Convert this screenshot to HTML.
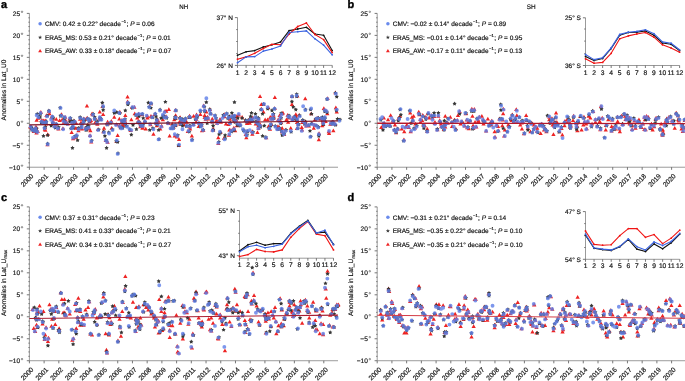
<!DOCTYPE html><html><head><meta charset="utf-8"><style>html,body{margin:0;padding:0;background:#fff;}svg{display:block;will-change:transform;}text{font-family:"Liberation Sans", sans-serif;text-rendering:geometricPrecision;stroke:#111;stroke-width:0.18px;}</style></head><body>
<svg width="685" height="381" viewBox="0 0 685 381">
<rect width="685" height="381" fill="#fff"/>
<text x="0.9" y="7.6" font-size="11" font-weight="bold" fill="#000" style="stroke:#000;stroke-width:0.35px">a</text>
<text x="179.3" y="9.0" font-size="6.6" fill="#111" textLength="8.9" lengthAdjust="spacingAndGlyphs">NH</text>
<text transform="translate(5.6,90.1) rotate(-90)" text-anchor="middle" font-size="6.6" fill="#1a1a1a">Anomalies in Lat_U0</text>
<path d="M29.4,13.4 V167.22 H338.0" fill="none" stroke="#8f8f8f" stroke-width="0.9"/>
<path d="M26.80,167.22H29.4 M28.40,162.83H29.599999999999998 M28.40,158.44H29.599999999999998 M28.40,154.04H29.599999999999998 M28.40,149.64H29.599999999999998 M26.80,145.25H29.4 M28.40,140.85H29.599999999999998 M28.40,136.46H29.599999999999998 M28.40,132.06H29.599999999999998 M28.40,127.67H29.599999999999998 M26.80,123.27H29.4 M28.40,118.88H29.599999999999998 M28.40,114.48H29.599999999999998 M28.40,110.09H29.599999999999998 M28.40,105.69H29.599999999999998 M26.80,101.30H29.4 M28.40,96.91H29.599999999999998 M28.40,92.51H29.599999999999998 M28.40,88.11H29.599999999999998 M28.40,83.72H29.599999999999998 M26.80,79.32H29.4 M28.40,74.93H29.599999999999998 M28.40,70.53H29.599999999999998 M28.40,66.14H29.599999999999998 M28.40,61.74H29.599999999999998 M26.80,57.35H29.4 M28.40,52.95H29.599999999999998 M28.40,48.56H29.599999999999998 M28.40,44.17H29.599999999999998 M28.40,39.77H29.599999999999998 M26.80,35.38H29.4 M28.40,30.98H29.599999999999998 M28.40,26.58H29.599999999999998 M28.40,22.19H29.599999999999998 M28.40,17.80H29.599999999999998 M26.80,13.40H29.4 M29.40,167.22V169.82 M44.12,167.22V169.82 M58.84,167.22V169.82 M73.56,167.22V169.82 M88.28,167.22V169.82 M103.00,167.22V169.82 M117.72,167.22V169.82 M132.44,167.22V169.82 M147.16,167.22V169.82 M161.88,167.22V169.82 M176.60,167.22V169.82 M191.32,167.22V169.82 M206.04,167.22V169.82 M220.76,167.22V169.82 M235.48,167.22V169.82 M250.20,167.22V169.82 M264.92,167.22V169.82 M279.64,167.22V169.82 M294.36,167.22V169.82 M309.08,167.22V169.82 M323.80,167.22V169.82" fill="none" stroke="#555" stroke-width="0.8"/>
<text x="20.10" y="169.53" text-anchor="end" font-size="6.6" fill="#1a1a1a">−10</text>
<circle cx="22.00" cy="165.62" r="0.75" fill="none" stroke="#444" stroke-width="0.6"/>
<text x="20.10" y="147.55" text-anchor="end" font-size="6.6" fill="#1a1a1a">−5</text>
<circle cx="22.00" cy="143.65" r="0.75" fill="none" stroke="#444" stroke-width="0.6"/>
<text x="20.10" y="125.57" text-anchor="end" font-size="6.6" fill="#1a1a1a">0</text>
<circle cx="22.00" cy="121.67" r="0.75" fill="none" stroke="#444" stroke-width="0.6"/>
<text x="20.10" y="103.60" text-anchor="end" font-size="6.6" fill="#1a1a1a">5</text>
<circle cx="22.00" cy="99.70" r="0.75" fill="none" stroke="#444" stroke-width="0.6"/>
<text x="20.10" y="81.62" text-anchor="end" font-size="6.6" fill="#1a1a1a">10</text>
<circle cx="22.00" cy="77.72" r="0.75" fill="none" stroke="#444" stroke-width="0.6"/>
<text x="20.10" y="59.65" text-anchor="end" font-size="6.6" fill="#1a1a1a">15</text>
<circle cx="22.00" cy="55.75" r="0.75" fill="none" stroke="#444" stroke-width="0.6"/>
<text x="20.10" y="37.67" text-anchor="end" font-size="6.6" fill="#1a1a1a">20</text>
<circle cx="22.00" cy="33.77" r="0.75" fill="none" stroke="#444" stroke-width="0.6"/>
<text x="20.10" y="15.70" text-anchor="end" font-size="6.6" fill="#1a1a1a">25</text>
<circle cx="22.00" cy="11.80" r="0.75" fill="none" stroke="#444" stroke-width="0.6"/>
<text transform="translate(34.00,176.62) rotate(-45)" text-anchor="end" font-size="6.7" fill="#1a1a1a">2000</text>
<text transform="translate(48.72,176.62) rotate(-45)" text-anchor="end" font-size="6.7" fill="#1a1a1a">2001</text>
<text transform="translate(63.44,176.62) rotate(-45)" text-anchor="end" font-size="6.7" fill="#1a1a1a">2002</text>
<text transform="translate(78.16,176.62) rotate(-45)" text-anchor="end" font-size="6.7" fill="#1a1a1a">2003</text>
<text transform="translate(92.88,176.62) rotate(-45)" text-anchor="end" font-size="6.7" fill="#1a1a1a">2004</text>
<text transform="translate(107.60,176.62) rotate(-45)" text-anchor="end" font-size="6.7" fill="#1a1a1a">2005</text>
<text transform="translate(122.32,176.62) rotate(-45)" text-anchor="end" font-size="6.7" fill="#1a1a1a">2006</text>
<text transform="translate(137.04,176.62) rotate(-45)" text-anchor="end" font-size="6.7" fill="#1a1a1a">2007</text>
<text transform="translate(151.76,176.62) rotate(-45)" text-anchor="end" font-size="6.7" fill="#1a1a1a">2008</text>
<text transform="translate(166.48,176.62) rotate(-45)" text-anchor="end" font-size="6.7" fill="#1a1a1a">2009</text>
<text transform="translate(181.20,176.62) rotate(-45)" text-anchor="end" font-size="6.7" fill="#1a1a1a">2010</text>
<text transform="translate(195.92,176.62) rotate(-45)" text-anchor="end" font-size="6.7" fill="#1a1a1a">2011</text>
<text transform="translate(210.64,176.62) rotate(-45)" text-anchor="end" font-size="6.7" fill="#1a1a1a">2012</text>
<text transform="translate(225.36,176.62) rotate(-45)" text-anchor="end" font-size="6.7" fill="#1a1a1a">2013</text>
<text transform="translate(240.08,176.62) rotate(-45)" text-anchor="end" font-size="6.7" fill="#1a1a1a">2014</text>
<text transform="translate(254.80,176.62) rotate(-45)" text-anchor="end" font-size="6.7" fill="#1a1a1a">2015</text>
<text transform="translate(269.52,176.62) rotate(-45)" text-anchor="end" font-size="6.7" fill="#1a1a1a">2016</text>
<text transform="translate(284.24,176.62) rotate(-45)" text-anchor="end" font-size="6.7" fill="#1a1a1a">2017</text>
<text transform="translate(298.96,176.62) rotate(-45)" text-anchor="end" font-size="6.7" fill="#1a1a1a">2018</text>
<text transform="translate(313.68,176.62) rotate(-45)" text-anchor="end" font-size="6.7" fill="#1a1a1a">2019</text>
<text transform="translate(328.40,176.62) rotate(-45)" text-anchor="end" font-size="6.7" fill="#1a1a1a">2020</text>
<circle cx="40.10" cy="23.80" r="1.75" fill="rgb(105,138,236)"/>
<text x="44.90" y="26.00" font-size="6.5" fill="#111">CMV: 0.42 ± 0.22° decade<tspan font-size="4.2" dx="0.5" dy="-3.0">−1</tspan><tspan dx="0.3" dy="3.0">; </tspan><tspan font-style="italic">P</tspan> = 0.06</text>
<polygon points="40.1,35.3 40.6,36.7 42.1,36.8 41.0,37.7 41.3,39.1 40.1,38.3 38.9,39.1 39.2,37.7 38.1,36.8 39.6,36.7" fill="rgb(55,55,55)"/>
<text x="44.90" y="39.60" font-size="6.5" fill="#111">ERA5_MS: 0.53 ± 0.21° decade<tspan font-size="4.2" dx="0.5" dy="-3.0">−1</tspan><tspan dx="0.3" dy="3.0">; </tspan><tspan font-style="italic">P</tspan> = 0.01</text>
<polygon points="40.10,48.91 38.15,52.28 42.05,52.28" fill="rgb(238,36,36)"/>
<text x="44.90" y="53.20" font-size="6.5" fill="#111">ERA5_AW: 0.33 ± 0.18° decade<tspan font-size="4.2" dx="0.5" dy="-3.0">−1</tspan><tspan dx="0.3" dy="3.0">; </tspan><tspan font-style="italic">P</tspan> = 0.07</text>
<path d="M34.5,121.8l2.15,-3.74l2.15,3.74zM39.6,122.1l2.15,-3.74l2.15,3.74zM43.0,129.3l2.15,-3.74l2.15,3.74zM45.6,136.1l2.15,-3.74l2.15,3.74zM47.3,115.3l2.15,-3.74l2.15,3.74zM50.7,119.6l2.15,-3.74l2.15,3.74zM54.1,120.7l2.15,-3.74l2.15,3.74zM57.5,122.1l2.15,-3.74l2.15,3.74zM60.1,121.3l2.15,-3.74l2.15,3.74zM61.8,123.8l2.15,-3.74l2.15,3.74zM64.0,123.0l2.15,-3.74l2.15,3.74zM69.5,134.0l2.15,-3.74l2.15,3.74zM73.7,129.8l2.15,-3.74l2.15,3.74zM76.3,132.3l2.15,-3.74l2.15,3.74zM79.7,130.6l2.15,-3.74l2.15,3.74zM84.8,107.6l2.15,-3.74l2.15,3.74zM88.2,132.3l2.15,-3.74l2.15,3.74zM89.9,115.3l2.15,-3.74l2.15,3.74zM93.3,123.8l2.15,-3.74l2.15,3.74zM97.6,113.6l2.15,-3.74l2.15,3.74zM101.0,116.1l2.15,-3.74l2.15,3.74zM101.9,129.8l2.15,-3.74l2.15,3.74zM105.3,123.8l2.15,-3.74l2.15,3.74zM109.5,129.8l2.15,-3.74l2.15,3.74zM112.1,118.7l2.15,-3.74l2.15,3.74zM115.5,137.1l2.15,-3.74l2.15,3.74zM117.2,120.4l2.15,-3.74l2.15,3.74zM119.8,127.2l2.15,-3.74l2.15,3.74zM123.2,117.0l2.15,-3.74l2.15,3.74zM125.4,98.6l2.15,-3.74l2.15,3.74zM129.2,121.3l2.15,-3.74l2.15,3.74zM132.6,115.3l2.15,-3.74l2.15,3.74zM135.1,119.6l2.15,-3.74l2.15,3.74zM140.2,127.2l2.15,-3.74l2.15,3.74zM143.6,130.6l2.15,-3.74l2.15,3.74zM145.3,119.6l2.15,-3.74l2.15,3.74zM148.8,117.8l2.15,-3.74l2.15,3.74zM151.3,135.7l2.15,-3.74l2.15,3.74zM154.7,127.2l2.15,-3.74l2.15,3.74zM158.1,130.6l2.15,-3.74l2.15,3.74zM160.7,121.3l2.15,-3.74l2.15,3.74zM164.1,112.7l2.15,-3.74l2.15,3.74zM166.7,111.0l2.15,-3.74l2.15,3.74zM167.5,137.5l2.15,-3.74l2.15,3.74zM170.1,125.5l2.15,-3.74l2.15,3.74zM172.6,137.5l2.15,-3.74l2.15,3.74zM173.5,117.0l2.15,-3.74l2.15,3.74zM176.9,140.9l2.15,-3.74l2.15,3.74zM179.4,123.8l2.15,-3.74l2.15,3.74zM182.0,126.4l2.15,-3.74l2.15,3.74zM184.6,123.8l2.15,-3.74l2.15,3.74zM188.0,130.6l2.15,-3.74l2.15,3.74zM189.7,137.5l2.15,-3.74l2.15,3.74zM191.4,117.8l2.15,-3.74l2.15,3.74zM193.9,123.8l2.15,-3.74l2.15,3.74zM196.5,128.1l2.15,-3.74l2.15,3.74zM198.2,116.1l2.15,-3.74l2.15,3.74zM199.9,132.3l2.15,-3.74l2.15,3.74zM202.5,117.0l2.15,-3.74l2.15,3.74zM204.2,113.6l2.15,-3.74l2.15,3.74zM205.9,120.4l2.15,-3.74l2.15,3.74zM210.1,120.4l2.15,-3.74l2.15,3.74zM211.0,131.5l2.15,-3.74l2.15,3.74zM214.4,122.1l2.15,-3.74l2.15,3.74zM216.1,139.2l2.15,-3.74l2.15,3.74zM218.7,123.8l2.15,-3.74l2.15,3.74zM223.8,125.5l2.15,-3.74l2.15,3.74zM227.2,131.5l2.15,-3.74l2.15,3.74zM233.2,123.0l2.15,-3.74l2.15,3.74zM234.8,117.8l2.15,-3.74l2.15,3.74zM240.0,118.7l2.15,-3.74l2.15,3.74zM244.2,139.2l2.15,-3.74l2.15,3.74zM247.6,124.7l2.15,-3.74l2.15,3.74zM250.2,135.7l2.15,-3.74l2.15,3.74zM253.6,125.5l2.15,-3.74l2.15,3.74zM255.3,134.0l2.15,-3.74l2.15,3.74zM257.9,97.9l2.15,-3.74l2.15,3.74zM259.2,105.9l2.15,-3.74l2.15,3.74zM261.3,113.6l2.15,-3.74l2.15,3.74zM263.0,121.3l2.15,-3.74l2.15,3.74zM265.5,121.3l2.15,-3.74l2.15,3.74zM266.4,128.1l2.15,-3.74l2.15,3.74zM268.1,118.7l2.15,-3.74l2.15,3.74zM271.5,118.7l2.15,-3.74l2.15,3.74zM272.7,99.1l2.15,-3.74l2.15,3.74zM275.8,128.1l2.15,-3.74l2.15,3.74zM277.5,117.0l2.15,-3.74l2.15,3.74zM280.0,129.8l2.15,-3.74l2.15,3.74zM284.3,121.3l2.15,-3.74l2.15,3.74zM286.0,123.8l2.15,-3.74l2.15,3.74zM288.6,129.8l2.15,-3.74l2.15,3.74zM289.8,105.9l2.15,-3.74l2.15,3.74zM293.7,116.1l2.15,-3.74l2.15,3.74zM296.2,125.5l2.15,-3.74l2.15,3.74zM299.6,128.9l2.15,-3.74l2.15,3.74zM303.1,100.3l2.15,-3.74l2.15,3.74zM303.9,125.5l2.15,-3.74l2.15,3.74zM309.0,115.3l2.15,-3.74l2.15,3.74zM311.6,129.8l2.15,-3.74l2.15,3.74zM316.7,141.2l2.15,-3.74l2.15,3.74zM320.1,127.2l2.15,-3.74l2.15,3.74zM323.5,123.0l2.15,-3.74l2.15,3.74zM325.2,115.3l2.15,-3.74l2.15,3.74zM326.9,134.9l2.15,-3.74l2.15,3.74zM331.2,132.3l2.15,-3.74l2.15,3.74zM333.7,109.3l2.15,-3.74l2.15,3.74zM334.6,113.6l2.15,-3.74l2.15,3.74zM33.6,128.8l2.15,-3.74l2.15,3.74zM28.2,128.4l2.15,-3.74l2.15,3.74zM29.3,128.9l2.15,-3.74l2.15,3.74zM34.3,134.6l2.15,-3.74l2.15,3.74zM34.3,129.1l2.15,-3.74l2.15,3.74zM41.5,122.2l2.15,-3.74l2.15,3.74zM43.2,131.7l2.15,-3.74l2.15,3.74zM49.4,118.7l2.15,-3.74l2.15,3.74zM44.2,125.5l2.15,-3.74l2.15,3.74zM70.9,128.8l2.15,-3.74l2.15,3.74zM62.6,122.1l2.15,-3.74l2.15,3.74zM68.7,122.4l2.15,-3.74l2.15,3.74zM74.0,124.8l2.15,-3.74l2.15,3.74zM78.8,124.2l2.15,-3.74l2.15,3.74zM82.9,121.0l2.15,-3.74l2.15,3.74zM84.9,130.4l2.15,-3.74l2.15,3.74zM85.8,129.1l2.15,-3.74l2.15,3.74zM98.0,120.9l2.15,-3.74l2.15,3.74zM88.8,121.9l2.15,-3.74l2.15,3.74zM105.5,123.6l2.15,-3.74l2.15,3.74zM121.1,127.3l2.15,-3.74l2.15,3.74zM120.9,122.7l2.15,-3.74l2.15,3.74zM123.2,123.5l2.15,-3.74l2.15,3.74zM118.8,129.0l2.15,-3.74l2.15,3.74zM138.4,128.3l2.15,-3.74l2.15,3.74zM136.1,123.0l2.15,-3.74l2.15,3.74zM140.3,129.7l2.15,-3.74l2.15,3.74zM138.0,124.6l2.15,-3.74l2.15,3.74zM156.0,122.4l2.15,-3.74l2.15,3.74zM154.7,124.7l2.15,-3.74l2.15,3.74zM173.7,126.4l2.15,-3.74l2.15,3.74zM162.1,118.2l2.15,-3.74l2.15,3.74zM172.1,121.3l2.15,-3.74l2.15,3.74zM171.5,128.7l2.15,-3.74l2.15,3.74zM187.4,117.5l2.15,-3.74l2.15,3.74zM179.0,123.3l2.15,-3.74l2.15,3.74zM177.3,123.6l2.15,-3.74l2.15,3.74zM202.5,118.9l2.15,-3.74l2.15,3.74zM199.3,126.7l2.15,-3.74l2.15,3.74zM217.8,121.0l2.15,-3.74l2.15,3.74zM211.0,130.2l2.15,-3.74l2.15,3.74zM222.2,118.3l2.15,-3.74l2.15,3.74zM233.0,132.2l2.15,-3.74l2.15,3.74zM227.7,120.7l2.15,-3.74l2.15,3.74zM232.1,121.6l2.15,-3.74l2.15,3.74zM226.4,126.1l2.15,-3.74l2.15,3.74zM232.8,123.3l2.15,-3.74l2.15,3.74zM247.8,122.9l2.15,-3.74l2.15,3.74zM234.8,127.2l2.15,-3.74l2.15,3.74zM244.9,125.1l2.15,-3.74l2.15,3.74zM243.3,121.9l2.15,-3.74l2.15,3.74zM250.6,119.3l2.15,-3.74l2.15,3.74zM248.9,121.7l2.15,-3.74l2.15,3.74zM256.2,127.5l2.15,-3.74l2.15,3.74zM255.5,121.8l2.15,-3.74l2.15,3.74zM277.1,128.9l2.15,-3.74l2.15,3.74zM269.6,120.6l2.15,-3.74l2.15,3.74zM269.2,125.9l2.15,-3.74l2.15,3.74zM291.1,119.1l2.15,-3.74l2.15,3.74zM280.8,114.6l2.15,-3.74l2.15,3.74zM278.2,122.2l2.15,-3.74l2.15,3.74zM303.3,125.6l2.15,-3.74l2.15,3.74zM300.2,124.1l2.15,-3.74l2.15,3.74zM293.9,118.4l2.15,-3.74l2.15,3.74zM294.8,124.0l2.15,-3.74l2.15,3.74zM316.2,119.7l2.15,-3.74l2.15,3.74zM321.1,126.1l2.15,-3.74l2.15,3.74zM312.8,121.3l2.15,-3.74l2.15,3.74zM329.3,124.1l2.15,-3.74l2.15,3.74zM323.1,122.5l2.15,-3.74l2.15,3.74zM321.7,110.1l2.15,-3.74l2.15,3.74zM29.6,130.2l2.15,-3.74l2.15,3.74zM35.6,133.0l2.15,-3.74l2.15,3.74zM33.5,130.2l2.15,-3.74l2.15,3.74zM40.1,123.4l2.15,-3.74l2.15,3.74zM42.7,130.7l2.15,-3.74l2.15,3.74zM43.7,122.3l2.15,-3.74l2.15,3.74zM72.1,122.6l2.15,-3.74l2.15,3.74zM79.7,125.2l2.15,-3.74l2.15,3.74zM81.7,120.2l2.15,-3.74l2.15,3.74zM83.7,129.8l2.15,-3.74l2.15,3.74zM87.1,130.1l2.15,-3.74l2.15,3.74zM97.7,120.9l2.15,-3.74l2.15,3.74zM88.3,122.2l2.15,-3.74l2.15,3.74zM105.4,125.7l2.15,-3.74l2.15,3.74zM119.8,121.7l2.15,-3.74l2.15,3.74zM122.6,124.6l2.15,-3.74l2.15,3.74zM117.2,127.3l2.15,-3.74l2.15,3.74zM138.3,127.6l2.15,-3.74l2.15,3.74zM136.6,123.9l2.15,-3.74l2.15,3.74zM140.5,128.3l2.15,-3.74l2.15,3.74zM138.4,125.5l2.15,-3.74l2.15,3.74zM155.3,120.9l2.15,-3.74l2.15,3.74zM154.0,124.4l2.15,-3.74l2.15,3.74zM172.6,126.9l2.15,-3.74l2.15,3.74zM161.8,118.3l2.15,-3.74l2.15,3.74zM173.6,119.7l2.15,-3.74l2.15,3.74zM187.2,119.1l2.15,-3.74l2.15,3.74zM179.1,122.5l2.15,-3.74l2.15,3.74zM177.9,125.6l2.15,-3.74l2.15,3.74zM203.5,120.7l2.15,-3.74l2.15,3.74zM218.3,121.6l2.15,-3.74l2.15,3.74zM210.4,131.4l2.15,-3.74l2.15,3.74zM222.1,116.1l2.15,-3.74l2.15,3.74zM231.7,129.6l2.15,-3.74l2.15,3.74zM227.0,118.4l2.15,-3.74l2.15,3.74zM231.7,121.2l2.15,-3.74l2.15,3.74zM234.1,121.5l2.15,-3.74l2.15,3.74zM247.9,122.2l2.15,-3.74l2.15,3.74zM244.7,123.3l2.15,-3.74l2.15,3.74zM249.7,122.0l2.15,-3.74l2.15,3.74zM247.8,120.1l2.15,-3.74l2.15,3.74zM255.5,124.7l2.15,-3.74l2.15,3.74zM256.6,120.4l2.15,-3.74l2.15,3.74zM276.8,130.6l2.15,-3.74l2.15,3.74zM271.4,120.1l2.15,-3.74l2.15,3.74zM290.7,120.4l2.15,-3.74l2.15,3.74zM280.0,115.3l2.15,-3.74l2.15,3.74zM279.0,124.3l2.15,-3.74l2.15,3.74zM303.4,123.3l2.15,-3.74l2.15,3.74zM294.9,121.5l2.15,-3.74l2.15,3.74zM315.3,119.9l2.15,-3.74l2.15,3.74zM320.7,123.5l2.15,-3.74l2.15,3.74zM314.6,120.0l2.15,-3.74l2.15,3.74zM331.2,123.6l2.15,-3.74l2.15,3.74zM321.8,120.5l2.15,-3.74l2.15,3.74zM45.3,146.3l2.15,-3.74l2.15,3.74zM31.6,133.1l2.15,-3.74l2.15,3.74zM36.3,119.7l2.15,-3.74l2.15,3.74zM38.7,113.8l2.15,-3.74l2.15,3.74zM40.0,122.2l2.15,-3.74l2.15,3.74zM41.6,124.1l2.15,-3.74l2.15,3.74zM42.8,122.8l2.15,-3.74l2.15,3.74zM44.3,117.0l2.15,-3.74l2.15,3.74zM46.9,112.7l2.15,-3.74l2.15,3.74zM50.9,123.0l2.15,-3.74l2.15,3.74zM52.6,127.2l2.15,-3.74l2.15,3.74zM53.6,125.9l2.15,-3.74l2.15,3.74zM56.3,130.4l2.15,-3.74l2.15,3.74zM59.4,115.9l2.15,-3.74l2.15,3.74zM60.8,129.9l2.15,-3.74l2.15,3.74zM63.1,118.7l2.15,-3.74l2.15,3.74zM63.1,123.7l2.15,-3.74l2.15,3.74zM65.6,125.6l2.15,-3.74l2.15,3.74zM67.4,120.5l2.15,-3.74l2.15,3.74zM70.2,128.7l2.15,-3.74l2.15,3.74zM71.0,140.3l2.15,-3.74l2.15,3.74zM73.2,139.0l2.15,-3.74l2.15,3.74zM74.1,137.1l2.15,-3.74l2.15,3.74zM76.2,130.1l2.15,-3.74l2.15,3.74zM78.0,120.7l2.15,-3.74l2.15,3.74zM83.3,129.5l2.15,-3.74l2.15,3.74zM85.0,119.5l2.15,-3.74l2.15,3.74zM87.6,122.9l2.15,-3.74l2.15,3.74zM87.9,137.1l2.15,-3.74l2.15,3.74zM89.1,143.5l2.15,-3.74l2.15,3.74zM90.5,116.3l2.15,-3.74l2.15,3.74zM93.0,119.8l2.15,-3.74l2.15,3.74zM95.2,125.7l2.15,-3.74l2.15,3.74zM95.9,131.1l2.15,-3.74l2.15,3.74zM97.4,119.4l2.15,-3.74l2.15,3.74zM100.4,108.1l2.15,-3.74l2.15,3.74zM101.2,133.2l2.15,-3.74l2.15,3.74zM103.6,142.0l2.15,-3.74l2.15,3.74zM105.5,143.8l2.15,-3.74l2.15,3.74zM109.2,122.8l2.15,-3.74l2.15,3.74zM114.5,126.0l2.15,-3.74l2.15,3.74zM114.3,142.8l2.15,-3.74l2.15,3.74zM117.7,113.4l2.15,-3.74l2.15,3.74zM118.6,129.3l2.15,-3.74l2.15,3.74zM120.0,123.1l2.15,-3.74l2.15,3.74zM122.5,121.3l2.15,-3.74l2.15,3.74zM125.4,103.3l2.15,-3.74l2.15,3.74zM128.5,132.1l2.15,-3.74l2.15,3.74zM129.9,109.1l2.15,-3.74l2.15,3.74zM132.2,108.7l2.15,-3.74l2.15,3.74zM136.3,115.5l2.15,-3.74l2.15,3.74zM137.4,123.5l2.15,-3.74l2.15,3.74zM139.9,116.3l2.15,-3.74l2.15,3.74zM142.5,122.7l2.15,-3.74l2.15,3.74zM145.1,117.6l2.15,-3.74l2.15,3.74zM148.7,105.2l2.15,-3.74l2.15,3.74zM148.3,126.2l2.15,-3.74l2.15,3.74zM149.5,118.4l2.15,-3.74l2.15,3.74zM152.6,116.1l2.15,-3.74l2.15,3.74zM155.2,125.4l2.15,-3.74l2.15,3.74zM159.5,127.6l2.15,-3.74l2.15,3.74zM162.9,112.8l2.15,-3.74l2.15,3.74zM163.9,117.9l2.15,-3.74l2.15,3.74zM166.4,124.9l2.15,-3.74l2.15,3.74zM170.3,129.5l2.15,-3.74l2.15,3.74zM173.3,111.8l2.15,-3.74l2.15,3.74zM174.8,138.4l2.15,-3.74l2.15,3.74zM176.7,147.1l2.15,-3.74l2.15,3.74zM178.0,118.9l2.15,-3.74l2.15,3.74zM183.1,121.4l2.15,-3.74l2.15,3.74zM185.7,133.1l2.15,-3.74l2.15,3.74zM187.6,128.4l2.15,-3.74l2.15,3.74zM191.3,126.1l2.15,-3.74l2.15,3.74zM194.3,120.7l2.15,-3.74l2.15,3.74zM194.4,116.2l2.15,-3.74l2.15,3.74zM199.1,126.1l2.15,-3.74l2.15,3.74zM201.2,131.8l2.15,-3.74l2.15,3.74zM201.5,107.2l2.15,-3.74l2.15,3.74zM202.8,112.0l2.15,-3.74l2.15,3.74zM205.5,118.5l2.15,-3.74l2.15,3.74zM207.8,110.9l2.15,-3.74l2.15,3.74zM208.5,114.9l2.15,-3.74l2.15,3.74zM210.4,123.4l2.15,-3.74l2.15,3.74zM214.9,124.8l2.15,-3.74l2.15,3.74zM216.2,145.0l2.15,-3.74l2.15,3.74zM218.4,133.8l2.15,-3.74l2.15,3.74zM221.8,139.8l2.15,-3.74l2.15,3.74zM226.8,136.7l2.15,-3.74l2.15,3.74zM228.8,131.8l2.15,-3.74l2.15,3.74zM230.2,117.4l2.15,-3.74l2.15,3.74zM232.9,117.9l2.15,-3.74l2.15,3.74zM236.7,116.5l2.15,-3.74l2.15,3.74zM237.7,125.6l2.15,-3.74l2.15,3.74zM243.6,136.1l2.15,-3.74l2.15,3.74zM245.1,132.7l2.15,-3.74l2.15,3.74zM250.1,133.1l2.15,-3.74l2.15,3.74zM254.2,123.0l2.15,-3.74l2.15,3.74zM256.4,130.0l2.15,-3.74l2.15,3.74zM258.0,126.1l2.15,-3.74l2.15,3.74zM259.2,110.4l2.15,-3.74l2.15,3.74zM261.5,105.7l2.15,-3.74l2.15,3.74zM264.1,139.2l2.15,-3.74l2.15,3.74zM266.2,109.2l2.15,-3.74l2.15,3.74zM267.9,130.8l2.15,-3.74l2.15,3.74zM268.9,119.6l2.15,-3.74l2.15,3.74zM271.3,116.5l2.15,-3.74l2.15,3.74zM272.6,110.0l2.15,-3.74l2.15,3.74zM275.6,129.9l2.15,-3.74l2.15,3.74zM276.0,121.2l2.15,-3.74l2.15,3.74zM280.0,133.5l2.15,-3.74l2.15,3.74zM282.0,135.9l2.15,-3.74l2.15,3.74zM283.2,131.6l2.15,-3.74l2.15,3.74zM285.5,116.7l2.15,-3.74l2.15,3.74zM287.0,119.4l2.15,-3.74l2.15,3.74zM289.8,97.9l2.15,-3.74l2.15,3.74zM295.2,97.5l2.15,-3.74l2.15,3.74zM294.8,130.1l2.15,-3.74l2.15,3.74zM297.0,116.8l2.15,-3.74l2.15,3.74zM299.9,131.6l2.15,-3.74l2.15,3.74zM304.1,127.5l2.15,-3.74l2.15,3.74zM306.8,127.4l2.15,-3.74l2.15,3.74zM309.8,124.7l2.15,-3.74l2.15,3.74zM312.6,126.7l2.15,-3.74l2.15,3.74zM316.9,135.1l2.15,-3.74l2.15,3.74zM318.7,120.5l2.15,-3.74l2.15,3.74zM320.5,122.1l2.15,-3.74l2.15,3.74zM324.0,112.6l2.15,-3.74l2.15,3.74zM325.5,99.9l2.15,-3.74l2.15,3.74zM326.6,133.3l2.15,-3.74l2.15,3.74zM328.2,125.7l2.15,-3.74l2.15,3.74zM333.2,126.1l2.15,-3.74l2.15,3.74zM333.2,94.3l2.15,-3.74l2.15,3.74z" fill="rgb(238,36,36)"/>
<path d="M33.3,127.9L34.0,129.1L35.4,129.4L34.4,130.4L34.6,131.8L33.3,131.3L32.0,131.8L32.1,130.4L31.2,129.4L32.6,129.1zM37.2,111.7L37.9,112.9L39.3,113.2L38.3,114.2L38.5,115.7L37.2,115.1L35.9,115.7L36.0,114.2L35.1,113.2L36.5,112.9zM40.1,115.1L40.8,116.3L42.2,116.6L41.2,117.7L41.4,119.1L40.1,118.5L38.8,119.1L38.9,117.7L38.0,116.6L39.4,116.3zM43.5,133.8L44.2,135.1L45.6,135.4L44.6,136.4L44.8,137.8L43.5,137.2L42.2,137.8L42.3,136.4L41.4,135.4L42.8,135.1zM47.8,133.0L48.5,134.2L49.8,134.5L48.9,135.6L49.0,137.0L47.8,136.4L46.5,137.0L46.6,135.6L45.7,134.5L47.0,134.2zM51.2,123.6L51.9,124.8L53.3,125.1L52.3,126.2L52.5,127.6L51.2,127.0L49.9,127.6L50.0,126.2L49.1,125.1L50.5,124.8zM60.5,113.4L61.3,114.6L62.6,114.9L61.7,115.9L61.8,117.4L60.5,116.8L59.2,117.4L59.4,115.9L58.5,114.9L59.8,114.6zM69.9,119.3L70.6,120.6L72.0,120.9L71.1,121.9L71.2,123.3L69.9,122.8L68.6,123.3L68.8,121.9L67.8,120.9L69.2,120.6zM72.5,145.8L73.2,147.0L74.6,147.3L73.6,148.3L73.8,149.8L72.5,149.2L71.2,149.8L71.3,148.3L70.4,147.3L71.8,147.0zM77.6,138.1L78.3,139.3L79.7,139.6L78.7,140.7L78.9,142.1L77.6,141.5L76.3,142.1L76.4,140.7L75.5,139.6L76.9,139.3zM80.2,115.1L80.9,116.3L82.2,116.6L81.3,117.7L81.4,119.1L80.2,118.5L78.9,119.1L79.0,117.7L78.1,116.6L79.4,116.3zM87.8,122.8L88.5,124.0L89.9,124.3L89.0,125.3L89.1,126.7L87.8,126.2L86.5,126.7L86.7,125.3L85.7,124.3L87.1,124.0zM94.6,115.1L95.4,116.3L96.7,116.6L95.8,117.7L95.9,119.1L94.6,118.5L93.4,119.1L93.5,117.7L92.6,116.6L93.9,116.3zM97.2,119.3L97.9,120.6L99.3,120.9L98.4,121.9L98.5,123.3L97.2,122.8L95.9,123.3L96.1,121.9L95.1,120.9L96.5,120.6zM102.3,100.6L103.0,101.8L104.4,102.1L103.5,103.2L103.6,104.6L102.3,104.0L101.0,104.6L101.2,103.2L100.2,102.1L101.6,101.8zM103.2,107.9L103.9,109.1L105.3,109.4L104.3,110.5L104.5,111.9L103.2,111.3L101.9,111.9L102.0,110.5L101.1,109.4L102.5,109.1zM104.9,133.8L105.6,135.1L107.0,135.4L106.0,136.4L106.2,137.8L104.9,137.2L103.6,137.8L103.7,136.4L102.8,135.4L104.2,135.1zM106.6,145.8L107.3,147.0L108.7,147.3L107.7,148.3L107.9,149.8L106.6,149.2L105.3,149.8L105.4,148.3L104.5,147.3L105.9,147.0zM114.3,110.8L115.0,112.0L116.3,112.3L115.4,113.4L115.5,114.8L114.3,114.2L113.0,114.8L113.1,113.4L112.2,112.3L113.5,112.0zM116.8,110.0L117.5,111.2L118.9,111.5L118.0,112.5L118.1,113.9L116.8,113.4L115.5,113.9L115.7,112.5L114.7,111.5L116.1,111.2zM117.7,139.8L118.4,141.0L119.8,141.3L118.8,142.4L119.0,143.8L117.7,143.2L116.4,143.8L116.5,142.4L115.6,141.3L117.0,141.0zM125.3,108.3L126.0,109.5L127.4,109.8L126.5,110.8L126.6,112.2L125.3,111.7L124.0,112.2L124.2,110.8L123.2,109.8L124.6,109.5zM127.9,102.3L128.6,103.5L130.0,103.8L129.0,104.9L129.2,106.3L127.9,105.7L126.6,106.3L126.7,104.9L125.8,103.8L127.2,103.5zM131.3,132.5L132.0,133.7L133.4,134.0L132.5,135.0L132.6,136.5L131.3,135.9L130.0,136.5L130.2,135.0L129.2,134.0L130.6,133.7zM133.0,122.8L133.7,124.0L135.1,124.3L134.2,125.3L134.3,126.7L133.0,126.2L131.7,126.7L131.8,125.3L130.9,124.3L132.3,124.0zM136.4,127.0L137.1,128.2L138.5,128.5L137.6,129.6L137.7,131.0L136.4,130.4L135.1,131.0L135.3,129.6L134.3,128.5L135.7,128.2zM139.0,114.2L139.7,115.4L141.1,115.7L140.1,116.8L140.3,118.2L139.0,117.6L137.7,118.2L137.8,116.8L136.9,115.7L138.3,115.4zM143.2,115.9L143.9,117.2L145.3,117.5L144.4,118.5L144.5,119.9L143.2,119.3L141.9,119.9L142.1,118.5L141.1,117.5L142.5,117.2zM148.3,100.6L149.1,101.8L150.4,102.1L149.5,103.2L149.6,104.6L148.3,104.0L147.1,104.6L147.2,103.2L146.3,102.1L147.6,101.8zM150.9,105.7L151.6,106.9L153.0,107.2L152.1,108.3L152.2,109.7L150.9,109.1L149.6,109.7L149.8,108.3L148.8,107.2L150.2,106.9zM149.7,127.9L150.4,129.1L151.8,129.4L150.9,130.4L151.0,131.8L149.7,131.3L148.4,131.8L148.6,130.4L147.6,129.4L149.0,129.1zM156.0,114.2L156.7,115.4L158.1,115.7L157.2,116.8L157.3,118.2L156.0,117.6L154.7,118.2L154.9,116.8L153.9,115.7L155.3,115.4zM158.6,127.9L159.3,129.1L160.7,129.4L159.7,130.4L159.9,131.8L158.6,131.3L157.3,131.8L157.4,130.4L156.5,129.4L157.9,129.1zM161.1,115.9L161.8,117.2L163.2,117.5L162.3,118.5L162.4,119.9L161.1,119.3L159.8,119.9L160.0,118.5L159.0,117.5L160.4,117.2zM165.4,99.7L166.1,101.0L167.5,101.3L166.5,102.3L166.7,103.7L165.4,103.1L164.1,103.7L164.2,102.3L163.3,101.3L164.7,101.0zM175.6,115.9L176.3,117.2L177.7,117.5L176.8,118.5L176.9,119.9L175.6,119.3L174.3,119.9L174.5,118.5L173.5,117.5L174.9,117.2zM182.4,123.6L183.2,124.8L184.5,125.1L183.6,126.2L183.7,127.6L182.4,127.0L181.2,127.6L181.3,126.2L180.4,125.1L181.7,124.8zM189.3,129.6L190.0,130.8L191.4,131.1L190.4,132.1L190.6,133.6L189.3,133.0L188.0,133.6L188.1,132.1L187.2,131.1L188.6,130.8zM196.9,115.1L197.6,116.3L199.0,116.6L198.1,117.7L198.2,119.1L196.9,118.5L195.6,119.1L195.8,117.7L194.8,116.6L196.2,116.3zM204.6,109.1L205.3,110.3L206.7,110.6L205.8,111.7L205.9,113.1L204.6,112.5L203.3,113.1L203.5,111.7L202.5,110.6L203.9,110.3zM206.3,100.1L207.0,101.3L208.4,101.6L207.5,102.7L207.6,104.1L206.3,103.5L205.0,104.1L205.2,102.7L204.2,101.6L205.6,101.3zM207.2,121.0L207.9,122.3L209.3,122.6L208.3,123.6L208.5,125.0L207.2,124.5L205.9,125.0L206.0,123.6L205.1,122.6L206.5,122.3zM213.1,123.6L213.8,124.8L215.2,125.1L214.3,126.2L214.4,127.6L213.1,127.0L211.8,127.6L212.0,126.2L211.0,125.1L212.4,124.8zM219.1,132.1L219.8,133.4L221.2,133.7L220.3,134.7L220.4,136.1L219.1,135.5L217.8,136.1L218.0,134.7L217.0,133.7L218.4,133.4zM225.1,133.0L225.8,134.2L227.2,134.5L226.2,135.6L226.4,137.0L225.1,136.4L223.8,137.0L223.9,135.6L223.0,134.5L224.4,134.2zM231.9,110.8L232.6,112.0L234.0,112.3L233.0,113.4L233.2,114.8L231.9,114.2L230.6,114.8L230.7,113.4L229.8,112.3L231.2,112.0zM234.4,100.1L235.2,101.3L236.5,101.6L235.6,102.7L235.7,104.1L234.4,103.5L233.2,104.1L233.3,102.7L232.4,101.6L233.7,101.3zM237.9,115.9L238.6,117.2L239.9,117.5L239.0,118.5L239.1,119.9L237.9,119.3L236.6,119.9L236.7,118.5L235.8,117.5L237.1,117.2zM242.1,115.9L242.8,117.2L244.2,117.5L243.3,118.5L243.4,119.9L242.1,119.3L240.8,119.9L241.0,118.5L240.0,117.5L241.4,117.2zM247.2,118.5L247.9,119.7L249.3,120.0L248.4,121.1L248.5,122.5L247.2,121.9L245.9,122.5L246.1,121.1L245.1,120.0L246.5,119.7zM250.6,114.2L251.4,115.4L252.7,115.7L251.8,116.8L251.9,118.2L250.6,117.6L249.3,118.2L249.5,116.8L248.5,115.7L249.9,115.4zM251.5,110.8L252.2,112.0L253.6,112.3L252.6,113.4L252.8,114.8L251.5,114.2L250.2,114.8L250.3,113.4L249.4,112.3L250.8,112.0zM255.4,111.7L256.1,112.9L257.5,113.2L256.6,114.2L256.7,115.7L255.4,115.1L254.1,115.7L254.3,114.2L253.3,113.2L254.7,112.9zM259.2,122.8L259.9,124.0L261.3,124.3L260.3,125.3L260.5,126.7L259.2,126.2L257.9,126.7L258.0,125.3L257.1,124.3L258.5,124.0zM262.6,111.7L263.3,112.9L264.7,113.2L263.7,114.2L263.9,115.7L262.6,115.1L261.3,115.7L261.4,114.2L260.5,113.2L261.9,112.9zM262.6,133.8L263.3,135.1L264.7,135.4L263.7,136.4L263.9,137.8L262.6,137.2L261.3,137.8L261.4,136.4L260.5,135.4L261.9,135.1zM264.3,123.6L265.0,124.8L266.4,125.1L265.4,126.2L265.6,127.6L264.3,127.0L263.0,127.6L263.1,126.2L262.2,125.1L263.6,124.8zM267.7,106.6L268.4,107.8L269.8,108.1L268.8,109.1L269.0,110.5L267.7,110.0L266.4,110.5L266.5,109.1L265.6,108.1L267.0,107.8zM272.0,108.3L272.7,109.5L274.0,109.8L273.1,110.8L273.2,112.2L272.0,111.7L270.7,112.2L270.8,110.8L269.9,109.8L271.2,109.5zM277.9,127.0L278.6,128.2L280.0,128.5L279.1,129.6L279.2,131.0L277.9,130.4L276.6,131.0L276.8,129.6L275.8,128.5L277.2,128.2zM282.2,133.0L282.9,134.2L284.3,134.5L283.3,135.6L283.5,137.0L282.2,136.4L280.9,137.0L281.0,135.6L280.1,134.5L281.5,134.2zM289.0,113.4L289.7,114.6L291.1,114.9L290.2,115.9L290.3,117.4L289.0,116.8L287.7,117.4L287.9,115.9L286.9,114.9L288.3,114.6zM291.9,99.4L292.6,100.6L294.0,100.9L293.1,102.0L293.2,103.4L291.9,102.8L290.6,103.4L290.8,102.0L289.8,100.9L291.2,100.6zM293.3,104.9L294.0,106.1L295.4,106.4L294.4,107.4L294.6,108.8L293.3,108.3L292.0,108.8L292.1,107.4L291.2,106.4L292.6,106.1zM295.8,107.4L296.5,108.6L297.9,108.9L297.0,110.0L297.1,111.4L295.8,110.8L294.5,111.4L294.7,110.0L293.7,108.9L295.1,108.6zM296.7,92.1L297.4,93.3L298.8,93.6L297.8,94.6L298.0,96.0L296.7,95.5L295.4,96.0L295.5,94.6L294.6,93.6L296.0,93.3zM298.4,121.9L299.1,123.1L300.5,123.4L299.5,124.5L299.7,125.9L298.4,125.3L297.1,125.9L297.2,124.5L296.3,123.4L297.7,123.1zM310.0,128.7L310.7,129.9L312.1,130.2L311.1,131.3L311.3,132.7L310.0,132.1L308.7,132.7L308.8,131.3L307.9,130.2L309.3,129.9zM311.5,111.7L312.2,112.9L313.6,113.2L312.7,114.2L312.8,115.7L311.5,115.1L310.2,115.7L310.4,114.2L309.4,113.2L310.8,112.9zM318.8,133.8L319.6,135.1L320.9,135.4L320.0,136.4L320.1,137.8L318.8,137.2L317.5,137.8L317.7,136.4L316.7,135.4L318.1,135.1zM322.3,115.1L323.0,116.3L324.3,116.6L323.4,117.7L323.5,119.1L322.3,118.5L321.0,119.1L321.1,117.7L320.2,116.6L321.5,116.3zM336.7,94.6L337.5,95.8L338.8,96.1L337.9,97.2L338.0,98.6L336.7,98.0L335.5,98.6L335.6,97.2L334.7,96.1L336.0,95.8zM337.6,116.8L338.3,118.0L339.7,118.3L338.7,119.4L338.9,120.8L337.6,120.2L336.3,120.8L336.4,119.4L335.5,118.3L336.9,118.0zM36.4,126.3L37.1,127.5L38.5,127.8L37.6,128.9L37.7,130.3L36.4,129.7L35.1,130.3L35.3,128.9L34.3,127.8L35.7,127.5zM31.2,125.0L31.9,126.2L33.3,126.5L32.4,127.6L32.5,129.0L31.2,128.4L29.9,129.0L30.1,127.6L29.1,126.5L30.5,126.2zM31.9,127.8L32.6,129.0L34.0,129.3L33.1,130.3L33.2,131.8L31.9,131.2L30.6,131.8L30.8,130.3L29.8,129.3L31.2,129.0zM36.6,129.1L37.3,130.3L38.6,130.6L37.7,131.6L37.8,133.1L36.6,132.5L35.3,133.1L35.4,131.6L34.5,130.6L35.8,130.3zM35.8,127.1L36.5,128.3L37.9,128.6L37.0,129.6L37.1,131.0L35.8,130.5L34.5,131.0L34.7,129.6L33.7,128.6L35.1,128.3zM41.5,120.4L42.3,121.6L43.6,121.9L42.7,123.0L42.8,124.4L41.5,123.8L40.3,124.4L40.4,123.0L39.5,121.9L40.8,121.6zM45.3,124.7L46.0,125.9L47.4,126.2L46.5,127.2L46.6,128.6L45.3,128.1L44.0,128.6L44.1,127.2L43.2,126.2L44.6,125.9zM53.2,115.9L53.9,117.1L55.2,117.4L54.3,118.5L54.4,119.9L53.2,119.3L51.9,119.9L52.0,118.5L51.1,117.4L52.4,117.1zM46.4,119.5L47.2,120.7L48.5,121.0L47.6,122.1L47.7,123.5L46.4,122.9L45.1,123.5L45.3,122.1L44.3,121.0L45.7,120.7zM73.2,125.9L73.9,127.1L75.3,127.4L74.3,128.5L74.5,129.9L73.2,129.3L71.9,129.9L72.0,128.5L71.1,127.4L72.5,127.1zM64.3,118.0L65.0,119.2L66.4,119.5L65.4,120.5L65.6,121.9L64.3,121.4L63.0,121.9L63.1,120.5L62.2,119.5L63.6,119.2zM72.0,119.1L72.7,120.3L74.1,120.6L73.2,121.7L73.3,123.1L72.0,122.5L70.7,123.1L70.9,121.7L69.9,120.6L71.3,120.3zM73.9,118.6L74.7,119.9L76.0,120.2L75.1,121.2L75.2,122.6L73.9,122.1L72.6,122.6L72.8,121.2L71.8,120.2L73.2,119.9zM82.0,121.9L82.7,123.1L84.1,123.4L83.1,124.5L83.3,125.9L82.0,125.3L80.7,125.9L80.8,124.5L79.9,123.4L81.3,123.1zM84.4,118.0L85.1,119.2L86.5,119.5L85.6,120.6L85.7,122.0L84.4,121.4L83.1,122.0L83.3,120.6L82.3,119.5L83.7,119.2zM85.9,127.8L86.6,129.0L88.0,129.3L87.1,130.4L87.2,131.8L85.9,131.2L84.6,131.8L84.8,130.4L83.8,129.3L85.2,129.0zM88.7,124.1L89.4,125.3L90.8,125.6L89.9,126.6L90.0,128.0L88.7,127.5L87.4,128.0L87.6,126.6L86.6,125.6L88.0,125.3zM100.5,117.0L101.2,118.2L102.5,118.5L101.6,119.6L101.7,121.0L100.5,120.4L99.2,121.0L99.3,119.6L98.4,118.5L99.7,118.2zM89.2,118.8L89.9,120.0L91.3,120.3L90.4,121.4L90.5,122.8L89.2,122.2L87.9,122.8L88.1,121.4L87.1,120.3L88.5,120.0zM107.2,122.6L107.9,123.8L109.3,124.1L108.3,125.2L108.5,126.6L107.2,126.0L105.9,126.6L106.0,125.2L105.1,124.1L106.5,123.8zM122.8,125.7L123.5,126.9L124.9,127.2L124.0,128.3L124.1,129.7L122.8,129.1L121.5,129.7L121.7,128.3L120.7,127.2L122.1,126.9zM122.2,118.8L122.9,120.0L124.3,120.3L123.4,121.3L123.5,122.7L122.2,122.2L120.9,122.7L121.1,121.3L120.1,120.3L121.5,120.0zM125.1,121.7L125.8,122.9L127.2,123.2L126.3,124.3L126.4,125.7L125.1,125.1L123.8,125.7L124.0,124.3L123.0,123.2L124.4,122.9zM120.2,125.2L120.9,126.5L122.3,126.8L121.4,127.8L121.5,129.2L120.2,128.6L118.9,129.2L119.1,127.8L118.1,126.8L119.5,126.5zM141.0,123.6L141.7,124.8L143.1,125.1L142.2,126.1L142.3,127.5L141.0,127.0L139.7,127.5L139.9,126.1L138.9,125.1L140.3,124.8zM138.2,120.2L138.9,121.5L140.3,121.8L139.4,122.8L139.5,124.2L138.2,123.7L136.9,124.2L137.1,122.8L136.1,121.8L137.5,121.5zM143.0,122.9L143.7,124.1L145.1,124.4L144.1,125.5L144.3,126.9L143.0,126.3L141.7,126.9L141.8,125.5L140.9,124.4L142.3,124.1zM140.9,122.9L141.6,124.1L143.0,124.4L142.0,125.4L142.2,126.8L140.9,126.3L139.6,126.8L139.7,125.4L138.8,124.4L140.2,124.1zM156.5,117.3L157.2,118.5L158.6,118.8L157.7,119.9L157.8,121.3L156.5,120.7L155.2,121.3L155.4,119.9L154.4,118.8L155.8,118.5zM156.3,121.2L157.0,122.4L158.4,122.7L157.5,123.7L157.6,125.1L156.3,124.6L155.0,125.1L155.2,123.7L154.2,122.7L155.6,122.4zM175.7,122.9L176.4,124.1L177.8,124.4L176.8,125.5L177.0,126.9L175.7,126.3L174.4,126.9L174.5,125.5L173.6,124.4L175.0,124.1zM163.5,115.0L164.2,116.2L165.6,116.5L164.7,117.6L164.8,119.0L163.5,118.4L162.2,119.0L162.4,117.6L161.4,116.5L162.8,116.2zM175.0,116.3L175.7,117.5L177.1,117.8L176.1,118.9L176.3,120.3L175.0,119.7L173.7,120.3L173.8,118.9L172.9,117.8L174.2,117.5zM172.7,123.2L173.4,124.4L174.8,124.7L173.8,125.7L174.0,127.2L172.7,126.6L171.4,127.2L171.5,125.7L170.6,124.7L172.0,124.4zM189.1,114.9L189.8,116.2L191.2,116.5L190.3,117.5L190.4,118.9L189.1,118.4L187.8,118.9L188.0,117.5L187.0,116.5L188.4,116.2zM182.5,117.0L183.2,118.2L184.6,118.5L183.6,119.6L183.8,121.0L182.5,120.4L181.2,121.0L181.3,119.6L180.4,118.5L181.8,118.2zM180.6,122.1L181.3,123.3L182.7,123.6L181.7,124.7L181.9,126.1L180.6,125.5L179.3,126.1L179.4,124.7L178.5,123.6L179.9,123.3zM206.2,116.2L206.9,117.4L208.2,117.7L207.3,118.8L207.4,120.2L206.2,119.6L204.9,120.2L205.0,118.8L204.1,117.7L205.4,117.4zM200.4,124.4L201.1,125.6L202.5,125.9L201.5,127.0L201.7,128.4L200.4,127.8L199.1,128.4L199.2,127.0L198.3,125.9L199.7,125.6zM220.2,119.2L220.9,120.4L222.3,120.7L221.4,121.8L221.5,123.2L220.2,122.6L218.9,123.2L219.1,121.8L218.1,120.7L219.5,120.4zM213.1,127.4L213.8,128.7L215.2,129.0L214.3,130.0L214.4,131.4L213.1,130.9L211.8,131.4L212.0,130.0L211.0,129.0L212.4,128.7zM223.4,112.8L224.1,114.0L225.5,114.3L224.5,115.4L224.7,116.8L223.4,116.2L222.1,116.8L222.2,115.4L221.3,114.3L222.7,114.0zM234.1,128.0L234.8,129.2L236.2,129.5L235.3,130.6L235.4,132.0L234.1,131.4L232.8,132.0L233.0,130.6L232.0,129.5L233.4,129.2zM229.2,114.3L229.9,115.5L231.2,115.8L230.3,116.9L230.4,118.3L229.2,117.7L227.9,118.3L228.0,116.9L227.1,115.8L228.4,115.5zM234.0,117.9L234.7,119.1L236.1,119.4L235.2,120.4L235.3,121.8L234.0,121.3L232.7,121.8L232.8,120.4L231.9,119.4L233.3,119.1zM230.4,120.5L231.1,121.7L232.4,122.0L231.5,123.1L231.6,124.5L230.4,123.9L229.1,124.5L229.2,123.1L228.3,122.0L229.6,121.7zM235.4,119.9L236.1,121.2L237.5,121.5L236.6,122.5L236.7,123.9L235.4,123.3L234.1,123.9L234.3,122.5L233.3,121.5L234.7,121.2zM251.0,117.3L251.8,118.6L253.1,118.9L252.2,119.9L252.3,121.3L251.0,120.7L249.8,121.3L249.9,119.9L249.0,118.9L250.3,118.6zM238.1,123.1L238.8,124.3L240.2,124.6L239.2,125.7L239.4,127.1L238.1,126.5L236.8,127.1L236.9,125.7L236.0,124.6L237.4,124.3zM246.7,119.2L247.4,120.4L248.8,120.7L247.8,121.8L248.0,123.2L246.7,122.6L245.4,123.2L245.5,121.8L244.6,120.7L246.0,120.4zM245.7,118.0L246.4,119.2L247.8,119.5L246.9,120.6L247.0,122.0L245.7,121.4L244.4,122.0L244.6,120.6L243.6,119.5L245.0,119.2zM251.8,119.0L252.5,120.2L253.9,120.5L252.9,121.6L253.1,123.0L251.8,122.4L250.5,123.0L250.6,121.6L249.7,120.5L251.1,120.2zM249.9,117.0L250.6,118.2L252.0,118.5L251.1,119.6L251.2,121.0L249.9,120.4L248.6,121.0L248.8,119.6L247.8,118.5L249.2,118.2zM257.6,120.8L258.3,122.0L259.7,122.3L258.7,123.4L258.9,124.8L257.6,124.2L256.3,124.8L256.4,123.4L255.5,122.3L256.9,122.0zM258.3,115.7L259.0,116.9L260.4,117.2L259.4,118.2L259.6,119.7L258.3,119.1L257.0,119.7L257.1,118.2L256.2,117.2L257.5,116.9zM279.7,126.0L280.4,127.3L281.8,127.6L280.9,128.6L281.0,130.0L279.7,129.5L278.4,130.0L278.6,128.6L277.6,127.6L279.0,127.3zM273.8,116.2L274.5,117.4L275.9,117.7L274.9,118.8L275.1,120.2L273.8,119.6L272.5,120.2L272.6,118.8L271.7,117.7L273.1,117.4zM270.7,123.6L271.4,124.8L272.8,125.1L271.9,126.1L272.0,127.5L270.7,127.0L269.4,127.5L269.6,126.1L268.6,125.1L270.0,124.8zM292.7,117.7L293.4,118.9L294.8,119.2L293.9,120.2L294.0,121.6L292.7,121.1L291.4,121.6L291.6,120.2L290.6,119.2L292.0,118.9zM281.2,111.1L281.9,112.3L283.3,112.6L282.4,113.6L282.5,115.0L281.2,114.5L279.9,115.0L280.1,113.6L279.1,112.6L280.5,112.3zM280.8,121.3L281.5,122.6L282.9,122.9L281.9,123.9L282.1,125.3L280.8,124.7L279.5,125.3L279.6,123.9L278.7,122.9L280.1,122.6zM304.6,121.7L305.3,123.0L306.7,123.3L305.7,124.3L305.9,125.7L304.6,125.1L303.3,125.7L303.4,124.3L302.5,123.3L303.9,123.0zM302.8,117.8L303.5,119.0L304.9,119.3L304.0,120.4L304.1,121.8L302.8,121.2L301.5,121.8L301.7,120.4L300.7,119.3L302.1,119.0zM296.6,117.0L297.3,118.2L298.7,118.5L297.7,119.6L297.9,121.0L296.6,120.4L295.3,121.0L295.4,119.6L294.5,118.5L295.9,118.2zM298.5,122.3L299.2,123.5L300.6,123.8L299.7,124.9L299.8,126.3L298.5,125.7L297.2,126.3L297.4,124.9L296.4,123.8L297.8,123.5zM317.5,116.2L318.3,117.4L319.6,117.7L318.7,118.8L318.8,120.2L317.5,119.6L316.3,120.2L316.4,118.8L315.5,117.7L316.8,117.4zM323.2,122.2L323.9,123.4L325.3,123.7L324.3,124.8L324.5,126.2L323.2,125.6L321.9,126.2L322.0,124.8L321.1,123.7L322.5,123.4zM315.7,116.7L316.4,117.9L317.8,118.2L316.8,119.3L317.0,120.7L315.7,120.1L314.4,120.7L314.5,119.3L313.6,118.2L315.0,117.9zM332.0,121.6L332.7,122.8L334.1,123.1L333.2,124.2L333.3,125.6L332.0,125.0L330.7,125.6L330.9,124.2L329.9,123.1L331.3,122.8zM324.8,116.4L325.5,117.6L326.9,117.9L326.0,119.0L326.1,120.4L324.8,119.8L323.5,120.4L323.7,119.0L322.7,117.9L324.1,117.6zM325.1,109.2L325.8,110.4L327.1,110.7L326.2,111.8L326.3,113.2L325.1,112.6L323.8,113.2L323.9,111.8L323.0,110.7L324.3,110.4zM32.6,126.5L33.3,127.8L34.7,128.1L33.7,129.1L33.9,130.5L32.6,129.9L31.3,130.5L31.4,129.1L30.5,128.1L31.9,127.8zM44.6,125.7L45.3,126.9L46.6,127.2L45.7,128.3L45.8,129.7L44.6,129.1L43.3,129.7L43.4,128.3L42.5,127.2L43.8,126.9zM52.6,114.4L53.3,115.7L54.7,116.0L53.8,117.0L53.9,118.4L52.6,117.8L51.3,118.4L51.5,117.0L50.5,116.0L51.9,115.7zM45.9,119.9L46.6,121.1L48.0,121.4L47.1,122.5L47.2,123.9L45.9,123.3L44.6,123.9L44.8,122.5L43.8,121.4L45.2,121.1zM72.7,124.3L73.5,125.6L74.8,125.9L73.9,126.9L74.0,128.3L72.7,127.7L71.4,128.3L71.6,126.9L70.6,125.9L72.0,125.6zM74.4,119.9L75.1,121.1L76.4,121.4L75.5,122.5L75.6,123.9L74.4,123.3L73.1,123.9L73.2,122.5L72.3,121.4L73.6,121.1zM83.4,117.3L84.1,118.6L85.5,118.9L84.5,119.9L84.7,121.3L83.4,120.8L82.1,121.3L82.2,119.9L81.3,118.9L82.7,118.6zM86.5,127.7L87.3,128.9L88.6,129.2L87.7,130.3L87.8,131.7L86.5,131.1L85.2,131.7L85.4,130.3L84.4,129.2L85.8,128.9zM87.9,124.5L88.6,125.8L90.0,126.1L89.0,127.1L89.2,128.5L87.9,128.0L86.6,128.5L86.7,127.1L85.8,126.1L87.2,125.8zM107.1,122.1L107.8,123.3L109.2,123.6L108.3,124.6L108.4,126.0L107.1,125.5L105.8,126.0L106.0,124.6L105.0,123.6L106.4,123.3zM121.9,125.2L122.6,126.4L124.0,126.7L123.0,127.8L123.2,129.2L121.9,128.6L120.6,129.2L120.7,127.8L119.8,126.7L121.2,126.4zM120.1,124.8L120.8,126.0L122.2,126.3L121.3,127.4L121.4,128.8L120.1,128.2L118.8,128.8L119.0,127.4L118.0,126.3L119.4,126.0zM139.1,120.2L139.8,121.4L141.2,121.7L140.3,122.8L140.4,124.2L139.1,123.6L137.8,124.2L138.0,122.8L137.0,121.7L138.4,121.4zM140.4,122.1L141.1,123.3L142.5,123.6L141.6,124.7L141.7,126.1L140.4,125.5L139.1,126.1L139.3,124.7L138.3,123.6L139.7,123.3zM175.5,123.3L176.2,124.5L177.6,124.8L176.7,125.8L176.8,127.3L175.5,126.7L174.2,127.3L174.4,125.8L173.4,124.8L174.8,124.5zM164.1,114.2L164.9,115.5L166.2,115.7L165.3,116.8L165.4,118.2L164.1,117.6L162.8,118.2L163.0,116.8L162.0,115.7L163.4,115.5zM175.2,114.7L175.9,115.9L177.2,116.2L176.3,117.2L176.5,118.7L175.2,118.1L173.9,118.7L174.0,117.2L173.1,116.2L174.4,115.9zM190.2,115.2L190.9,116.4L192.3,116.7L191.3,117.7L191.5,119.1L190.2,118.6L188.9,119.1L189.0,117.7L188.1,116.7L189.5,116.4zM181.3,117.5L182.0,118.8L183.4,119.1L182.5,120.1L182.6,121.5L181.3,121.0L180.0,121.5L180.2,120.1L179.2,119.1L180.6,118.8zM180.8,122.0L181.5,123.2L182.9,123.5L181.9,124.6L182.1,126.0L180.8,125.4L179.5,126.0L179.6,124.6L178.7,123.5L180.1,123.2zM205.7,116.0L206.4,117.2L207.8,117.5L206.8,118.5L207.0,119.9L205.7,119.4L204.4,119.9L204.5,118.5L203.6,117.5L204.9,117.2zM213.2,128.0L213.9,129.2L215.3,129.5L214.4,130.5L214.5,131.9L213.2,131.4L211.9,131.9L212.1,130.5L211.1,129.5L212.5,129.2zM223.7,113.3L224.4,114.6L225.7,114.9L224.8,115.9L224.9,117.3L223.7,116.7L222.4,117.3L222.5,115.9L221.6,114.9L222.9,114.6zM227.9,116.2L228.6,117.4L230.0,117.7L229.0,118.8L229.2,120.2L227.9,119.6L226.6,120.2L226.7,118.8L225.8,117.7L227.2,117.4zM233.9,116.3L234.6,117.5L236.0,117.8L235.0,118.9L235.2,120.3L233.9,119.7L232.6,120.3L232.7,118.9L231.8,117.8L233.2,117.5zM237.3,122.7L238.0,124.0L239.4,124.3L238.5,125.3L238.6,126.7L237.3,126.1L236.0,126.7L236.2,125.3L235.2,124.3L236.6,124.0zM247.0,119.6L247.7,120.8L249.0,121.1L248.1,122.2L248.2,123.6L247.0,123.0L245.7,123.6L245.8,122.2L244.9,121.1L246.2,120.8zM252.4,118.8L253.1,120.1L254.5,120.4L253.6,121.4L253.7,122.8L252.4,122.3L251.1,122.8L251.3,121.4L250.3,120.4L251.7,120.1zM251.0,117.3L251.7,118.5L253.1,118.8L252.2,119.9L252.3,121.3L251.0,120.7L249.7,121.3L249.9,119.9L248.9,118.8L250.3,118.5zM257.9,121.5L258.6,122.7L260.0,123.0L259.0,124.0L259.2,125.4L257.9,124.9L256.6,125.4L256.7,124.0L255.8,123.0L257.2,122.7zM258.6,116.3L259.3,117.6L260.7,117.9L259.7,118.9L259.9,120.3L258.6,119.7L257.3,120.3L257.4,118.9L256.5,117.9L257.9,117.6zM272.7,116.4L273.4,117.6L274.8,117.9L273.8,119.0L274.0,120.4L272.7,119.8L271.4,120.4L271.5,119.0L270.6,117.9L272.0,117.6zM271.0,122.2L271.7,123.4L273.1,123.7L272.2,124.8L272.3,126.2L271.0,125.6L269.7,126.2L269.9,124.8L268.9,123.7L270.3,123.4zM293.0,117.8L293.7,119.0L295.1,119.3L294.1,120.4L294.3,121.8L293.0,121.2L291.7,121.8L291.8,120.4L290.9,119.3L292.3,119.0zM305.5,119.5L306.2,120.7L307.6,121.0L306.6,122.1L306.8,123.5L305.5,122.9L304.2,123.5L304.3,122.1L303.4,121.0L304.8,120.7zM296.8,118.1L297.6,119.4L298.9,119.7L298.0,120.7L298.1,122.1L296.8,121.6L295.5,122.1L295.7,120.7L294.7,119.7L296.1,119.4zM298.6,122.4L299.3,123.6L300.7,123.9L299.7,125.0L299.9,126.4L298.6,125.8L297.3,126.4L297.4,125.0L296.5,123.9L297.9,123.6zM318.3,115.8L319.0,117.0L320.4,117.3L319.4,118.4L319.6,119.8L318.3,119.2L317.0,119.8L317.1,118.4L316.2,117.3L317.6,117.0zM332.5,119.8L333.2,121.0L334.6,121.3L333.6,122.4L333.8,123.8L332.5,123.2L331.2,123.8L331.3,122.4L330.4,121.3L331.8,121.0zM324.7,117.0L325.4,118.3L326.8,118.6L325.9,119.6L326.0,121.0L324.7,120.4L323.4,121.0L323.6,119.6L322.6,118.6L324.0,118.3zM324.7,108.9L325.4,110.1L326.7,110.4L325.8,111.4L325.9,112.8L324.7,112.3L323.4,112.8L323.5,111.4L322.6,110.4L323.9,110.1zM47.6,141.6L48.3,142.8L49.6,143.1L48.7,144.2L48.8,145.6L47.6,145.0L46.3,145.6L46.4,144.2L45.5,143.1L46.8,142.8zM34.2,128.7L34.9,129.9L36.3,130.2L35.3,131.3L35.5,132.7L34.2,132.1L32.9,132.7L33.0,131.3L32.1,130.2L33.5,129.9zM39.0,114.6L39.7,115.8L41.1,116.1L40.1,117.1L40.3,118.5L39.0,118.0L37.7,118.5L37.8,117.1L36.9,116.1L38.3,115.8zM40.5,111.9L41.2,113.1L42.6,113.4L41.6,114.4L41.8,115.9L40.5,115.3L39.2,115.9L39.3,114.4L38.4,113.4L39.8,113.1zM41.3,119.9L42.0,121.1L43.4,121.4L42.4,122.4L42.6,123.8L41.3,123.3L40.0,123.8L40.1,122.4L39.2,121.4L40.6,121.1zM43.1,120.9L43.8,122.1L45.2,122.4L44.3,123.4L44.4,124.8L43.1,124.3L41.8,124.8L42.0,123.4L41.0,122.4L42.4,122.1zM45.5,120.5L46.2,121.7L47.6,122.0L46.6,123.0L46.8,124.4L45.5,123.9L44.2,124.4L44.3,123.0L43.4,122.0L44.8,121.7zM47.4,113.5L48.1,114.7L49.5,115.0L48.6,116.0L48.7,117.4L47.4,116.9L46.1,117.4L46.3,116.0L45.3,115.0L46.7,114.7zM48.9,108.5L49.6,109.8L51.0,110.1L50.0,111.1L50.2,112.5L48.9,112.0L47.6,112.5L47.7,111.1L46.8,110.1L48.2,109.8zM52.6,121.1L53.3,122.3L54.7,122.6L53.7,123.6L53.9,125.0L52.6,124.5L51.3,125.0L51.4,123.6L50.5,122.6L51.9,122.3zM55.3,125.5L56.0,126.8L57.3,127.1L56.4,128.1L56.5,129.5L55.3,128.9L54.0,129.5L54.1,128.1L53.2,127.1L54.5,126.8zM56.2,121.7L56.9,122.9L58.3,123.2L57.4,124.3L57.5,125.7L56.2,125.1L54.9,125.7L55.1,124.3L54.1,123.2L55.5,122.9zM58.6,125.1L59.3,126.3L60.7,126.6L59.7,127.7L59.9,129.1L58.6,128.5L57.3,129.1L57.4,127.7L56.5,126.6L57.9,126.3zM60.1,105.5L60.8,106.7L62.2,107.0L61.3,108.1L61.4,109.5L60.1,108.9L58.8,109.5L59.0,108.1L58.0,107.0L59.4,106.7zM60.8,113.9L61.5,115.1L62.9,115.4L61.9,116.4L62.1,117.8L60.8,117.3L59.5,117.8L59.6,116.4L58.7,115.4L60.1,115.1zM64.1,115.4L64.9,116.6L66.2,116.9L65.3,118.0L65.4,119.4L64.1,118.8L62.9,119.4L63.0,118.0L62.1,116.9L63.4,116.6zM65.6,121.3L66.3,122.6L67.7,122.9L66.8,123.9L66.9,125.3L65.6,124.8L64.3,125.3L64.5,123.9L63.5,122.9L64.9,122.6zM70.6,116.1L71.3,117.3L72.6,117.6L71.7,118.6L71.8,120.0L70.6,119.5L69.3,120.0L69.4,118.6L68.5,117.6L69.8,117.3zM71.0,126.3L71.7,127.6L73.1,127.9L72.1,128.9L72.3,130.3L71.0,129.7L69.7,130.3L69.8,128.9L68.9,127.9L70.3,127.6zM75.1,133.9L75.8,135.1L77.2,135.4L76.2,136.4L76.4,137.8L75.1,137.3L73.8,137.8L73.9,136.4L73.0,135.4L74.4,135.1zM76.7,133.9L77.4,135.1L78.8,135.4L77.8,136.5L78.0,137.9L76.7,137.3L75.4,137.9L75.5,136.5L74.6,135.4L76.0,135.1zM78.3,125.9L79.0,127.1L80.4,127.4L79.5,128.5L79.6,129.9L78.3,129.3L77.0,129.9L77.2,128.5L76.2,127.4L77.6,127.1zM80.4,115.9L81.1,117.2L82.5,117.5L81.5,118.5L81.7,119.9L80.4,119.3L79.1,119.9L79.2,118.5L78.3,117.5L79.7,117.2zM81.3,125.1L82.0,126.3L83.4,126.6L82.4,127.6L82.6,129.0L81.3,128.5L80.0,129.0L80.1,127.6L79.2,126.6L80.6,126.3zM83.9,119.7L84.6,120.9L86.0,121.2L85.1,122.3L85.2,123.7L83.9,123.1L82.6,123.7L82.8,122.3L81.8,121.2L83.2,120.9zM86.3,125.1L87.1,126.4L88.4,126.7L87.5,127.7L87.6,129.1L86.3,128.5L85.0,129.1L85.2,127.7L84.2,126.7L85.6,126.4zM87.7,116.4L88.4,117.6L89.8,117.9L88.8,118.9L89.0,120.3L87.7,119.8L86.4,120.3L86.5,118.9L85.6,117.9L87.0,117.6zM89.6,117.4L90.3,118.6L91.7,118.9L90.8,120.0L90.9,121.4L89.6,120.8L88.3,121.4L88.5,120.0L87.5,118.9L88.9,118.6zM91.8,138.4L92.5,139.6L93.9,139.9L92.9,140.9L93.1,142.3L91.8,141.8L90.5,142.3L90.6,140.9L89.7,139.9L91.1,139.6zM93.2,111.7L93.9,112.9L95.3,113.2L94.3,114.2L94.5,115.6L93.2,115.1L91.9,115.6L92.0,114.2L91.1,113.2L92.5,112.9zM94.7,116.8L95.5,118.1L96.8,118.4L95.9,119.4L96.0,120.8L94.7,120.3L93.5,120.8L93.6,119.4L92.7,118.4L94.0,118.1zM98.7,127.4L99.4,128.6L100.8,128.9L99.9,130.0L100.0,131.4L98.7,130.8L97.4,131.4L97.6,130.0L96.6,128.9L98.0,128.6zM100.3,115.7L101.0,116.9L102.4,117.2L101.5,118.3L101.6,119.7L100.3,119.1L99.0,119.7L99.2,118.3L98.2,117.2L99.6,116.9zM101.1,116.5L101.8,117.8L103.2,118.1L102.2,119.1L102.4,120.5L101.1,119.9L99.8,120.5L99.9,119.1L99.0,118.1L100.3,117.8zM103.1,104.6L103.8,105.9L105.2,106.2L104.2,107.2L104.4,108.6L103.1,108.1L101.8,108.6L101.9,107.2L101.0,106.2L102.4,105.9zM103.8,129.4L104.5,130.6L105.9,130.9L104.9,131.9L105.1,133.3L103.8,132.8L102.5,133.3L102.6,131.9L101.7,130.9L103.1,130.6zM106.2,138.0L106.9,139.2L108.3,139.5L107.4,140.6L107.5,142.0L106.2,141.4L104.9,142.0L105.1,140.6L104.1,139.5L105.5,139.2zM108.8,130.2L109.5,131.5L110.9,131.8L109.9,132.8L110.1,134.2L108.8,133.6L107.5,134.2L107.6,132.8L106.7,131.8L108.1,131.5zM110.3,120.9L111.0,122.1L112.4,122.4L111.5,123.4L111.6,124.8L110.3,124.3L109.0,124.8L109.2,123.4L108.2,122.4L109.6,122.1zM112.5,127.2L113.2,128.5L114.6,128.8L113.7,129.8L113.8,131.2L112.5,130.7L111.2,131.2L111.4,129.8L110.4,128.8L111.8,128.5zM116.2,139.0L116.9,140.2L118.3,140.5L117.4,141.6L117.5,143.0L116.2,142.4L114.9,143.0L115.0,141.6L114.1,140.5L115.5,140.2zM118.0,151.1L118.7,152.4L120.1,152.7L119.1,153.7L119.3,155.1L118.0,154.6L116.7,155.1L116.8,153.7L115.9,152.7L117.3,152.4zM119.8,111.1L120.6,112.3L121.9,112.6L121.0,113.7L121.1,115.1L119.8,114.5L118.6,115.1L118.7,113.7L117.8,112.6L119.1,112.3zM123.2,119.4L123.9,120.6L125.3,120.9L124.4,122.0L124.5,123.4L123.2,122.8L121.9,123.4L122.1,122.0L121.1,120.9L122.5,120.6zM125.0,117.1L125.7,118.3L127.1,118.6L126.1,119.7L126.3,121.1L125.0,120.5L123.7,121.1L123.8,119.7L122.9,118.6L124.3,118.3zM126.5,123.8L127.2,125.0L128.6,125.3L127.7,126.4L127.8,127.8L126.5,127.2L125.2,127.8L125.3,126.4L124.4,125.3L125.8,125.0zM128.4,100.8L129.1,102.1L130.5,102.4L129.5,103.4L129.7,104.8L128.4,104.2L127.1,104.8L127.2,103.4L126.3,102.4L127.7,102.1zM129.7,127.3L130.4,128.5L131.8,128.8L130.9,129.8L131.0,131.2L129.7,130.7L128.4,131.2L128.6,129.8L127.6,128.8L129.0,128.5zM132.3,105.9L133.0,107.1L134.3,107.4L133.4,108.4L133.5,109.8L132.3,109.3L131.0,109.8L131.1,108.4L130.2,107.4L131.5,107.1zM135.9,113.1L136.6,114.3L138.0,114.6L137.0,115.6L137.2,117.0L135.9,116.5L134.6,117.0L134.7,115.6L133.8,114.6L135.2,114.3zM138.5,112.4L139.3,113.6L140.6,113.9L139.7,114.9L139.8,116.3L138.5,115.8L137.3,116.3L137.4,114.9L136.5,113.9L137.8,113.6zM142.3,111.9L143.0,113.1L144.4,113.4L143.5,114.5L143.6,115.9L142.3,115.3L141.0,115.9L141.2,114.5L140.2,113.4L141.6,113.1zM145.1,119.8L145.8,121.0L147.1,121.3L146.2,122.4L146.3,123.8L145.1,123.2L143.8,123.8L143.9,122.4L143.0,121.3L144.3,121.0zM149.2,104.7L149.9,105.9L151.3,106.2L150.3,107.3L150.5,108.7L149.2,108.1L147.9,108.7L148.0,107.3L147.1,106.2L148.5,105.9zM151.2,101.4L151.9,102.6L153.3,102.9L152.3,104.0L152.5,105.4L151.2,104.8L149.9,105.4L150.0,104.0L149.1,102.9L150.5,102.6zM152.5,115.4L153.2,116.6L154.6,116.9L153.7,117.9L153.8,119.3L152.5,118.8L151.2,119.3L151.4,117.9L150.4,116.9L151.8,116.6zM152.9,126.1L153.6,127.3L155.0,127.6L154.1,128.7L154.2,130.1L152.9,129.5L151.6,130.1L151.7,128.7L150.8,127.6L152.2,127.3zM155.4,111.6L156.1,112.9L157.5,113.2L156.6,114.2L156.7,115.6L155.4,115.1L154.1,115.6L154.3,114.2L153.3,113.2L154.7,112.9zM157.1,122.5L157.8,123.7L159.2,124.0L158.2,125.0L158.4,126.4L157.1,125.9L155.8,126.4L155.9,125.0L155.0,124.0L156.3,123.7zM159.1,137.1L159.8,138.3L161.1,138.6L160.2,139.6L160.3,141.1L159.1,140.5L157.8,141.1L157.9,139.6L157.0,138.6L158.3,138.3zM160.1,107.5L160.8,108.8L162.1,109.1L161.2,110.1L161.3,111.5L160.1,111.0L158.8,111.5L158.9,110.1L158.0,109.1L159.3,108.8zM163.1,113.5L163.8,114.7L165.2,115.0L164.2,116.1L164.4,117.5L163.1,116.9L161.8,117.5L161.9,116.1L161.0,115.0L162.4,114.7zM166.7,115.9L167.4,117.1L168.8,117.4L167.9,118.4L168.0,119.8L166.7,119.3L165.4,119.8L165.6,118.4L164.6,117.4L166.0,117.1zM167.9,120.7L168.6,121.9L169.9,122.2L169.0,123.2L169.1,124.6L167.9,124.1L166.6,124.6L166.7,123.2L165.8,122.2L167.1,121.9zM171.2,126.2L171.9,127.4L173.3,127.7L172.4,128.8L172.5,130.2L171.2,129.6L169.9,130.2L170.0,128.8L169.1,127.7L170.5,127.4zM173.3,126.0L174.0,127.2L175.3,127.5L174.4,128.5L174.5,129.9L173.3,129.4L172.0,129.9L172.1,128.5L171.2,127.5L172.5,127.2zM176.0,108.2L176.7,109.5L178.1,109.7L177.2,110.8L177.3,112.2L176.0,111.6L174.7,112.2L174.9,110.8L173.9,109.7L175.3,109.5zM177.8,133.1L178.5,134.3L179.9,134.6L178.9,135.7L179.1,137.1L177.8,136.5L176.5,137.1L176.6,135.7L175.7,134.6L177.1,134.3zM178.6,143.3L179.3,144.5L180.7,144.8L179.7,145.9L179.9,147.3L178.6,146.7L177.3,147.3L177.4,145.9L176.5,144.8L177.9,144.5zM179.9,115.7L180.6,117.0L182.0,117.3L181.1,118.3L181.2,119.7L179.9,119.1L178.6,119.7L178.8,118.3L177.8,117.3L179.2,117.0zM184.6,119.3L185.3,120.6L186.7,120.9L185.8,121.9L185.9,123.3L184.6,122.7L183.3,123.3L183.5,121.9L182.5,120.9L183.9,120.6zM185.5,116.2L186.2,117.4L187.6,117.7L186.7,118.8L186.8,120.2L185.5,119.6L184.2,120.2L184.4,118.8L183.4,117.7L184.8,117.4zM186.4,124.1L187.1,125.3L188.5,125.6L187.6,126.7L187.7,128.1L186.4,127.5L185.1,128.1L185.3,126.7L184.3,125.6L185.7,125.3zM189.9,123.4L190.6,124.6L192.0,124.9L191.0,126.0L191.2,127.4L189.9,126.8L188.6,127.4L188.7,126.0L187.8,124.9L189.2,124.6zM192.2,137.5L192.9,138.7L194.3,139.0L193.3,140.1L193.5,141.5L192.2,140.9L190.9,141.5L191.0,140.1L190.1,139.0L191.5,138.7zM193.2,121.7L193.9,123.0L195.3,123.3L194.3,124.3L194.5,125.7L193.2,125.2L191.9,125.7L192.0,124.3L191.1,123.3L192.5,123.0zM195.4,117.2L196.1,118.4L197.5,118.7L196.5,119.8L196.7,121.2L195.4,120.6L194.1,121.2L194.2,119.8L193.3,118.7L194.7,118.4zM197.4,114.5L198.1,115.8L199.5,116.1L198.6,117.1L198.7,118.5L197.4,117.9L196.1,118.5L196.3,117.1L195.3,116.1L196.7,115.8zM199.0,121.2L199.7,122.4L201.1,122.7L200.2,123.7L200.3,125.1L199.0,124.6L197.7,125.1L197.9,123.7L196.9,122.7L198.3,122.4zM200.5,108.9L201.2,110.2L202.6,110.5L201.6,111.5L201.8,112.9L200.5,112.4L199.2,112.9L199.3,111.5L198.4,110.5L199.8,110.2zM201.8,122.5L202.6,123.7L203.9,124.0L203.0,125.1L203.1,126.5L201.8,125.9L200.6,126.5L200.7,125.1L199.8,124.0L201.1,123.7zM203.2,127.6L203.9,128.9L205.3,129.2L204.3,130.2L204.5,131.6L203.2,131.0L201.9,131.6L202.0,130.2L201.1,129.2L202.5,128.9zM204.4,104.5L205.1,105.7L206.4,106.0L205.5,107.0L205.6,108.4L204.4,107.9L203.1,108.4L203.2,107.0L202.3,106.0L203.6,105.7zM209.7,107.3L210.4,108.5L211.8,108.8L210.9,109.9L211.0,111.3L209.7,110.7L208.4,111.3L208.6,109.9L207.6,108.8L209.0,108.5zM210.6,111.4L211.3,112.6L212.7,112.9L211.8,114.0L211.9,115.4L210.6,114.8L209.3,115.4L209.5,114.0L208.5,112.9L209.9,112.6zM212.1,119.6L212.8,120.8L214.2,121.1L213.2,122.2L213.4,123.6L212.1,123.0L210.8,123.6L210.9,122.2L210.0,121.1L211.4,120.8zM215.2,113.2L215.9,114.5L217.3,114.8L216.3,115.8L216.5,117.2L215.2,116.6L213.9,117.2L214.0,115.8L213.1,114.8L214.5,114.5zM216.1,116.0L216.8,117.2L218.2,117.5L217.2,118.6L217.4,120.0L216.1,119.4L214.8,120.0L214.9,118.6L214.0,117.5L215.4,117.2zM218.9,139.6L219.6,140.9L220.9,141.2L220.0,142.2L220.1,143.6L218.9,143.0L217.6,143.6L217.7,142.2L216.8,141.2L218.1,140.9zM220.4,130.5L221.1,131.7L222.5,132.0L221.6,133.1L221.7,134.5L220.4,133.9L219.1,134.5L219.3,133.1L218.3,132.0L219.7,131.7zM225.2,136.3L225.9,137.5L227.3,137.8L226.4,138.8L226.5,140.3L225.2,139.7L223.9,140.3L224.1,138.8L223.1,137.8L224.5,137.5zM226.8,111.3L227.5,112.5L228.9,112.8L227.9,113.9L228.1,115.3L226.8,114.7L225.5,115.3L225.6,113.9L224.7,112.8L226.0,112.5zM231.6,129.4L232.3,130.6L233.7,130.9L232.7,131.9L232.9,133.4L231.6,132.8L230.3,133.4L230.4,131.9L229.5,130.9L230.9,130.6zM232.5,115.4L233.2,116.6L234.6,116.9L233.6,117.9L233.8,119.4L232.5,118.8L231.2,119.4L231.3,117.9L230.4,116.9L231.8,116.6zM234.3,113.9L235.0,115.1L236.4,115.4L235.4,116.5L235.6,117.9L234.3,117.3L233.0,117.9L233.1,116.5L232.2,115.4L233.6,115.1zM240.3,123.5L241.0,124.7L242.4,125.0L241.4,126.0L241.6,127.5L240.3,126.9L239.0,127.5L239.1,126.0L238.2,125.0L239.6,124.7zM243.5,128.1L244.2,129.3L245.6,129.6L244.6,130.7L244.8,132.1L243.5,131.5L242.2,132.1L242.3,130.7L241.4,129.6L242.8,129.3zM244.1,128.4L244.8,129.6L246.1,129.9L245.2,131.0L245.3,132.4L244.1,131.8L242.8,132.4L242.9,131.0L242.0,129.9L243.3,129.6zM247.0,132.9L247.7,134.1L249.1,134.4L248.2,135.5L248.3,136.9L247.0,136.3L245.7,136.9L245.9,135.5L244.9,134.4L246.3,134.1zM247.6,129.6L248.3,130.8L249.7,131.1L248.7,132.1L248.9,133.5L247.6,133.0L246.3,133.5L246.4,132.1L245.5,131.1L246.9,130.8zM253.0,129.9L253.7,131.1L255.1,131.4L254.2,132.5L254.3,133.9L253.0,133.3L251.7,133.9L251.9,132.5L250.9,131.4L252.3,131.1zM256.3,115.4L257.0,116.6L258.4,116.9L257.4,118.0L257.6,119.4L256.3,118.8L255.0,119.4L255.1,118.0L254.2,116.9L255.6,116.6zM256.0,119.4L256.7,120.6L258.1,120.9L257.2,122.0L257.3,123.4L256.0,122.8L254.7,123.4L254.9,122.0L253.9,120.9L255.3,120.6zM260.5,124.8L261.2,126.0L262.6,126.3L261.7,127.3L261.8,128.7L260.5,128.2L259.2,128.7L259.4,127.3L258.4,126.3L259.8,126.0zM261.0,107.4L261.7,108.6L263.1,108.9L262.2,110.0L262.3,111.4L261.0,110.8L259.7,111.4L259.9,110.0L258.9,108.9L260.3,108.6zM263.6,102.0L264.3,103.2L265.7,103.5L264.8,104.6L264.9,106.0L263.6,105.4L262.3,106.0L262.5,104.6L261.5,103.5L262.9,103.2zM265.8,135.0L266.5,136.3L267.9,136.5L266.9,137.6L267.1,139.0L265.8,138.4L264.5,139.0L264.6,137.6L263.7,136.5L265.1,136.3zM269.1,126.3L269.8,127.5L271.2,127.8L270.2,128.9L270.4,130.3L269.1,129.7L267.8,130.3L267.9,128.9L267.0,127.8L268.4,127.5zM273.5,111.7L274.2,112.9L275.6,113.2L274.6,114.2L274.8,115.6L273.5,115.1L272.2,115.6L272.3,114.2L271.4,113.2L272.7,112.9zM274.5,106.5L275.2,107.7L276.6,108.0L275.7,109.0L275.8,110.5L274.5,109.9L273.2,110.5L273.3,109.0L272.4,108.0L273.8,107.7zM275.2,123.8L275.9,125.1L277.3,125.4L276.4,126.4L276.5,127.8L275.2,127.2L273.9,127.8L274.1,126.4L273.1,125.4L274.5,125.1zM281.1,115.9L281.8,117.1L283.2,117.4L282.3,118.5L282.4,119.9L281.1,119.3L279.8,119.9L280.0,118.5L279.0,117.4L280.4,117.1zM281.5,129.0L282.2,130.2L283.6,130.5L282.7,131.6L282.8,133.0L281.5,132.4L280.2,133.0L280.4,131.6L279.4,130.5L280.8,130.2zM284.3,131.3L285.0,132.5L286.4,132.8L285.4,133.9L285.6,135.3L284.3,134.7L283.0,135.3L283.1,133.9L282.2,132.8L283.6,132.5zM286.1,127.7L286.8,129.0L288.2,129.3L287.3,130.3L287.4,131.7L286.1,131.1L284.8,131.7L285.0,130.3L284.0,129.3L285.4,129.0zM288.7,115.1L289.4,116.3L290.8,116.6L289.9,117.7L290.0,119.1L288.7,118.5L287.4,119.1L287.6,117.7L286.6,116.6L288.0,116.3zM291.1,129.7L291.9,130.9L293.2,131.2L292.3,132.2L292.4,133.7L291.1,133.1L289.8,133.7L290.0,132.2L289.0,131.2L290.4,130.9zM292.2,94.3L292.9,95.5L294.3,95.8L293.3,96.9L293.5,98.3L292.2,97.7L290.9,98.3L291.0,96.9L290.1,95.8L291.4,95.5zM294.6,114.6L295.3,115.8L296.7,116.1L295.7,117.1L295.9,118.5L294.6,118.0L293.3,118.5L293.4,117.1L292.5,116.1L293.9,115.8zM296.8,94.3L297.5,95.6L298.9,95.9L297.9,96.9L298.1,98.3L296.8,97.8L295.5,98.3L295.6,96.9L294.7,95.9L296.1,95.6zM297.9,126.3L298.6,127.5L300.0,127.8L299.1,128.9L299.2,130.3L297.9,129.7L296.6,130.3L296.7,128.9L295.8,127.8L297.2,127.5zM299.6,113.2L300.3,114.5L301.7,114.8L300.8,115.8L300.9,117.2L299.6,116.6L298.3,117.2L298.5,115.8L297.5,114.8L298.9,114.5zM305.5,107.4L306.3,108.6L307.6,108.9L306.7,110.0L306.8,111.4L305.5,110.8L304.2,111.4L304.4,110.0L303.5,108.9L304.8,108.6zM308.6,123.1L309.3,124.4L310.7,124.7L309.7,125.7L309.9,127.1L308.6,126.5L307.3,127.1L307.4,125.7L306.5,124.7L307.9,124.4zM310.8,134.4L311.5,135.6L312.9,135.9L312.0,136.9L312.1,138.3L310.8,137.8L309.5,138.3L309.7,136.9L308.7,135.9L310.1,135.6zM310.6,107.4L311.3,108.6L312.7,108.9L311.7,109.9L311.9,111.3L310.6,110.8L309.3,111.3L309.4,109.9L308.5,108.9L309.9,108.6zM311.4,121.4L312.1,122.7L313.5,123.0L312.5,124.0L312.7,125.4L311.4,124.9L310.1,125.4L310.2,124.0L309.3,123.0L310.7,122.7zM316.4,123.4L317.1,124.6L318.5,124.9L317.5,125.9L317.7,127.3L316.4,126.8L315.1,127.3L315.2,125.9L314.3,124.9L315.7,124.6zM318.5,124.9L319.3,126.1L320.6,126.4L319.7,127.4L319.8,128.8L318.5,128.3L317.2,128.8L317.4,127.4L316.4,126.4L317.8,126.1zM318.9,132.8L319.6,134.1L320.9,134.4L320.0,135.4L320.1,136.8L318.9,136.2L317.6,136.8L317.7,135.4L316.8,134.4L318.1,134.1zM322.0,116.1L322.7,117.3L324.1,117.6L323.2,118.6L323.3,120.0L322.0,119.5L320.7,120.0L320.9,118.6L319.9,117.6L321.3,117.3zM324.8,115.4L325.6,116.7L326.9,117.0L326.0,118.0L326.1,119.4L324.8,118.9L323.6,119.4L323.7,118.0L322.8,117.0L324.1,116.7zM327.0,110.3L327.7,111.5L329.1,111.8L328.1,112.9L328.3,114.3L327.0,113.7L325.7,114.3L325.8,112.9L324.9,111.8L326.3,111.5zM327.0,97.0L327.7,98.2L329.1,98.5L328.2,99.6L328.3,101.0L327.0,100.4L325.7,101.0L325.9,99.6L324.9,98.5L326.3,98.2zM332.9,121.3L333.7,122.5L335.0,122.8L334.1,123.9L334.2,125.3L332.9,124.7L331.7,125.3L331.8,123.9L330.9,122.8L332.2,122.5zM335.4,122.9L336.1,124.1L337.5,124.4L336.6,125.4L336.7,126.8L335.4,126.3L334.1,126.8L334.3,125.4L333.3,124.4L334.7,124.1zM335.4,90.7L336.1,91.9L337.5,92.2L336.6,93.2L336.7,94.6L335.4,94.1L334.1,94.6L334.3,93.2L333.3,92.2L334.7,91.9zM336.4,108.3L337.1,109.5L338.5,109.8L337.5,110.9L337.7,112.3L336.4,111.7L335.1,112.3L335.2,110.9L334.3,109.8L335.7,109.5zM340.0,117.4L340.7,118.6L342.1,118.9L341.1,120.0L341.3,121.4L340.0,120.8L338.7,121.4L338.8,120.0L337.9,118.9L339.3,118.6z" fill="rgb(55,55,55)"/>
<path d="M33.6,128.2a1.95,1.95 0 1,0 3.90,0a1.95,1.95 0 1,0 -3.90,0zM28.8,126.7a1.95,1.95 0 1,0 3.90,0a1.95,1.95 0 1,0 -3.90,0zM30.2,129.6a1.95,1.95 0 1,0 3.90,0a1.95,1.95 0 1,0 -3.90,0zM35.4,132.0a1.95,1.95 0 1,0 3.90,0a1.95,1.95 0 1,0 -3.90,0zM33.6,129.2a1.95,1.95 0 1,0 3.90,0a1.95,1.95 0 1,0 -3.90,0zM40.4,121.9a1.95,1.95 0 1,0 3.90,0a1.95,1.95 0 1,0 -3.90,0zM42.6,128.3a1.95,1.95 0 1,0 3.90,0a1.95,1.95 0 1,0 -3.90,0zM50.4,116.7a1.95,1.95 0 1,0 3.90,0a1.95,1.95 0 1,0 -3.90,0zM44.2,122.1a1.95,1.95 0 1,0 3.90,0a1.95,1.95 0 1,0 -3.90,0zM71.1,126.8a1.95,1.95 0 1,0 3.90,0a1.95,1.95 0 1,0 -3.90,0zM61.5,121.1a1.95,1.95 0 1,0 3.90,0a1.95,1.95 0 1,0 -3.90,0zM70.1,122.7a1.95,1.95 0 1,0 3.90,0a1.95,1.95 0 1,0 -3.90,0zM72.9,121.8a1.95,1.95 0 1,0 3.90,0a1.95,1.95 0 1,0 -3.90,0zM79.5,124.6a1.95,1.95 0 1,0 3.90,0a1.95,1.95 0 1,0 -3.90,0zM81.8,119.1a1.95,1.95 0 1,0 3.90,0a1.95,1.95 0 1,0 -3.90,0zM83.9,129.1a1.95,1.95 0 1,0 3.90,0a1.95,1.95 0 1,0 -3.90,0zM86.6,127.7a1.95,1.95 0 1,0 3.90,0a1.95,1.95 0 1,0 -3.90,0zM97.9,119.8a1.95,1.95 0 1,0 3.90,0a1.95,1.95 0 1,0 -3.90,0zM87.8,120.1a1.95,1.95 0 1,0 3.90,0a1.95,1.95 0 1,0 -3.90,0zM105.4,124.3a1.95,1.95 0 1,0 3.90,0a1.95,1.95 0 1,0 -3.90,0zM120.0,128.3a1.95,1.95 0 1,0 3.90,0a1.95,1.95 0 1,0 -3.90,0zM119.7,120.7a1.95,1.95 0 1,0 3.90,0a1.95,1.95 0 1,0 -3.90,0zM123.0,123.2a1.95,1.95 0 1,0 3.90,0a1.95,1.95 0 1,0 -3.90,0zM117.9,126.3a1.95,1.95 0 1,0 3.90,0a1.95,1.95 0 1,0 -3.90,0zM139.2,126.1a1.95,1.95 0 1,0 3.90,0a1.95,1.95 0 1,0 -3.90,0zM136.6,122.1a1.95,1.95 0 1,0 3.90,0a1.95,1.95 0 1,0 -3.90,0zM140.7,126.0a1.95,1.95 0 1,0 3.90,0a1.95,1.95 0 1,0 -3.90,0zM138.4,123.9a1.95,1.95 0 1,0 3.90,0a1.95,1.95 0 1,0 -3.90,0zM155.0,120.2a1.95,1.95 0 1,0 3.90,0a1.95,1.95 0 1,0 -3.90,0zM153.8,123.1a1.95,1.95 0 1,0 3.90,0a1.95,1.95 0 1,0 -3.90,0zM173.2,124.9a1.95,1.95 0 1,0 3.90,0a1.95,1.95 0 1,0 -3.90,0zM162.4,117.6a1.95,1.95 0 1,0 3.90,0a1.95,1.95 0 1,0 -3.90,0zM173.6,117.6a1.95,1.95 0 1,0 3.90,0a1.95,1.95 0 1,0 -3.90,0zM170.6,126.4a1.95,1.95 0 1,0 3.90,0a1.95,1.95 0 1,0 -3.90,0zM187.7,116.9a1.95,1.95 0 1,0 3.90,0a1.95,1.95 0 1,0 -3.90,0zM179.8,119.9a1.95,1.95 0 1,0 3.90,0a1.95,1.95 0 1,0 -3.90,0zM178.6,123.6a1.95,1.95 0 1,0 3.90,0a1.95,1.95 0 1,0 -3.90,0zM203.6,118.7a1.95,1.95 0 1,0 3.90,0a1.95,1.95 0 1,0 -3.90,0zM199.1,126.6a1.95,1.95 0 1,0 3.90,0a1.95,1.95 0 1,0 -3.90,0zM218.1,121.3a1.95,1.95 0 1,0 3.90,0a1.95,1.95 0 1,0 -3.90,0zM210.7,130.5a1.95,1.95 0 1,0 3.90,0a1.95,1.95 0 1,0 -3.90,0zM222.3,115.5a1.95,1.95 0 1,0 3.90,0a1.95,1.95 0 1,0 -3.90,0zM232.1,129.1a1.95,1.95 0 1,0 3.90,0a1.95,1.95 0 1,0 -3.90,0zM226.6,117.7a1.95,1.95 0 1,0 3.90,0a1.95,1.95 0 1,0 -3.90,0zM231.9,119.2a1.95,1.95 0 1,0 3.90,0a1.95,1.95 0 1,0 -3.90,0zM228.0,123.4a1.95,1.95 0 1,0 3.90,0a1.95,1.95 0 1,0 -3.90,0zM233.8,121.2a1.95,1.95 0 1,0 3.90,0a1.95,1.95 0 1,0 -3.90,0zM248.2,120.1a1.95,1.95 0 1,0 3.90,0a1.95,1.95 0 1,0 -3.90,0zM236.1,123.9a1.95,1.95 0 1,0 3.90,0a1.95,1.95 0 1,0 -3.90,0zM244.7,121.3a1.95,1.95 0 1,0 3.90,0a1.95,1.95 0 1,0 -3.90,0zM244.6,121.2a1.95,1.95 0 1,0 3.90,0a1.95,1.95 0 1,0 -3.90,0zM250.1,120.1a1.95,1.95 0 1,0 3.90,0a1.95,1.95 0 1,0 -3.90,0zM248.5,119.4a1.95,1.95 0 1,0 3.90,0a1.95,1.95 0 1,0 -3.90,0zM256.2,123.8a1.95,1.95 0 1,0 3.90,0a1.95,1.95 0 1,0 -3.90,0zM256.4,119.2a1.95,1.95 0 1,0 3.90,0a1.95,1.95 0 1,0 -3.90,0zM277.2,128.8a1.95,1.95 0 1,0 3.90,0a1.95,1.95 0 1,0 -3.90,0zM271.2,118.8a1.95,1.95 0 1,0 3.90,0a1.95,1.95 0 1,0 -3.90,0zM268.7,124.4a1.95,1.95 0 1,0 3.90,0a1.95,1.95 0 1,0 -3.90,0zM290.4,120.0a1.95,1.95 0 1,0 3.90,0a1.95,1.95 0 1,0 -3.90,0zM279.7,114.5a1.95,1.95 0 1,0 3.90,0a1.95,1.95 0 1,0 -3.90,0zM278.6,122.6a1.95,1.95 0 1,0 3.90,0a1.95,1.95 0 1,0 -3.90,0zM302.9,122.9a1.95,1.95 0 1,0 3.90,0a1.95,1.95 0 1,0 -3.90,0zM300.6,121.1a1.95,1.95 0 1,0 3.90,0a1.95,1.95 0 1,0 -3.90,0zM295.4,119.3a1.95,1.95 0 1,0 3.90,0a1.95,1.95 0 1,0 -3.90,0zM296.1,124.8a1.95,1.95 0 1,0 3.90,0a1.95,1.95 0 1,0 -3.90,0zM315.7,118.5a1.95,1.95 0 1,0 3.90,0a1.95,1.95 0 1,0 -3.90,0zM321.4,123.2a1.95,1.95 0 1,0 3.90,0a1.95,1.95 0 1,0 -3.90,0zM314.4,118.6a1.95,1.95 0 1,0 3.90,0a1.95,1.95 0 1,0 -3.90,0zM331.0,122.5a1.95,1.95 0 1,0 3.90,0a1.95,1.95 0 1,0 -3.90,0zM322.1,119.7a1.95,1.95 0 1,0 3.90,0a1.95,1.95 0 1,0 -3.90,0zM322.9,110.2a1.95,1.95 0 1,0 3.90,0a1.95,1.95 0 1,0 -3.90,0zM45.8,144.2a1.95,1.95 0 1,0 3.90,0a1.95,1.95 0 1,0 -3.90,0zM32.2,130.9a1.95,1.95 0 1,0 3.90,0a1.95,1.95 0 1,0 -3.90,0zM34.7,115.2a1.95,1.95 0 1,0 3.90,0a1.95,1.95 0 1,0 -3.90,0zM36.4,117.3a1.95,1.95 0 1,0 3.90,0a1.95,1.95 0 1,0 -3.90,0zM38.6,113.0a1.95,1.95 0 1,0 3.90,0a1.95,1.95 0 1,0 -3.90,0zM39.8,121.5a1.95,1.95 0 1,0 3.90,0a1.95,1.95 0 1,0 -3.90,0zM41.5,123.2a1.95,1.95 0 1,0 3.90,0a1.95,1.95 0 1,0 -3.90,0zM43.2,122.4a1.95,1.95 0 1,0 3.90,0a1.95,1.95 0 1,0 -3.90,0zM45.0,116.4a1.95,1.95 0 1,0 3.90,0a1.95,1.95 0 1,0 -3.90,0zM47.2,111.3a1.95,1.95 0 1,0 3.90,0a1.95,1.95 0 1,0 -3.90,0zM49.2,119.8a1.95,1.95 0 1,0 3.90,0a1.95,1.95 0 1,0 -3.90,0zM50.9,122.4a1.95,1.95 0 1,0 3.90,0a1.95,1.95 0 1,0 -3.90,0zM52.6,126.7a1.95,1.95 0 1,0 3.90,0a1.95,1.95 0 1,0 -3.90,0zM54.3,124.1a1.95,1.95 0 1,0 3.90,0a1.95,1.95 0 1,0 -3.90,0zM56.0,128.4a1.95,1.95 0 1,0 3.90,0a1.95,1.95 0 1,0 -3.90,0zM58.6,107.9a1.95,1.95 0 1,0 3.90,0a1.95,1.95 0 1,0 -3.90,0zM59.4,115.6a1.95,1.95 0 1,0 3.90,0a1.95,1.95 0 1,0 -3.90,0zM61.2,129.2a1.95,1.95 0 1,0 3.90,0a1.95,1.95 0 1,0 -3.90,0zM62.9,117.3a1.95,1.95 0 1,0 3.90,0a1.95,1.95 0 1,0 -3.90,0zM63.7,122.4a1.95,1.95 0 1,0 3.90,0a1.95,1.95 0 1,0 -3.90,0zM65.4,124.1a1.95,1.95 0 1,0 3.90,0a1.95,1.95 0 1,0 -3.90,0zM68.0,118.1a1.95,1.95 0 1,0 3.90,0a1.95,1.95 0 1,0 -3.90,0zM69.7,128.4a1.95,1.95 0 1,0 3.90,0a1.95,1.95 0 1,0 -3.90,0zM71.0,137.7a1.95,1.95 0 1,0 3.90,0a1.95,1.95 0 1,0 -3.90,0zM73.1,136.9a1.95,1.95 0 1,0 3.90,0a1.95,1.95 0 1,0 -3.90,0zM74.8,135.2a1.95,1.95 0 1,0 3.90,0a1.95,1.95 0 1,0 -3.90,0zM76.5,129.2a1.95,1.95 0 1,0 3.90,0a1.95,1.95 0 1,0 -3.90,0zM78.2,118.1a1.95,1.95 0 1,0 3.90,0a1.95,1.95 0 1,0 -3.90,0zM79.9,127.5a1.95,1.95 0 1,0 3.90,0a1.95,1.95 0 1,0 -3.90,0zM81.6,122.4a1.95,1.95 0 1,0 3.90,0a1.95,1.95 0 1,0 -3.90,0zM84.2,128.4a1.95,1.95 0 1,0 3.90,0a1.95,1.95 0 1,0 -3.90,0zM85.9,119.0a1.95,1.95 0 1,0 3.90,0a1.95,1.95 0 1,0 -3.90,0zM87.1,120.7a1.95,1.95 0 1,0 3.90,0a1.95,1.95 0 1,0 -3.90,0zM88.1,136.0a1.95,1.95 0 1,0 3.90,0a1.95,1.95 0 1,0 -3.90,0zM89.3,141.2a1.95,1.95 0 1,0 3.90,0a1.95,1.95 0 1,0 -3.90,0zM91.0,114.7a1.95,1.95 0 1,0 3.90,0a1.95,1.95 0 1,0 -3.90,0zM92.7,119.0a1.95,1.95 0 1,0 3.90,0a1.95,1.95 0 1,0 -3.90,0zM94.9,123.2a1.95,1.95 0 1,0 3.90,0a1.95,1.95 0 1,0 -3.90,0zM96.1,130.1a1.95,1.95 0 1,0 3.90,0a1.95,1.95 0 1,0 -3.90,0zM97.8,117.3a1.95,1.95 0 1,0 3.90,0a1.95,1.95 0 1,0 -3.90,0zM99.5,119.8a1.95,1.95 0 1,0 3.90,0a1.95,1.95 0 1,0 -3.90,0zM101.2,106.2a1.95,1.95 0 1,0 3.90,0a1.95,1.95 0 1,0 -3.90,0zM102.1,132.6a1.95,1.95 0 1,0 3.90,0a1.95,1.95 0 1,0 -3.90,0zM103.8,140.3a1.95,1.95 0 1,0 3.90,0a1.95,1.95 0 1,0 -3.90,0zM105.1,142.0a1.95,1.95 0 1,0 3.90,0a1.95,1.95 0 1,0 -3.90,0zM107.2,133.5a1.95,1.95 0 1,0 3.90,0a1.95,1.95 0 1,0 -3.90,0zM108.9,122.4a1.95,1.95 0 1,0 3.90,0a1.95,1.95 0 1,0 -3.90,0zM110.6,130.1a1.95,1.95 0 1,0 3.90,0a1.95,1.95 0 1,0 -3.90,0zM112.3,110.5a1.95,1.95 0 1,0 3.90,0a1.95,1.95 0 1,0 -3.90,0zM114.0,125.0a1.95,1.95 0 1,0 3.90,0a1.95,1.95 0 1,0 -3.90,0zM114.9,140.3a1.95,1.95 0 1,0 3.90,0a1.95,1.95 0 1,0 -3.90,0zM115.7,153.9a1.95,1.95 0 1,0 3.90,0a1.95,1.95 0 1,0 -3.90,0zM117.4,113.0a1.95,1.95 0 1,0 3.90,0a1.95,1.95 0 1,0 -3.90,0zM119.1,128.4a1.95,1.95 0 1,0 3.90,0a1.95,1.95 0 1,0 -3.90,0zM120.8,120.7a1.95,1.95 0 1,0 3.90,0a1.95,1.95 0 1,0 -3.90,0zM122.5,119.8a1.95,1.95 0 1,0 3.90,0a1.95,1.95 0 1,0 -3.90,0zM125.1,126.7a1.95,1.95 0 1,0 3.90,0a1.95,1.95 0 1,0 -3.90,0zM125.9,102.8a1.95,1.95 0 1,0 3.90,0a1.95,1.95 0 1,0 -3.90,0zM127.6,129.2a1.95,1.95 0 1,0 3.90,0a1.95,1.95 0 1,0 -3.90,0zM129.4,130.1a1.95,1.95 0 1,0 3.90,0a1.95,1.95 0 1,0 -3.90,0zM130.5,107.1a1.95,1.95 0 1,0 3.90,0a1.95,1.95 0 1,0 -3.90,0zM131.9,107.1a1.95,1.95 0 1,0 3.90,0a1.95,1.95 0 1,0 -3.90,0zM134.5,114.7a1.95,1.95 0 1,0 3.90,0a1.95,1.95 0 1,0 -3.90,0zM137.0,113.9a1.95,1.95 0 1,0 3.90,0a1.95,1.95 0 1,0 -3.90,0zM137.9,123.2a1.95,1.95 0 1,0 3.90,0a1.95,1.95 0 1,0 -3.90,0zM140.4,113.9a1.95,1.95 0 1,0 3.90,0a1.95,1.95 0 1,0 -3.90,0zM143.0,121.5a1.95,1.95 0 1,0 3.90,0a1.95,1.95 0 1,0 -3.90,0zM144.7,115.6a1.95,1.95 0 1,0 3.90,0a1.95,1.95 0 1,0 -3.90,0zM147.2,107.1a1.95,1.95 0 1,0 3.90,0a1.95,1.95 0 1,0 -3.90,0zM149.0,103.3a1.95,1.95 0 1,0 3.90,0a1.95,1.95 0 1,0 -3.90,0zM148.1,124.1a1.95,1.95 0 1,0 3.90,0a1.95,1.95 0 1,0 -3.90,0zM150.1,117.3a1.95,1.95 0 1,0 3.90,0a1.95,1.95 0 1,0 -3.90,0zM151.5,129.2a1.95,1.95 0 1,0 3.90,0a1.95,1.95 0 1,0 -3.90,0zM153.2,113.9a1.95,1.95 0 1,0 3.90,0a1.95,1.95 0 1,0 -3.90,0zM155.8,124.1a1.95,1.95 0 1,0 3.90,0a1.95,1.95 0 1,0 -3.90,0zM156.6,139.4a1.95,1.95 0 1,0 3.90,0a1.95,1.95 0 1,0 -3.90,0zM158.0,110.5a1.95,1.95 0 1,0 3.90,0a1.95,1.95 0 1,0 -3.90,0zM159.2,126.7a1.95,1.95 0 1,0 3.90,0a1.95,1.95 0 1,0 -3.90,0zM160.9,114.7a1.95,1.95 0 1,0 3.90,0a1.95,1.95 0 1,0 -3.90,0zM162.6,112.2a1.95,1.95 0 1,0 3.90,0a1.95,1.95 0 1,0 -3.90,0zM164.3,117.3a1.95,1.95 0 1,0 3.90,0a1.95,1.95 0 1,0 -3.90,0zM166.0,123.2a1.95,1.95 0 1,0 3.90,0a1.95,1.95 0 1,0 -3.90,0zM168.6,128.4a1.95,1.95 0 1,0 3.90,0a1.95,1.95 0 1,0 -3.90,0zM171.1,128.4a1.95,1.95 0 1,0 3.90,0a1.95,1.95 0 1,0 -3.90,0zM172.8,134.3a1.95,1.95 0 1,0 3.90,0a1.95,1.95 0 1,0 -3.90,0zM173.7,110.5a1.95,1.95 0 1,0 3.90,0a1.95,1.95 0 1,0 -3.90,0zM175.4,136.0a1.95,1.95 0 1,0 3.90,0a1.95,1.95 0 1,0 -3.90,0zM177.1,144.6a1.95,1.95 0 1,0 3.90,0a1.95,1.95 0 1,0 -3.90,0zM178.4,118.6a1.95,1.95 0 1,0 3.90,0a1.95,1.95 0 1,0 -3.90,0zM180.5,129.2a1.95,1.95 0 1,0 3.90,0a1.95,1.95 0 1,0 -3.90,0zM182.2,121.5a1.95,1.95 0 1,0 3.90,0a1.95,1.95 0 1,0 -3.90,0zM183.6,119.0a1.95,1.95 0 1,0 3.90,0a1.95,1.95 0 1,0 -3.90,0zM184.8,125.8a1.95,1.95 0 1,0 3.90,0a1.95,1.95 0 1,0 -3.90,0zM186.5,130.9a1.95,1.95 0 1,0 3.90,0a1.95,1.95 0 1,0 -3.90,0zM188.2,126.7a1.95,1.95 0 1,0 3.90,0a1.95,1.95 0 1,0 -3.90,0zM189.9,140.3a1.95,1.95 0 1,0 3.90,0a1.95,1.95 0 1,0 -3.90,0zM191.6,125.0a1.95,1.95 0 1,0 3.90,0a1.95,1.95 0 1,0 -3.90,0zM194.1,119.0a1.95,1.95 0 1,0 3.90,0a1.95,1.95 0 1,0 -3.90,0zM195.0,115.6a1.95,1.95 0 1,0 3.90,0a1.95,1.95 0 1,0 -3.90,0zM196.7,123.2a1.95,1.95 0 1,0 3.90,0a1.95,1.95 0 1,0 -3.90,0zM198.4,110.5a1.95,1.95 0 1,0 3.90,0a1.95,1.95 0 1,0 -3.90,0zM199.3,125.0a1.95,1.95 0 1,0 3.90,0a1.95,1.95 0 1,0 -3.90,0zM201.0,130.1a1.95,1.95 0 1,0 3.90,0a1.95,1.95 0 1,0 -3.90,0zM201.8,106.2a1.95,1.95 0 1,0 3.90,0a1.95,1.95 0 1,0 -3.90,0zM202.7,110.5a1.95,1.95 0 1,0 3.90,0a1.95,1.95 0 1,0 -3.90,0zM204.4,98.2a1.95,1.95 0 1,0 3.90,0a1.95,1.95 0 1,0 -3.90,0zM206.1,118.1a1.95,1.95 0 1,0 3.90,0a1.95,1.95 0 1,0 -3.90,0zM207.8,110.5a1.95,1.95 0 1,0 3.90,0a1.95,1.95 0 1,0 -3.90,0zM208.6,113.9a1.95,1.95 0 1,0 3.90,0a1.95,1.95 0 1,0 -3.90,0zM210.3,121.5a1.95,1.95 0 1,0 3.90,0a1.95,1.95 0 1,0 -3.90,0zM212.6,115.6a1.95,1.95 0 1,0 3.90,0a1.95,1.95 0 1,0 -3.90,0zM213.7,118.1a1.95,1.95 0 1,0 3.90,0a1.95,1.95 0 1,0 -3.90,0zM215.4,123.2a1.95,1.95 0 1,0 3.90,0a1.95,1.95 0 1,0 -3.90,0zM216.3,142.9a1.95,1.95 0 1,0 3.90,0a1.95,1.95 0 1,0 -3.90,0zM218.0,131.8a1.95,1.95 0 1,0 3.90,0a1.95,1.95 0 1,0 -3.90,0zM220.6,118.1a1.95,1.95 0 1,0 3.90,0a1.95,1.95 0 1,0 -3.90,0zM222.6,139.4a1.95,1.95 0 1,0 3.90,0a1.95,1.95 0 1,0 -3.90,0zM224.8,113.9a1.95,1.95 0 1,0 3.90,0a1.95,1.95 0 1,0 -3.90,0zM227.4,134.3a1.95,1.95 0 1,0 3.90,0a1.95,1.95 0 1,0 -3.90,0zM229.1,130.9a1.95,1.95 0 1,0 3.90,0a1.95,1.95 0 1,0 -3.90,0zM229.9,116.4a1.95,1.95 0 1,0 3.90,0a1.95,1.95 0 1,0 -3.90,0zM232.5,115.6a1.95,1.95 0 1,0 3.90,0a1.95,1.95 0 1,0 -3.90,0zM236.8,113.9a1.95,1.95 0 1,0 3.90,0a1.95,1.95 0 1,0 -3.90,0zM238.5,125.0a1.95,1.95 0 1,0 3.90,0a1.95,1.95 0 1,0 -3.90,0zM241.0,129.2a1.95,1.95 0 1,0 3.90,0a1.95,1.95 0 1,0 -3.90,0zM242.7,131.8a1.95,1.95 0 1,0 3.90,0a1.95,1.95 0 1,0 -3.90,0zM244.4,135.2a1.95,1.95 0 1,0 3.90,0a1.95,1.95 0 1,0 -3.90,0zM245.3,130.9a1.95,1.95 0 1,0 3.90,0a1.95,1.95 0 1,0 -3.90,0zM247.8,130.1a1.95,1.95 0 1,0 3.90,0a1.95,1.95 0 1,0 -3.90,0zM250.4,132.6a1.95,1.95 0 1,0 3.90,0a1.95,1.95 0 1,0 -3.90,0zM252.1,118.1a1.95,1.95 0 1,0 3.90,0a1.95,1.95 0 1,0 -3.90,0zM253.8,117.3a1.95,1.95 0 1,0 3.90,0a1.95,1.95 0 1,0 -3.90,0zM254.7,122.4a1.95,1.95 0 1,0 3.90,0a1.95,1.95 0 1,0 -3.90,0zM256.4,128.4a1.95,1.95 0 1,0 3.90,0a1.95,1.95 0 1,0 -3.90,0zM258.1,125.8a1.95,1.95 0 1,0 3.90,0a1.95,1.95 0 1,0 -3.90,0zM259.8,109.6a1.95,1.95 0 1,0 3.90,0a1.95,1.95 0 1,0 -3.90,0zM262.0,104.0a1.95,1.95 0 1,0 3.90,0a1.95,1.95 0 1,0 -3.90,0zM264.0,137.7a1.95,1.95 0 1,0 3.90,0a1.95,1.95 0 1,0 -3.90,0zM265.7,107.1a1.95,1.95 0 1,0 3.90,0a1.95,1.95 0 1,0 -3.90,0zM267.4,128.4a1.95,1.95 0 1,0 3.90,0a1.95,1.95 0 1,0 -3.90,0zM269.2,119.0a1.95,1.95 0 1,0 3.90,0a1.95,1.95 0 1,0 -3.90,0zM270.9,114.7a1.95,1.95 0 1,0 3.90,0a1.95,1.95 0 1,0 -3.90,0zM272.6,108.8a1.95,1.95 0 1,0 3.90,0a1.95,1.95 0 1,0 -3.90,0zM273.4,126.7a1.95,1.95 0 1,0 3.90,0a1.95,1.95 0 1,0 -3.90,0zM275.1,129.2a1.95,1.95 0 1,0 3.90,0a1.95,1.95 0 1,0 -3.90,0zM276.8,120.7a1.95,1.95 0 1,0 3.90,0a1.95,1.95 0 1,0 -3.90,0zM278.5,117.3a1.95,1.95 0 1,0 3.90,0a1.95,1.95 0 1,0 -3.90,0zM280.2,131.8a1.95,1.95 0 1,0 3.90,0a1.95,1.95 0 1,0 -3.90,0zM281.9,134.3a1.95,1.95 0 1,0 3.90,0a1.95,1.95 0 1,0 -3.90,0zM283.6,130.9a1.95,1.95 0 1,0 3.90,0a1.95,1.95 0 1,0 -3.90,0zM286.2,116.4a1.95,1.95 0 1,0 3.90,0a1.95,1.95 0 1,0 -3.90,0zM287.9,117.3a1.95,1.95 0 1,0 3.90,0a1.95,1.95 0 1,0 -3.90,0zM288.8,130.9a1.95,1.95 0 1,0 3.90,0a1.95,1.95 0 1,0 -3.90,0zM290.0,96.5a1.95,1.95 0 1,0 3.90,0a1.95,1.95 0 1,0 -3.90,0zM292.2,117.3a1.95,1.95 0 1,0 3.90,0a1.95,1.95 0 1,0 -3.90,0zM294.7,95.5a1.95,1.95 0 1,0 3.90,0a1.95,1.95 0 1,0 -3.90,0zM295.6,128.4a1.95,1.95 0 1,0 3.90,0a1.95,1.95 0 1,0 -3.90,0zM297.8,116.4a1.95,1.95 0 1,0 3.90,0a1.95,1.95 0 1,0 -3.90,0zM299.8,130.9a1.95,1.95 0 1,0 3.90,0a1.95,1.95 0 1,0 -3.90,0zM301.2,106.2a1.95,1.95 0 1,0 3.90,0a1.95,1.95 0 1,0 -3.90,0zM303.3,110.1a1.95,1.95 0 1,0 3.90,0a1.95,1.95 0 1,0 -3.90,0zM304.1,125.8a1.95,1.95 0 1,0 3.90,0a1.95,1.95 0 1,0 -3.90,0zM306.7,125.0a1.95,1.95 0 1,0 3.90,0a1.95,1.95 0 1,0 -3.90,0zM308.4,136.9a1.95,1.95 0 1,0 3.90,0a1.95,1.95 0 1,0 -3.90,0zM309.2,108.4a1.95,1.95 0 1,0 3.90,0a1.95,1.95 0 1,0 -3.90,0zM310.1,124.1a1.95,1.95 0 1,0 3.90,0a1.95,1.95 0 1,0 -3.90,0zM312.6,125.0a1.95,1.95 0 1,0 3.90,0a1.95,1.95 0 1,0 -3.90,0zM314.3,125.8a1.95,1.95 0 1,0 3.90,0a1.95,1.95 0 1,0 -3.90,0zM316.0,127.5a1.95,1.95 0 1,0 3.90,0a1.95,1.95 0 1,0 -3.90,0zM316.9,134.3a1.95,1.95 0 1,0 3.90,0a1.95,1.95 0 1,0 -3.90,0zM319.4,118.1a1.95,1.95 0 1,0 3.90,0a1.95,1.95 0 1,0 -3.90,0zM321.2,119.8a1.95,1.95 0 1,0 3.90,0a1.95,1.95 0 1,0 -3.90,0zM322.9,117.3a1.95,1.95 0 1,0 3.90,0a1.95,1.95 0 1,0 -3.90,0zM324.6,111.3a1.95,1.95 0 1,0 3.90,0a1.95,1.95 0 1,0 -3.90,0zM325.4,98.9a1.95,1.95 0 1,0 3.90,0a1.95,1.95 0 1,0 -3.90,0zM327.1,130.9a1.95,1.95 0 1,0 3.90,0a1.95,1.95 0 1,0 -3.90,0zM328.8,123.2a1.95,1.95 0 1,0 3.90,0a1.95,1.95 0 1,0 -3.90,0zM330.5,124.1a1.95,1.95 0 1,0 3.90,0a1.95,1.95 0 1,0 -3.90,0zM333.1,124.1a1.95,1.95 0 1,0 3.90,0a1.95,1.95 0 1,0 -3.90,0zM333.9,93.8a1.95,1.95 0 1,0 3.90,0a1.95,1.95 0 1,0 -3.90,0zM334.8,109.6a1.95,1.95 0 1,0 3.90,0a1.95,1.95 0 1,0 -3.90,0zM337.4,120.7a1.95,1.95 0 1,0 3.90,0a1.95,1.95 0 1,0 -3.90,0z" fill="rgb(96,128,232)" fill-opacity="0.82"/>
<path d="M29.4,124.81L338.0,120.94" stroke="rgb(125,20,40)" stroke-width="1.2"/>
<text x="347.4" y="7.6" font-size="11" font-weight="bold" fill="#000" style="stroke:#000;stroke-width:0.35px">b</text>
<text x="526.8" y="9.0" font-size="6.6" fill="#111" textLength="8.9" lengthAdjust="spacingAndGlyphs">SH</text>
<text transform="translate(353.4,90.1) rotate(-90)" text-anchor="middle" font-size="6.6" fill="#1a1a1a">Anomalies in Lat_U0</text>
<path d="M377.2,13.4 V167.22 H685.5" fill="none" stroke="#8f8f8f" stroke-width="0.9"/>
<path d="M374.60,167.22H377.2 M376.20,162.83H377.4 M376.20,158.44H377.4 M376.20,154.04H377.4 M376.20,149.64H377.4 M374.60,145.25H377.2 M376.20,140.85H377.4 M376.20,136.46H377.4 M376.20,132.06H377.4 M376.20,127.67H377.4 M374.60,123.27H377.2 M376.20,118.88H377.4 M376.20,114.48H377.4 M376.20,110.09H377.4 M376.20,105.69H377.4 M374.60,101.30H377.2 M376.20,96.91H377.4 M376.20,92.51H377.4 M376.20,88.11H377.4 M376.20,83.72H377.4 M374.60,79.32H377.2 M376.20,74.93H377.4 M376.20,70.53H377.4 M376.20,66.14H377.4 M376.20,61.74H377.4 M374.60,57.35H377.2 M376.20,52.95H377.4 M376.20,48.56H377.4 M376.20,44.17H377.4 M376.20,39.77H377.4 M374.60,35.38H377.2 M376.20,30.98H377.4 M376.20,26.58H377.4 M376.20,22.19H377.4 M376.20,17.80H377.4 M374.60,13.40H377.2 M377.20,167.22V169.82 M391.92,167.22V169.82 M406.64,167.22V169.82 M421.36,167.22V169.82 M436.08,167.22V169.82 M450.80,167.22V169.82 M465.52,167.22V169.82 M480.24,167.22V169.82 M494.96,167.22V169.82 M509.68,167.22V169.82 M524.40,167.22V169.82 M539.12,167.22V169.82 M553.84,167.22V169.82 M568.56,167.22V169.82 M583.28,167.22V169.82 M598.00,167.22V169.82 M612.72,167.22V169.82 M627.44,167.22V169.82 M642.16,167.22V169.82 M656.88,167.22V169.82 M671.60,167.22V169.82" fill="none" stroke="#555" stroke-width="0.8"/>
<text x="367.90" y="169.53" text-anchor="end" font-size="6.6" fill="#1a1a1a">−10</text>
<circle cx="369.80" cy="165.62" r="0.75" fill="none" stroke="#444" stroke-width="0.6"/>
<text x="367.90" y="147.55" text-anchor="end" font-size="6.6" fill="#1a1a1a">−5</text>
<circle cx="369.80" cy="143.65" r="0.75" fill="none" stroke="#444" stroke-width="0.6"/>
<text x="367.90" y="125.57" text-anchor="end" font-size="6.6" fill="#1a1a1a">0</text>
<circle cx="369.80" cy="121.67" r="0.75" fill="none" stroke="#444" stroke-width="0.6"/>
<text x="367.90" y="103.60" text-anchor="end" font-size="6.6" fill="#1a1a1a">5</text>
<circle cx="369.80" cy="99.70" r="0.75" fill="none" stroke="#444" stroke-width="0.6"/>
<text x="367.90" y="81.62" text-anchor="end" font-size="6.6" fill="#1a1a1a">10</text>
<circle cx="369.80" cy="77.72" r="0.75" fill="none" stroke="#444" stroke-width="0.6"/>
<text x="367.90" y="59.65" text-anchor="end" font-size="6.6" fill="#1a1a1a">15</text>
<circle cx="369.80" cy="55.75" r="0.75" fill="none" stroke="#444" stroke-width="0.6"/>
<text x="367.90" y="37.67" text-anchor="end" font-size="6.6" fill="#1a1a1a">20</text>
<circle cx="369.80" cy="33.77" r="0.75" fill="none" stroke="#444" stroke-width="0.6"/>
<text x="367.90" y="15.70" text-anchor="end" font-size="6.6" fill="#1a1a1a">25</text>
<circle cx="369.80" cy="11.80" r="0.75" fill="none" stroke="#444" stroke-width="0.6"/>
<text transform="translate(381.80,176.62) rotate(-45)" text-anchor="end" font-size="6.7" fill="#1a1a1a">2000</text>
<text transform="translate(396.52,176.62) rotate(-45)" text-anchor="end" font-size="6.7" fill="#1a1a1a">2001</text>
<text transform="translate(411.24,176.62) rotate(-45)" text-anchor="end" font-size="6.7" fill="#1a1a1a">2002</text>
<text transform="translate(425.96,176.62) rotate(-45)" text-anchor="end" font-size="6.7" fill="#1a1a1a">2003</text>
<text transform="translate(440.68,176.62) rotate(-45)" text-anchor="end" font-size="6.7" fill="#1a1a1a">2004</text>
<text transform="translate(455.40,176.62) rotate(-45)" text-anchor="end" font-size="6.7" fill="#1a1a1a">2005</text>
<text transform="translate(470.12,176.62) rotate(-45)" text-anchor="end" font-size="6.7" fill="#1a1a1a">2006</text>
<text transform="translate(484.84,176.62) rotate(-45)" text-anchor="end" font-size="6.7" fill="#1a1a1a">2007</text>
<text transform="translate(499.56,176.62) rotate(-45)" text-anchor="end" font-size="6.7" fill="#1a1a1a">2008</text>
<text transform="translate(514.28,176.62) rotate(-45)" text-anchor="end" font-size="6.7" fill="#1a1a1a">2009</text>
<text transform="translate(529.00,176.62) rotate(-45)" text-anchor="end" font-size="6.7" fill="#1a1a1a">2010</text>
<text transform="translate(543.72,176.62) rotate(-45)" text-anchor="end" font-size="6.7" fill="#1a1a1a">2011</text>
<text transform="translate(558.44,176.62) rotate(-45)" text-anchor="end" font-size="6.7" fill="#1a1a1a">2012</text>
<text transform="translate(573.16,176.62) rotate(-45)" text-anchor="end" font-size="6.7" fill="#1a1a1a">2013</text>
<text transform="translate(587.88,176.62) rotate(-45)" text-anchor="end" font-size="6.7" fill="#1a1a1a">2014</text>
<text transform="translate(602.60,176.62) rotate(-45)" text-anchor="end" font-size="6.7" fill="#1a1a1a">2015</text>
<text transform="translate(617.32,176.62) rotate(-45)" text-anchor="end" font-size="6.7" fill="#1a1a1a">2016</text>
<text transform="translate(632.04,176.62) rotate(-45)" text-anchor="end" font-size="6.7" fill="#1a1a1a">2017</text>
<text transform="translate(646.76,176.62) rotate(-45)" text-anchor="end" font-size="6.7" fill="#1a1a1a">2018</text>
<text transform="translate(661.48,176.62) rotate(-45)" text-anchor="end" font-size="6.7" fill="#1a1a1a">2019</text>
<text transform="translate(676.20,176.62) rotate(-45)" text-anchor="end" font-size="6.7" fill="#1a1a1a">2020</text>
<circle cx="387.90" cy="23.80" r="1.75" fill="rgb(105,138,236)"/>
<text x="392.70" y="26.00" font-size="6.5" fill="#111">CMV: −0.02 ± 0.14° decade<tspan font-size="4.2" dx="0.5" dy="-3.0">−1</tspan><tspan dx="0.3" dy="3.0">; </tspan><tspan font-style="italic">P</tspan> = 0.89</text>
<polygon points="387.9,35.3 388.4,36.7 389.9,36.8 388.8,37.7 389.1,39.1 387.9,38.3 386.7,39.1 387.0,37.7 385.9,36.8 387.4,36.7" fill="rgb(55,55,55)"/>
<text x="392.70" y="39.60" font-size="6.5" fill="#111">ERA5_MS: −0.01 ± 0.14° decade<tspan font-size="4.2" dx="0.5" dy="-3.0">−1</tspan><tspan dx="0.3" dy="3.0">; </tspan><tspan font-style="italic">P</tspan> = 0.95</text>
<polygon points="387.90,48.91 385.95,52.28 389.85,52.28" fill="rgb(238,36,36)"/>
<text x="392.70" y="53.20" font-size="6.5" fill="#111">ERA5_AW: −0.17 ± 0.11° decade<tspan font-size="4.2" dx="0.5" dy="-3.0">−1</tspan><tspan dx="0.3" dy="3.0">; </tspan><tspan font-style="italic">P</tspan> = 0.13</text>
<path d="M379.1,128.9l2.15,-3.74l2.15,3.74zM381.7,119.6l2.15,-3.74l2.15,3.74zM385.9,121.3l2.15,-3.74l2.15,3.74zM388.5,117.0l2.15,-3.74l2.15,3.74zM391.0,122.1l2.15,-3.74l2.15,3.74zM392.8,126.4l2.15,-3.74l2.15,3.74zM397.9,117.8l2.15,-3.74l2.15,3.74zM399.6,130.6l2.15,-3.74l2.15,3.74zM402.1,133.2l2.15,-3.74l2.15,3.74zM404.7,126.4l2.15,-3.74l2.15,3.74zM408.1,114.4l2.15,-3.74l2.15,3.74zM409.8,118.7l2.15,-3.74l2.15,3.74zM411.5,117.8l2.15,-3.74l2.15,3.74zM413.2,125.5l2.15,-3.74l2.15,3.74zM416.6,113.6l2.15,-3.74l2.15,3.74zM418.3,123.8l2.15,-3.74l2.15,3.74zM420.0,122.1l2.15,-3.74l2.15,3.74zM422.6,127.2l2.15,-3.74l2.15,3.74zM425.1,130.6l2.15,-3.74l2.15,3.74zM426.9,119.6l2.15,-3.74l2.15,3.74zM430.3,119.6l2.15,-3.74l2.15,3.74zM432.8,123.8l2.15,-3.74l2.15,3.74zM436.2,117.8l2.15,-3.74l2.15,3.74zM438.8,125.5l2.15,-3.74l2.15,3.74zM443.1,117.8l2.15,-3.74l2.15,3.74zM445.6,124.7l2.15,-3.74l2.15,3.74zM448.2,118.7l2.15,-3.74l2.15,3.74zM449.9,128.1l2.15,-3.74l2.15,3.74zM455.8,117.0l2.15,-3.74l2.15,3.74zM458.4,125.5l2.15,-3.74l2.15,3.74zM463.5,115.3l2.15,-3.74l2.15,3.74zM466.1,123.8l2.15,-3.74l2.15,3.74zM470.3,117.8l2.15,-3.74l2.15,3.74zM472.9,123.8l2.15,-3.74l2.15,3.74zM476.3,123.0l2.15,-3.74l2.15,3.74zM479.7,117.8l2.15,-3.74l2.15,3.74zM481.4,125.5l2.15,-3.74l2.15,3.74zM485.7,120.4l2.15,-3.74l2.15,3.74zM489.1,126.4l2.15,-3.74l2.15,3.74zM492.5,133.2l2.15,-3.74l2.15,3.74zM495.9,128.1l2.15,-3.74l2.15,3.74zM500.2,127.2l2.15,-3.74l2.15,3.74zM501.0,115.3l2.15,-3.74l2.15,3.74zM502.7,131.5l2.15,-3.74l2.15,3.74zM506.1,126.4l2.15,-3.74l2.15,3.74zM509.5,122.1l2.15,-3.74l2.15,3.74zM514.7,117.0l2.15,-3.74l2.15,3.74zM518.1,126.4l2.15,-3.74l2.15,3.74zM519.8,130.6l2.15,-3.74l2.15,3.74zM524.0,117.0l2.15,-3.74l2.15,3.74zM525.7,129.8l2.15,-3.74l2.15,3.74zM528.3,133.2l2.15,-3.74l2.15,3.74zM531.7,126.4l2.15,-3.74l2.15,3.74zM535.1,129.8l2.15,-3.74l2.15,3.74zM538.5,134.9l2.15,-3.74l2.15,3.74zM541.9,131.5l2.15,-3.74l2.15,3.74zM547.1,121.3l2.15,-3.74l2.15,3.74zM550.5,126.4l2.15,-3.74l2.15,3.74zM551.3,136.1l2.15,-3.74l2.15,3.74zM553.9,114.4l2.15,-3.74l2.15,3.74zM554.7,123.8l2.15,-3.74l2.15,3.74zM559.0,129.8l2.15,-3.74l2.15,3.74zM560.2,136.6l2.15,-3.74l2.15,3.74zM562.4,127.2l2.15,-3.74l2.15,3.74zM565.0,121.3l2.15,-3.74l2.15,3.74zM570.9,122.1l2.15,-3.74l2.15,3.74zM575.2,132.3l2.15,-3.74l2.15,3.74zM579.4,131.5l2.15,-3.74l2.15,3.74zM581.2,126.4l2.15,-3.74l2.15,3.74zM584.0,125.5l2.15,-3.74l2.15,3.74zM586.5,117.8l2.15,-3.74l2.15,3.74zM588.2,119.6l2.15,-3.74l2.15,3.74zM589.9,125.5l2.15,-3.74l2.15,3.74zM593.3,123.8l2.15,-3.74l2.15,3.74zM597.6,123.0l2.15,-3.74l2.15,3.74zM603.6,131.5l2.15,-3.74l2.15,3.74zM606.1,121.3l2.15,-3.74l2.15,3.74zM609.5,128.1l2.15,-3.74l2.15,3.74zM613.0,130.6l2.15,-3.74l2.15,3.74zM615.5,123.0l2.15,-3.74l2.15,3.74zM617.7,133.2l2.15,-3.74l2.15,3.74zM620.6,125.5l2.15,-3.74l2.15,3.74zM623.2,117.8l2.15,-3.74l2.15,3.74zM626.6,123.8l2.15,-3.74l2.15,3.74zM630.0,127.2l2.15,-3.74l2.15,3.74zM633.4,129.8l2.15,-3.74l2.15,3.74zM636.8,121.3l2.15,-3.74l2.15,3.74zM639.4,128.9l2.15,-3.74l2.15,3.74zM642.8,121.3l2.15,-3.74l2.15,3.74zM646.2,118.7l2.15,-3.74l2.15,3.74zM650.5,131.5l2.15,-3.74l2.15,3.74zM653.9,119.6l2.15,-3.74l2.15,3.74zM659.0,125.5l2.15,-3.74l2.15,3.74zM660.7,131.5l2.15,-3.74l2.15,3.74zM664.1,122.1l2.15,-3.74l2.15,3.74zM672.6,129.8l2.15,-3.74l2.15,3.74zM676.0,121.3l2.15,-3.74l2.15,3.74zM679.4,130.6l2.15,-3.74l2.15,3.74zM382.0,126.5l2.15,-3.74l2.15,3.74zM382.5,125.4l2.15,-3.74l2.15,3.74zM439.9,127.8l2.15,-3.74l2.15,3.74zM443.1,128.5l2.15,-3.74l2.15,3.74zM452.0,121.9l2.15,-3.74l2.15,3.74zM470.9,127.2l2.15,-3.74l2.15,3.74zM466.6,130.2l2.15,-3.74l2.15,3.74zM490.3,123.2l2.15,-3.74l2.15,3.74zM548.4,123.1l2.15,-3.74l2.15,3.74zM552.9,124.2l2.15,-3.74l2.15,3.74zM574.5,124.7l2.15,-3.74l2.15,3.74zM568.0,125.1l2.15,-3.74l2.15,3.74zM568.0,129.1l2.15,-3.74l2.15,3.74zM582.3,123.6l2.15,-3.74l2.15,3.74zM627.5,125.5l2.15,-3.74l2.15,3.74zM642.2,131.1l2.15,-3.74l2.15,3.74zM664.6,120.3l2.15,-3.74l2.15,3.74zM661.1,134.2l2.15,-3.74l2.15,3.74zM681.8,129.8l2.15,-3.74l2.15,3.74zM382.1,124.8l2.15,-3.74l2.15,3.74zM381.5,126.3l2.15,-3.74l2.15,3.74zM439.7,128.3l2.15,-3.74l2.15,3.74zM442.6,125.7l2.15,-3.74l2.15,3.74zM452.6,121.5l2.15,-3.74l2.15,3.74zM471.2,130.0l2.15,-3.74l2.15,3.74zM465.0,129.3l2.15,-3.74l2.15,3.74zM549.8,120.1l2.15,-3.74l2.15,3.74zM552.3,123.8l2.15,-3.74l2.15,3.74zM568.5,126.9l2.15,-3.74l2.15,3.74zM568.3,128.0l2.15,-3.74l2.15,3.74zM629.2,125.9l2.15,-3.74l2.15,3.74zM643.5,131.3l2.15,-3.74l2.15,3.74zM663.5,122.7l2.15,-3.74l2.15,3.74zM660.3,136.7l2.15,-3.74l2.15,3.74zM681.1,127.9l2.15,-3.74l2.15,3.74zM381.5,127.4l2.15,-3.74l2.15,3.74zM387.1,127.1l2.15,-3.74l2.15,3.74zM390.7,122.4l2.15,-3.74l2.15,3.74zM392.4,131.2l2.15,-3.74l2.15,3.74zM393.9,134.3l2.15,-3.74l2.15,3.74zM395.8,130.5l2.15,-3.74l2.15,3.74zM396.4,119.7l2.15,-3.74l2.15,3.74zM401.8,141.2l2.15,-3.74l2.15,3.74zM403.4,128.5l2.15,-3.74l2.15,3.74zM406.7,129.0l2.15,-3.74l2.15,3.74zM408.5,133.3l2.15,-3.74l2.15,3.74zM410.6,122.1l2.15,-3.74l2.15,3.74zM412.9,129.5l2.15,-3.74l2.15,3.74zM417.2,116.3l2.15,-3.74l2.15,3.74zM418.2,120.9l2.15,-3.74l2.15,3.74zM420.6,116.8l2.15,-3.74l2.15,3.74zM421.1,126.6l2.15,-3.74l2.15,3.74zM423.7,118.6l2.15,-3.74l2.15,3.74zM425.1,133.0l2.15,-3.74l2.15,3.74zM425.8,114.9l2.15,-3.74l2.15,3.74zM429.2,117.1l2.15,-3.74l2.15,3.74zM432.0,118.0l2.15,-3.74l2.15,3.74zM432.6,125.1l2.15,-3.74l2.15,3.74zM435.3,131.3l2.15,-3.74l2.15,3.74zM437.5,121.9l2.15,-3.74l2.15,3.74zM439.2,127.7l2.15,-3.74l2.15,3.74zM441.7,131.1l2.15,-3.74l2.15,3.74zM444.9,124.8l2.15,-3.74l2.15,3.74zM450.0,123.9l2.15,-3.74l2.15,3.74zM453.7,130.4l2.15,-3.74l2.15,3.74zM455.1,121.8l2.15,-3.74l2.15,3.74zM457.5,113.0l2.15,-3.74l2.15,3.74zM459.9,123.1l2.15,-3.74l2.15,3.74zM462.5,127.4l2.15,-3.74l2.15,3.74zM463.8,114.8l2.15,-3.74l2.15,3.74zM464.6,121.4l2.15,-3.74l2.15,3.74zM468.0,122.3l2.15,-3.74l2.15,3.74zM469.7,110.5l2.15,-3.74l2.15,3.74zM472.2,110.7l2.15,-3.74l2.15,3.74zM474.2,128.4l2.15,-3.74l2.15,3.74zM476.0,121.5l2.15,-3.74l2.15,3.74zM477.2,118.5l2.15,-3.74l2.15,3.74zM481.2,121.4l2.15,-3.74l2.15,3.74zM482.6,123.3l2.15,-3.74l2.15,3.74zM484.0,132.6l2.15,-3.74l2.15,3.74zM488.1,124.4l2.15,-3.74l2.15,3.74zM489.5,122.5l2.15,-3.74l2.15,3.74zM492.9,138.4l2.15,-3.74l2.15,3.74zM494.7,126.5l2.15,-3.74l2.15,3.74zM496.4,132.2l2.15,-3.74l2.15,3.74zM497.2,120.6l2.15,-3.74l2.15,3.74zM500.7,121.4l2.15,-3.74l2.15,3.74zM501.1,110.4l2.15,-3.74l2.15,3.74zM502.0,137.4l2.15,-3.74l2.15,3.74zM506.9,128.0l2.15,-3.74l2.15,3.74zM508.9,120.6l2.15,-3.74l2.15,3.74zM510.1,116.2l2.15,-3.74l2.15,3.74zM511.8,122.8l2.15,-3.74l2.15,3.74zM514.1,111.0l2.15,-3.74l2.15,3.74zM515.1,124.1l2.15,-3.74l2.15,3.74zM519.6,124.6l2.15,-3.74l2.15,3.74zM520.7,123.4l2.15,-3.74l2.15,3.74zM521.8,135.2l2.15,-3.74l2.15,3.74zM524.6,121.8l2.15,-3.74l2.15,3.74zM529.6,124.4l2.15,-3.74l2.15,3.74zM533.6,128.2l2.15,-3.74l2.15,3.74zM534.8,132.8l2.15,-3.74l2.15,3.74zM537.6,126.3l2.15,-3.74l2.15,3.74zM539.6,125.4l2.15,-3.74l2.15,3.74zM541.0,127.6l2.15,-3.74l2.15,3.74zM542.9,130.1l2.15,-3.74l2.15,3.74zM544.2,133.3l2.15,-3.74l2.15,3.74zM547.0,118.6l2.15,-3.74l2.15,3.74zM552.0,127.6l2.15,-3.74l2.15,3.74zM553.4,119.2l2.15,-3.74l2.15,3.74zM555.0,126.1l2.15,-3.74l2.15,3.74zM557.3,133.3l2.15,-3.74l2.15,3.74zM559.4,129.9l2.15,-3.74l2.15,3.74zM562.8,122.7l2.15,-3.74l2.15,3.74zM566.1,123.1l2.15,-3.74l2.15,3.74zM571.4,117.4l2.15,-3.74l2.15,3.74zM575.0,127.5l2.15,-3.74l2.15,3.74zM576.0,123.2l2.15,-3.74l2.15,3.74zM578.1,118.1l2.15,-3.74l2.15,3.74zM581.8,118.6l2.15,-3.74l2.15,3.74zM584.6,130.2l2.15,-3.74l2.15,3.74zM585.5,123.1l2.15,-3.74l2.15,3.74zM591.0,113.0l2.15,-3.74l2.15,3.74zM593.3,120.9l2.15,-3.74l2.15,3.74zM595.1,127.6l2.15,-3.74l2.15,3.74zM596.9,120.0l2.15,-3.74l2.15,3.74zM598.1,131.3l2.15,-3.74l2.15,3.74zM598.8,108.1l2.15,-3.74l2.15,3.74zM600.1,119.6l2.15,-3.74l2.15,3.74zM603.8,126.9l2.15,-3.74l2.15,3.74zM609.5,132.5l2.15,-3.74l2.15,3.74zM610.0,121.4l2.15,-3.74l2.15,3.74zM611.5,129.3l2.15,-3.74l2.15,3.74zM615.3,118.4l2.15,-3.74l2.15,3.74zM617.0,130.6l2.15,-3.74l2.15,3.74zM619.5,117.5l2.15,-3.74l2.15,3.74zM620.3,126.1l2.15,-3.74l2.15,3.74zM622.5,115.7l2.15,-3.74l2.15,3.74zM623.4,121.1l2.15,-3.74l2.15,3.74zM624.6,117.4l2.15,-3.74l2.15,3.74zM627.2,119.6l2.15,-3.74l2.15,3.74zM627.9,120.7l2.15,-3.74l2.15,3.74zM630.0,131.0l2.15,-3.74l2.15,3.74zM632.2,122.4l2.15,-3.74l2.15,3.74zM635.7,123.5l2.15,-3.74l2.15,3.74zM636.8,123.6l2.15,-3.74l2.15,3.74zM638.9,128.2l2.15,-3.74l2.15,3.74zM640.8,125.5l2.15,-3.74l2.15,3.74zM642.2,118.8l2.15,-3.74l2.15,3.74zM644.4,117.7l2.15,-3.74l2.15,3.74zM648.4,130.1l2.15,-3.74l2.15,3.74zM649.3,125.5l2.15,-3.74l2.15,3.74zM652.0,128.3l2.15,-3.74l2.15,3.74zM653.5,120.9l2.15,-3.74l2.15,3.74zM658.2,129.9l2.15,-3.74l2.15,3.74zM659.9,135.4l2.15,-3.74l2.15,3.74zM663.0,126.6l2.15,-3.74l2.15,3.74zM665.1,122.6l2.15,-3.74l2.15,3.74zM666.8,118.7l2.15,-3.74l2.15,3.74zM669.9,122.2l2.15,-3.74l2.15,3.74zM674.0,114.5l2.15,-3.74l2.15,3.74zM675.7,117.3l2.15,-3.74l2.15,3.74zM676.7,122.4l2.15,-3.74l2.15,3.74zM680.1,128.1l2.15,-3.74l2.15,3.74zM680.7,133.0l2.15,-3.74l2.15,3.74zM682.6,121.9l2.15,-3.74l2.15,3.74z" fill="rgb(238,36,36)"/>
<path d="M383.0,127.9L383.7,129.1L385.1,129.4L384.1,130.4L384.3,131.8L383.0,131.3L381.7,131.8L381.8,130.4L380.9,129.4L382.3,129.1zM398.3,118.5L399.0,119.7L400.4,120.0L399.5,121.1L399.6,122.5L398.3,121.9L397.0,122.5L397.2,121.1L396.2,120.0L397.6,119.7zM400.9,112.5L401.6,113.7L403.0,114.0L402.0,115.1L402.2,116.5L400.9,115.9L399.6,116.5L399.7,115.1L398.8,114.0L400.2,113.7zM411.1,121.0L411.8,122.3L413.2,122.6L412.3,123.6L412.4,125.0L411.1,124.5L409.8,125.0L409.9,123.6L409.0,122.6L410.4,122.3zM423.9,126.2L424.6,127.4L426.0,127.7L425.0,128.7L425.2,130.1L423.9,129.6L422.6,130.1L422.7,128.7L421.8,127.7L423.2,127.4zM434.1,110.8L434.8,112.0L436.2,112.3L435.3,113.4L435.4,114.8L434.1,114.2L432.8,114.8L433.0,113.4L432.0,112.3L433.4,112.0zM438.4,110.8L439.1,112.0L440.5,112.3L439.5,113.4L439.7,114.8L438.4,114.2L437.1,114.8L437.2,113.4L436.3,112.3L437.7,112.0zM444.3,118.5L445.1,119.7L446.4,120.0L445.5,121.1L445.6,122.5L444.3,121.9L443.1,122.5L443.2,121.1L442.3,120.0L443.6,119.7zM454.6,101.4L455.3,102.7L456.7,103.0L455.7,104.0L455.9,105.4L454.6,104.9L453.3,105.4L453.4,104.0L452.5,103.0L453.9,102.7zM459.7,111.7L460.4,112.9L461.8,113.2L460.8,114.2L461.0,115.7L459.7,115.1L458.4,115.7L458.5,114.2L457.6,113.2L459.0,112.9zM500.9,107.9L501.7,109.1L503.0,109.4L502.1,110.5L502.2,111.9L500.9,111.3L499.7,111.9L499.8,110.5L498.9,109.4L500.2,109.1zM503.2,126.2L503.9,127.4L505.3,127.7L504.3,128.7L504.5,130.1L503.2,129.6L501.9,130.1L502.0,128.7L501.1,127.7L502.5,127.4zM515.1,117.6L515.8,118.9L517.2,119.2L516.3,120.2L516.4,121.6L515.1,121.0L513.8,121.6L513.9,120.2L513.0,119.2L514.4,118.9zM521.9,118.5L522.6,119.7L524.0,120.0L523.1,121.1L523.2,122.5L521.9,121.9L520.6,122.5L520.8,121.1L519.8,120.0L521.2,119.7zM527.9,127.9L528.6,129.1L530.0,129.4L529.0,130.4L529.2,131.8L527.9,131.3L526.6,131.8L526.7,130.4L525.8,129.4L527.2,129.1zM547.5,113.4L548.2,114.6L549.6,114.9L548.6,115.9L548.8,117.4L547.5,116.8L546.2,117.4L546.3,115.9L545.4,114.9L546.8,114.6zM550.1,121.0L550.8,122.3L552.1,122.6L551.2,123.6L551.3,125.0L550.1,124.5L548.8,125.0L548.9,123.6L548.0,122.6L549.3,122.3zM568.0,115.1L568.7,116.3L570.0,116.6L569.1,117.7L569.2,119.1L568.0,118.5L566.7,119.1L566.8,117.7L565.9,116.6L567.2,116.3zM576.5,127.0L577.2,128.2L578.6,128.5L577.6,129.6L577.8,131.0L576.5,130.4L575.2,131.0L575.3,129.6L574.4,128.5L575.8,128.2zM601.5,106.9L602.2,108.1L603.6,108.4L602.6,109.5L602.8,110.9L601.5,110.3L600.2,110.9L600.3,109.5L599.4,108.4L600.7,108.1zM609.1,115.9L609.8,117.2L611.2,117.5L610.3,118.5L610.4,119.9L609.1,119.3L607.8,119.9L608.0,118.5L607.0,117.5L608.4,117.2zM629.6,119.3L630.3,120.6L631.7,120.9L630.7,121.9L630.9,123.3L629.6,122.8L628.3,123.3L628.4,121.9L627.5,120.9L628.9,120.6zM633.9,115.9L634.6,117.2L635.9,117.5L635.0,118.5L635.1,119.9L633.9,119.3L632.6,119.9L632.7,118.5L631.8,117.5L633.1,117.2zM645.8,117.6L646.5,118.9L647.9,119.2L646.9,120.2L647.1,121.6L645.8,121.0L644.5,121.6L644.6,120.2L643.7,119.2L645.1,118.9zM655.2,121.0L655.9,122.3L657.3,122.6L656.3,123.6L656.5,125.0L655.2,124.5L653.9,125.0L654.0,123.6L653.1,122.6L654.5,122.3zM660.3,127.9L661.0,129.1L662.4,129.4L661.4,130.4L661.6,131.8L660.3,131.3L659.0,131.8L659.1,130.4L658.2,129.4L659.6,129.1zM666.3,123.6L667.0,124.8L668.3,125.1L667.4,126.2L667.5,127.6L666.3,127.0L665.0,127.6L665.1,126.2L664.2,125.1L665.5,124.8zM673.9,118.5L674.6,119.7L676.0,120.0L675.1,121.1L675.2,122.5L673.9,121.9L672.6,122.5L672.8,121.1L671.8,120.0L673.2,119.7zM472.6,126.8L473.3,128.0L474.7,128.3L473.8,129.4L473.9,130.8L472.6,130.2L471.3,130.8L471.5,129.4L470.5,128.3L471.9,128.0zM491.8,120.6L492.5,121.8L493.9,122.1L493.0,123.2L493.1,124.6L491.8,124.0L490.5,124.6L490.7,123.2L489.7,122.1L491.1,121.8zM554.8,122.2L555.5,123.4L556.9,123.7L556.0,124.7L556.1,126.1L554.8,125.6L553.5,126.1L553.7,124.7L552.7,123.7L554.1,123.4zM576.5,121.0L577.2,122.2L578.6,122.5L577.6,123.6L577.8,125.0L576.5,124.4L575.2,125.0L575.3,123.6L574.4,122.5L575.7,122.2zM631.1,123.1L631.8,124.3L633.1,124.6L632.2,125.7L632.3,127.1L631.1,126.5L629.8,127.1L629.9,125.7L629.0,124.6L630.3,124.3zM383.3,121.9L384.0,123.2L385.4,123.5L384.4,124.5L384.6,125.9L383.3,125.3L382.0,125.9L382.1,124.5L381.2,123.5L382.6,123.2zM442.3,124.9L443.0,126.1L444.4,126.4L443.5,127.5L443.6,128.9L442.3,128.3L441.0,128.9L441.2,127.5L440.2,126.4L441.6,126.1zM444.5,123.3L445.2,124.6L446.6,124.9L445.7,125.9L445.8,127.3L444.5,126.8L443.2,127.3L443.4,125.9L442.4,124.9L443.8,124.6zM454.8,118.4L455.5,119.6L456.9,119.9L456.0,120.9L456.1,122.3L454.8,121.8L453.5,122.3L453.7,120.9L452.7,119.9L454.1,119.6zM468.0,124.6L468.7,125.9L470.1,126.2L469.2,127.2L469.3,128.6L468.0,128.1L466.7,128.6L466.9,127.2L465.9,126.2L467.3,125.9zM492.2,119.9L492.9,121.1L494.3,121.4L493.4,122.4L493.5,123.8L492.2,123.3L490.9,123.8L491.1,122.4L490.1,121.4L491.5,121.1zM551.5,117.7L552.2,118.9L553.6,119.2L552.6,120.3L552.8,121.7L551.5,121.1L550.2,121.7L550.3,120.3L549.4,119.2L550.8,118.9zM555.2,120.6L556.0,121.8L557.3,122.1L556.4,123.2L556.5,124.6L555.2,124.0L554.0,124.6L554.1,123.2L553.2,122.1L554.5,121.8zM576.2,121.1L576.9,122.3L578.3,122.6L577.3,123.7L577.5,125.1L576.2,124.5L574.9,125.1L575.0,123.7L574.1,122.6L575.5,122.3zM569.9,123.3L570.6,124.5L572.0,124.8L571.0,125.9L571.2,127.3L569.9,126.7L568.6,127.3L568.7,125.9L567.8,124.8L569.2,124.5zM570.4,126.0L571.1,127.2L572.5,127.5L571.5,128.6L571.7,130.0L570.4,129.4L569.1,130.0L569.2,128.6L568.3,127.5L569.7,127.2zM631.0,123.6L631.7,124.8L633.1,125.1L632.2,126.1L632.3,127.5L631.0,127.0L629.7,127.5L629.9,126.1L628.9,125.1L630.3,124.8zM666.5,117.5L667.2,118.7L668.6,119.0L667.7,120.1L667.8,121.5L666.5,120.9L665.2,121.5L665.4,120.1L664.4,119.0L665.8,118.7zM663.2,132.6L663.9,133.8L665.3,134.1L664.3,135.1L664.5,136.5L663.2,136.0L661.9,136.5L662.0,135.1L661.1,134.1L662.4,133.8zM683.2,125.1L683.9,126.3L685.3,126.6L684.3,127.7L684.5,129.1L683.2,128.5L681.9,129.1L682.0,127.7L681.1,126.6L682.5,126.3zM380.9,117.8L381.6,119.0L383.0,119.3L382.0,120.4L382.2,121.8L380.9,121.2L379.6,121.8L379.7,120.4L378.8,119.3L380.2,119.0zM385.6,124.3L386.3,125.6L387.7,125.9L386.8,126.9L386.9,128.3L385.6,127.7L384.3,128.3L384.5,126.9L383.5,125.9L384.9,125.6zM387.6,123.5L388.3,124.7L389.6,125.0L388.7,126.1L388.8,127.5L387.6,126.9L386.3,127.5L386.4,126.1L385.5,125.0L386.8,124.7zM390.3,124.1L391.0,125.4L392.4,125.7L391.5,126.7L391.6,128.1L390.3,127.5L389.0,128.1L389.2,126.7L388.2,125.7L389.6,125.4zM393.8,118.8L394.5,120.1L395.9,120.4L395.0,121.4L395.1,122.8L393.8,122.2L392.5,122.8L392.7,121.4L391.7,120.4L393.1,120.1zM394.4,127.8L395.2,129.0L396.5,129.3L395.6,130.4L395.7,131.8L394.4,131.2L393.2,131.8L393.3,130.4L392.4,129.3L393.7,129.0zM396.2,130.2L396.9,131.4L398.3,131.7L397.3,132.8L397.5,134.2L396.2,133.6L394.9,134.2L395.0,132.8L394.1,131.7L395.5,131.4zM397.5,126.5L398.2,127.7L399.6,128.0L398.7,129.1L398.8,130.5L397.5,129.9L396.2,130.5L396.4,129.1L395.4,128.0L396.8,127.7zM399.4,115.8L400.1,117.0L401.5,117.3L400.5,118.4L400.7,119.8L399.4,119.2L398.1,119.8L398.2,118.4L397.3,117.3L398.7,117.0zM400.1,107.4L400.8,108.6L402.2,108.9L401.2,110.0L401.4,111.4L400.1,110.8L398.8,111.4L398.9,110.0L398.0,108.9L399.4,108.6zM403.5,138.6L404.2,139.9L405.6,140.2L404.6,141.2L404.8,142.6L403.5,142.1L402.2,142.6L402.3,141.2L401.4,140.2L402.8,139.9zM409.7,108.6L410.4,109.8L411.7,110.1L410.8,111.1L410.9,112.5L409.7,112.0L408.4,112.5L408.5,111.1L407.6,110.1L408.9,109.8zM412.7,118.3L413.4,119.6L414.8,119.9L413.8,120.9L414.0,122.3L412.7,121.7L411.4,122.3L411.5,120.9L410.6,119.9L412.0,119.6zM413.9,126.3L414.7,127.5L416.0,127.8L415.1,128.9L415.2,130.3L413.9,129.7L412.7,130.3L412.8,128.9L411.9,127.8L413.2,127.5zM416.9,123.6L417.6,124.8L419.0,125.1L418.0,126.1L418.2,127.5L416.9,127.0L415.6,127.5L415.7,126.1L414.8,125.1L416.2,124.8zM419.4,112.1L420.1,113.3L421.5,113.6L420.6,114.6L420.7,116.1L419.4,115.5L418.1,116.1L418.3,114.6L417.3,113.6L418.7,113.3zM423.3,114.4L424.0,115.6L425.4,115.9L424.5,116.9L424.6,118.3L423.3,117.8L422.0,118.3L422.2,116.9L421.2,115.9L422.6,115.6zM423.4,123.2L424.1,124.5L425.5,124.8L424.6,125.8L424.7,127.2L423.4,126.6L422.1,127.2L422.3,125.8L421.3,124.8L422.7,124.5zM425.8,117.0L426.6,118.2L427.9,118.5L427.0,119.6L427.1,121.0L425.8,120.4L424.6,121.0L424.7,119.6L423.8,118.5L425.1,118.2zM427.1,128.9L427.8,130.1L429.1,130.4L428.2,131.5L428.3,132.9L427.1,132.3L425.8,132.9L425.9,131.5L425.0,130.4L426.3,130.1zM428.2,111.7L428.9,113.0L430.3,113.3L429.4,114.3L429.5,115.7L428.2,115.1L426.9,115.7L427.1,114.3L426.1,113.3L427.5,113.0zM431.8,114.2L432.5,115.4L433.9,115.7L433.0,116.8L433.1,118.2L431.8,117.6L430.5,118.2L430.7,116.8L429.7,115.7L431.1,115.4zM433.8,113.4L434.5,114.6L435.9,114.9L434.9,116.0L435.1,117.4L433.8,116.8L432.5,117.4L432.6,116.0L431.7,114.9L433.1,114.6zM437.3,126.9L438.0,128.1L439.4,128.4L438.5,129.5L438.6,130.9L437.3,130.3L436.0,130.9L436.2,129.5L435.2,128.4L436.6,128.1zM440.4,120.1L441.1,121.3L442.5,121.6L441.5,122.7L441.7,124.1L440.4,123.5L439.1,124.1L439.2,122.7L438.3,121.6L439.7,121.3zM444.0,127.7L444.7,129.0L446.1,129.3L445.2,130.3L445.3,131.7L444.0,131.2L442.7,131.7L442.9,130.3L441.9,129.3L443.3,129.0zM446.6,120.5L447.3,121.8L448.6,122.1L447.7,123.1L447.8,124.5L446.6,124.0L445.3,124.5L445.4,123.1L444.5,122.1L445.8,121.8zM448.0,116.4L448.8,117.6L450.1,117.9L449.2,119.0L449.3,120.4L448.0,119.8L446.7,120.4L446.9,119.0L445.9,117.9L447.3,117.6zM451.7,120.2L452.5,121.4L453.8,121.7L452.9,122.8L453.0,124.2L451.7,123.6L450.4,124.2L450.6,122.8L449.7,121.7L451.0,121.4zM455.8,127.6L456.5,128.8L457.9,129.1L456.9,130.2L457.1,131.6L455.8,131.0L454.5,131.6L454.6,130.2L453.7,129.1L455.1,128.8zM461.7,120.2L462.4,121.4L463.8,121.7L462.9,122.8L463.0,124.2L461.7,123.6L460.4,124.2L460.6,122.8L459.6,121.7L461.0,121.4zM466.0,111.0L466.7,112.2L468.1,112.5L467.1,113.5L467.3,114.9L466.0,114.4L464.7,114.9L464.8,113.5L463.9,112.5L465.3,112.2zM470.0,118.4L470.7,119.7L472.1,120.0L471.1,121.0L471.3,122.4L470.0,121.8L468.7,122.4L468.8,121.0L467.9,120.0L469.3,119.7zM471.5,109.1L472.2,110.3L473.6,110.6L472.7,111.6L472.8,113.0L471.5,112.5L470.2,113.0L470.4,111.6L469.4,110.6L470.8,110.3zM474.0,109.0L474.7,110.2L476.1,110.5L475.2,111.6L475.3,113.0L474.0,112.4L472.7,113.0L472.9,111.6L471.9,110.5L473.3,110.2zM477.0,116.3L477.7,117.6L479.1,117.9L478.1,118.9L478.3,120.3L477.0,119.8L475.7,120.3L475.8,118.9L474.9,117.9L476.3,117.6zM483.4,118.8L484.1,120.1L485.5,120.4L484.5,121.4L484.7,122.8L483.4,122.2L482.1,122.8L482.2,121.4L481.3,120.4L482.7,120.1zM484.5,119.7L485.2,120.9L486.6,121.2L485.7,122.3L485.8,123.7L484.5,123.1L483.2,123.7L483.4,122.3L482.4,121.2L483.8,120.9zM489.3,123.5L490.0,124.7L491.3,125.0L490.4,126.1L490.5,127.5L489.3,126.9L488.0,127.5L488.1,126.1L487.2,125.0L488.5,124.7zM490.2,122.0L490.9,123.2L492.3,123.5L491.3,124.6L491.5,126.0L490.2,125.4L488.9,126.0L489.0,124.6L488.1,123.5L489.5,123.2zM497.8,129.2L498.5,130.4L499.9,130.7L498.9,131.8L499.1,133.2L497.8,132.6L496.5,133.2L496.6,131.8L495.7,130.7L497.1,130.4zM500.0,116.6L500.7,117.8L502.1,118.1L501.1,119.2L501.3,120.6L500.0,120.0L498.7,120.6L498.8,119.2L497.9,118.1L499.3,117.8zM500.8,102.3L501.5,103.5L502.8,103.8L501.9,104.9L502.0,106.3L500.8,105.7L499.5,106.3L499.6,104.9L498.7,103.8L500.0,103.5zM501.8,116.7L502.5,117.9L503.8,118.2L502.9,119.3L503.0,120.7L501.8,120.1L500.5,120.7L500.6,119.3L499.7,118.2L501.0,117.9zM507.2,129.5L507.9,130.7L509.3,131.0L508.4,132.0L508.5,133.5L507.2,132.9L505.9,133.5L506.1,132.0L505.1,131.0L506.5,130.7zM509.6,124.5L510.3,125.7L511.7,126.0L510.8,127.1L510.9,128.5L509.6,127.9L508.3,128.5L508.5,127.1L507.5,126.0L508.9,125.7zM510.4,116.8L511.1,118.1L512.5,118.4L511.5,119.4L511.7,120.8L510.4,120.2L509.1,120.8L509.2,119.4L508.3,118.4L509.7,118.1zM512.2,113.0L512.9,114.3L514.3,114.6L513.3,115.6L513.5,117.0L512.2,116.4L510.9,117.0L511.0,115.6L510.1,114.6L511.5,114.3zM513.5,118.9L514.2,120.1L515.6,120.4L514.6,121.5L514.8,122.9L513.5,122.3L512.2,122.9L512.3,121.5L511.4,120.4L512.7,120.1zM515.5,116.4L516.2,117.6L517.6,117.9L516.6,119.0L516.8,120.4L515.5,119.8L514.2,120.4L514.3,119.0L513.4,117.9L514.8,117.6zM519.3,115.0L520.0,116.2L521.4,116.5L520.5,117.6L520.6,119.0L519.3,118.4L518.0,119.0L518.2,117.6L517.2,116.5L518.6,116.2zM522.9,118.6L523.6,119.8L525.0,120.1L524.0,121.2L524.2,122.6L522.9,122.0L521.6,122.6L521.7,121.2L520.8,120.1L522.2,119.8zM524.4,131.0L525.1,132.2L526.5,132.5L525.5,133.6L525.7,135.0L524.4,134.4L523.1,135.0L523.2,133.6L522.3,132.5L523.7,132.2zM526.7,118.1L527.5,119.3L528.8,119.6L527.9,120.6L528.0,122.0L526.7,121.5L525.4,122.0L525.6,120.6L524.6,119.6L526.0,119.3zM527.3,123.5L528.1,124.8L529.4,125.1L528.5,126.1L528.6,127.5L527.3,127.0L526.0,127.5L526.2,126.1L525.2,125.1L526.6,124.8zM529.2,119.5L529.9,120.7L531.3,121.0L530.3,122.0L530.5,123.4L529.2,122.9L527.9,123.4L528.0,122.0L527.1,121.0L528.5,120.7zM531.2,121.0L531.9,122.3L533.3,122.6L532.4,123.6L532.5,125.0L531.2,124.4L529.9,125.0L530.1,123.6L529.1,122.6L530.5,122.3zM532.3,130.3L533.0,131.5L534.4,131.8L533.5,132.9L533.6,134.3L532.3,133.7L531.0,134.3L531.2,132.9L530.2,131.8L531.6,131.5zM533.6,126.9L534.3,128.2L535.7,128.5L534.8,129.5L534.9,130.9L533.6,130.4L532.3,130.9L532.5,129.5L531.5,128.5L532.9,128.2zM537.9,130.3L538.6,131.5L540.0,131.8L539.0,132.9L539.2,134.3L537.9,133.7L536.6,134.3L536.7,132.9L535.8,131.8L537.2,131.5zM540.1,123.0L540.9,124.2L542.2,124.5L541.3,125.5L541.4,126.9L540.1,126.4L538.9,126.9L539.0,125.5L538.1,124.5L539.4,124.2zM541.1,122.6L541.8,123.8L543.2,124.1L542.3,125.2L542.4,126.6L541.1,126.0L539.8,126.6L540.0,125.2L539.0,124.1L540.4,123.8zM543.7,123.7L544.4,125.0L545.8,125.3L544.9,126.3L545.0,127.7L543.7,127.1L542.4,127.7L542.6,126.3L541.6,125.3L543.0,125.0zM545.0,126.9L545.7,128.1L547.1,128.4L546.1,129.5L546.3,130.9L545.0,130.3L543.7,130.9L543.8,129.5L542.9,128.4L544.3,128.1zM546.9,128.8L547.6,130.0L549.0,130.3L548.1,131.4L548.2,132.8L546.9,132.2L545.6,132.8L545.8,131.4L544.8,130.3L546.2,130.0zM550.7,119.3L551.4,120.5L552.8,120.8L551.8,121.9L552.0,123.3L550.7,122.7L549.4,123.3L549.5,121.9L548.6,120.8L550.0,120.5zM552.9,117.5L553.6,118.7L555.0,119.0L554.0,120.0L554.2,121.5L552.9,120.9L551.6,121.5L551.7,120.0L550.8,119.0L552.2,118.7zM554.8,125.3L555.5,126.5L556.9,126.8L555.9,127.8L556.1,129.2L554.8,128.7L553.5,129.2L553.6,127.8L552.7,126.8L554.0,126.5zM555.6,115.3L556.3,116.6L557.7,116.9L556.7,117.9L556.9,119.3L555.6,118.7L554.3,119.3L554.4,117.9L553.5,116.9L554.9,116.6zM557.7,122.8L558.4,124.0L559.8,124.3L558.8,125.4L559.0,126.8L557.7,126.2L556.4,126.8L556.5,125.4L555.6,124.3L557.0,124.0zM559.1,129.7L559.8,130.9L561.1,131.2L560.2,132.3L560.3,133.7L559.1,133.1L557.8,133.7L557.9,132.3L557.0,131.2L558.3,130.9zM561.5,124.7L562.2,126.0L563.6,126.3L562.6,127.3L562.8,128.7L561.5,128.1L560.2,128.7L560.3,127.3L559.4,126.3L560.8,126.0zM564.5,120.4L565.2,121.7L566.6,122.0L565.7,123.0L565.8,124.4L564.5,123.8L563.2,124.4L563.4,123.0L562.4,122.0L563.8,121.7zM569.2,117.6L569.9,118.8L571.3,119.1L570.4,120.2L570.5,121.6L569.2,121.0L567.9,121.6L568.1,120.2L567.1,119.1L568.5,118.8zM570.2,123.6L571.0,124.9L572.3,125.1L571.4,126.2L571.5,127.6L570.2,127.0L569.0,127.6L569.1,126.2L568.2,125.1L569.5,124.9zM573.5,115.2L574.2,116.5L575.6,116.8L574.7,117.8L574.8,119.2L573.5,118.6L572.2,119.2L572.4,117.8L571.4,116.8L572.8,116.5zM576.9,125.6L577.6,126.9L579.0,127.2L578.1,128.2L578.2,129.6L576.9,129.0L575.6,129.6L575.8,128.2L574.8,127.2L576.2,126.9zM578.1,119.6L578.8,120.8L580.2,121.1L579.3,122.2L579.4,123.6L578.1,123.0L576.8,123.6L577.0,122.2L576.0,121.1L577.4,120.8zM580.5,114.3L581.3,115.6L582.6,115.9L581.7,116.9L581.8,118.3L580.5,117.7L579.3,118.3L579.4,116.9L578.5,115.9L579.8,115.6zM583.9,115.9L584.6,117.1L586.0,117.4L585.1,118.5L585.2,119.9L583.9,119.3L582.6,119.9L582.8,118.5L581.8,117.4L583.2,117.1zM589.0,112.5L589.7,113.8L591.1,114.1L590.2,115.1L590.3,116.5L589.0,116.0L587.7,116.5L587.8,115.1L586.9,114.1L588.3,113.8zM591.5,124.5L592.2,125.7L593.6,126.0L592.7,127.1L592.8,128.5L591.5,127.9L590.2,128.5L590.4,127.1L589.4,126.0L590.8,125.7zM592.6,108.7L593.3,109.9L594.7,110.2L593.7,111.3L593.9,112.7L592.6,112.1L591.3,112.7L591.4,111.3L590.5,110.2L591.9,109.9zM597.5,123.8L598.2,125.0L599.6,125.3L598.7,126.4L598.8,127.8L597.5,127.2L596.2,127.8L596.4,126.4L595.4,125.3L596.8,125.0zM598.6,116.9L599.3,118.1L600.7,118.4L599.7,119.4L599.9,120.9L598.6,120.3L597.3,120.9L597.4,119.4L596.5,118.4L597.9,118.1zM600.5,126.0L601.2,127.3L602.6,127.6L601.6,128.6L601.8,130.0L600.5,129.5L599.2,130.0L599.3,128.6L598.4,127.6L599.8,127.3zM604.4,135.4L605.1,136.6L606.5,136.9L605.5,138.0L605.7,139.4L604.4,138.8L603.1,139.4L603.2,138.0L602.3,136.9L603.7,136.6zM606.7,123.5L607.4,124.7L608.8,125.0L607.8,126.1L608.0,127.5L606.7,126.9L605.4,127.5L605.5,126.1L604.6,125.0L606.0,124.7zM607.7,113.9L608.4,115.1L609.8,115.4L608.8,116.5L609.0,117.9L607.7,117.3L606.4,117.9L606.5,116.5L605.6,115.4L607.0,115.1zM611.7,128.2L612.4,129.4L613.8,129.7L612.8,130.8L613.0,132.2L611.7,131.6L610.4,132.2L610.5,130.8L609.6,129.7L610.9,129.4zM612.7,116.5L613.4,117.7L614.8,118.0L613.9,119.0L614.0,120.4L612.7,119.9L611.4,120.4L611.6,119.0L610.6,118.0L612.0,117.7zM614.3,127.2L615.0,128.4L616.4,128.7L615.5,129.7L615.6,131.2L614.3,130.6L613.0,131.2L613.2,129.7L612.2,128.7L613.6,128.4zM615.7,123.3L616.4,124.5L617.8,124.8L616.9,125.8L617.0,127.2L615.7,126.7L614.4,127.2L614.6,125.8L613.6,124.8L615.0,124.5zM617.2,115.2L617.9,116.4L619.3,116.7L618.4,117.8L618.5,119.2L617.2,118.6L615.9,119.2L616.1,117.8L615.1,116.7L616.5,116.4zM620.6,114.7L621.3,115.9L622.7,116.2L621.7,117.3L621.9,118.7L620.6,118.1L619.3,118.7L619.4,117.3L618.5,116.2L619.8,115.9zM622.5,121.7L623.2,122.9L624.5,123.2L623.6,124.3L623.7,125.7L622.5,125.1L621.2,125.7L621.3,124.3L620.4,123.2L621.7,122.9zM623.9,112.1L624.6,113.3L626.0,113.6L625.1,114.6L625.2,116.1L623.9,115.5L622.6,116.1L622.8,114.6L621.8,113.6L623.2,113.3zM626.4,116.5L627.1,117.8L628.5,118.1L627.6,119.1L627.7,120.5L626.4,119.9L625.1,120.5L625.3,119.1L624.3,118.1L625.7,117.8zM627.1,113.1L627.8,114.3L629.2,114.6L628.3,115.6L628.4,117.0L627.1,116.5L625.8,117.0L626.0,115.6L625.0,114.6L626.4,114.3zM628.7,117.8L629.4,119.0L630.8,119.3L629.8,120.4L630.0,121.8L628.7,121.2L627.4,121.8L627.5,120.4L626.6,119.3L628.0,119.0zM635.3,123.4L636.0,124.7L637.4,125.0L636.4,126.0L636.6,127.4L635.3,126.8L634.0,127.4L634.1,126.0L633.2,125.0L634.6,124.7zM637.9,119.4L638.6,120.6L640.0,120.9L639.1,121.9L639.2,123.3L637.9,122.8L636.6,123.3L636.8,121.9L635.8,120.9L637.2,120.6zM639.2,120.3L639.9,121.5L641.2,121.8L640.3,122.8L640.5,124.2L639.2,123.7L637.9,124.2L638.0,122.8L637.1,121.8L638.4,121.5zM640.2,124.5L640.9,125.7L642.3,126.0L641.3,127.0L641.5,128.4L640.2,127.9L638.9,128.4L639.0,127.0L638.1,126.0L639.5,125.7zM648.6,116.9L649.3,118.1L650.7,118.4L649.7,119.5L649.9,120.9L648.6,120.3L647.3,120.9L647.4,119.5L646.5,118.4L647.9,118.1zM650.1,126.3L650.9,127.5L652.2,127.8L651.3,128.9L651.4,130.3L650.1,129.7L648.9,130.3L649.0,128.9L648.1,127.8L649.4,127.5zM651.4,122.5L652.1,123.7L653.4,124.0L652.5,125.0L652.6,126.4L651.4,125.9L650.1,126.4L650.2,125.0L649.3,124.0L650.6,123.7zM655.7,117.9L656.4,119.1L657.8,119.4L656.9,120.4L657.0,121.8L655.7,121.3L654.4,121.8L654.6,120.4L653.6,119.4L655.0,119.1zM658.6,115.0L659.3,116.2L660.7,116.5L659.7,117.5L659.9,118.9L658.6,118.4L657.3,118.9L657.4,117.5L656.5,116.5L657.9,116.2zM659.8,127.0L660.5,128.2L661.9,128.5L661.0,129.6L661.1,131.0L659.8,130.4L658.5,131.0L658.7,129.6L657.7,128.5L659.1,128.2zM662.6,132.2L663.3,133.4L664.6,133.7L663.7,134.7L663.8,136.1L662.6,135.6L661.3,136.1L661.4,134.7L660.5,133.7L661.8,133.4zM667.6,120.0L668.3,121.3L669.7,121.6L668.7,122.6L668.9,124.0L667.6,123.5L666.3,124.0L666.4,122.6L665.5,121.6L666.9,121.3zM670.6,114.2L671.3,115.5L672.7,115.8L671.8,116.8L671.9,118.2L670.6,117.6L669.3,118.2L669.5,116.8L668.5,115.8L669.9,115.5zM673.4,121.6L674.1,122.9L675.5,123.2L674.6,124.2L674.7,125.6L673.4,125.1L672.1,125.6L672.3,124.2L671.3,123.2L672.7,122.9zM676.3,111.4L677.0,112.6L678.4,112.9L677.5,114.0L677.6,115.4L676.3,114.8L675.0,115.4L675.1,114.0L674.2,112.9L675.6,112.6zM678.0,113.4L678.7,114.6L680.1,114.9L679.1,115.9L679.3,117.3L678.0,116.8L676.7,117.3L676.8,115.9L675.9,114.9L677.2,114.6zM679.0,117.1L679.7,118.4L681.1,118.7L680.1,119.7L680.3,121.1L679.0,120.6L677.7,121.1L677.8,119.7L676.9,118.7L678.2,118.4zM682.1,122.5L682.8,123.8L684.2,124.1L683.2,125.1L683.4,126.5L682.1,125.9L680.8,126.5L680.9,125.1L680.0,124.1L681.4,123.8zM684.7,117.4L685.4,118.6L686.8,118.9L685.9,120.0L686.0,121.4L684.7,120.8L683.4,121.4L683.6,120.0L682.6,118.9L684.0,118.6z" fill="rgb(55,55,55)"/>
<path d="M381.7,123.1a1.95,1.95 0 1,0 3.90,0a1.95,1.95 0 1,0 -3.90,0zM381.7,124.6a1.95,1.95 0 1,0 3.90,0a1.95,1.95 0 1,0 -3.90,0zM440.3,126.6a1.95,1.95 0 1,0 3.90,0a1.95,1.95 0 1,0 -3.90,0zM443.2,125.2a1.95,1.95 0 1,0 3.90,0a1.95,1.95 0 1,0 -3.90,0zM453.3,121.1a1.95,1.95 0 1,0 3.90,0a1.95,1.95 0 1,0 -3.90,0zM471.4,127.7a1.95,1.95 0 1,0 3.90,0a1.95,1.95 0 1,0 -3.90,0zM465.6,127.5a1.95,1.95 0 1,0 3.90,0a1.95,1.95 0 1,0 -3.90,0zM489.9,123.2a1.95,1.95 0 1,0 3.90,0a1.95,1.95 0 1,0 -3.90,0zM549.7,119.7a1.95,1.95 0 1,0 3.90,0a1.95,1.95 0 1,0 -3.90,0zM553.1,123.5a1.95,1.95 0 1,0 3.90,0a1.95,1.95 0 1,0 -3.90,0zM574.0,123.8a1.95,1.95 0 1,0 3.90,0a1.95,1.95 0 1,0 -3.90,0zM568.0,125.6a1.95,1.95 0 1,0 3.90,0a1.95,1.95 0 1,0 -3.90,0zM568.5,127.7a1.95,1.95 0 1,0 3.90,0a1.95,1.95 0 1,0 -3.90,0zM582.9,122.0a1.95,1.95 0 1,0 3.90,0a1.95,1.95 0 1,0 -3.90,0zM628.7,124.9a1.95,1.95 0 1,0 3.90,0a1.95,1.95 0 1,0 -3.90,0zM643.2,130.1a1.95,1.95 0 1,0 3.90,0a1.95,1.95 0 1,0 -3.90,0zM664.4,120.2a1.95,1.95 0 1,0 3.90,0a1.95,1.95 0 1,0 -3.90,0zM660.6,134.3a1.95,1.95 0 1,0 3.90,0a1.95,1.95 0 1,0 -3.90,0zM681.3,127.2a1.95,1.95 0 1,0 3.90,0a1.95,1.95 0 1,0 -3.90,0zM378.5,119.0a1.95,1.95 0 1,0 3.90,0a1.95,1.95 0 1,0 -3.90,0zM380.2,117.3a1.95,1.95 0 1,0 3.90,0a1.95,1.95 0 1,0 -3.90,0zM381.9,126.7a1.95,1.95 0 1,0 3.90,0a1.95,1.95 0 1,0 -3.90,0zM383.6,125.8a1.95,1.95 0 1,0 3.90,0a1.95,1.95 0 1,0 -3.90,0zM385.3,125.0a1.95,1.95 0 1,0 3.90,0a1.95,1.95 0 1,0 -3.90,0zM387.8,125.8a1.95,1.95 0 1,0 3.90,0a1.95,1.95 0 1,0 -3.90,0zM389.5,118.1a1.95,1.95 0 1,0 3.90,0a1.95,1.95 0 1,0 -3.90,0zM391.2,120.7a1.95,1.95 0 1,0 3.90,0a1.95,1.95 0 1,0 -3.90,0zM392.1,130.1a1.95,1.95 0 1,0 3.90,0a1.95,1.95 0 1,0 -3.90,0zM393.8,131.8a1.95,1.95 0 1,0 3.90,0a1.95,1.95 0 1,0 -3.90,0zM395.5,129.2a1.95,1.95 0 1,0 3.90,0a1.95,1.95 0 1,0 -3.90,0zM397.2,119.0a1.95,1.95 0 1,0 3.90,0a1.95,1.95 0 1,0 -3.90,0zM398.6,109.1a1.95,1.95 0 1,0 3.90,0a1.95,1.95 0 1,0 -3.90,0zM400.6,126.7a1.95,1.95 0 1,0 3.90,0a1.95,1.95 0 1,0 -3.90,0zM402.0,140.8a1.95,1.95 0 1,0 3.90,0a1.95,1.95 0 1,0 -3.90,0zM403.2,127.5a1.95,1.95 0 1,0 3.90,0a1.95,1.95 0 1,0 -3.90,0zM405.7,119.0a1.95,1.95 0 1,0 3.90,0a1.95,1.95 0 1,0 -3.90,0zM406.6,126.7a1.95,1.95 0 1,0 3.90,0a1.95,1.95 0 1,0 -3.90,0zM408.3,110.5a1.95,1.95 0 1,0 3.90,0a1.95,1.95 0 1,0 -3.90,0zM409.2,130.9a1.95,1.95 0 1,0 3.90,0a1.95,1.95 0 1,0 -3.90,0zM410.9,120.7a1.95,1.95 0 1,0 3.90,0a1.95,1.95 0 1,0 -3.90,0zM412.6,129.2a1.95,1.95 0 1,0 3.90,0a1.95,1.95 0 1,0 -3.90,0zM414.6,126.7a1.95,1.95 0 1,0 3.90,0a1.95,1.95 0 1,0 -3.90,0zM416.8,113.9a1.95,1.95 0 1,0 3.90,0a1.95,1.95 0 1,0 -3.90,0zM418.5,119.8a1.95,1.95 0 1,0 3.90,0a1.95,1.95 0 1,0 -3.90,0zM420.7,116.4a1.95,1.95 0 1,0 3.90,0a1.95,1.95 0 1,0 -3.90,0zM421.9,125.8a1.95,1.95 0 1,0 3.90,0a1.95,1.95 0 1,0 -3.90,0zM424.5,118.1a1.95,1.95 0 1,0 3.90,0a1.95,1.95 0 1,0 -3.90,0zM425.3,131.8a1.95,1.95 0 1,0 3.90,0a1.95,1.95 0 1,0 -3.90,0zM426.5,113.0a1.95,1.95 0 1,0 3.90,0a1.95,1.95 0 1,0 -3.90,0zM429.3,115.6a1.95,1.95 0 1,0 3.90,0a1.95,1.95 0 1,0 -3.90,0zM430.5,119.8a1.95,1.95 0 1,0 3.90,0a1.95,1.95 0 1,0 -3.90,0zM432.2,115.6a1.95,1.95 0 1,0 3.90,0a1.95,1.95 0 1,0 -3.90,0zM433.0,124.1a1.95,1.95 0 1,0 3.90,0a1.95,1.95 0 1,0 -3.90,0zM435.1,130.1a1.95,1.95 0 1,0 3.90,0a1.95,1.95 0 1,0 -3.90,0zM436.4,115.6a1.95,1.95 0 1,0 3.90,0a1.95,1.95 0 1,0 -3.90,0zM438.1,121.5a1.95,1.95 0 1,0 3.90,0a1.95,1.95 0 1,0 -3.90,0zM439.8,126.7a1.95,1.95 0 1,0 3.90,0a1.95,1.95 0 1,0 -3.90,0zM442.4,129.2a1.95,1.95 0 1,0 3.90,0a1.95,1.95 0 1,0 -3.90,0zM445.0,123.2a1.95,1.95 0 1,0 3.90,0a1.95,1.95 0 1,0 -3.90,0zM446.7,119.0a1.95,1.95 0 1,0 3.90,0a1.95,1.95 0 1,0 -3.90,0zM450.1,122.4a1.95,1.95 0 1,0 3.90,0a1.95,1.95 0 1,0 -3.90,0zM451.8,126.7a1.95,1.95 0 1,0 3.90,0a1.95,1.95 0 1,0 -3.90,0zM453.5,130.1a1.95,1.95 0 1,0 3.90,0a1.95,1.95 0 1,0 -3.90,0zM455.2,120.7a1.95,1.95 0 1,0 3.90,0a1.95,1.95 0 1,0 -3.90,0zM457.2,111.3a1.95,1.95 0 1,0 3.90,0a1.95,1.95 0 1,0 -3.90,0zM459.4,121.5a1.95,1.95 0 1,0 3.90,0a1.95,1.95 0 1,0 -3.90,0zM462.0,125.8a1.95,1.95 0 1,0 3.90,0a1.95,1.95 0 1,0 -3.90,0zM463.4,113.0a1.95,1.95 0 1,0 3.90,0a1.95,1.95 0 1,0 -3.90,0zM465.4,119.8a1.95,1.95 0 1,0 3.90,0a1.95,1.95 0 1,0 -3.90,0zM468.0,120.7a1.95,1.95 0 1,0 3.90,0a1.95,1.95 0 1,0 -3.90,0zM469.7,110.1a1.95,1.95 0 1,0 3.90,0a1.95,1.95 0 1,0 -3.90,0zM472.2,110.1a1.95,1.95 0 1,0 3.90,0a1.95,1.95 0 1,0 -3.90,0zM473.9,126.7a1.95,1.95 0 1,0 3.90,0a1.95,1.95 0 1,0 -3.90,0zM475.6,119.0a1.95,1.95 0 1,0 3.90,0a1.95,1.95 0 1,0 -3.90,0zM477.4,117.3a1.95,1.95 0 1,0 3.90,0a1.95,1.95 0 1,0 -3.90,0zM480.8,119.8a1.95,1.95 0 1,0 3.90,0a1.95,1.95 0 1,0 -3.90,0zM482.5,121.5a1.95,1.95 0 1,0 3.90,0a1.95,1.95 0 1,0 -3.90,0zM484.2,130.9a1.95,1.95 0 1,0 3.90,0a1.95,1.95 0 1,0 -3.90,0zM486.7,125.8a1.95,1.95 0 1,0 3.90,0a1.95,1.95 0 1,0 -3.90,0zM488.4,124.1a1.95,1.95 0 1,0 3.90,0a1.95,1.95 0 1,0 -3.90,0zM490.1,121.5a1.95,1.95 0 1,0 3.90,0a1.95,1.95 0 1,0 -3.90,0zM491.3,127.5a1.95,1.95 0 1,0 3.90,0a1.95,1.95 0 1,0 -3.90,0zM492.7,137.7a1.95,1.95 0 1,0 3.90,0a1.95,1.95 0 1,0 -3.90,0zM494.4,125.8a1.95,1.95 0 1,0 3.90,0a1.95,1.95 0 1,0 -3.90,0zM496.1,130.9a1.95,1.95 0 1,0 3.90,0a1.95,1.95 0 1,0 -3.90,0zM497.8,119.8a1.95,1.95 0 1,0 3.90,0a1.95,1.95 0 1,0 -3.90,0zM499.2,105.7a1.95,1.95 0 1,0 3.90,0a1.95,1.95 0 1,0 -3.90,0zM500.4,119.0a1.95,1.95 0 1,0 3.90,0a1.95,1.95 0 1,0 -3.90,0zM501.6,109.6a1.95,1.95 0 1,0 3.90,0a1.95,1.95 0 1,0 -3.90,0zM502.9,136.0a1.95,1.95 0 1,0 3.90,0a1.95,1.95 0 1,0 -3.90,0zM504.3,121.5a1.95,1.95 0 1,0 3.90,0a1.95,1.95 0 1,0 -3.90,0zM505.5,131.8a1.95,1.95 0 1,0 3.90,0a1.95,1.95 0 1,0 -3.90,0zM507.2,127.5a1.95,1.95 0 1,0 3.90,0a1.95,1.95 0 1,0 -3.90,0zM508.9,118.1a1.95,1.95 0 1,0 3.90,0a1.95,1.95 0 1,0 -3.90,0zM510.6,115.6a1.95,1.95 0 1,0 3.90,0a1.95,1.95 0 1,0 -3.90,0zM511.8,121.5a1.95,1.95 0 1,0 3.90,0a1.95,1.95 0 1,0 -3.90,0zM513.2,118.1a1.95,1.95 0 1,0 3.90,0a1.95,1.95 0 1,0 -3.90,0zM514.9,110.8a1.95,1.95 0 1,0 3.90,0a1.95,1.95 0 1,0 -3.90,0zM515.7,121.5a1.95,1.95 0 1,0 3.90,0a1.95,1.95 0 1,0 -3.90,0zM517.4,117.3a1.95,1.95 0 1,0 3.90,0a1.95,1.95 0 1,0 -3.90,0zM519.1,122.4a1.95,1.95 0 1,0 3.90,0a1.95,1.95 0 1,0 -3.90,0zM520.8,121.5a1.95,1.95 0 1,0 3.90,0a1.95,1.95 0 1,0 -3.90,0zM522.5,133.5a1.95,1.95 0 1,0 3.90,0a1.95,1.95 0 1,0 -3.90,0zM524.2,119.8a1.95,1.95 0 1,0 3.90,0a1.95,1.95 0 1,0 -3.90,0zM525.9,126.7a1.95,1.95 0 1,0 3.90,0a1.95,1.95 0 1,0 -3.90,0zM527.6,121.5a1.95,1.95 0 1,0 3.90,0a1.95,1.95 0 1,0 -3.90,0zM529.3,124.1a1.95,1.95 0 1,0 3.90,0a1.95,1.95 0 1,0 -3.90,0zM530.2,132.6a1.95,1.95 0 1,0 3.90,0a1.95,1.95 0 1,0 -3.90,0zM531.9,129.2a1.95,1.95 0 1,0 3.90,0a1.95,1.95 0 1,0 -3.90,0zM533.6,126.7a1.95,1.95 0 1,0 3.90,0a1.95,1.95 0 1,0 -3.90,0zM535.3,131.8a1.95,1.95 0 1,0 3.90,0a1.95,1.95 0 1,0 -3.90,0zM537.9,125.8a1.95,1.95 0 1,0 3.90,0a1.95,1.95 0 1,0 -3.90,0zM539.6,124.1a1.95,1.95 0 1,0 3.90,0a1.95,1.95 0 1,0 -3.90,0zM541.3,126.7a1.95,1.95 0 1,0 3.90,0a1.95,1.95 0 1,0 -3.90,0zM543.0,129.2a1.95,1.95 0 1,0 3.90,0a1.95,1.95 0 1,0 -3.90,0zM544.7,130.9a1.95,1.95 0 1,0 3.90,0a1.95,1.95 0 1,0 -3.90,0zM547.3,116.4a1.95,1.95 0 1,0 3.90,0a1.95,1.95 0 1,0 -3.90,0zM549.0,122.4a1.95,1.95 0 1,0 3.90,0a1.95,1.95 0 1,0 -3.90,0zM550.7,119.8a1.95,1.95 0 1,0 3.90,0a1.95,1.95 0 1,0 -3.90,0zM552.4,126.7a1.95,1.95 0 1,0 3.90,0a1.95,1.95 0 1,0 -3.90,0zM554.1,117.3a1.95,1.95 0 1,0 3.90,0a1.95,1.95 0 1,0 -3.90,0zM555.8,125.8a1.95,1.95 0 1,0 3.90,0a1.95,1.95 0 1,0 -3.90,0zM557.5,130.9a1.95,1.95 0 1,0 3.90,0a1.95,1.95 0 1,0 -3.90,0zM559.2,127.5a1.95,1.95 0 1,0 3.90,0a1.95,1.95 0 1,0 -3.90,0zM560.6,138.1a1.95,1.95 0 1,0 3.90,0a1.95,1.95 0 1,0 -3.90,0zM562.6,122.4a1.95,1.95 0 1,0 3.90,0a1.95,1.95 0 1,0 -3.90,0zM565.2,116.4a1.95,1.95 0 1,0 3.90,0a1.95,1.95 0 1,0 -3.90,0zM566.9,120.7a1.95,1.95 0 1,0 3.90,0a1.95,1.95 0 1,0 -3.90,0zM568.6,125.0a1.95,1.95 0 1,0 3.90,0a1.95,1.95 0 1,0 -3.90,0zM572.0,116.4a1.95,1.95 0 1,0 3.90,0a1.95,1.95 0 1,0 -3.90,0zM574.5,126.7a1.95,1.95 0 1,0 3.90,0a1.95,1.95 0 1,0 -3.90,0zM576.2,120.7a1.95,1.95 0 1,0 3.90,0a1.95,1.95 0 1,0 -3.90,0zM578.8,115.6a1.95,1.95 0 1,0 3.90,0a1.95,1.95 0 1,0 -3.90,0zM581.4,118.1a1.95,1.95 0 1,0 3.90,0a1.95,1.95 0 1,0 -3.90,0zM584.2,129.2a1.95,1.95 0 1,0 3.90,0a1.95,1.95 0 1,0 -3.90,0zM585.9,121.5a1.95,1.95 0 1,0 3.90,0a1.95,1.95 0 1,0 -3.90,0zM587.2,113.9a1.95,1.95 0 1,0 3.90,0a1.95,1.95 0 1,0 -3.90,0zM589.3,125.8a1.95,1.95 0 1,0 3.90,0a1.95,1.95 0 1,0 -3.90,0zM591.0,111.8a1.95,1.95 0 1,0 3.90,0a1.95,1.95 0 1,0 -3.90,0zM593.5,119.8a1.95,1.95 0 1,0 3.90,0a1.95,1.95 0 1,0 -3.90,0zM595.2,126.7a1.95,1.95 0 1,0 3.90,0a1.95,1.95 0 1,0 -3.90,0zM597.0,118.1a1.95,1.95 0 1,0 3.90,0a1.95,1.95 0 1,0 -3.90,0zM598.7,129.2a1.95,1.95 0 1,0 3.90,0a1.95,1.95 0 1,0 -3.90,0zM599.5,106.2a1.95,1.95 0 1,0 3.90,0a1.95,1.95 0 1,0 -3.90,0zM600.9,119.0a1.95,1.95 0 1,0 3.90,0a1.95,1.95 0 1,0 -3.90,0zM602.9,137.7a1.95,1.95 0 1,0 3.90,0a1.95,1.95 0 1,0 -3.90,0zM604.6,125.0a1.95,1.95 0 1,0 3.90,0a1.95,1.95 0 1,0 -3.90,0zM606.3,116.4a1.95,1.95 0 1,0 3.90,0a1.95,1.95 0 1,0 -3.90,0zM608.0,118.1a1.95,1.95 0 1,0 3.90,0a1.95,1.95 0 1,0 -3.90,0zM609.4,130.9a1.95,1.95 0 1,0 3.90,0a1.95,1.95 0 1,0 -3.90,0zM610.6,119.8a1.95,1.95 0 1,0 3.90,0a1.95,1.95 0 1,0 -3.90,0zM612.3,128.4a1.95,1.95 0 1,0 3.90,0a1.95,1.95 0 1,0 -3.90,0zM614.0,126.7a1.95,1.95 0 1,0 3.90,0a1.95,1.95 0 1,0 -3.90,0zM615.7,117.3a1.95,1.95 0 1,0 3.90,0a1.95,1.95 0 1,0 -3.90,0zM617.4,128.4a1.95,1.95 0 1,0 3.90,0a1.95,1.95 0 1,0 -3.90,0zM619.1,117.3a1.95,1.95 0 1,0 3.90,0a1.95,1.95 0 1,0 -3.90,0zM620.8,125.0a1.95,1.95 0 1,0 3.90,0a1.95,1.95 0 1,0 -3.90,0zM622.5,113.9a1.95,1.95 0 1,0 3.90,0a1.95,1.95 0 1,0 -3.90,0zM624.2,119.8a1.95,1.95 0 1,0 3.90,0a1.95,1.95 0 1,0 -3.90,0zM625.1,116.4a1.95,1.95 0 1,0 3.90,0a1.95,1.95 0 1,0 -3.90,0zM626.8,119.0a1.95,1.95 0 1,0 3.90,0a1.95,1.95 0 1,0 -3.90,0zM628.5,118.1a1.95,1.95 0 1,0 3.90,0a1.95,1.95 0 1,0 -3.90,0zM630.2,130.1a1.95,1.95 0 1,0 3.90,0a1.95,1.95 0 1,0 -3.90,0zM632.2,119.8a1.95,1.95 0 1,0 3.90,0a1.95,1.95 0 1,0 -3.90,0zM633.6,126.7a1.95,1.95 0 1,0 3.90,0a1.95,1.95 0 1,0 -3.90,0zM635.3,121.5a1.95,1.95 0 1,0 3.90,0a1.95,1.95 0 1,0 -3.90,0zM637.0,122.4a1.95,1.95 0 1,0 3.90,0a1.95,1.95 0 1,0 -3.90,0zM638.7,126.7a1.95,1.95 0 1,0 3.90,0a1.95,1.95 0 1,0 -3.90,0zM640.4,124.1a1.95,1.95 0 1,0 3.90,0a1.95,1.95 0 1,0 -3.90,0zM642.5,117.3a1.95,1.95 0 1,0 3.90,0a1.95,1.95 0 1,0 -3.90,0zM644.7,117.3a1.95,1.95 0 1,0 3.90,0a1.95,1.95 0 1,0 -3.90,0zM646.4,119.0a1.95,1.95 0 1,0 3.90,0a1.95,1.95 0 1,0 -3.90,0zM648.1,127.5a1.95,1.95 0 1,0 3.90,0a1.95,1.95 0 1,0 -3.90,0zM649.8,125.0a1.95,1.95 0 1,0 3.90,0a1.95,1.95 0 1,0 -3.90,0zM652.0,125.8a1.95,1.95 0 1,0 3.90,0a1.95,1.95 0 1,0 -3.90,0zM654.1,119.0a1.95,1.95 0 1,0 3.90,0a1.95,1.95 0 1,0 -3.90,0zM656.6,118.1a1.95,1.95 0 1,0 3.90,0a1.95,1.95 0 1,0 -3.90,0zM658.3,129.2a1.95,1.95 0 1,0 3.90,0a1.95,1.95 0 1,0 -3.90,0zM660.6,134.7a1.95,1.95 0 1,0 3.90,0a1.95,1.95 0 1,0 -3.90,0zM662.6,125.8a1.95,1.95 0 1,0 3.90,0a1.95,1.95 0 1,0 -3.90,0zM665.2,121.5a1.95,1.95 0 1,0 3.90,0a1.95,1.95 0 1,0 -3.90,0zM666.9,118.1a1.95,1.95 0 1,0 3.90,0a1.95,1.95 0 1,0 -3.90,0zM668.6,117.3a1.95,1.95 0 1,0 3.90,0a1.95,1.95 0 1,0 -3.90,0zM670.3,121.5a1.95,1.95 0 1,0 3.90,0a1.95,1.95 0 1,0 -3.90,0zM672.0,124.1a1.95,1.95 0 1,0 3.90,0a1.95,1.95 0 1,0 -3.90,0zM674.2,113.9a1.95,1.95 0 1,0 3.90,0a1.95,1.95 0 1,0 -3.90,0zM675.9,115.6a1.95,1.95 0 1,0 3.90,0a1.95,1.95 0 1,0 -3.90,0zM677.6,119.8a1.95,1.95 0 1,0 3.90,0a1.95,1.95 0 1,0 -3.90,0zM679.6,125.8a1.95,1.95 0 1,0 3.90,0a1.95,1.95 0 1,0 -3.90,0zM681.4,130.9a1.95,1.95 0 1,0 3.90,0a1.95,1.95 0 1,0 -3.90,0zM682.5,119.8a1.95,1.95 0 1,0 3.90,0a1.95,1.95 0 1,0 -3.90,0z" fill="rgb(96,128,232)" fill-opacity="0.82"/>
<path d="M377.2,123.27L685.5,123.55" stroke="rgb(180,25,45)" stroke-width="1.3"/>
<text x="0.9" y="201.1" font-size="11" font-weight="bold" fill="#000" style="stroke:#000;stroke-width:0.35px">c</text>
<text transform="translate(5.6,282.9) rotate(-90)" text-anchor="middle" font-size="6.6" fill="#1a1a1a">Anomalies in Lat_U<tspan font-size="4.6" dy="1.6" dx="0.3">max</tspan></text>
<path d="M29.4,206.9 V360.73 H338.0" fill="none" stroke="#8f8f8f" stroke-width="0.9"/>
<path d="M26.80,360.72H29.4 M28.40,356.33H29.599999999999998 M28.40,351.93H29.599999999999998 M28.40,347.54H29.599999999999998 M28.40,343.14H29.599999999999998 M26.80,338.75H29.4 M28.40,334.35H29.599999999999998 M28.40,329.96H29.599999999999998 M28.40,325.56H29.599999999999998 M28.40,321.17H29.599999999999998 M26.80,316.77H29.4 M28.40,312.38H29.599999999999998 M28.40,307.98H29.599999999999998 M28.40,303.59H29.599999999999998 M28.40,299.19H29.599999999999998 M26.80,294.80H29.4 M28.40,290.40H29.599999999999998 M28.40,286.01H29.599999999999998 M28.40,281.62H29.599999999999998 M28.40,277.22H29.599999999999998 M26.80,272.82H29.4 M28.40,268.43H29.599999999999998 M28.40,264.03H29.599999999999998 M28.40,259.64H29.599999999999998 M28.40,255.24H29.599999999999998 M26.80,250.85H29.4 M28.40,246.45H29.599999999999998 M28.40,242.06H29.599999999999998 M28.40,237.66H29.599999999999998 M28.40,233.27H29.599999999999998 M26.80,228.88H29.4 M28.40,224.48H29.599999999999998 M28.40,220.08H29.599999999999998 M28.40,215.69H29.599999999999998 M28.40,211.29H29.599999999999998 M26.80,206.90H29.4 M29.40,360.73V363.33 M44.12,360.73V363.33 M58.84,360.73V363.33 M73.56,360.73V363.33 M88.28,360.73V363.33 M103.00,360.73V363.33 M117.72,360.73V363.33 M132.44,360.73V363.33 M147.16,360.73V363.33 M161.88,360.73V363.33 M176.60,360.73V363.33 M191.32,360.73V363.33 M206.04,360.73V363.33 M220.76,360.73V363.33 M235.48,360.73V363.33 M250.20,360.73V363.33 M264.92,360.73V363.33 M279.64,360.73V363.33 M294.36,360.73V363.33 M309.08,360.73V363.33 M323.80,360.73V363.33" fill="none" stroke="#555" stroke-width="0.8"/>
<text x="20.10" y="363.02" text-anchor="end" font-size="6.6" fill="#1a1a1a">−10</text>
<circle cx="22.00" cy="359.12" r="0.75" fill="none" stroke="#444" stroke-width="0.6"/>
<text x="20.10" y="341.05" text-anchor="end" font-size="6.6" fill="#1a1a1a">−5</text>
<circle cx="22.00" cy="337.15" r="0.75" fill="none" stroke="#444" stroke-width="0.6"/>
<text x="20.10" y="319.07" text-anchor="end" font-size="6.6" fill="#1a1a1a">0</text>
<circle cx="22.00" cy="315.17" r="0.75" fill="none" stroke="#444" stroke-width="0.6"/>
<text x="20.10" y="297.10" text-anchor="end" font-size="6.6" fill="#1a1a1a">5</text>
<circle cx="22.00" cy="293.20" r="0.75" fill="none" stroke="#444" stroke-width="0.6"/>
<text x="20.10" y="275.12" text-anchor="end" font-size="6.6" fill="#1a1a1a">10</text>
<circle cx="22.00" cy="271.22" r="0.75" fill="none" stroke="#444" stroke-width="0.6"/>
<text x="20.10" y="253.15" text-anchor="end" font-size="6.6" fill="#1a1a1a">15</text>
<circle cx="22.00" cy="249.25" r="0.75" fill="none" stroke="#444" stroke-width="0.6"/>
<text x="20.10" y="231.18" text-anchor="end" font-size="6.6" fill="#1a1a1a">20</text>
<circle cx="22.00" cy="227.28" r="0.75" fill="none" stroke="#444" stroke-width="0.6"/>
<text x="20.10" y="209.20" text-anchor="end" font-size="6.6" fill="#1a1a1a">25</text>
<circle cx="22.00" cy="205.30" r="0.75" fill="none" stroke="#444" stroke-width="0.6"/>
<text transform="translate(34.00,370.12) rotate(-45)" text-anchor="end" font-size="6.7" fill="#1a1a1a">2000</text>
<text transform="translate(48.72,370.12) rotate(-45)" text-anchor="end" font-size="6.7" fill="#1a1a1a">2001</text>
<text transform="translate(63.44,370.12) rotate(-45)" text-anchor="end" font-size="6.7" fill="#1a1a1a">2002</text>
<text transform="translate(78.16,370.12) rotate(-45)" text-anchor="end" font-size="6.7" fill="#1a1a1a">2003</text>
<text transform="translate(92.88,370.12) rotate(-45)" text-anchor="end" font-size="6.7" fill="#1a1a1a">2004</text>
<text transform="translate(107.60,370.12) rotate(-45)" text-anchor="end" font-size="6.7" fill="#1a1a1a">2005</text>
<text transform="translate(122.32,370.12) rotate(-45)" text-anchor="end" font-size="6.7" fill="#1a1a1a">2006</text>
<text transform="translate(137.04,370.12) rotate(-45)" text-anchor="end" font-size="6.7" fill="#1a1a1a">2007</text>
<text transform="translate(151.76,370.12) rotate(-45)" text-anchor="end" font-size="6.7" fill="#1a1a1a">2008</text>
<text transform="translate(166.48,370.12) rotate(-45)" text-anchor="end" font-size="6.7" fill="#1a1a1a">2009</text>
<text transform="translate(181.20,370.12) rotate(-45)" text-anchor="end" font-size="6.7" fill="#1a1a1a">2010</text>
<text transform="translate(195.92,370.12) rotate(-45)" text-anchor="end" font-size="6.7" fill="#1a1a1a">2011</text>
<text transform="translate(210.64,370.12) rotate(-45)" text-anchor="end" font-size="6.7" fill="#1a1a1a">2012</text>
<text transform="translate(225.36,370.12) rotate(-45)" text-anchor="end" font-size="6.7" fill="#1a1a1a">2013</text>
<text transform="translate(240.08,370.12) rotate(-45)" text-anchor="end" font-size="6.7" fill="#1a1a1a">2014</text>
<text transform="translate(254.80,370.12) rotate(-45)" text-anchor="end" font-size="6.7" fill="#1a1a1a">2015</text>
<text transform="translate(269.52,370.12) rotate(-45)" text-anchor="end" font-size="6.7" fill="#1a1a1a">2016</text>
<text transform="translate(284.24,370.12) rotate(-45)" text-anchor="end" font-size="6.7" fill="#1a1a1a">2017</text>
<text transform="translate(298.96,370.12) rotate(-45)" text-anchor="end" font-size="6.7" fill="#1a1a1a">2018</text>
<text transform="translate(313.68,370.12) rotate(-45)" text-anchor="end" font-size="6.7" fill="#1a1a1a">2019</text>
<text transform="translate(328.40,370.12) rotate(-45)" text-anchor="end" font-size="6.7" fill="#1a1a1a">2020</text>
<circle cx="40.10" cy="217.30" r="1.75" fill="rgb(105,138,236)"/>
<text x="44.90" y="219.50" font-size="6.5" fill="#111">CMV: 0.37 ± 0.31° decade<tspan font-size="4.2" dx="0.5" dy="-3.0">−1</tspan><tspan dx="0.3" dy="3.0">; </tspan><tspan font-style="italic">P</tspan> = 0.23</text>
<polygon points="40.1,228.8 40.6,230.2 42.1,230.3 41.0,231.2 41.3,232.6 40.1,231.8 38.9,232.6 39.2,231.2 38.1,230.3 39.6,230.2" fill="rgb(55,55,55)"/>
<text x="44.90" y="233.10" font-size="6.5" fill="#111">ERA5_MS: 0.41 ± 0.33° decade<tspan font-size="4.2" dx="0.5" dy="-3.0">−1</tspan><tspan dx="0.3" dy="3.0">; </tspan><tspan font-style="italic">P</tspan> = 0.21</text>
<polygon points="40.10,242.41 38.15,245.78 42.05,245.78" fill="rgb(238,36,36)"/>
<text x="44.90" y="246.70" font-size="6.5" fill="#111">ERA5_AW: 0.34 ± 0.31° decade<tspan font-size="4.2" dx="0.5" dy="-3.0">−1</tspan><tspan dx="0.3" dy="3.0">; </tspan><tspan font-style="italic">P</tspan> = 0.27</text>
<path d="M31.6,329.9l2.15,-3.74l2.15,3.74zM34.7,314.2l2.15,-3.74l2.15,3.74zM37.4,307.6l2.15,-3.74l2.15,3.74zM41.3,312.9l2.15,-3.74l2.15,3.74zM43.1,336.5l2.15,-3.74l2.15,3.74zM45.8,343.1l2.15,-3.74l2.15,3.74zM47.3,306.3l2.15,-3.74l2.15,3.74zM50.0,320.8l2.15,-3.74l2.15,3.74zM53.1,326.0l2.15,-3.74l2.15,3.74zM57.0,329.9l2.15,-3.74l2.15,3.74zM59.7,301.1l2.15,-3.74l2.15,3.74zM61.0,314.2l2.15,-3.74l2.15,3.74zM62.3,301.1l2.15,-3.74l2.15,3.74zM67.6,315.5l2.15,-3.74l2.15,3.74zM70.2,341.8l2.15,-3.74l2.15,3.74zM74.1,329.9l2.15,-3.74l2.15,3.74zM76.2,299.7l2.15,-3.74l2.15,3.74zM78.1,312.9l2.15,-3.74l2.15,3.74zM81.5,320.8l2.15,-3.74l2.15,3.74zM83.3,311.6l2.15,-3.74l2.15,3.74zM85.9,308.9l2.15,-3.74l2.15,3.74zM89.9,336.5l2.15,-3.74l2.15,3.74zM91.2,314.2l2.15,-3.74l2.15,3.74zM94.6,319.4l2.15,-3.74l2.15,3.74zM97.8,316.8l2.15,-3.74l2.15,3.74zM101.2,298.4l2.15,-3.74l2.15,3.74zM103.5,335.2l2.15,-3.74l2.15,3.74zM106.9,336.5l2.15,-3.74l2.15,3.74zM109.6,314.2l2.15,-3.74l2.15,3.74zM112.2,307.6l2.15,-3.74l2.15,3.74zM117.4,320.8l2.15,-3.74l2.15,3.74zM118.8,337.8l2.15,-3.74l2.15,3.74zM120.1,312.9l2.15,-3.74l2.15,3.74zM123.2,278.0l2.15,-3.74l2.15,3.74zM125.3,318.1l2.15,-3.74l2.15,3.74zM128.7,319.4l2.15,-3.74l2.15,3.74zM104.3,351.5l2.15,-3.74l2.15,3.74zM130.8,303.7l2.15,-3.74l2.15,3.74zM134.0,308.9l2.15,-3.74l2.15,3.74zM136.1,328.6l2.15,-3.74l2.15,3.74zM138.2,319.4l2.15,-3.74l2.15,3.74zM141.4,306.3l2.15,-3.74l2.15,3.74zM144.0,308.9l2.15,-3.74l2.15,3.74zM146.1,311.6l2.15,-3.74l2.15,3.74zM149.2,315.5l2.15,-3.74l2.15,3.74zM151.9,319.4l2.15,-3.74l2.15,3.74zM155.0,323.4l2.15,-3.74l2.15,3.74zM157.1,301.1l2.15,-3.74l2.15,3.74zM159.2,312.9l2.15,-3.74l2.15,3.74zM162.4,314.2l2.15,-3.74l2.15,3.74zM166.3,298.4l2.15,-3.74l2.15,3.74zM167.6,339.1l2.15,-3.74l2.15,3.74zM170.2,327.3l2.15,-3.74l2.15,3.74zM172.9,335.2l2.15,-3.74l2.15,3.74zM174.2,316.8l2.15,-3.74l2.15,3.74zM175.5,353.6l2.15,-3.74l2.15,3.74zM178.1,324.7l2.15,-3.74l2.15,3.74zM180.7,340.5l2.15,-3.74l2.15,3.74zM182.8,312.9l2.15,-3.74l2.15,3.74zM184.7,314.2l2.15,-3.74l2.15,3.74zM187.3,320.8l2.15,-3.74l2.15,3.74zM190.7,335.2l2.15,-3.74l2.15,3.74zM191.8,299.7l2.15,-3.74l2.15,3.74zM193.9,293.2l2.15,-3.74l2.15,3.74zM196.5,319.4l2.15,-3.74l2.15,3.74zM199.7,328.6l2.15,-3.74l2.15,3.74zM201.8,311.6l2.15,-3.74l2.15,3.74zM204.4,293.2l2.15,-3.74l2.15,3.74zM206.5,320.8l2.15,-3.74l2.15,3.74zM209.1,319.4l2.15,-3.74l2.15,3.74zM210.9,324.7l2.15,-3.74l2.15,3.74zM214.4,315.5l2.15,-3.74l2.15,3.74zM216.2,340.5l2.15,-3.74l2.15,3.74zM218.0,319.4l2.15,-3.74l2.15,3.74zM220.1,326.0l2.15,-3.74l2.15,3.74zM222.8,352.3l2.15,-3.74l2.15,3.74zM224.9,306.3l2.15,-3.74l2.15,3.74zM227.5,323.4l2.15,-3.74l2.15,3.74zM228.5,311.6l2.15,-3.74l2.15,3.74zM232.7,290.6l2.15,-3.74l2.15,3.74zM234.8,306.3l2.15,-3.74l2.15,3.74zM238.0,312.9l2.15,-3.74l2.15,3.74zM242.7,322.1l2.15,-3.74l2.15,3.74zM245.9,312.9l2.15,-3.74l2.15,3.74zM249.3,302.4l2.15,-3.74l2.15,3.74zM251.9,297.1l2.15,-3.74l2.15,3.74zM254.5,307.6l2.15,-3.74l2.15,3.74zM256.4,323.4l2.15,-3.74l2.15,3.74zM259.8,311.6l2.15,-3.74l2.15,3.74zM263.2,315.5l2.15,-3.74l2.15,3.74zM265.8,314.2l2.15,-3.74l2.15,3.74zM269.0,312.9l2.15,-3.74l2.15,3.74zM271.6,319.4l2.15,-3.74l2.15,3.74zM272.9,308.9l2.15,-3.74l2.15,3.74zM274.2,335.2l2.15,-3.74l2.15,3.74zM276.3,327.3l2.15,-3.74l2.15,3.74zM279.5,311.6l2.15,-3.74l2.15,3.74zM281.6,327.3l2.15,-3.74l2.15,3.74zM284.2,314.2l2.15,-3.74l2.15,3.74zM287.4,307.6l2.15,-3.74l2.15,3.74zM290.0,312.9l2.15,-3.74l2.15,3.74zM292.1,306.3l2.15,-3.74l2.15,3.74zM296.6,311.6l2.15,-3.74l2.15,3.74zM298.4,302.4l2.15,-3.74l2.15,3.74zM300.0,324.7l2.15,-3.74l2.15,3.74zM302.6,302.4l2.15,-3.74l2.15,3.74zM305.2,307.6l2.15,-3.74l2.15,3.74zM307.1,319.4l2.15,-3.74l2.15,3.74zM311.0,303.7l2.15,-3.74l2.15,3.74zM313.1,322.1l2.15,-3.74l2.15,3.74zM314.9,331.3l2.15,-3.74l2.15,3.74zM317.6,335.2l2.15,-3.74l2.15,3.74zM319.4,308.9l2.15,-3.74l2.15,3.74zM321.0,326.0l2.15,-3.74l2.15,3.74zM324.1,299.7l2.15,-3.74l2.15,3.74zM323.6,290.6l2.15,-3.74l2.15,3.74zM325.4,272.7l2.15,-3.74l2.15,3.74zM328.1,316.8l2.15,-3.74l2.15,3.74zM330.7,328.6l2.15,-3.74l2.15,3.74zM334.6,306.3l2.15,-3.74l2.15,3.74zM34.4,326.5l2.15,-3.74l2.15,3.74zM36.2,313.4l2.15,-3.74l2.15,3.74zM40.4,325.6l2.15,-3.74l2.15,3.74zM33.8,319.0l2.15,-3.74l2.15,3.74zM52.7,313.0l2.15,-3.74l2.15,3.74zM49.3,327.7l2.15,-3.74l2.15,3.74zM57.0,331.3l2.15,-3.74l2.15,3.74zM62.6,314.3l2.15,-3.74l2.15,3.74zM77.0,324.0l2.15,-3.74l2.15,3.74zM73.0,305.9l2.15,-3.74l2.15,3.74zM78.1,326.7l2.15,-3.74l2.15,3.74zM73.7,312.3l2.15,-3.74l2.15,3.74zM91.4,315.0l2.15,-3.74l2.15,3.74zM98.3,318.8l2.15,-3.74l2.15,3.74zM107.3,319.3l2.15,-3.74l2.15,3.74zM108.3,326.1l2.15,-3.74l2.15,3.74zM135.6,321.5l2.15,-3.74l2.15,3.74zM136.0,328.4l2.15,-3.74l2.15,3.74zM133.7,320.6l2.15,-3.74l2.15,3.74zM156.5,334.5l2.15,-3.74l2.15,3.74zM152.8,328.6l2.15,-3.74l2.15,3.74zM167.8,327.0l2.15,-3.74l2.15,3.74zM161.4,319.0l2.15,-3.74l2.15,3.74zM160.0,332.0l2.15,-3.74l2.15,3.74zM180.3,307.1l2.15,-3.74l2.15,3.74zM200.0,323.3l2.15,-3.74l2.15,3.74zM198.1,324.4l2.15,-3.74l2.15,3.74zM214.0,306.8l2.15,-3.74l2.15,3.74zM207.9,331.2l2.15,-3.74l2.15,3.74zM224.3,310.5l2.15,-3.74l2.15,3.74zM232.8,311.5l2.15,-3.74l2.15,3.74zM243.8,326.3l2.15,-3.74l2.15,3.74zM242.6,297.9l2.15,-3.74l2.15,3.74zM247.9,321.1l2.15,-3.74l2.15,3.74zM263.6,322.8l2.15,-3.74l2.15,3.74zM264.8,320.6l2.15,-3.74l2.15,3.74zM279.1,325.3l2.15,-3.74l2.15,3.74zM290.2,314.3l2.15,-3.74l2.15,3.74zM287.5,303.8l2.15,-3.74l2.15,3.74zM297.2,312.5l2.15,-3.74l2.15,3.74zM307.0,313.8l2.15,-3.74l2.15,3.74zM313.9,312.2l2.15,-3.74l2.15,3.74zM320.4,312.5l2.15,-3.74l2.15,3.74zM336.3,306.2l2.15,-3.74l2.15,3.74zM330.7,311.3l2.15,-3.74l2.15,3.74zM35.1,329.0l2.15,-3.74l2.15,3.74zM35.4,312.6l2.15,-3.74l2.15,3.74zM34.1,320.3l2.15,-3.74l2.15,3.74zM51.7,312.5l2.15,-3.74l2.15,3.74zM56.9,331.5l2.15,-3.74l2.15,3.74zM62.8,316.6l2.15,-3.74l2.15,3.74zM76.1,323.6l2.15,-3.74l2.15,3.74zM73.9,304.4l2.15,-3.74l2.15,3.74zM74.4,311.9l2.15,-3.74l2.15,3.74zM98.0,317.1l2.15,-3.74l2.15,3.74zM105.8,316.1l2.15,-3.74l2.15,3.74zM109.0,323.4l2.15,-3.74l2.15,3.74zM135.2,323.5l2.15,-3.74l2.15,3.74zM137.0,329.5l2.15,-3.74l2.15,3.74zM134.4,322.1l2.15,-3.74l2.15,3.74zM157.2,333.9l2.15,-3.74l2.15,3.74zM154.3,326.2l2.15,-3.74l2.15,3.74zM167.0,326.6l2.15,-3.74l2.15,3.74zM162.5,318.0l2.15,-3.74l2.15,3.74zM161.4,330.3l2.15,-3.74l2.15,3.74zM181.9,308.4l2.15,-3.74l2.15,3.74zM199.9,325.7l2.15,-3.74l2.15,3.74zM198.8,325.4l2.15,-3.74l2.15,3.74zM213.1,306.8l2.15,-3.74l2.15,3.74zM209.2,332.6l2.15,-3.74l2.15,3.74zM234.1,312.8l2.15,-3.74l2.15,3.74zM243.3,298.9l2.15,-3.74l2.15,3.74zM264.2,320.7l2.15,-3.74l2.15,3.74zM263.8,321.1l2.15,-3.74l2.15,3.74zM279.3,328.3l2.15,-3.74l2.15,3.74zM291.1,316.1l2.15,-3.74l2.15,3.74zM287.3,302.3l2.15,-3.74l2.15,3.74zM295.9,313.7l2.15,-3.74l2.15,3.74zM305.5,312.2l2.15,-3.74l2.15,3.74zM319.4,310.8l2.15,-3.74l2.15,3.74zM335.7,307.0l2.15,-3.74l2.15,3.74zM330.4,311.1l2.15,-3.74l2.15,3.74zM104.9,354.6l2.15,-3.74l2.15,3.74zM30.3,311.1l2.15,-3.74l2.15,3.74zM33.0,333.0l2.15,-3.74l2.15,3.74zM34.8,314.4l2.15,-3.74l2.15,3.74zM36.5,320.5l2.15,-3.74l2.15,3.74zM42.5,341.0l2.15,-3.74l2.15,3.74zM43.9,329.1l2.15,-3.74l2.15,3.74zM46.4,339.6l2.15,-3.74l2.15,3.74zM48.8,310.4l2.15,-3.74l2.15,3.74zM50.4,310.7l2.15,-3.74l2.15,3.74zM51.9,319.9l2.15,-3.74l2.15,3.74zM54.1,308.9l2.15,-3.74l2.15,3.74zM56.5,332.0l2.15,-3.74l2.15,3.74zM58.5,294.3l2.15,-3.74l2.15,3.74zM60.8,305.6l2.15,-3.74l2.15,3.74zM63.8,317.3l2.15,-3.74l2.15,3.74zM65.4,309.7l2.15,-3.74l2.15,3.74zM71.3,339.9l2.15,-3.74l2.15,3.74zM75.5,318.8l2.15,-3.74l2.15,3.74zM80.5,318.3l2.15,-3.74l2.15,3.74zM81.5,326.7l2.15,-3.74l2.15,3.74zM85.0,316.2l2.15,-3.74l2.15,3.74zM87.1,303.2l2.15,-3.74l2.15,3.74zM88.1,335.5l2.15,-3.74l2.15,3.74zM93.1,310.8l2.15,-3.74l2.15,3.74zM94.8,326.0l2.15,-3.74l2.15,3.74zM99.8,304.0l2.15,-3.74l2.15,3.74zM101.4,294.7l2.15,-3.74l2.15,3.74zM105.3,324.2l2.15,-3.74l2.15,3.74zM106.7,334.9l2.15,-3.74l2.15,3.74zM110.2,313.0l2.15,-3.74l2.15,3.74zM111.0,311.7l2.15,-3.74l2.15,3.74zM115.8,342.3l2.15,-3.74l2.15,3.74zM116.9,317.5l2.15,-3.74l2.15,3.74zM117.8,329.3l2.15,-3.74l2.15,3.74zM120.7,303.9l2.15,-3.74l2.15,3.74zM122.6,290.7l2.15,-3.74l2.15,3.74zM125.5,318.4l2.15,-3.74l2.15,3.74zM127.4,317.8l2.15,-3.74l2.15,3.74zM133.5,332.9l2.15,-3.74l2.15,3.74zM136.8,307.9l2.15,-3.74l2.15,3.74zM139.2,326.5l2.15,-3.74l2.15,3.74zM141.1,312.7l2.15,-3.74l2.15,3.74zM145.7,307.4l2.15,-3.74l2.15,3.74zM146.9,308.4l2.15,-3.74l2.15,3.74zM149.9,314.1l2.15,-3.74l2.15,3.74zM151.7,317.6l2.15,-3.74l2.15,3.74zM154.2,320.2l2.15,-3.74l2.15,3.74zM156.4,322.6l2.15,-3.74l2.15,3.74zM159.3,309.8l2.15,-3.74l2.15,3.74zM163.1,302.7l2.15,-3.74l2.15,3.74zM166.4,302.2l2.15,-3.74l2.15,3.74zM167.5,331.7l2.15,-3.74l2.15,3.74zM173.3,335.6l2.15,-3.74l2.15,3.74zM175.1,347.7l2.15,-3.74l2.15,3.74zM176.4,354.4l2.15,-3.74l2.15,3.74zM184.2,313.5l2.15,-3.74l2.15,3.74zM186.2,325.7l2.15,-3.74l2.15,3.74zM189.8,349.5l2.15,-3.74l2.15,3.74zM190.9,336.3l2.15,-3.74l2.15,3.74zM192.3,301.6l2.15,-3.74l2.15,3.74zM194.4,294.8l2.15,-3.74l2.15,3.74zM195.6,312.3l2.15,-3.74l2.15,3.74zM196.8,324.7l2.15,-3.74l2.15,3.74zM199.2,326.3l2.15,-3.74l2.15,3.74zM201.4,310.5l2.15,-3.74l2.15,3.74zM203.5,294.0l2.15,-3.74l2.15,3.74zM206.8,304.5l2.15,-3.74l2.15,3.74zM211.3,313.5l2.15,-3.74l2.15,3.74zM214.5,308.6l2.15,-3.74l2.15,3.74zM215.8,340.1l2.15,-3.74l2.15,3.74zM218.1,316.3l2.15,-3.74l2.15,3.74zM219.9,321.1l2.15,-3.74l2.15,3.74zM223.5,325.4l2.15,-3.74l2.15,3.74zM225.1,299.4l2.15,-3.74l2.15,3.74zM229.2,328.0l2.15,-3.74l2.15,3.74zM230.9,309.3l2.15,-3.74l2.15,3.74zM233.5,293.8l2.15,-3.74l2.15,3.74zM236.6,319.1l2.15,-3.74l2.15,3.74zM238.0,326.3l2.15,-3.74l2.15,3.74zM242.9,334.1l2.15,-3.74l2.15,3.74zM245.5,296.2l2.15,-3.74l2.15,3.74zM246.2,330.9l2.15,-3.74l2.15,3.74zM249.7,305.4l2.15,-3.74l2.15,3.74zM250.9,274.3l2.15,-3.74l2.15,3.74zM251.6,301.7l2.15,-3.74l2.15,3.74zM256.4,311.7l2.15,-3.74l2.15,3.74zM257.5,326.3l2.15,-3.74l2.15,3.74zM258.6,311.9l2.15,-3.74l2.15,3.74zM263.0,316.8l2.15,-3.74l2.15,3.74zM263.7,334.5l2.15,-3.74l2.15,3.74zM266.7,320.5l2.15,-3.74l2.15,3.74zM268.8,328.0l2.15,-3.74l2.15,3.74zM270.8,316.8l2.15,-3.74l2.15,3.74zM273.8,323.1l2.15,-3.74l2.15,3.74zM275.7,332.7l2.15,-3.74l2.15,3.74zM278.0,300.1l2.15,-3.74l2.15,3.74zM279.8,311.2l2.15,-3.74l2.15,3.74zM280.6,327.1l2.15,-3.74l2.15,3.74zM282.0,320.5l2.15,-3.74l2.15,3.74zM284.5,314.9l2.15,-3.74l2.15,3.74zM287.5,310.6l2.15,-3.74l2.15,3.74zM288.5,304.0l2.15,-3.74l2.15,3.74zM290.9,317.9l2.15,-3.74l2.15,3.74zM293.1,310.8l2.15,-3.74l2.15,3.74zM294.9,309.6l2.15,-3.74l2.15,3.74zM297.9,308.8l2.15,-3.74l2.15,3.74zM298.7,306.2l2.15,-3.74l2.15,3.74zM303.3,301.5l2.15,-3.74l2.15,3.74zM305.1,312.1l2.15,-3.74l2.15,3.74zM307.1,324.5l2.15,-3.74l2.15,3.74zM313.5,331.5l2.15,-3.74l2.15,3.74zM314.3,312.5l2.15,-3.74l2.15,3.74zM317.9,317.1l2.15,-3.74l2.15,3.74zM318.9,324.9l2.15,-3.74l2.15,3.74zM321.0,336.3l2.15,-3.74l2.15,3.74zM327.4,326.7l2.15,-3.74l2.15,3.74zM329.9,314.3l2.15,-3.74l2.15,3.74zM331.7,328.4l2.15,-3.74l2.15,3.74zM333.0,311.1l2.15,-3.74l2.15,3.74z" fill="rgb(238,36,36)"/>
<path d="M34.3,305.3L35.0,306.5L36.3,306.8L35.4,307.9L35.5,309.3L34.3,308.7L33.0,309.3L33.1,307.9L32.2,306.8L33.5,306.5zM41.6,311.9L42.3,313.1L43.7,313.4L42.8,314.5L42.9,315.9L41.6,315.3L40.3,315.9L40.5,314.5L39.5,313.4L40.9,313.1zM44.2,335.5L44.9,336.7L46.3,337.0L45.4,338.1L45.5,339.5L44.2,338.9L42.9,339.5L43.1,338.1L42.1,337.0L43.5,336.7zM47.9,343.4L48.6,344.6L50.0,344.9L49.1,346.0L49.2,347.4L47.9,346.8L46.6,347.4L46.8,346.0L45.8,344.9L47.2,344.6zM51.3,311.9L52.0,313.1L53.4,313.4L52.5,314.5L52.6,315.9L51.3,315.3L50.0,315.9L50.2,314.5L49.2,313.4L50.6,313.1zM64.5,301.4L65.2,302.6L66.5,302.9L65.6,304.0L65.7,305.4L64.5,304.8L63.2,305.4L63.3,304.0L62.4,302.9L63.7,302.6zM68.4,298.8L69.1,300.0L70.5,300.3L69.5,301.3L69.7,302.7L68.4,302.2L67.1,302.7L67.2,301.3L66.3,300.3L67.7,300.0zM73.1,342.1L73.8,343.3L75.2,343.6L74.3,344.7L74.4,346.1L73.1,345.5L71.8,346.1L72.0,344.7L71.0,343.6L72.4,343.3zM76.3,331.6L77.0,332.8L78.4,333.1L77.4,334.2L77.6,335.6L76.3,335.0L75.0,335.6L75.1,334.2L74.2,333.1L75.6,332.8zM82.8,314.5L83.5,315.7L84.9,316.0L84.0,317.1L84.1,318.5L82.8,317.9L81.5,318.5L81.7,317.1L80.7,316.0L82.1,315.7zM88.9,298.8L89.6,300.0L91.0,300.3L90.0,301.3L90.2,302.7L88.9,302.2L87.6,302.7L87.7,301.3L86.8,300.3L88.2,300.0zM94.7,319.8L95.4,321.0L96.7,321.3L95.8,322.3L95.9,323.7L94.7,323.2L93.4,323.7L93.5,322.3L92.6,321.3L93.9,321.0zM103.8,290.9L104.6,292.1L105.9,292.4L105.0,293.5L105.1,294.9L103.8,294.3L102.5,294.9L102.7,293.5L101.8,292.4L103.1,292.1zM105.2,311.9L105.9,313.1L107.2,313.4L106.3,314.5L106.4,315.9L105.2,315.3L103.9,315.9L104.0,314.5L103.1,313.4L104.4,313.1zM112.5,304.0L113.2,305.2L114.6,305.5L113.7,306.6L113.8,308.0L112.5,307.4L111.2,308.0L111.4,306.6L110.4,305.5L111.8,305.2zM115.7,313.2L116.4,314.4L117.8,314.7L116.8,315.8L117.0,317.2L115.7,316.6L114.4,317.2L114.5,315.8L113.6,314.7L114.9,314.4zM121.4,330.3L122.1,331.5L123.5,331.8L122.6,332.8L122.7,334.2L121.4,333.7L120.1,334.2L120.3,332.8L119.3,331.8L120.7,331.5zM125.6,283.8L126.3,285.0L127.7,285.3L126.8,286.4L126.9,287.8L125.6,287.2L124.3,287.8L124.5,286.4L123.5,285.3L124.9,285.0zM128.8,310.6L129.5,311.8L130.9,312.1L129.9,313.1L130.1,314.6L128.8,314.0L127.5,314.6L127.6,313.1L126.7,312.1L128.1,311.8zM133.0,292.2L133.7,293.4L135.1,293.7L134.2,294.8L134.3,296.2L133.0,295.6L131.7,296.2L131.8,294.8L130.9,293.7L132.3,293.4zM135.6,293.5L136.3,294.7L137.7,295.0L136.8,296.1L136.9,297.5L135.6,296.9L134.3,297.5L134.5,296.1L133.5,295.0L134.9,294.7zM138.3,305.3L139.0,306.5L140.3,306.8L139.4,307.9L139.5,309.3L138.3,308.7L137.0,309.3L137.1,307.9L136.2,306.8L137.5,306.5zM144.8,300.1L145.5,301.3L146.9,301.6L146.0,302.6L146.1,304.0L144.8,303.5L143.5,304.0L143.7,302.6L142.7,301.6L144.1,301.3zM150.9,309.3L151.6,310.5L152.9,310.8L152.0,311.8L152.2,313.2L150.9,312.7L149.6,313.2L149.7,311.8L148.8,310.8L150.1,310.5zM158.7,279.1L159.4,280.3L160.8,280.6L159.9,281.6L160.0,283.0L158.7,282.5L157.4,283.0L157.6,281.6L156.6,280.6L158.0,280.3zM161.4,294.3L162.1,295.5L163.5,295.8L162.5,296.9L162.7,298.3L161.4,297.7L160.1,298.3L160.2,296.9L159.3,295.8L160.7,295.5zM164.5,306.6L165.2,307.9L166.6,308.2L165.7,309.2L165.8,310.6L164.5,310.0L163.2,310.6L163.4,309.2L162.4,308.2L163.8,307.9zM167.1,298.8L167.8,300.0L169.2,300.3L168.3,301.3L168.4,302.7L167.1,302.2L165.8,302.7L166.0,301.3L165.0,300.3L166.4,300.0zM172.9,298.8L173.6,300.0L175.0,300.3L174.1,301.3L174.2,302.7L172.9,302.2L171.6,302.7L171.8,301.3L170.8,300.3L172.2,300.0zM180.8,317.1L181.5,318.4L182.9,318.7L181.9,319.7L182.1,321.1L180.8,320.5L179.5,321.1L179.6,319.7L178.7,318.7L180.1,318.4zM182.9,334.2L183.6,335.4L185.0,335.7L184.0,336.8L184.2,338.2L182.9,337.6L181.6,338.2L181.7,336.8L180.8,335.7L182.2,335.4zM187.6,315.8L188.3,317.0L189.7,317.3L188.8,318.4L188.9,319.8L187.6,319.2L186.3,319.8L186.5,318.4L185.5,317.3L186.9,317.0zM191.3,339.5L192.0,340.7L193.4,341.0L192.4,342.0L192.6,343.4L191.3,342.9L190.0,343.4L190.1,342.0L189.2,341.0L190.6,340.7zM196.0,290.4L196.7,291.6L198.1,291.9L197.2,292.9L197.3,294.3L196.0,293.8L194.7,294.3L194.9,292.9L193.9,291.9L195.3,291.6zM203.9,305.3L204.6,306.5L206.0,306.8L205.1,307.9L205.2,309.3L203.9,308.7L202.6,309.3L202.8,307.9L201.8,306.8L203.2,306.5zM209.2,300.1L209.9,301.3L211.2,301.6L210.3,302.6L210.4,304.0L209.2,303.5L207.9,304.0L208.0,302.6L207.1,301.6L208.4,301.3zM211.8,307.9L212.5,309.2L213.9,309.5L212.9,310.5L213.1,311.9L211.8,311.4L210.5,311.9L210.6,310.5L209.7,309.5L211.1,309.2zM223.6,327.6L224.3,328.9L225.7,329.2L224.7,330.2L224.9,331.6L223.6,331.1L222.3,331.6L222.4,330.2L221.5,329.2L222.9,328.9zM224.9,315.8L225.6,317.0L227.0,317.3L226.1,318.4L226.2,319.8L224.9,319.2L223.6,319.8L223.8,318.4L222.8,317.3L224.2,317.0zM228.9,300.1L229.6,301.3L230.9,301.6L230.0,302.6L230.1,304.0L228.9,303.5L227.6,304.0L227.7,302.6L226.8,301.6L228.1,301.3zM232.8,310.6L233.5,311.8L234.9,312.1L233.9,313.1L234.1,314.6L232.8,314.0L231.5,314.6L231.6,313.1L230.7,312.1L232.1,311.8zM238.3,310.6L239.0,311.8L240.4,312.1L239.5,313.1L239.6,314.6L238.3,314.0L237.0,314.6L237.2,313.1L236.2,312.1L237.6,311.8zM242.3,310.6L243.0,311.8L244.3,312.1L243.4,313.1L243.5,314.6L242.3,314.0L241.0,314.6L241.1,313.1L240.2,312.1L241.5,311.8zM247.0,290.9L247.7,292.1L249.1,292.4L248.1,293.5L248.3,294.9L247.0,294.3L245.7,294.9L245.8,293.5L244.9,292.4L246.3,292.1zM252.2,265.4L252.9,266.6L254.3,266.9L253.4,268.0L253.5,269.4L252.2,268.8L250.9,269.4L251.1,268.0L250.1,266.9L251.5,266.6zM255.9,301.4L256.6,302.6L258.0,302.9L257.1,304.0L257.2,305.4L255.9,304.8L254.6,305.4L254.8,304.0L253.8,302.9L255.2,302.6zM266.4,330.3L267.1,331.5L268.5,331.8L267.6,332.8L267.7,334.2L266.4,333.7L265.1,334.2L265.3,332.8L264.3,331.8L265.7,331.5zM269.8,329.0L270.5,330.2L271.9,330.5L271.0,331.5L271.1,332.9L269.8,332.4L268.5,332.9L268.7,331.5L267.7,330.5L269.1,330.2zM281.1,301.4L281.8,302.6L283.2,302.9L282.3,304.0L282.4,305.4L281.1,304.8L279.8,305.4L280.0,304.0L279.0,302.9L280.4,302.6zM284.8,317.1L285.5,318.4L286.9,318.7L285.9,319.7L286.1,321.1L284.8,320.5L283.5,321.1L283.6,319.7L282.7,318.7L284.1,318.4zM290.8,307.9L291.5,309.2L292.9,309.5L292.0,310.5L292.1,311.9L290.8,311.4L289.5,311.9L289.7,310.5L288.7,309.5L290.1,309.2zM293.5,298.8L294.2,300.0L295.6,300.3L294.6,301.3L294.8,302.7L293.5,302.2L292.2,302.7L292.3,301.3L291.4,300.3L292.7,300.0zM300.0,315.8L300.7,317.0L302.1,317.3L301.2,318.4L301.3,319.8L300.0,319.2L298.7,319.8L298.9,318.4L297.9,317.3L299.3,317.0zM304.0,298.8L304.7,300.0L306.1,300.3L305.1,301.3L305.3,302.7L304.0,302.2L302.7,302.7L302.8,301.3L301.9,300.3L303.3,300.0zM312.6,325.0L313.3,326.2L314.7,326.5L313.8,327.6L313.9,329.0L312.6,328.4L311.3,329.0L311.5,327.6L310.5,326.5L311.9,326.2zM315.3,323.7L316.0,324.9L317.3,325.2L316.4,326.3L316.5,327.7L315.3,327.1L314.0,327.7L314.1,326.3L313.2,325.2L314.5,324.9zM327.6,271.7L328.3,272.9L329.7,273.2L328.7,274.3L328.9,275.7L327.6,275.1L326.3,275.7L326.4,274.3L325.5,273.2L326.9,272.9zM325.5,281.2L326.2,282.4L327.6,282.7L326.6,283.7L326.8,285.1L325.5,284.6L324.2,285.1L324.3,283.7L323.4,282.7L324.8,282.4zM330.2,330.3L330.9,331.5L332.3,331.8L331.4,332.8L331.5,334.2L330.2,333.7L328.9,334.2L329.1,332.8L328.1,331.8L329.5,331.5zM334.2,311.9L334.9,313.1L336.3,313.4L335.3,314.5L335.5,315.9L334.2,315.3L332.9,315.9L333.0,314.5L332.1,313.4L333.5,313.1zM37.9,325.3L38.6,326.5L40.0,326.8L39.1,327.8L39.2,329.2L37.9,328.7L36.6,329.2L36.8,327.8L35.8,326.8L37.2,326.5zM37.0,306.9L37.7,308.1L39.1,308.4L38.1,309.5L38.3,310.9L37.0,310.3L35.7,310.9L35.8,309.5L34.9,308.4L36.3,308.1zM43.1,319.8L43.8,321.1L45.2,321.4L44.2,322.4L44.4,323.8L43.1,323.3L41.8,323.8L41.9,322.4L41.0,321.4L42.4,321.1zM35.5,315.4L36.3,316.7L37.6,317.0L36.7,318.0L36.8,319.4L35.5,318.8L34.3,319.4L34.4,318.0L33.5,317.0L34.8,316.7zM53.0,308.4L53.7,309.6L55.1,309.9L54.2,311.0L54.3,312.4L53.0,311.8L51.7,312.4L51.9,311.0L50.9,309.9L52.3,309.6zM53.2,325.9L53.9,327.1L55.3,327.4L54.4,328.5L54.5,329.9L53.2,329.3L51.9,329.9L52.1,328.5L51.1,327.4L52.5,327.1zM59.5,330.2L60.2,331.4L61.6,331.7L60.6,332.7L60.8,334.2L59.5,333.6L58.2,334.2L58.3,332.7L57.4,331.7L58.8,331.4zM64.2,311.5L64.9,312.7L66.2,313.0L65.3,314.1L65.4,315.5L64.2,314.9L62.9,315.5L63.0,314.1L62.1,313.0L63.4,312.7zM78.3,319.2L79.1,320.4L80.4,320.7L79.5,321.8L79.6,323.2L78.3,322.6L77.0,323.2L77.2,321.8L76.2,320.7L77.6,320.4zM76.6,300.9L77.3,302.1L78.7,302.4L77.7,303.5L77.9,304.9L76.6,304.3L75.3,304.9L75.4,303.5L74.5,302.4L75.9,302.1zM81.2,322.1L81.9,323.3L83.3,323.6L82.4,324.6L82.5,326.0L81.2,325.5L79.9,326.0L80.1,324.6L79.1,323.6L80.5,323.3zM77.4,308.4L78.2,309.6L79.5,309.9L78.6,311.0L78.7,312.4L77.4,311.8L76.1,312.4L76.3,311.0L75.3,309.9L76.7,309.6zM93.3,309.8L94.1,311.0L95.4,311.3L94.5,312.3L94.6,313.7L93.3,313.2L92.0,313.7L92.2,312.3L91.2,311.3L92.6,311.0zM100.1,314.5L100.8,315.7L102.2,316.0L101.3,317.1L101.4,318.5L100.1,317.9L98.8,318.5L99.0,317.1L98.0,316.0L99.4,315.7zM108.3,312.5L109.0,313.7L110.4,314.0L109.5,315.1L109.6,316.5L108.3,315.9L107.0,316.5L107.2,315.1L106.2,314.0L107.6,313.7zM112.0,321.5L112.8,322.8L114.1,323.1L113.2,324.1L113.3,325.5L112.0,324.9L110.8,325.5L110.9,324.1L110.0,323.1L111.3,322.8zM138.4,320.0L139.1,321.2L140.5,321.5L139.5,322.6L139.7,324.0L138.4,323.4L137.1,324.0L137.2,322.6L136.3,321.5L137.7,321.2zM139.9,327.2L140.7,328.4L142.0,328.7L141.1,329.8L141.2,331.2L139.9,330.6L138.6,331.2L138.8,329.8L137.8,328.7L139.2,328.4zM136.3,318.1L137.0,319.4L138.4,319.7L137.4,320.7L137.6,322.1L136.3,321.6L135.0,322.1L135.1,320.7L134.2,319.7L135.6,319.4zM159.9,330.1L160.6,331.3L162.0,331.6L161.0,332.7L161.2,334.1L159.9,333.5L158.6,334.1L158.7,332.7L157.8,331.6L159.2,331.3zM156.2,322.3L157.0,323.5L158.3,323.8L157.4,324.9L157.5,326.3L156.2,325.7L154.9,326.3L155.1,324.9L154.1,323.8L155.5,323.5zM169.2,321.1L169.9,322.3L171.3,322.6L170.3,323.6L170.5,325.0L169.2,324.5L167.9,325.0L168.0,323.6L167.1,322.6L168.5,322.3zM164.6,314.3L165.3,315.5L166.6,315.8L165.7,316.9L165.8,318.3L164.6,317.7L163.3,318.3L163.4,316.9L162.5,315.8L163.8,315.5zM163.2,327.1L163.9,328.3L165.3,328.6L164.3,329.7L164.5,331.1L163.2,330.5L161.9,331.1L162.0,329.7L161.1,328.6L162.5,328.3zM182.9,304.8L183.6,306.0L185.0,306.3L184.1,307.4L184.2,308.8L182.9,308.2L181.6,308.8L181.8,307.4L180.8,306.3L182.2,306.0zM201.5,321.9L202.3,323.1L203.6,323.4L202.7,324.5L202.8,325.9L201.5,325.3L200.3,325.9L200.4,324.5L199.5,323.4L200.8,323.1zM201.4,322.3L202.1,323.5L203.5,323.8L202.5,324.8L202.7,326.2L201.4,325.7L200.1,326.2L200.2,324.8L199.3,323.8L200.7,323.5zM215.6,303.0L216.4,304.2L217.7,304.5L216.8,305.6L216.9,307.0L215.6,306.4L214.4,307.0L214.5,305.6L213.6,304.5L214.9,304.2zM211.6,327.7L212.3,328.9L213.7,329.2L212.7,330.2L212.9,331.6L211.6,331.1L210.3,331.6L210.4,330.2L209.5,329.2L210.9,328.9zM227.3,306.6L228.0,307.8L229.4,308.1L228.4,309.2L228.6,310.6L227.3,310.0L226.0,310.6L226.1,309.2L225.2,308.1L226.6,307.8zM235.8,308.6L236.5,309.8L237.9,310.1L236.9,311.2L237.1,312.6L235.8,312.0L234.5,312.6L234.6,311.2L233.7,310.1L235.1,309.8zM245.4,321.9L246.1,323.2L247.5,323.5L246.6,324.5L246.7,325.9L245.4,325.4L244.1,325.9L244.3,324.5L243.3,323.5L244.7,323.2zM245.9,294.8L246.6,296.0L248.0,296.3L247.1,297.4L247.2,298.8L245.9,298.2L244.6,298.8L244.8,297.4L243.8,296.3L245.2,296.0zM251.8,318.1L252.5,319.3L253.8,319.6L252.9,320.7L253.0,322.1L251.8,321.5L250.5,322.1L250.6,320.7L249.7,319.6L251.0,319.3zM265.6,316.0L266.3,317.3L267.7,317.6L266.7,318.6L266.9,320.0L265.6,319.4L264.3,320.0L264.4,318.6L263.5,317.6L264.9,317.3zM266.6,315.3L267.3,316.5L268.7,316.8L267.7,317.8L267.9,319.2L266.6,318.7L265.3,319.2L265.4,317.8L264.5,316.8L265.9,316.5zM281.1,324.6L281.8,325.9L283.2,326.2L282.2,327.2L282.4,328.6L281.1,328.1L279.8,328.6L279.9,327.2L279.0,326.2L280.4,325.9zM294.5,313.1L295.2,314.3L296.6,314.6L295.7,315.7L295.8,317.1L294.5,316.5L293.2,317.1L293.4,315.7L292.4,314.6L293.8,314.3zM289.9,299.0L290.6,300.2L292.0,300.5L291.1,301.5L291.2,303.0L289.9,302.4L288.6,303.0L288.8,301.5L287.8,300.5L289.2,300.2zM298.8,309.1L299.5,310.3L300.9,310.6L300.0,311.7L300.1,313.1L298.8,312.5L297.5,313.1L297.7,311.7L296.7,310.6L298.1,310.3zM307.9,309.9L308.6,311.1L310.0,311.4L309.1,312.4L309.2,313.9L307.9,313.3L306.6,313.9L306.8,312.4L305.8,311.4L307.2,311.1zM315.5,307.2L316.2,308.5L317.5,308.8L316.6,309.8L316.7,311.2L315.5,310.7L314.2,311.2L314.3,309.8L313.4,308.8L314.7,308.5zM321.0,306.1L321.7,307.3L323.1,307.6L322.1,308.6L322.3,310.1L321.0,309.5L319.7,310.1L319.8,308.6L318.9,307.6L320.3,307.3zM336.5,304.0L337.2,305.2L338.5,305.5L337.6,306.5L337.7,307.9L336.5,307.4L335.2,307.9L335.3,306.5L334.4,305.5L335.7,305.2zM333.1,306.5L333.8,307.8L335.2,308.0L334.2,309.1L334.4,310.5L333.1,309.9L331.8,310.5L331.9,309.1L331.0,308.0L332.4,307.8zM37.9,325.3L38.6,326.6L40.0,326.9L39.1,327.9L39.2,329.3L37.9,328.8L36.6,329.3L36.8,327.9L35.8,326.9L37.2,326.6zM37.0,307.2L37.7,308.4L39.1,308.7L38.2,309.8L38.3,311.2L37.0,310.6L35.7,311.2L35.9,309.8L34.9,308.7L36.3,308.4zM42.6,319.0L43.3,320.2L44.7,320.5L43.7,321.6L43.9,323.0L42.6,322.4L41.3,323.0L41.4,321.6L40.5,320.5L41.9,320.2zM36.5,317.9L37.2,319.1L38.6,319.4L37.7,320.4L37.8,321.8L36.5,321.3L35.2,321.8L35.4,320.4L34.4,319.4L35.8,319.1zM53.7,308.8L54.4,310.0L55.8,310.3L54.9,311.4L55.0,312.8L53.7,312.2L52.4,312.8L52.6,311.4L51.6,310.3L53.0,310.0zM52.9,325.9L53.6,327.1L55.0,327.4L54.0,328.5L54.2,329.9L52.9,329.3L51.6,329.9L51.7,328.5L50.8,327.4L52.2,327.1zM58.5,328.1L59.2,329.3L60.6,329.6L59.6,330.7L59.8,332.1L58.5,331.5L57.2,332.1L57.3,330.7L56.4,329.6L57.8,329.3zM81.6,322.5L82.3,323.7L83.7,324.0L82.8,325.1L82.9,326.5L81.6,325.9L80.3,326.5L80.5,325.1L79.5,324.0L80.9,323.7zM77.2,307.9L77.9,309.1L79.3,309.4L78.3,310.5L78.5,311.9L77.2,311.3L75.9,311.9L76.0,310.5L75.1,309.4L76.5,309.1zM94.6,309.9L95.3,311.2L96.7,311.5L95.8,312.5L95.9,313.9L94.6,313.4L93.3,313.9L93.5,312.5L92.5,311.5L93.9,311.2zM101.4,314.4L102.1,315.6L103.5,315.9L102.6,317.0L102.7,318.4L101.4,317.8L100.1,318.4L100.3,317.0L99.3,315.9L100.7,315.6zM108.9,313.5L109.6,314.7L111.0,315.0L110.0,316.1L110.2,317.5L108.9,316.9L107.6,317.5L107.7,316.1L106.8,315.0L108.2,314.7zM111.9,321.7L112.6,322.9L114.0,323.2L113.1,324.3L113.2,325.7L111.9,325.1L110.6,325.7L110.8,324.3L109.8,323.2L111.2,322.9zM137.9,318.2L138.6,319.4L140.0,319.7L139.1,320.7L139.2,322.1L137.9,321.6L136.6,322.1L136.8,320.7L135.8,319.7L137.2,319.4zM139.6,325.4L140.3,326.6L141.7,326.9L140.7,327.9L140.9,329.3L139.6,328.8L138.3,329.3L138.4,327.9L137.5,326.9L138.9,326.6zM136.1,318.6L136.8,319.9L138.2,320.2L137.3,321.2L137.4,322.6L136.1,322.1L134.8,322.6L135.0,321.2L134.0,320.2L135.4,319.9zM160.4,328.8L161.1,330.0L162.5,330.3L161.5,331.4L161.7,332.8L160.4,332.2L159.1,332.8L159.2,331.4L158.3,330.3L159.7,330.0zM168.0,322.1L168.7,323.3L170.1,323.6L169.1,324.7L169.3,326.1L168.0,325.5L166.7,326.1L166.8,324.7L165.9,323.6L167.3,323.3zM164.9,314.3L165.6,315.5L167.0,315.8L166.0,316.9L166.2,318.3L164.9,317.7L163.6,318.3L163.7,316.9L162.8,315.8L164.2,315.5zM163.1,327.0L163.8,328.2L165.2,328.5L164.3,329.6L164.4,331.0L163.1,330.4L161.8,331.0L162.0,329.6L161.0,328.5L162.4,328.2zM202.3,321.4L203.1,322.6L204.4,322.9L203.5,324.0L203.6,325.4L202.3,324.8L201.1,325.4L201.2,324.0L200.3,322.9L201.6,322.6zM201.7,323.4L202.4,324.6L203.8,324.9L202.9,325.9L203.0,327.3L201.7,326.8L200.4,327.3L200.6,325.9L199.6,324.9L201.0,324.6zM215.9,301.6L216.6,302.8L218.0,303.1L217.0,304.1L217.2,305.6L215.9,305.0L214.6,305.6L214.7,304.1L213.8,303.1L215.2,302.8zM227.5,308.0L228.2,309.2L229.6,309.5L228.6,310.6L228.8,312.0L227.5,311.4L226.2,312.0L226.3,310.6L225.4,309.5L226.8,309.2zM235.9,308.6L236.6,309.8L238.0,310.1L237.0,311.1L237.2,312.5L235.9,312.0L234.6,312.5L234.7,311.1L233.8,310.1L235.2,309.8zM251.0,319.4L251.7,320.6L253.1,320.9L252.2,322.0L252.3,323.4L251.0,322.8L249.7,323.4L249.9,322.0L248.9,320.9L250.3,320.6zM266.4,316.8L267.2,318.1L268.5,318.4L267.6,319.4L267.7,320.8L266.4,320.2L265.1,320.8L265.3,319.4L264.3,318.4L265.7,318.1zM266.8,317.4L267.5,318.6L268.9,318.9L267.9,319.9L268.1,321.3L266.8,320.8L265.5,321.3L265.6,319.9L264.7,318.9L266.1,318.6zM282.1,323.7L282.8,325.0L284.1,325.3L283.2,326.3L283.3,327.7L282.1,327.1L280.8,327.7L280.9,326.3L280.0,325.3L281.3,325.0zM289.2,299.1L289.9,300.3L291.2,300.6L290.3,301.7L290.4,303.1L289.2,302.5L287.9,303.1L288.0,301.7L287.1,300.6L288.4,300.3zM307.9,310.2L308.6,311.4L310.0,311.7L309.0,312.8L309.2,314.2L307.9,313.6L306.6,314.2L306.7,312.8L305.8,311.7L307.2,311.4zM316.0,308.1L316.8,309.3L318.1,309.6L317.2,310.7L317.3,312.1L316.0,311.5L314.7,312.1L314.9,310.7L313.9,309.6L315.3,309.3zM321.9,305.9L322.7,307.1L324.0,307.4L323.1,308.4L323.2,309.8L321.9,309.3L320.7,309.8L320.8,308.4L319.9,307.4L321.2,307.1zM337.6,304.3L338.3,305.5L339.7,305.8L338.7,306.8L338.9,308.3L337.6,307.7L336.3,308.3L336.4,306.8L335.5,305.8L336.9,305.5zM333.4,307.5L334.1,308.7L335.5,309.0L334.5,310.1L334.7,311.5L333.4,310.9L332.1,311.5L332.2,310.1L331.3,309.0L332.7,308.7zM106.6,349.4L107.3,350.7L108.7,351.0L107.8,352.0L107.9,353.4L106.6,352.9L105.3,353.4L105.5,352.0L104.5,351.0L105.9,350.7zM37.4,311.8L38.1,313.0L39.5,313.3L38.5,314.4L38.7,315.8L37.4,315.2L36.1,315.8L36.2,314.4L35.3,313.3L36.6,313.0zM50.2,308.4L50.9,309.6L52.3,309.9L51.3,311.0L51.5,312.4L50.2,311.8L48.9,312.4L49.0,311.0L48.1,309.9L49.5,309.6zM53.6,316.7L54.3,317.9L55.7,318.2L54.8,319.3L54.9,320.7L53.6,320.1L52.3,320.7L52.5,319.3L51.5,318.2L52.9,317.9zM56.2,304.3L57.0,305.5L58.3,305.8L57.4,306.9L57.5,308.3L56.2,307.7L54.9,308.3L55.1,306.9L54.1,305.8L55.5,305.5zM58.4,310.0L59.1,311.2L60.5,311.5L59.6,312.6L59.7,314.0L58.4,313.4L57.1,314.0L57.3,312.6L56.3,311.5L57.7,311.2zM59.4,328.0L60.1,329.2L61.5,329.5L60.6,330.5L60.7,331.9L59.4,331.4L58.1,331.9L58.3,330.5L57.3,329.5L58.7,329.2zM61.0,290.9L61.7,292.1L63.1,292.4L62.1,293.5L62.3,294.9L61.0,294.3L59.7,294.9L59.8,293.5L58.9,292.4L60.2,292.1zM65.1,312.6L65.8,313.8L67.2,314.1L66.3,315.2L66.4,316.6L65.1,316.0L63.8,316.6L64.0,315.2L63.0,314.1L64.4,313.8zM72.2,327.6L72.9,328.8L74.3,329.1L73.3,330.2L73.5,331.6L72.2,331.0L70.9,331.6L71.0,330.2L70.1,329.1L71.4,328.8zM75.7,329.5L76.4,330.7L77.8,331.0L76.8,332.0L77.0,333.5L75.7,332.9L74.4,333.5L74.5,332.0L73.6,331.0L75.0,330.7zM77.9,315.7L78.6,316.9L79.9,317.2L79.0,318.3L79.1,319.7L77.9,319.1L76.6,319.7L76.7,318.3L75.8,317.2L77.1,316.9zM80.0,307.0L80.7,308.2L82.1,308.5L81.2,309.6L81.3,311.0L80.0,310.4L78.7,311.0L78.9,309.6L77.9,308.5L79.3,308.2zM82.3,314.3L83.0,315.6L84.4,315.8L83.5,316.9L83.6,318.3L82.3,317.7L81.0,318.3L81.2,316.9L80.2,315.8L81.6,315.6zM86.5,312.3L87.2,313.5L88.6,313.8L87.7,314.9L87.8,316.3L86.5,315.7L85.2,316.3L85.4,314.9L84.4,313.8L85.8,313.5zM90.5,331.6L91.2,332.8L92.6,333.1L91.6,334.2L91.8,335.6L90.5,335.0L89.2,335.6L89.3,334.2L88.4,333.1L89.8,332.8zM94.5,309.1L95.2,310.3L96.6,310.6L95.6,311.7L95.8,313.1L94.5,312.5L93.2,313.1L93.3,311.7L92.4,310.6L93.8,310.3zM97.0,323.1L97.7,324.4L99.0,324.6L98.1,325.7L98.2,327.1L97.0,326.5L95.7,327.1L95.8,325.7L94.9,324.6L96.2,324.4zM99.0,332.5L99.7,333.7L101.1,334.0L100.2,335.1L100.3,336.5L99.0,335.9L97.7,336.5L97.9,335.1L96.9,334.0L98.3,333.7zM99.3,315.1L100.0,316.3L101.4,316.6L100.5,317.7L100.6,319.1L99.3,318.5L98.0,319.1L98.2,317.7L97.2,316.6L98.6,316.3zM101.4,301.1L102.1,302.3L103.4,302.6L102.5,303.6L102.6,305.0L101.4,304.5L100.1,305.0L100.2,303.6L99.3,302.6L100.6,302.3zM105.6,298.3L106.3,299.6L107.7,299.9L106.7,300.9L106.9,302.3L105.6,301.8L104.3,302.3L104.4,300.9L103.5,299.9L104.9,299.6zM107.5,320.0L108.2,321.3L109.6,321.6L108.7,322.6L108.8,324.0L107.5,323.4L106.2,324.0L106.4,322.6L105.4,321.6L106.8,321.3zM108.5,332.0L109.2,333.2L110.6,333.5L109.6,334.5L109.8,335.9L108.5,335.4L107.2,335.9L107.3,334.5L106.4,333.5L107.8,333.2zM113.4,308.8L114.1,310.0L115.4,310.3L114.5,311.4L114.6,312.8L113.4,312.2L112.1,312.8L112.2,311.4L111.3,310.3L112.6,310.0zM115.7,307.6L116.4,308.8L117.8,309.1L116.9,310.1L117.0,311.5L115.7,311.0L114.4,311.5L114.6,310.1L113.6,309.1L115.0,308.8zM118.0,339.6L118.7,340.8L120.1,341.1L119.2,342.2L119.3,343.6L118.0,343.0L116.7,343.6L116.9,342.2L115.9,341.1L117.3,340.8zM119.9,324.2L120.6,325.4L122.0,325.7L121.0,326.8L121.2,328.2L119.9,327.6L118.6,328.2L118.7,326.8L117.8,325.7L119.2,325.4zM122.5,299.4L123.2,300.6L124.6,300.9L123.7,301.9L123.8,303.3L122.5,302.8L121.2,303.3L121.4,301.9L120.4,300.9L121.8,300.6zM124.9,289.2L125.6,290.5L127.0,290.8L126.0,291.8L126.2,293.2L124.9,292.7L123.6,293.2L123.7,291.8L122.8,290.8L124.2,290.5zM126.4,306.0L127.1,307.3L128.5,307.6L127.5,308.6L127.7,310.0L126.4,309.4L125.1,310.0L125.2,308.6L124.3,307.6L125.7,307.3zM127.8,314.6L128.5,315.8L129.9,316.1L128.9,317.2L129.1,318.6L127.8,318.0L126.5,318.6L126.6,317.2L125.7,316.1L127.1,315.8zM129.1,324.8L129.8,326.0L131.2,326.3L130.3,327.4L130.4,328.8L129.1,328.2L127.8,328.8L128.0,327.4L127.0,326.3L128.4,326.0zM129.8,313.5L130.5,314.7L131.9,315.0L130.9,316.1L131.1,317.5L129.8,316.9L128.5,317.5L128.6,316.1L127.7,315.0L129.1,314.7zM132.0,293.8L132.7,295.0L134.1,295.3L133.2,296.4L133.3,297.8L132.0,297.2L130.7,297.8L130.9,296.4L129.9,295.3L131.3,295.0zM134.3,292.7L135.0,294.0L136.4,294.3L135.5,295.3L135.6,296.7L134.3,296.2L133.0,296.7L133.2,295.3L132.2,294.3L133.6,294.0zM135.3,328.2L136.0,329.4L137.3,329.7L136.4,330.7L136.5,332.1L135.3,331.6L134.0,332.1L134.1,330.7L133.2,329.7L134.5,329.4zM136.3,321.8L137.0,323.1L138.4,323.4L137.4,324.4L137.6,325.8L136.3,325.3L135.0,325.8L135.1,324.4L134.2,323.4L135.6,323.1zM140.3,322.5L141.0,323.8L142.4,324.1L141.5,325.1L141.6,326.5L140.3,326.0L139.0,326.5L139.2,325.1L138.2,324.1L139.6,323.8zM143.6,309.8L144.3,311.0L145.7,311.3L144.7,312.4L144.9,313.8L143.6,313.2L142.3,313.8L142.4,312.4L141.5,311.3L142.9,311.0zM144.4,302.5L145.1,303.7L146.5,304.0L145.5,305.1L145.7,306.5L144.4,305.9L143.1,306.5L143.2,305.1L142.3,304.0L143.7,303.7zM149.1,305.3L149.8,306.5L151.2,306.8L150.3,307.9L150.4,309.3L149.1,308.7L147.8,309.3L148.0,307.9L147.0,306.8L148.4,306.5zM151.5,310.2L152.2,311.4L153.6,311.7L152.7,312.8L152.8,314.2L151.5,313.6L150.2,314.2L150.4,312.8L149.4,311.7L150.8,311.4zM154.2,313.8L154.9,315.0L156.3,315.3L155.3,316.4L155.5,317.8L154.2,317.2L152.9,317.8L153.0,316.4L152.1,315.3L153.5,315.0zM155.8,317.8L156.5,319.1L157.9,319.4L156.9,320.4L157.1,321.8L155.8,321.3L154.5,321.8L154.6,320.4L153.7,319.4L155.1,319.1zM163.2,319.5L163.9,320.7L165.3,321.0L164.4,322.0L164.5,323.4L163.2,322.9L161.9,323.4L162.1,322.0L161.1,321.0L162.5,320.7zM168.9,298.5L169.6,299.7L171.0,300.0L170.0,301.0L170.2,302.5L168.9,301.9L167.6,302.5L167.7,301.0L166.8,300.0L168.2,299.7zM171.8,319.5L172.5,320.7L173.9,321.0L172.9,322.1L173.1,323.5L171.8,322.9L170.5,323.5L170.6,322.1L169.7,321.0L171.1,320.7zM174.3,298.4L175.0,299.6L176.4,299.9L175.4,300.9L175.6,302.4L174.3,301.8L173.0,302.4L173.1,300.9L172.2,299.9L173.6,299.6zM175.0,331.9L175.7,333.1L177.0,333.4L176.1,334.5L176.2,335.9L175.0,335.3L173.7,335.9L173.8,334.5L172.9,333.4L174.2,333.1zM181.2,318.3L181.9,319.5L183.3,319.8L182.3,320.9L182.5,322.3L181.2,321.7L179.9,322.3L180.0,320.9L179.1,319.8L180.5,319.5zM183.5,332.5L184.2,333.7L185.5,334.0L184.6,335.1L184.7,336.5L183.5,335.9L182.2,336.5L182.3,335.1L181.4,334.0L182.7,333.7zM190.9,306.0L191.6,307.2L193.0,307.5L192.0,308.6L192.2,310.0L190.9,309.4L189.6,310.0L189.7,308.6L188.8,307.5L190.2,307.2zM193.4,333.1L194.1,334.3L195.5,334.6L194.6,335.7L194.7,337.1L193.4,336.5L192.1,337.1L192.3,335.7L191.3,334.6L192.7,334.3zM194.9,298.2L195.7,299.5L197.0,299.8L196.1,300.8L196.2,302.2L194.9,301.7L193.7,302.2L193.8,300.8L192.9,299.8L194.2,299.5zM196.7,308.3L197.4,309.5L198.8,309.8L197.9,310.9L198.0,312.3L196.7,311.7L195.4,312.3L195.6,310.9L194.6,309.8L196.0,309.5zM199.0,320.9L199.7,322.1L201.1,322.4L200.2,323.4L200.3,324.8L199.0,324.3L197.7,324.8L197.9,323.4L196.9,322.4L198.3,322.1zM208.8,302.0L209.5,303.2L210.9,303.5L209.9,304.5L210.1,305.9L208.8,305.4L207.5,305.9L207.6,304.5L206.7,303.5L208.1,303.2zM210.0,308.7L210.7,309.9L212.1,310.2L211.2,311.3L211.3,312.7L210.0,312.1L208.7,312.7L208.9,311.3L207.9,310.2L209.3,309.9zM213.7,311.1L214.4,312.4L215.8,312.7L214.8,313.7L215.0,315.1L213.7,314.5L212.4,315.1L212.5,313.7L211.6,312.7L213.0,312.4zM216.5,304.3L217.2,305.5L218.6,305.8L217.6,306.9L217.8,308.3L216.5,307.7L215.2,308.3L215.3,306.9L214.4,305.8L215.8,305.5zM219.0,335.0L219.7,336.2L221.1,336.5L220.2,337.6L220.3,339.0L219.0,338.4L217.7,339.0L217.9,337.6L216.9,336.5L218.3,336.2zM222.0,319.5L222.7,320.8L224.1,321.1L223.2,322.1L223.3,323.5L222.0,322.9L220.7,323.5L220.9,322.1L219.9,321.1L221.3,320.8zM226.0,321.3L226.8,322.5L228.1,322.8L227.2,323.8L227.3,325.3L226.0,324.7L224.8,325.3L224.9,323.8L224.0,322.8L225.3,322.5zM227.6,296.5L228.3,297.7L229.7,298.0L228.8,299.1L228.9,300.5L227.6,299.9L226.3,300.5L226.5,299.1L225.5,298.0L226.9,297.7zM230.3,307.7L231.0,308.9L232.3,309.2L231.4,310.2L231.5,311.6L230.3,311.1L229.0,311.6L229.1,310.2L228.2,309.2L229.5,308.9zM232.7,306.2L233.4,307.5L234.8,307.8L233.9,308.8L234.0,310.2L232.7,309.6L231.4,310.2L231.6,308.8L230.6,307.8L232.0,307.5zM235.4,289.2L236.1,290.4L237.5,290.7L236.5,291.8L236.7,293.2L235.4,292.6L234.1,293.2L234.2,291.8L233.3,290.7L234.7,290.4zM238.1,316.9L238.8,318.1L240.2,318.4L239.3,319.5L239.4,320.9L238.1,320.3L236.8,320.9L237.0,319.5L236.0,318.4L237.4,318.1zM239.4,322.6L240.1,323.8L241.5,324.1L240.5,325.2L240.7,326.6L239.4,326.0L238.1,326.6L238.2,325.2L237.3,324.1L238.6,323.8zM242.6,313.6L243.3,314.8L244.7,315.1L243.7,316.2L243.9,317.6L242.6,317.0L241.3,317.6L241.4,316.2L240.5,315.1L241.9,314.8zM245.0,329.4L245.7,330.6L247.1,330.9L246.2,332.0L246.3,333.4L245.0,332.8L243.7,333.4L243.9,332.0L242.9,330.9L244.3,330.6zM246.9,292.0L247.6,293.2L249.0,293.5L248.0,294.5L248.2,295.9L246.9,295.4L245.6,295.9L245.7,294.5L244.8,293.5L246.2,293.2zM247.6,326.8L248.3,328.0L249.7,328.3L248.8,329.4L248.9,330.8L247.6,330.2L246.3,330.8L246.5,329.4L245.5,328.3L246.9,328.0zM249.2,332.0L249.9,333.2L251.3,333.5L250.4,334.5L250.5,335.9L249.2,335.4L247.9,335.9L248.1,334.5L247.1,333.5L248.5,333.2zM251.4,301.1L252.1,302.3L253.5,302.6L252.6,303.7L252.7,305.1L251.4,304.5L250.1,305.1L250.3,303.7L249.3,302.6L250.7,302.3zM253.0,272.2L253.7,273.4L255.1,273.7L254.2,274.8L254.3,276.2L253.0,275.6L251.7,276.2L251.9,274.8L250.9,273.7L252.3,273.4zM253.7,299.3L254.4,300.6L255.8,300.9L254.9,301.9L255.0,303.3L253.7,302.7L252.4,303.3L252.6,301.9L251.6,300.9L253.0,300.6zM257.6,307.0L258.4,308.2L259.7,308.5L258.8,309.6L258.9,311.0L257.6,310.4L256.3,311.0L256.5,309.6L255.5,308.5L256.9,308.2zM259.6,323.0L260.3,324.2L261.7,324.5L260.8,325.5L260.9,326.9L259.6,326.4L258.3,326.9L258.5,325.5L257.5,324.5L258.9,324.2zM260.0,308.9L260.7,310.1L262.1,310.4L261.1,311.5L261.3,312.9L260.0,312.3L258.7,312.9L258.8,311.5L257.9,310.4L259.2,310.1zM262.6,307.6L263.3,308.8L264.7,309.1L263.7,310.2L263.9,311.6L262.6,311.0L261.3,311.6L261.4,310.2L260.5,309.1L261.8,308.8zM264.8,312.1L265.5,313.3L266.9,313.6L265.9,314.7L266.1,316.1L264.8,315.5L263.5,316.1L263.6,314.7L262.7,313.6L264.1,313.3zM268.9,315.9L269.6,317.1L271.0,317.4L270.0,318.5L270.2,319.9L268.9,319.3L267.6,319.9L267.7,318.5L266.8,317.4L268.2,317.1zM270.9,324.5L271.6,325.8L273.0,326.1L272.0,327.1L272.2,328.5L270.9,328.0L269.6,328.5L269.7,327.1L268.8,326.1L270.2,325.8zM274.4,309.3L275.1,310.5L276.5,310.8L275.6,311.9L275.7,313.3L274.4,312.7L273.1,313.3L273.3,311.9L272.3,310.8L273.7,310.5zM278.0,329.1L278.7,330.4L280.1,330.7L279.1,331.7L279.3,333.1L278.0,332.6L276.7,333.1L276.8,331.7L275.9,330.7L277.3,330.4zM279.3,297.4L280.0,298.7L281.3,299.0L280.4,300.0L280.5,301.4L279.3,300.8L278.0,301.4L278.1,300.0L277.2,299.0L278.5,298.7zM281.6,307.2L282.3,308.4L283.7,308.7L282.8,309.8L282.9,311.2L281.6,310.6L280.3,311.2L280.5,309.8L279.5,308.7L280.9,308.4zM283.1,322.9L283.8,324.1L285.2,324.4L284.2,325.4L284.4,326.9L283.1,326.3L281.8,326.9L281.9,325.4L281.0,324.4L282.4,324.1zM284.1,316.0L284.9,317.2L286.2,317.5L285.3,318.5L285.4,319.9L284.1,319.4L282.8,319.9L283.0,318.5L282.0,317.5L283.4,317.2zM287.0,311.6L287.7,312.8L289.1,313.1L288.2,314.1L288.3,315.6L287.0,315.0L285.7,315.6L285.9,314.1L284.9,313.1L286.3,312.8zM288.3,307.5L289.0,308.7L290.4,309.0L289.5,310.1L289.6,311.5L288.3,310.9L287.0,311.5L287.2,310.1L286.2,309.0L287.6,308.7zM291.5,301.1L292.2,302.3L293.5,302.6L292.6,303.6L292.7,305.0L291.5,304.5L290.2,305.0L290.3,303.6L289.4,302.6L290.7,302.3zM295.9,307.7L296.6,308.9L298.0,309.2L297.1,310.3L297.2,311.7L295.9,311.1L294.6,311.7L294.8,310.3L293.8,309.2L295.2,308.9zM296.3,305.0L297.0,306.2L298.4,306.5L297.5,307.6L297.6,309.0L296.3,308.4L295.0,309.0L295.2,307.6L294.2,306.5L295.6,306.2zM297.3,326.8L298.0,328.0L299.3,328.3L298.4,329.4L298.5,330.8L297.3,330.2L296.0,330.8L296.1,329.4L295.2,328.3L296.5,328.0zM299.9,304.8L300.6,306.0L302.0,306.3L301.0,307.3L301.2,308.7L299.9,308.2L298.6,308.7L298.7,307.3L297.8,306.3L299.2,306.0zM304.6,301.2L305.3,302.4L306.7,302.7L305.7,303.8L305.9,305.2L304.6,304.6L303.3,305.2L303.4,303.8L302.5,302.7L303.9,302.4zM306.2,299.9L306.9,301.1L308.3,301.4L307.4,302.5L307.5,303.9L306.2,303.3L304.9,303.9L305.1,302.5L304.1,301.4L305.5,301.1zM309.1,320.2L309.8,321.4L311.2,321.7L310.3,322.7L310.4,324.1L309.1,323.6L307.8,324.1L308.0,322.7L307.0,321.7L308.4,321.4zM312.1,303.9L312.8,305.1L314.2,305.4L313.3,306.5L313.4,307.9L312.1,307.3L310.8,307.9L311.0,306.5L310.0,305.4L311.4,305.1zM314.2,322.2L314.9,323.4L316.3,323.7L315.3,324.8L315.5,326.2L314.2,325.6L312.9,326.2L313.0,324.8L312.1,323.7L313.5,323.4zM319.5,313.4L320.2,314.6L321.6,314.9L320.6,315.9L320.8,317.4L319.5,316.8L318.2,317.4L318.3,315.9L317.4,314.9L318.7,314.6zM327.7,302.3L328.5,303.5L329.8,303.8L328.9,304.8L329.0,306.2L327.7,305.7L326.5,306.2L326.6,304.8L325.7,303.8L327.0,303.5zM329.1,323.8L329.8,325.1L331.2,325.4L330.2,326.4L330.4,327.8L329.1,327.2L327.8,327.8L327.9,326.4L327.0,325.4L328.4,325.1zM331.1,312.0L331.8,313.2L333.2,313.5L332.3,314.6L332.4,316.0L331.1,315.4L329.8,316.0L330.0,314.6L329.0,313.5L330.4,313.2zM334.0,325.0L334.8,326.2L336.1,326.5L335.2,327.6L335.3,329.0L334.0,328.4L332.8,329.0L332.9,327.6L332.0,326.5L333.3,326.2zM334.9,306.4L335.6,307.6L337.0,307.9L336.1,309.0L336.2,310.4L334.9,309.8L333.6,310.4L333.8,309.0L332.8,307.9L334.2,307.6zM336.3,314.8L337.0,316.0L338.4,316.3L337.4,317.4L337.6,318.8L336.3,318.2L335.0,318.8L335.1,317.4L334.2,316.3L335.5,316.0z" fill="rgb(55,55,55)"/>
<path d="M35.6,326.6a1.95,1.95 0 1,0 3.90,0a1.95,1.95 0 1,0 -3.90,0zM35.0,310.3a1.95,1.95 0 1,0 3.90,0a1.95,1.95 0 1,0 -3.90,0zM40.6,322.1a1.95,1.95 0 1,0 3.90,0a1.95,1.95 0 1,0 -3.90,0zM34.2,318.9a1.95,1.95 0 1,0 3.90,0a1.95,1.95 0 1,0 -3.90,0zM51.7,310.9a1.95,1.95 0 1,0 3.90,0a1.95,1.95 0 1,0 -3.90,0zM50.9,327.6a1.95,1.95 0 1,0 3.90,0a1.95,1.95 0 1,0 -3.90,0zM57.2,331.0a1.95,1.95 0 1,0 3.90,0a1.95,1.95 0 1,0 -3.90,0zM63.0,315.0a1.95,1.95 0 1,0 3.90,0a1.95,1.95 0 1,0 -3.90,0zM75.8,322.4a1.95,1.95 0 1,0 3.90,0a1.95,1.95 0 1,0 -3.90,0zM73.9,303.6a1.95,1.95 0 1,0 3.90,0a1.95,1.95 0 1,0 -3.90,0zM79.6,323.5a1.95,1.95 0 1,0 3.90,0a1.95,1.95 0 1,0 -3.90,0zM74.9,309.9a1.95,1.95 0 1,0 3.90,0a1.95,1.95 0 1,0 -3.90,0zM92.0,312.5a1.95,1.95 0 1,0 3.90,0a1.95,1.95 0 1,0 -3.90,0zM98.8,315.5a1.95,1.95 0 1,0 3.90,0a1.95,1.95 0 1,0 -3.90,0zM106.6,315.6a1.95,1.95 0 1,0 3.90,0a1.95,1.95 0 1,0 -3.90,0zM109.3,323.1a1.95,1.95 0 1,0 3.90,0a1.95,1.95 0 1,0 -3.90,0zM135.8,321.1a1.95,1.95 0 1,0 3.90,0a1.95,1.95 0 1,0 -3.90,0zM137.4,328.4a1.95,1.95 0 1,0 3.90,0a1.95,1.95 0 1,0 -3.90,0zM134.5,320.2a1.95,1.95 0 1,0 3.90,0a1.95,1.95 0 1,0 -3.90,0zM157.9,331.5a1.95,1.95 0 1,0 3.90,0a1.95,1.95 0 1,0 -3.90,0zM153.8,325.0a1.95,1.95 0 1,0 3.90,0a1.95,1.95 0 1,0 -3.90,0zM166.6,324.6a1.95,1.95 0 1,0 3.90,0a1.95,1.95 0 1,0 -3.90,0zM163.0,316.5a1.95,1.95 0 1,0 3.90,0a1.95,1.95 0 1,0 -3.90,0zM161.2,328.3a1.95,1.95 0 1,0 3.90,0a1.95,1.95 0 1,0 -3.90,0zM181.8,305.8a1.95,1.95 0 1,0 3.90,0a1.95,1.95 0 1,0 -3.90,0zM200.4,324.0a1.95,1.95 0 1,0 3.90,0a1.95,1.95 0 1,0 -3.90,0zM199.5,324.5a1.95,1.95 0 1,0 3.90,0a1.95,1.95 0 1,0 -3.90,0zM213.9,304.8a1.95,1.95 0 1,0 3.90,0a1.95,1.95 0 1,0 -3.90,0zM209.1,330.9a1.95,1.95 0 1,0 3.90,0a1.95,1.95 0 1,0 -3.90,0zM225.4,310.3a1.95,1.95 0 1,0 3.90,0a1.95,1.95 0 1,0 -3.90,0zM234.4,310.3a1.95,1.95 0 1,0 3.90,0a1.95,1.95 0 1,0 -3.90,0zM243.1,324.5a1.95,1.95 0 1,0 3.90,0a1.95,1.95 0 1,0 -3.90,0zM244.2,296.7a1.95,1.95 0 1,0 3.90,0a1.95,1.95 0 1,0 -3.90,0zM249.2,321.0a1.95,1.95 0 1,0 3.90,0a1.95,1.95 0 1,0 -3.90,0zM264.0,319.3a1.95,1.95 0 1,0 3.90,0a1.95,1.95 0 1,0 -3.90,0zM264.4,318.8a1.95,1.95 0 1,0 3.90,0a1.95,1.95 0 1,0 -3.90,0zM279.6,326.2a1.95,1.95 0 1,0 3.90,0a1.95,1.95 0 1,0 -3.90,0zM291.7,313.9a1.95,1.95 0 1,0 3.90,0a1.95,1.95 0 1,0 -3.90,0zM287.7,301.3a1.95,1.95 0 1,0 3.90,0a1.95,1.95 0 1,0 -3.90,0zM296.3,312.7a1.95,1.95 0 1,0 3.90,0a1.95,1.95 0 1,0 -3.90,0zM306.1,311.6a1.95,1.95 0 1,0 3.90,0a1.95,1.95 0 1,0 -3.90,0zM314.2,309.4a1.95,1.95 0 1,0 3.90,0a1.95,1.95 0 1,0 -3.90,0zM319.5,309.0a1.95,1.95 0 1,0 3.90,0a1.95,1.95 0 1,0 -3.90,0zM335.3,305.5a1.95,1.95 0 1,0 3.90,0a1.95,1.95 0 1,0 -3.90,0zM331.2,308.7a1.95,1.95 0 1,0 3.90,0a1.95,1.95 0 1,0 -3.90,0zM105.0,352.7a1.95,1.95 0 1,0 3.90,0a1.95,1.95 0 1,0 -3.90,0zM31.0,310.1a1.95,1.95 0 1,0 3.90,0a1.95,1.95 0 1,0 -3.90,0zM32.8,331.2a1.95,1.95 0 1,0 3.90,0a1.95,1.95 0 1,0 -3.90,0zM34.9,314.1a1.95,1.95 0 1,0 3.90,0a1.95,1.95 0 1,0 -3.90,0zM37.0,319.3a1.95,1.95 0 1,0 3.90,0a1.95,1.95 0 1,0 -3.90,0zM38.9,311.5a1.95,1.95 0 1,0 3.90,0a1.95,1.95 0 1,0 -3.90,0zM41.5,333.8a1.95,1.95 0 1,0 3.90,0a1.95,1.95 0 1,0 -3.90,0zM42.8,339.0a1.95,1.95 0 1,0 3.90,0a1.95,1.95 0 1,0 -3.90,0zM44.1,328.5a1.95,1.95 0 1,0 3.90,0a1.95,1.95 0 1,0 -3.90,0zM46.0,339.0a1.95,1.95 0 1,0 3.90,0a1.95,1.95 0 1,0 -3.90,0zM48.6,310.1a1.95,1.95 0 1,0 3.90,0a1.95,1.95 0 1,0 -3.90,0zM50.7,308.8a1.95,1.95 0 1,0 3.90,0a1.95,1.95 0 1,0 -3.90,0zM52.0,318.0a1.95,1.95 0 1,0 3.90,0a1.95,1.95 0 1,0 -3.90,0zM53.8,307.5a1.95,1.95 0 1,0 3.90,0a1.95,1.95 0 1,0 -3.90,0zM55.9,311.5a1.95,1.95 0 1,0 3.90,0a1.95,1.95 0 1,0 -3.90,0zM57.2,331.2a1.95,1.95 0 1,0 3.90,0a1.95,1.95 0 1,0 -3.90,0zM59.1,293.1a1.95,1.95 0 1,0 3.90,0a1.95,1.95 0 1,0 -3.90,0zM61.2,304.9a1.95,1.95 0 1,0 3.90,0a1.95,1.95 0 1,0 -3.90,0zM63.8,315.4a1.95,1.95 0 1,0 3.90,0a1.95,1.95 0 1,0 -3.90,0zM65.9,308.8a1.95,1.95 0 1,0 3.90,0a1.95,1.95 0 1,0 -3.90,0zM67.8,311.5a1.95,1.95 0 1,0 3.90,0a1.95,1.95 0 1,0 -3.90,0zM69.6,329.8a1.95,1.95 0 1,0 3.90,0a1.95,1.95 0 1,0 -3.90,0zM71.2,339.0a1.95,1.95 0 1,0 3.90,0a1.95,1.95 0 1,0 -3.90,0zM73.8,331.2a1.95,1.95 0 1,0 3.90,0a1.95,1.95 0 1,0 -3.90,0zM75.6,318.0a1.95,1.95 0 1,0 3.90,0a1.95,1.95 0 1,0 -3.90,0zM78.3,310.1a1.95,1.95 0 1,0 3.90,0a1.95,1.95 0 1,0 -3.90,0zM80.9,316.7a1.95,1.95 0 1,0 3.90,0a1.95,1.95 0 1,0 -3.90,0zM82.2,324.6a1.95,1.95 0 1,0 3.90,0a1.95,1.95 0 1,0 -3.90,0zM84.8,315.4a1.95,1.95 0 1,0 3.90,0a1.95,1.95 0 1,0 -3.90,0zM86.9,302.3a1.95,1.95 0 1,0 3.90,0a1.95,1.95 0 1,0 -3.90,0zM88.8,333.8a1.95,1.95 0 1,0 3.90,0a1.95,1.95 0 1,0 -3.90,0zM90.6,315.4a1.95,1.95 0 1,0 3.90,0a1.95,1.95 0 1,0 -3.90,0zM92.7,310.1a1.95,1.95 0 1,0 3.90,0a1.95,1.95 0 1,0 -3.90,0zM94.8,324.6a1.95,1.95 0 1,0 3.90,0a1.95,1.95 0 1,0 -3.90,0zM96.6,335.1a1.95,1.95 0 1,0 3.90,0a1.95,1.95 0 1,0 -3.90,0zM98.0,316.7a1.95,1.95 0 1,0 3.90,0a1.95,1.95 0 1,0 -3.90,0zM100.1,302.3a1.95,1.95 0 1,0 3.90,0a1.95,1.95 0 1,0 -3.90,0zM101.9,294.4a1.95,1.95 0 1,0 3.90,0a1.95,1.95 0 1,0 -3.90,0zM103.2,301.0a1.95,1.95 0 1,0 3.90,0a1.95,1.95 0 1,0 -3.90,0zM105.8,323.3a1.95,1.95 0 1,0 3.90,0a1.95,1.95 0 1,0 -3.90,0zM107.1,333.8a1.95,1.95 0 1,0 3.90,0a1.95,1.95 0 1,0 -3.90,0zM109.8,312.8a1.95,1.95 0 1,0 3.90,0a1.95,1.95 0 1,0 -3.90,0zM111.6,311.5a1.95,1.95 0 1,0 3.90,0a1.95,1.95 0 1,0 -3.90,0zM113.2,308.8a1.95,1.95 0 1,0 3.90,0a1.95,1.95 0 1,0 -3.90,0zM115.8,341.7a1.95,1.95 0 1,0 3.90,0a1.95,1.95 0 1,0 -3.90,0zM117.6,315.4a1.95,1.95 0 1,0 3.90,0a1.95,1.95 0 1,0 -3.90,0zM118.4,327.2a1.95,1.95 0 1,0 3.90,0a1.95,1.95 0 1,0 -3.90,0zM120.3,302.3a1.95,1.95 0 1,0 3.90,0a1.95,1.95 0 1,0 -3.90,0zM122.9,290.5a1.95,1.95 0 1,0 3.90,0a1.95,1.95 0 1,0 -3.90,0zM124.2,308.8a1.95,1.95 0 1,0 3.90,0a1.95,1.95 0 1,0 -3.90,0zM125.5,316.7a1.95,1.95 0 1,0 3.90,0a1.95,1.95 0 1,0 -3.90,0zM126.8,325.9a1.95,1.95 0 1,0 3.90,0a1.95,1.95 0 1,0 -3.90,0zM128.2,315.4a1.95,1.95 0 1,0 3.90,0a1.95,1.95 0 1,0 -3.90,0zM130.0,295.7a1.95,1.95 0 1,0 3.90,0a1.95,1.95 0 1,0 -3.90,0zM132.4,294.4a1.95,1.95 0 1,0 3.90,0a1.95,1.95 0 1,0 -3.90,0zM133.2,331.2a1.95,1.95 0 1,0 3.90,0a1.95,1.95 0 1,0 -3.90,0zM135.0,323.3a1.95,1.95 0 1,0 3.90,0a1.95,1.95 0 1,0 -3.90,0zM136.8,307.5a1.95,1.95 0 1,0 3.90,0a1.95,1.95 0 1,0 -3.90,0zM138.9,325.9a1.95,1.95 0 1,0 3.90,0a1.95,1.95 0 1,0 -3.90,0zM141.0,311.5a1.95,1.95 0 1,0 3.90,0a1.95,1.95 0 1,0 -3.90,0zM142.9,303.6a1.95,1.95 0 1,0 3.90,0a1.95,1.95 0 1,0 -3.90,0zM145.5,304.9a1.95,1.95 0 1,0 3.90,0a1.95,1.95 0 1,0 -3.90,0zM147.3,307.5a1.95,1.95 0 1,0 3.90,0a1.95,1.95 0 1,0 -3.90,0zM149.4,311.5a1.95,1.95 0 1,0 3.90,0a1.95,1.95 0 1,0 -3.90,0zM152.1,315.4a1.95,1.95 0 1,0 3.90,0a1.95,1.95 0 1,0 -3.90,0zM154.2,319.3a1.95,1.95 0 1,0 3.90,0a1.95,1.95 0 1,0 -3.90,0zM156.0,322.0a1.95,1.95 0 1,0 3.90,0a1.95,1.95 0 1,0 -3.90,0zM157.3,285.2a1.95,1.95 0 1,0 3.90,0a1.95,1.95 0 1,0 -3.90,0zM159.4,308.8a1.95,1.95 0 1,0 3.90,0a1.95,1.95 0 1,0 -3.90,0zM161.2,320.7a1.95,1.95 0 1,0 3.90,0a1.95,1.95 0 1,0 -3.90,0zM163.9,302.3a1.95,1.95 0 1,0 3.90,0a1.95,1.95 0 1,0 -3.90,0zM166.5,301.0a1.95,1.95 0 1,0 3.90,0a1.95,1.95 0 1,0 -3.90,0zM167.8,331.2a1.95,1.95 0 1,0 3.90,0a1.95,1.95 0 1,0 -3.90,0zM170.4,322.0a1.95,1.95 0 1,0 3.90,0a1.95,1.95 0 1,0 -3.90,0zM171.8,301.0a1.95,1.95 0 1,0 3.90,0a1.95,1.95 0 1,0 -3.90,0zM173.1,333.8a1.95,1.95 0 1,0 3.90,0a1.95,1.95 0 1,0 -3.90,0zM175.7,346.9a1.95,1.95 0 1,0 3.90,0a1.95,1.95 0 1,0 -3.90,0zM177.0,353.5a1.95,1.95 0 1,0 3.90,0a1.95,1.95 0 1,0 -3.90,0zM179.6,320.7a1.95,1.95 0 1,0 3.90,0a1.95,1.95 0 1,0 -3.90,0zM180.9,333.8a1.95,1.95 0 1,0 3.90,0a1.95,1.95 0 1,0 -3.90,0zM182.3,312.8a1.95,1.95 0 1,0 3.90,0a1.95,1.95 0 1,0 -3.90,0zM184.9,311.5a1.95,1.95 0 1,0 3.90,0a1.95,1.95 0 1,0 -3.90,0zM186.7,323.3a1.95,1.95 0 1,0 3.90,0a1.95,1.95 0 1,0 -3.90,0zM188.3,308.8a1.95,1.95 0 1,0 3.90,0a1.95,1.95 0 1,0 -3.90,0zM189.3,346.9a1.95,1.95 0 1,0 3.90,0a1.95,1.95 0 1,0 -3.90,0zM190.9,335.1a1.95,1.95 0 1,0 3.90,0a1.95,1.95 0 1,0 -3.90,0zM192.8,301.0a1.95,1.95 0 1,0 3.90,0a1.95,1.95 0 1,0 -3.90,0zM194.1,294.4a1.95,1.95 0 1,0 3.90,0a1.95,1.95 0 1,0 -3.90,0zM195.4,310.1a1.95,1.95 0 1,0 3.90,0a1.95,1.95 0 1,0 -3.90,0zM197.2,323.3a1.95,1.95 0 1,0 3.90,0a1.95,1.95 0 1,0 -3.90,0zM199.9,324.6a1.95,1.95 0 1,0 3.90,0a1.95,1.95 0 1,0 -3.90,0zM201.4,308.8a1.95,1.95 0 1,0 3.90,0a1.95,1.95 0 1,0 -3.90,0zM204.1,293.1a1.95,1.95 0 1,0 3.90,0a1.95,1.95 0 1,0 -3.90,0zM205.9,304.9a1.95,1.95 0 1,0 3.90,0a1.95,1.95 0 1,0 -3.90,0zM207.2,303.6a1.95,1.95 0 1,0 3.90,0a1.95,1.95 0 1,0 -3.90,0zM208.5,311.5a1.95,1.95 0 1,0 3.90,0a1.95,1.95 0 1,0 -3.90,0zM211.1,312.8a1.95,1.95 0 1,0 3.90,0a1.95,1.95 0 1,0 -3.90,0zM213.0,325.9a1.95,1.95 0 1,0 3.90,0a1.95,1.95 0 1,0 -3.90,0zM215.1,306.2a1.95,1.95 0 1,0 3.90,0a1.95,1.95 0 1,0 -3.90,0zM216.4,337.7a1.95,1.95 0 1,0 3.90,0a1.95,1.95 0 1,0 -3.90,0zM217.7,315.4a1.95,1.95 0 1,0 3.90,0a1.95,1.95 0 1,0 -3.90,0zM219.8,320.7a1.95,1.95 0 1,0 3.90,0a1.95,1.95 0 1,0 -3.90,0zM221.6,319.3a1.95,1.95 0 1,0 3.90,0a1.95,1.95 0 1,0 -3.90,0zM222.4,346.9a1.95,1.95 0 1,0 3.90,0a1.95,1.95 0 1,0 -3.90,0zM224.3,324.6a1.95,1.95 0 1,0 3.90,0a1.95,1.95 0 1,0 -3.90,0zM225.6,298.3a1.95,1.95 0 1,0 3.90,0a1.95,1.95 0 1,0 -3.90,0zM227.7,310.1a1.95,1.95 0 1,0 3.90,0a1.95,1.95 0 1,0 -3.90,0zM229.5,325.9a1.95,1.95 0 1,0 3.90,0a1.95,1.95 0 1,0 -3.90,0zM231.4,308.8a1.95,1.95 0 1,0 3.90,0a1.95,1.95 0 1,0 -3.90,0zM233.5,291.8a1.95,1.95 0 1,0 3.90,0a1.95,1.95 0 1,0 -3.90,0zM325.4,278.6a1.95,1.95 0 1,0 3.90,0a1.95,1.95 0 1,0 -3.90,0zM236.4,318.0a1.95,1.95 0 1,0 3.90,0a1.95,1.95 0 1,0 -3.90,0zM237.7,324.6a1.95,1.95 0 1,0 3.90,0a1.95,1.95 0 1,0 -3.90,0zM240.8,315.4a1.95,1.95 0 1,0 3.90,0a1.95,1.95 0 1,0 -3.90,0zM242.4,332.5a1.95,1.95 0 1,0 3.90,0a1.95,1.95 0 1,0 -3.90,0zM245.0,294.4a1.95,1.95 0 1,0 3.90,0a1.95,1.95 0 1,0 -3.90,0zM246.1,329.8a1.95,1.95 0 1,0 3.90,0a1.95,1.95 0 1,0 -3.90,0zM247.7,333.8a1.95,1.95 0 1,0 3.90,0a1.95,1.95 0 1,0 -3.90,0zM249.5,303.6a1.95,1.95 0 1,0 3.90,0a1.95,1.95 0 1,0 -3.90,0zM250.8,273.9a1.95,1.95 0 1,0 3.90,0a1.95,1.95 0 1,0 -3.90,0zM252.1,301.0a1.95,1.95 0 1,0 3.90,0a1.95,1.95 0 1,0 -3.90,0zM254.0,312.8a1.95,1.95 0 1,0 3.90,0a1.95,1.95 0 1,0 -3.90,0zM256.1,310.1a1.95,1.95 0 1,0 3.90,0a1.95,1.95 0 1,0 -3.90,0zM257.4,324.6a1.95,1.95 0 1,0 3.90,0a1.95,1.95 0 1,0 -3.90,0zM258.7,311.5a1.95,1.95 0 1,0 3.90,0a1.95,1.95 0 1,0 -3.90,0zM260.8,308.8a1.95,1.95 0 1,0 3.90,0a1.95,1.95 0 1,0 -3.90,0zM262.6,315.4a1.95,1.95 0 1,0 3.90,0a1.95,1.95 0 1,0 -3.90,0zM264.5,333.8a1.95,1.95 0 1,0 3.90,0a1.95,1.95 0 1,0 -3.90,0zM266.6,318.0a1.95,1.95 0 1,0 3.90,0a1.95,1.95 0 1,0 -3.90,0zM268.7,325.9a1.95,1.95 0 1,0 3.90,0a1.95,1.95 0 1,0 -3.90,0zM270.5,315.4a1.95,1.95 0 1,0 3.90,0a1.95,1.95 0 1,0 -3.90,0zM271.8,311.5a1.95,1.95 0 1,0 3.90,0a1.95,1.95 0 1,0 -3.90,0zM273.9,322.0a1.95,1.95 0 1,0 3.90,0a1.95,1.95 0 1,0 -3.90,0zM275.8,331.2a1.95,1.95 0 1,0 3.90,0a1.95,1.95 0 1,0 -3.90,0zM277.6,299.6a1.95,1.95 0 1,0 3.90,0a1.95,1.95 0 1,0 -3.90,0zM279.7,308.8a1.95,1.95 0 1,0 3.90,0a1.95,1.95 0 1,0 -3.90,0zM281.0,324.6a1.95,1.95 0 1,0 3.90,0a1.95,1.95 0 1,0 -3.90,0zM282.8,318.0a1.95,1.95 0 1,0 3.90,0a1.95,1.95 0 1,0 -3.90,0zM284.9,312.8a1.95,1.95 0 1,0 3.90,0a1.95,1.95 0 1,0 -3.90,0zM287.0,308.8a1.95,1.95 0 1,0 3.90,0a1.95,1.95 0 1,0 -3.90,0zM288.9,302.3a1.95,1.95 0 1,0 3.90,0a1.95,1.95 0 1,0 -3.90,0zM291.5,316.7a1.95,1.95 0 1,0 3.90,0a1.95,1.95 0 1,0 -3.90,0zM293.3,310.1a1.95,1.95 0 1,0 3.90,0a1.95,1.95 0 1,0 -3.90,0zM294.9,307.5a1.95,1.95 0 1,0 3.90,0a1.95,1.95 0 1,0 -3.90,0zM296.0,328.5a1.95,1.95 0 1,0 3.90,0a1.95,1.95 0 1,0 -3.90,0zM298.1,307.5a1.95,1.95 0 1,0 3.90,0a1.95,1.95 0 1,0 -3.90,0zM299.4,303.6a1.95,1.95 0 1,0 3.90,0a1.95,1.95 0 1,0 -3.90,0zM302.0,302.3a1.95,1.95 0 1,0 3.90,0a1.95,1.95 0 1,0 -3.90,0zM303.9,301.0a1.95,1.95 0 1,0 3.90,0a1.95,1.95 0 1,0 -3.90,0zM305.4,310.1a1.95,1.95 0 1,0 3.90,0a1.95,1.95 0 1,0 -3.90,0zM307.3,323.3a1.95,1.95 0 1,0 3.90,0a1.95,1.95 0 1,0 -3.90,0zM309.9,306.2a1.95,1.95 0 1,0 3.90,0a1.95,1.95 0 1,0 -3.90,0zM311.7,323.3a1.95,1.95 0 1,0 3.90,0a1.95,1.95 0 1,0 -3.90,0zM313.8,331.2a1.95,1.95 0 1,0 3.90,0a1.95,1.95 0 1,0 -3.90,0zM315.1,310.1a1.95,1.95 0 1,0 3.90,0a1.95,1.95 0 1,0 -3.90,0zM317.8,316.7a1.95,1.95 0 1,0 3.90,0a1.95,1.95 0 1,0 -3.90,0zM319.1,324.6a1.95,1.95 0 1,0 3.90,0a1.95,1.95 0 1,0 -3.90,0zM321.2,333.8a1.95,1.95 0 1,0 3.90,0a1.95,1.95 0 1,0 -3.90,0zM323.0,287.8a1.95,1.95 0 1,0 3.90,0a1.95,1.95 0 1,0 -3.90,0zM325.6,303.6a1.95,1.95 0 1,0 3.90,0a1.95,1.95 0 1,0 -3.90,0zM327.0,325.9a1.95,1.95 0 1,0 3.90,0a1.95,1.95 0 1,0 -3.90,0zM329.6,314.1a1.95,1.95 0 1,0 3.90,0a1.95,1.95 0 1,0 -3.90,0zM331.7,327.2a1.95,1.95 0 1,0 3.90,0a1.95,1.95 0 1,0 -3.90,0zM333.5,308.8a1.95,1.95 0 1,0 3.90,0a1.95,1.95 0 1,0 -3.90,0zM334.8,318.0a1.95,1.95 0 1,0 3.90,0a1.95,1.95 0 1,0 -3.90,0z" fill="rgb(96,128,232)" fill-opacity="0.82"/>
<path d="M29.4,318.53L338.0,315.12" stroke="rgb(170,30,50)" stroke-width="1.05"/>
<text x="347.4" y="201.1" font-size="11" font-weight="bold" fill="#000" style="stroke:#000;stroke-width:0.35px">d</text>
<text transform="translate(353.4,282.9) rotate(-90)" text-anchor="middle" font-size="6.6" fill="#1a1a1a">Anomalies in Lat_U<tspan font-size="4.6" dy="1.6" dx="0.3">max</tspan></text>
<path d="M377.2,206.9 V360.73 H685.5" fill="none" stroke="#8f8f8f" stroke-width="0.9"/>
<path d="M374.60,360.72H377.2 M376.20,356.33H377.4 M376.20,351.93H377.4 M376.20,347.54H377.4 M376.20,343.14H377.4 M374.60,338.75H377.2 M376.20,334.35H377.4 M376.20,329.96H377.4 M376.20,325.56H377.4 M376.20,321.17H377.4 M374.60,316.77H377.2 M376.20,312.38H377.4 M376.20,307.98H377.4 M376.20,303.59H377.4 M376.20,299.19H377.4 M374.60,294.80H377.2 M376.20,290.40H377.4 M376.20,286.01H377.4 M376.20,281.62H377.4 M376.20,277.22H377.4 M374.60,272.82H377.2 M376.20,268.43H377.4 M376.20,264.03H377.4 M376.20,259.64H377.4 M376.20,255.24H377.4 M374.60,250.85H377.2 M376.20,246.45H377.4 M376.20,242.06H377.4 M376.20,237.66H377.4 M376.20,233.27H377.4 M374.60,228.88H377.2 M376.20,224.48H377.4 M376.20,220.08H377.4 M376.20,215.69H377.4 M376.20,211.29H377.4 M374.60,206.90H377.2 M377.20,360.73V363.33 M391.92,360.73V363.33 M406.64,360.73V363.33 M421.36,360.73V363.33 M436.08,360.73V363.33 M450.80,360.73V363.33 M465.52,360.73V363.33 M480.24,360.73V363.33 M494.96,360.73V363.33 M509.68,360.73V363.33 M524.40,360.73V363.33 M539.12,360.73V363.33 M553.84,360.73V363.33 M568.56,360.73V363.33 M583.28,360.73V363.33 M598.00,360.73V363.33 M612.72,360.73V363.33 M627.44,360.73V363.33 M642.16,360.73V363.33 M656.88,360.73V363.33 M671.60,360.73V363.33" fill="none" stroke="#555" stroke-width="0.8"/>
<text x="367.90" y="363.02" text-anchor="end" font-size="6.6" fill="#1a1a1a">−10</text>
<circle cx="369.80" cy="359.12" r="0.75" fill="none" stroke="#444" stroke-width="0.6"/>
<text x="367.90" y="341.05" text-anchor="end" font-size="6.6" fill="#1a1a1a">−5</text>
<circle cx="369.80" cy="337.15" r="0.75" fill="none" stroke="#444" stroke-width="0.6"/>
<text x="367.90" y="319.07" text-anchor="end" font-size="6.6" fill="#1a1a1a">0</text>
<circle cx="369.80" cy="315.17" r="0.75" fill="none" stroke="#444" stroke-width="0.6"/>
<text x="367.90" y="297.10" text-anchor="end" font-size="6.6" fill="#1a1a1a">5</text>
<circle cx="369.80" cy="293.20" r="0.75" fill="none" stroke="#444" stroke-width="0.6"/>
<text x="367.90" y="275.12" text-anchor="end" font-size="6.6" fill="#1a1a1a">10</text>
<circle cx="369.80" cy="271.22" r="0.75" fill="none" stroke="#444" stroke-width="0.6"/>
<text x="367.90" y="253.15" text-anchor="end" font-size="6.6" fill="#1a1a1a">15</text>
<circle cx="369.80" cy="249.25" r="0.75" fill="none" stroke="#444" stroke-width="0.6"/>
<text x="367.90" y="231.18" text-anchor="end" font-size="6.6" fill="#1a1a1a">20</text>
<circle cx="369.80" cy="227.28" r="0.75" fill="none" stroke="#444" stroke-width="0.6"/>
<text x="367.90" y="209.20" text-anchor="end" font-size="6.6" fill="#1a1a1a">25</text>
<circle cx="369.80" cy="205.30" r="0.75" fill="none" stroke="#444" stroke-width="0.6"/>
<text transform="translate(381.80,370.12) rotate(-45)" text-anchor="end" font-size="6.7" fill="#1a1a1a">2000</text>
<text transform="translate(396.52,370.12) rotate(-45)" text-anchor="end" font-size="6.7" fill="#1a1a1a">2001</text>
<text transform="translate(411.24,370.12) rotate(-45)" text-anchor="end" font-size="6.7" fill="#1a1a1a">2002</text>
<text transform="translate(425.96,370.12) rotate(-45)" text-anchor="end" font-size="6.7" fill="#1a1a1a">2003</text>
<text transform="translate(440.68,370.12) rotate(-45)" text-anchor="end" font-size="6.7" fill="#1a1a1a">2004</text>
<text transform="translate(455.40,370.12) rotate(-45)" text-anchor="end" font-size="6.7" fill="#1a1a1a">2005</text>
<text transform="translate(470.12,370.12) rotate(-45)" text-anchor="end" font-size="6.7" fill="#1a1a1a">2006</text>
<text transform="translate(484.84,370.12) rotate(-45)" text-anchor="end" font-size="6.7" fill="#1a1a1a">2007</text>
<text transform="translate(499.56,370.12) rotate(-45)" text-anchor="end" font-size="6.7" fill="#1a1a1a">2008</text>
<text transform="translate(514.28,370.12) rotate(-45)" text-anchor="end" font-size="6.7" fill="#1a1a1a">2009</text>
<text transform="translate(529.00,370.12) rotate(-45)" text-anchor="end" font-size="6.7" fill="#1a1a1a">2010</text>
<text transform="translate(543.72,370.12) rotate(-45)" text-anchor="end" font-size="6.7" fill="#1a1a1a">2011</text>
<text transform="translate(558.44,370.12) rotate(-45)" text-anchor="end" font-size="6.7" fill="#1a1a1a">2012</text>
<text transform="translate(573.16,370.12) rotate(-45)" text-anchor="end" font-size="6.7" fill="#1a1a1a">2013</text>
<text transform="translate(587.88,370.12) rotate(-45)" text-anchor="end" font-size="6.7" fill="#1a1a1a">2014</text>
<text transform="translate(602.60,370.12) rotate(-45)" text-anchor="end" font-size="6.7" fill="#1a1a1a">2015</text>
<text transform="translate(617.32,370.12) rotate(-45)" text-anchor="end" font-size="6.7" fill="#1a1a1a">2016</text>
<text transform="translate(632.04,370.12) rotate(-45)" text-anchor="end" font-size="6.7" fill="#1a1a1a">2017</text>
<text transform="translate(646.76,370.12) rotate(-45)" text-anchor="end" font-size="6.7" fill="#1a1a1a">2018</text>
<text transform="translate(661.48,370.12) rotate(-45)" text-anchor="end" font-size="6.7" fill="#1a1a1a">2019</text>
<text transform="translate(676.20,370.12) rotate(-45)" text-anchor="end" font-size="6.7" fill="#1a1a1a">2020</text>
<circle cx="387.90" cy="217.30" r="1.75" fill="rgb(105,138,236)"/>
<text x="392.70" y="219.50" font-size="6.5" fill="#111">CMV: −0.31 ± 0.21° decade<tspan font-size="4.2" dx="0.5" dy="-3.0">−1</tspan><tspan dx="0.3" dy="3.0">; </tspan><tspan font-style="italic">P</tspan> = 0.14</text>
<polygon points="387.9,228.8 388.4,230.2 389.9,230.3 388.8,231.2 389.1,232.6 387.9,231.8 386.7,232.6 387.0,231.2 385.9,230.3 387.4,230.2" fill="rgb(55,55,55)"/>
<text x="392.70" y="233.10" font-size="6.5" fill="#111">ERA5_MS: −0.35 ± 0.22° decade<tspan font-size="4.2" dx="0.5" dy="-3.0">−1</tspan><tspan dx="0.3" dy="3.0">; </tspan><tspan font-style="italic">P</tspan> = 0.10</text>
<polygon points="387.90,242.41 385.95,245.78 389.85,245.78" fill="rgb(238,36,36)"/>
<text x="392.70" y="246.70" font-size="6.5" fill="#111">ERA5_AW: −0.35 ± 0.21° decade<tspan font-size="4.2" dx="0.5" dy="-3.0">−1</tspan><tspan dx="0.3" dy="3.0">; </tspan><tspan font-style="italic">P</tspan> = 0.10</text>
<path d="M378.6,315.5l2.15,-3.74l2.15,3.74zM380.1,321.4l2.15,-3.74l2.15,3.74zM384.3,315.5l2.15,-3.74l2.15,3.74zM386.4,290.3l2.15,-3.74l2.15,3.74zM389.6,302.9l2.15,-3.74l2.15,3.74zM396.9,316.6l2.15,-3.74l2.15,3.74zM398.4,316.6l2.15,-3.74l2.15,3.74zM400.1,327.1l2.15,-3.74l2.15,3.74zM402.2,334.4l2.15,-3.74l2.15,3.74zM404.3,334.4l2.15,-3.74l2.15,3.74zM408.0,302.9l2.15,-3.74l2.15,3.74zM410.6,296.2l2.15,-3.74l2.15,3.74zM416.9,287.8l2.15,-3.74l2.15,3.74zM420.0,308.2l2.15,-3.74l2.15,3.74zM423.2,319.7l2.15,-3.74l2.15,3.74zM428.4,335.5l2.15,-3.74l2.15,3.74zM431.6,320.8l2.15,-3.74l2.15,3.74zM434.1,306.1l2.15,-3.74l2.15,3.74zM436.8,306.1l2.15,-3.74l2.15,3.74zM441.0,307.1l2.15,-3.74l2.15,3.74zM443.8,327.1l2.15,-3.74l2.15,3.74zM446.3,316.6l2.15,-3.74l2.15,3.74zM448.4,308.2l2.15,-3.74l2.15,3.74zM453.0,315.5l2.15,-3.74l2.15,3.74zM456.8,306.1l2.15,-3.74l2.15,3.74zM458.5,328.1l2.15,-3.74l2.15,3.74zM462.0,307.1l2.15,-3.74l2.15,3.74zM463.1,297.7l2.15,-3.74l2.15,3.74zM465.6,311.3l2.15,-3.74l2.15,3.74zM467.3,319.7l2.15,-3.74l2.15,3.74zM469.4,338.6l2.15,-3.74l2.15,3.74zM471.5,328.1l2.15,-3.74l2.15,3.74zM473.6,300.8l2.15,-3.74l2.15,3.74zM475.7,315.5l2.15,-3.74l2.15,3.74zM482.0,311.3l2.15,-3.74l2.15,3.74zM485.2,321.8l2.15,-3.74l2.15,3.74zM490.4,313.4l2.15,-3.74l2.15,3.74zM492.5,329.2l2.15,-3.74l2.15,3.74zM497.3,316.6l2.15,-3.74l2.15,3.74zM505.1,316.6l2.15,-3.74l2.15,3.74zM507.2,326.0l2.15,-3.74l2.15,3.74zM513.5,325.0l2.15,-3.74l2.15,3.74zM515.6,304.0l2.15,-3.74l2.15,3.74zM517.7,316.6l2.15,-3.74l2.15,3.74zM527.2,317.6l2.15,-3.74l2.15,3.74zM529.3,326.0l2.15,-3.74l2.15,3.74zM530.3,333.4l2.15,-3.74l2.15,3.74zM534.5,334.4l2.15,-3.74l2.15,3.74zM539.8,327.1l2.15,-3.74l2.15,3.74zM542.9,327.1l2.15,-3.74l2.15,3.74zM545.7,313.4l2.15,-3.74l2.15,3.74zM547.1,309.2l2.15,-3.74l2.15,3.74zM551.3,332.3l2.15,-3.74l2.15,3.74zM557.6,315.5l2.15,-3.74l2.15,3.74zM560.4,333.4l2.15,-3.74l2.15,3.74zM564.6,307.1l2.15,-3.74l2.15,3.74zM567.1,315.5l2.15,-3.74l2.15,3.74zM571.3,325.0l2.15,-3.74l2.15,3.74zM575.5,298.7l2.15,-3.74l2.15,3.74zM577.2,305.0l2.15,-3.74l2.15,3.74zM581.8,311.3l2.15,-3.74l2.15,3.74zM585.2,318.7l2.15,-3.74l2.15,3.74zM589.4,316.6l2.15,-3.74l2.15,3.74zM591.9,310.3l2.15,-3.74l2.15,3.74zM595.2,320.8l2.15,-3.74l2.15,3.74zM598.8,325.0l2.15,-3.74l2.15,3.74zM601.5,312.4l2.15,-3.74l2.15,3.74zM603.6,334.4l2.15,-3.74l2.15,3.74zM605.1,338.6l2.15,-3.74l2.15,3.74zM610.4,316.6l2.15,-3.74l2.15,3.74zM614.6,325.0l2.15,-3.74l2.15,3.74zM617.7,326.0l2.15,-3.74l2.15,3.74zM620.9,338.6l2.15,-3.74l2.15,3.74zM620.4,305.0l2.15,-3.74l2.15,3.74zM623.0,316.6l2.15,-3.74l2.15,3.74zM626.7,313.4l2.15,-3.74l2.15,3.74zM630.3,321.8l2.15,-3.74l2.15,3.74zM632.4,323.9l2.15,-3.74l2.15,3.74zM635.2,333.4l2.15,-3.74l2.15,3.74zM637.3,310.3l2.15,-3.74l2.15,3.74zM639.8,325.0l2.15,-3.74l2.15,3.74zM644.4,309.2l2.15,-3.74l2.15,3.74zM646.1,315.5l2.15,-3.74l2.15,3.74zM649.2,319.7l2.15,-3.74l2.15,3.74zM652.4,323.9l2.15,-3.74l2.15,3.74zM656.6,309.2l2.15,-3.74l2.15,3.74zM660.4,317.6l2.15,-3.74l2.15,3.74zM663.9,301.9l2.15,-3.74l2.15,3.74zM667.1,311.3l2.15,-3.74l2.15,3.74zM669.2,307.1l2.15,-3.74l2.15,3.74zM673.4,312.4l2.15,-3.74l2.15,3.74zM677.6,307.1l2.15,-3.74l2.15,3.74zM679.7,318.7l2.15,-3.74l2.15,3.74zM388.5,314.8l2.15,-3.74l2.15,3.74zM385.6,316.8l2.15,-3.74l2.15,3.74zM400.2,309.5l2.15,-3.74l2.15,3.74zM391.9,317.4l2.15,-3.74l2.15,3.74zM461.4,320.0l2.15,-3.74l2.15,3.74zM477.4,319.1l2.15,-3.74l2.15,3.74zM470.6,319.0l2.15,-3.74l2.15,3.74zM464.2,315.7l2.15,-3.74l2.15,3.74zM501.5,315.7l2.15,-3.74l2.15,3.74zM498.4,321.2l2.15,-3.74l2.15,3.74zM501.3,319.1l2.15,-3.74l2.15,3.74zM508.4,315.2l2.15,-3.74l2.15,3.74zM525.2,310.8l2.15,-3.74l2.15,3.74zM532.1,306.2l2.15,-3.74l2.15,3.74zM529.0,322.8l2.15,-3.74l2.15,3.74zM560.8,311.2l2.15,-3.74l2.15,3.74zM563.9,322.0l2.15,-3.74l2.15,3.74zM573.0,324.6l2.15,-3.74l2.15,3.74zM576.8,316.7l2.15,-3.74l2.15,3.74zM604.2,325.6l2.15,-3.74l2.15,3.74zM608.7,312.0l2.15,-3.74l2.15,3.74zM627.8,327.1l2.15,-3.74l2.15,3.74zM647.4,312.5l2.15,-3.74l2.15,3.74zM661.3,322.1l2.15,-3.74l2.15,3.74zM668.6,326.5l2.15,-3.74l2.15,3.74zM678.4,324.8l2.15,-3.74l2.15,3.74zM682.5,317.8l2.15,-3.74l2.15,3.74zM385.0,316.6l2.15,-3.74l2.15,3.74zM392.4,317.9l2.15,-3.74l2.15,3.74zM461.4,320.9l2.15,-3.74l2.15,3.74zM464.8,316.2l2.15,-3.74l2.15,3.74zM500.5,317.1l2.15,-3.74l2.15,3.74zM524.7,312.4l2.15,-3.74l2.15,3.74zM532.0,306.5l2.15,-3.74l2.15,3.74zM561.1,309.7l2.15,-3.74l2.15,3.74zM562.5,320.0l2.15,-3.74l2.15,3.74zM574.3,323.9l2.15,-3.74l2.15,3.74zM576.0,318.0l2.15,-3.74l2.15,3.74zM604.4,327.6l2.15,-3.74l2.15,3.74zM608.4,312.6l2.15,-3.74l2.15,3.74zM627.4,326.0l2.15,-3.74l2.15,3.74zM647.6,312.4l2.15,-3.74l2.15,3.74zM661.0,320.5l2.15,-3.74l2.15,3.74zM677.4,324.6l2.15,-3.74l2.15,3.74zM387.0,292.9l2.15,-3.74l2.15,3.74zM378.7,311.5l2.15,-3.74l2.15,3.74zM383.7,307.8l2.15,-3.74l2.15,3.74zM385.0,315.1l2.15,-3.74l2.15,3.74zM386.4,319.8l2.15,-3.74l2.15,3.74zM387.9,312.2l2.15,-3.74l2.15,3.74zM390.1,305.0l2.15,-3.74l2.15,3.74zM392.8,311.1l2.15,-3.74l2.15,3.74zM394.5,319.8l2.15,-3.74l2.15,3.74zM394.8,321.1l2.15,-3.74l2.15,3.74zM397.1,324.0l2.15,-3.74l2.15,3.74zM398.5,317.6l2.15,-3.74l2.15,3.74zM401.5,327.6l2.15,-3.74l2.15,3.74zM403.4,328.9l2.15,-3.74l2.15,3.74zM405.8,328.7l2.15,-3.74l2.15,3.74zM408.1,303.0l2.15,-3.74l2.15,3.74zM413.3,299.7l2.15,-3.74l2.15,3.74zM414.2,307.3l2.15,-3.74l2.15,3.74zM414.7,305.5l2.15,-3.74l2.15,3.74zM418.2,307.4l2.15,-3.74l2.15,3.74zM418.8,310.3l2.15,-3.74l2.15,3.74zM419.4,325.6l2.15,-3.74l2.15,3.74zM425.7,323.8l2.15,-3.74l2.15,3.74zM426.3,322.2l2.15,-3.74l2.15,3.74zM428.1,318.3l2.15,-3.74l2.15,3.74zM429.0,330.6l2.15,-3.74l2.15,3.74zM430.5,326.0l2.15,-3.74l2.15,3.74zM433.3,315.4l2.15,-3.74l2.15,3.74zM435.8,328.7l2.15,-3.74l2.15,3.74zM436.3,308.6l2.15,-3.74l2.15,3.74zM442.5,333.9l2.15,-3.74l2.15,3.74zM443.6,334.2l2.15,-3.74l2.15,3.74zM447.8,307.9l2.15,-3.74l2.15,3.74zM452.5,320.7l2.15,-3.74l2.15,3.74zM454.2,319.9l2.15,-3.74l2.15,3.74zM458.3,324.0l2.15,-3.74l2.15,3.74zM461.6,310.4l2.15,-3.74l2.15,3.74zM463.0,299.4l2.15,-3.74l2.15,3.74zM464.2,315.0l2.15,-3.74l2.15,3.74zM466.3,313.9l2.15,-3.74l2.15,3.74zM470.9,322.4l2.15,-3.74l2.15,3.74zM472.6,301.1l2.15,-3.74l2.15,3.74zM475.5,317.0l2.15,-3.74l2.15,3.74zM476.7,320.6l2.15,-3.74l2.15,3.74zM479.5,312.9l2.15,-3.74l2.15,3.74zM486.4,295.2l2.15,-3.74l2.15,3.74zM479.4,311.9l2.15,-3.74l2.15,3.74zM481.5,322.0l2.15,-3.74l2.15,3.74zM482.1,308.5l2.15,-3.74l2.15,3.74zM484.2,308.6l2.15,-3.74l2.15,3.74zM485.1,319.4l2.15,-3.74l2.15,3.74zM486.8,313.3l2.15,-3.74l2.15,3.74zM488.4,314.9l2.15,-3.74l2.15,3.74zM492.9,326.3l2.15,-3.74l2.15,3.74zM494.2,320.5l2.15,-3.74l2.15,3.74zM497.9,323.0l2.15,-3.74l2.15,3.74zM500.0,325.2l2.15,-3.74l2.15,3.74zM501.9,327.1l2.15,-3.74l2.15,3.74zM503.8,326.1l2.15,-3.74l2.15,3.74zM505.4,311.6l2.15,-3.74l2.15,3.74zM506.0,322.4l2.15,-3.74l2.15,3.74zM507.9,323.5l2.15,-3.74l2.15,3.74zM510.2,313.0l2.15,-3.74l2.15,3.74zM510.8,312.4l2.15,-3.74l2.15,3.74zM512.7,306.8l2.15,-3.74l2.15,3.74zM513.9,320.9l2.15,-3.74l2.15,3.74zM518.1,314.6l2.15,-3.74l2.15,3.74zM519.3,330.3l2.15,-3.74l2.15,3.74zM521.8,321.7l2.15,-3.74l2.15,3.74zM523.0,312.0l2.15,-3.74l2.15,3.74zM524.0,308.5l2.15,-3.74l2.15,3.74zM529.1,325.1l2.15,-3.74l2.15,3.74zM530.7,327.5l2.15,-3.74l2.15,3.74zM533.3,321.7l2.15,-3.74l2.15,3.74zM534.3,328.9l2.15,-3.74l2.15,3.74zM537.6,324.9l2.15,-3.74l2.15,3.74zM539.0,314.6l2.15,-3.74l2.15,3.74zM540.6,327.2l2.15,-3.74l2.15,3.74zM541.6,315.3l2.15,-3.74l2.15,3.74zM543.6,320.1l2.15,-3.74l2.15,3.74zM544.9,315.6l2.15,-3.74l2.15,3.74zM548.8,298.3l2.15,-3.74l2.15,3.74zM550.2,310.7l2.15,-3.74l2.15,3.74zM552.0,329.4l2.15,-3.74l2.15,3.74zM558.2,315.6l2.15,-3.74l2.15,3.74zM559.9,326.9l2.15,-3.74l2.15,3.74zM560.9,331.3l2.15,-3.74l2.15,3.74zM563.7,316.5l2.15,-3.74l2.15,3.74zM566.9,307.0l2.15,-3.74l2.15,3.74zM568.6,316.0l2.15,-3.74l2.15,3.74zM577.5,307.4l2.15,-3.74l2.15,3.74zM582.7,316.9l2.15,-3.74l2.15,3.74zM586.2,327.1l2.15,-3.74l2.15,3.74zM587.2,313.4l2.15,-3.74l2.15,3.74zM589.1,311.4l2.15,-3.74l2.15,3.74zM591.9,313.3l2.15,-3.74l2.15,3.74zM593.6,316.2l2.15,-3.74l2.15,3.74zM596.2,319.9l2.15,-3.74l2.15,3.74zM600.2,329.6l2.15,-3.74l2.15,3.74zM601.7,316.4l2.15,-3.74l2.15,3.74zM604.6,337.0l2.15,-3.74l2.15,3.74zM607.3,332.8l2.15,-3.74l2.15,3.74zM608.9,315.1l2.15,-3.74l2.15,3.74zM617.1,320.6l2.15,-3.74l2.15,3.74zM618.9,333.6l2.15,-3.74l2.15,3.74zM622.2,334.1l2.15,-3.74l2.15,3.74zM624.3,303.3l2.15,-3.74l2.15,3.74zM625.6,306.7l2.15,-3.74l2.15,3.74zM626.1,309.5l2.15,-3.74l2.15,3.74zM629.3,306.4l2.15,-3.74l2.15,3.74zM630.3,323.1l2.15,-3.74l2.15,3.74zM631.9,322.7l2.15,-3.74l2.15,3.74zM632.1,315.0l2.15,-3.74l2.15,3.74zM635.4,337.4l2.15,-3.74l2.15,3.74zM638.3,308.2l2.15,-3.74l2.15,3.74zM638.7,327.2l2.15,-3.74l2.15,3.74zM642.6,321.6l2.15,-3.74l2.15,3.74zM643.0,320.4l2.15,-3.74l2.15,3.74zM645.7,310.9l2.15,-3.74l2.15,3.74zM647.1,311.6l2.15,-3.74l2.15,3.74zM648.8,315.6l2.15,-3.74l2.15,3.74zM649.6,316.6l2.15,-3.74l2.15,3.74zM651.8,330.3l2.15,-3.74l2.15,3.74zM655.2,320.4l2.15,-3.74l2.15,3.74zM656.5,312.2l2.15,-3.74l2.15,3.74zM658.1,320.7l2.15,-3.74l2.15,3.74zM661.4,321.1l2.15,-3.74l2.15,3.74zM665.5,326.7l2.15,-3.74l2.15,3.74zM667.7,300.2l2.15,-3.74l2.15,3.74zM671.8,316.6l2.15,-3.74l2.15,3.74zM672.3,328.5l2.15,-3.74l2.15,3.74zM675.4,312.7l2.15,-3.74l2.15,3.74zM680.0,315.6l2.15,-3.74l2.15,3.74zM680.8,317.4l2.15,-3.74l2.15,3.74zM682.5,327.9l2.15,-3.74l2.15,3.74z" fill="rgb(238,36,36)"/>
<path d="M388.6,286.7L389.3,287.9L390.6,288.2L389.7,289.3L389.8,290.7L388.6,290.1L387.3,290.7L387.4,289.3L386.5,288.2L387.8,287.9zM390.7,306.7L391.4,307.9L392.7,308.2L391.8,309.2L391.9,310.6L390.7,310.1L389.4,310.6L389.5,309.2L388.6,308.2L389.9,307.9zM415.9,304.6L416.6,305.8L418.0,306.1L417.0,307.1L417.2,308.5L415.9,308.0L414.6,308.5L414.7,307.1L413.8,306.1L415.2,305.8zM431.2,326.6L431.9,327.8L433.3,328.1L432.4,329.2L432.5,330.6L431.2,330.0L429.9,330.6L430.1,329.2L429.1,328.1L430.5,327.8zM444.2,334.0L444.9,335.2L446.3,335.5L445.4,336.6L445.5,338.0L444.2,337.4L442.9,338.0L443.1,336.6L442.1,335.5L443.5,335.2zM460.0,307.7L460.7,308.9L462.1,309.2L461.1,310.3L461.3,311.7L460.0,311.1L458.7,311.7L458.8,310.3L457.9,309.2L459.3,308.9zM489.0,290.9L489.7,292.1L491.1,292.4L490.1,293.5L490.3,294.9L489.0,294.3L487.7,294.9L487.8,293.5L486.9,292.4L488.3,292.1zM487.7,316.1L488.4,317.3L489.8,317.6L488.9,318.7L489.0,320.1L487.7,319.5L486.4,320.1L486.6,318.7L485.6,317.6L487.0,317.3zM518.8,316.1L519.5,317.3L520.9,317.6L520.0,318.7L520.1,320.1L518.8,319.5L517.5,320.1L517.7,318.7L516.7,317.6L518.1,317.3zM537.3,330.8L538.0,332.0L539.4,332.3L538.5,333.4L538.6,334.8L537.3,334.2L536.0,334.8L536.2,333.4L535.2,332.3L536.6,332.0zM547.8,295.1L548.5,296.3L549.9,296.6L549.0,297.7L549.1,299.1L547.8,298.5L546.5,299.1L546.7,297.7L545.7,296.6L547.1,296.3zM576.6,323.5L577.3,324.7L578.7,325.0L577.7,326.0L577.9,327.5L576.6,326.9L575.3,327.5L575.4,326.0L574.5,325.0L575.9,324.7zM591.5,303.5L592.2,304.7L593.6,305.0L592.7,306.1L592.8,307.5L591.5,306.9L590.2,307.5L590.4,306.1L589.4,305.0L590.8,304.7zM589.4,311.9L590.1,313.1L591.5,313.4L590.6,314.5L590.7,315.9L589.4,315.3L588.1,315.9L588.3,314.5L587.3,313.4L588.7,313.1zM606.2,325.6L606.9,326.8L608.3,327.1L607.4,328.1L607.5,329.6L606.2,329.0L604.9,329.6L605.1,328.1L604.1,327.1L605.5,326.8zM620.9,336.1L621.6,337.3L623.0,337.6L622.1,338.7L622.2,340.1L620.9,339.5L619.6,340.1L619.8,338.7L618.8,337.6L620.2,337.3zM622.6,298.3L623.3,299.5L624.7,299.8L623.7,300.8L623.9,302.2L622.6,301.7L621.3,302.2L621.4,300.8L620.5,299.8L621.9,299.5zM635.2,321.4L635.9,322.6L637.3,322.9L636.4,323.9L636.5,325.4L635.2,324.8L633.9,325.4L634.1,323.9L633.1,322.9L634.5,322.6zM653.5,328.7L654.2,329.9L655.6,330.2L654.6,331.3L654.8,332.7L653.5,332.1L652.2,332.7L652.3,331.3L651.4,330.2L652.8,329.9zM668.8,307.7L669.5,308.9L670.9,309.2L670.0,310.3L670.1,311.7L668.8,311.1L667.5,311.7L667.7,310.3L666.7,309.2L668.1,308.9zM391.7,311.6L392.4,312.9L393.8,313.2L392.8,314.2L393.0,315.6L391.7,315.1L390.4,315.6L390.5,314.2L389.6,313.2L391.0,312.9zM387.8,312.2L388.5,313.4L389.9,313.7L388.9,314.8L389.1,316.2L387.8,315.6L386.5,316.2L386.6,314.8L385.7,313.7L387.1,313.4zM471.8,315.5L472.5,316.7L473.9,317.0L472.9,318.1L473.1,319.5L471.8,318.9L470.5,319.5L470.6,318.1L469.7,317.0L471.1,316.7zM526.8,307.0L527.6,308.2L528.9,308.5L528.0,309.5L528.1,310.9L526.8,310.4L525.6,310.9L525.7,309.5L524.8,308.5L526.1,308.2zM564.6,317.1L565.3,318.3L566.7,318.6L565.8,319.6L565.9,321.0L564.6,320.5L563.3,321.0L563.5,319.6L562.5,318.6L563.9,318.3zM579.2,313.7L579.9,314.9L581.2,315.2L580.3,316.2L580.4,317.7L579.2,317.1L577.9,317.7L578.0,316.2L577.1,315.2L578.4,314.9zM662.6,317.5L663.3,318.7L664.7,319.0L663.8,320.1L663.9,321.5L662.6,320.9L661.3,321.5L661.5,320.1L660.5,319.0L661.9,318.7zM680.0,320.4L680.7,321.6L682.1,321.9L681.1,323.0L681.3,324.4L680.0,323.8L678.7,324.4L678.8,323.0L677.9,321.9L679.3,321.6zM684.5,315.4L685.2,316.6L686.6,316.9L685.7,318.0L685.8,319.4L684.5,318.8L683.2,319.4L683.4,318.0L682.4,316.9L683.8,316.6zM402.8,305.4L403.5,306.6L404.9,306.9L404.0,308.0L404.1,309.4L402.8,308.8L401.5,309.4L401.7,308.0L400.7,306.9L402.1,306.6zM394.3,314.6L395.0,315.8L396.4,316.1L395.4,317.2L395.6,318.6L394.3,318.0L393.0,318.6L393.1,317.2L392.2,316.1L393.6,315.8zM463.7,316.4L464.4,317.7L465.8,318.0L464.8,319.0L465.0,320.4L463.7,319.9L462.4,320.4L462.5,319.0L461.6,318.0L463.0,317.7zM472.5,314.1L473.2,315.3L474.6,315.6L473.7,316.7L473.8,318.1L472.5,317.5L471.2,318.1L471.4,316.7L470.4,315.6L471.8,315.3zM503.4,310.7L504.1,311.9L505.5,312.2L504.6,313.2L504.7,314.6L503.4,314.1L502.1,314.6L502.3,313.2L501.3,312.2L502.7,311.9zM500.8,317.3L501.5,318.6L502.9,318.9L502.0,319.9L502.1,321.3L500.8,320.7L499.5,321.3L499.7,319.9L498.7,318.9L500.1,318.6zM502.3,314.1L503.0,315.3L504.4,315.6L503.5,316.7L503.6,318.1L502.3,317.5L501.0,318.1L501.2,316.7L500.2,315.6L501.6,315.3zM511.9,309.8L512.6,311.1L514.0,311.4L513.1,312.4L513.2,313.8L511.9,313.3L510.6,313.8L510.8,312.4L509.8,311.4L511.2,311.1zM563.5,307.0L564.2,308.2L565.6,308.5L564.7,309.6L564.8,311.0L563.5,310.4L562.2,311.0L562.4,309.6L561.4,308.5L562.8,308.2zM564.8,316.7L565.5,317.9L566.9,318.2L565.9,319.3L566.1,320.7L564.8,320.1L563.5,320.7L563.6,319.3L562.7,318.2L564.1,317.9zM576.1,319.6L576.9,320.8L578.2,321.1L577.3,322.2L577.4,323.6L576.1,323.0L574.9,323.6L575.0,322.2L574.1,321.1L575.4,320.8zM578.6,314.2L579.3,315.4L580.7,315.7L579.7,316.7L579.9,318.1L578.6,317.6L577.3,318.1L577.4,316.7L576.5,315.7L577.8,315.4zM606.7,322.7L607.4,323.9L608.8,324.2L607.9,325.3L608.0,326.7L606.7,326.1L605.4,326.7L605.6,325.3L604.6,324.2L606.0,323.9zM610.8,308.4L611.5,309.7L612.9,310.0L612.0,311.0L612.1,312.4L610.8,311.9L609.5,312.4L609.7,311.0L608.7,310.0L610.1,309.7zM630.7,321.5L631.4,322.7L632.8,323.0L631.9,324.1L632.0,325.5L630.7,324.9L629.4,325.5L629.6,324.1L628.6,323.0L630.0,322.7zM649.7,309.2L650.5,310.4L651.8,310.7L650.9,311.7L651.0,313.1L649.7,312.6L648.5,313.1L648.6,311.7L647.7,310.7L649.0,310.4zM680.0,321.0L680.7,322.2L682.1,322.5L681.2,323.6L681.3,325.0L680.0,324.4L678.7,325.0L678.9,323.6L677.9,322.5L679.3,322.2zM388.9,288.7L389.6,290.0L391.0,290.3L390.0,291.3L390.2,292.7L388.9,292.2L387.6,292.7L387.7,291.3L386.8,290.3L388.2,290.0zM380.7,307.7L381.4,308.9L382.8,309.2L381.8,310.3L382.0,311.7L380.7,311.1L379.4,311.7L379.5,310.3L378.6,309.2L380.0,308.9zM382.2,316.1L382.9,317.4L384.3,317.7L383.4,318.7L383.5,320.1L382.2,319.6L380.9,320.1L381.1,318.7L380.1,317.7L381.5,317.4zM383.2,323.6L383.9,324.9L385.3,325.2L384.3,326.2L384.5,327.6L383.2,327.1L381.9,327.6L382.0,326.2L381.1,325.2L382.5,324.9zM385.7,304.6L386.4,305.8L387.8,306.1L386.8,307.2L387.0,308.6L385.7,308.0L384.4,308.6L384.5,307.2L383.6,306.1L385.0,305.8zM387.3,310.3L388.0,311.5L389.4,311.8L388.5,312.8L388.6,314.2L387.3,313.7L386.0,314.2L386.2,312.8L385.2,311.8L386.6,311.5zM393.9,309.6L394.6,310.8L396.0,311.1L395.0,312.2L395.2,313.6L393.9,313.0L392.6,313.6L392.7,312.2L391.8,311.1L393.2,310.8zM394.3,306.2L395.0,307.4L396.4,307.7L395.4,308.7L395.6,310.1L394.3,309.6L393.0,310.1L393.1,308.7L392.2,307.7L393.6,307.4zM396.0,315.6L396.7,316.8L398.1,317.1L397.1,318.1L397.3,319.5L396.0,319.0L394.7,319.5L394.8,318.1L393.9,317.1L395.3,316.8zM397.5,316.1L398.2,317.4L399.6,317.7L398.7,318.7L398.8,320.1L397.5,319.6L396.2,320.1L396.4,318.7L395.4,317.7L396.8,317.4zM399.1,319.2L399.8,320.5L401.2,320.8L400.2,321.8L400.4,323.2L399.1,322.6L397.8,323.2L397.9,321.8L397.0,320.8L398.4,320.5zM400.1,314.7L400.8,316.0L402.2,316.3L401.3,317.3L401.4,318.7L400.1,318.1L398.8,318.7L399.0,317.3L398.0,316.3L399.4,316.0zM402.1,317.5L402.8,318.8L404.2,319.1L403.3,320.1L403.4,321.5L402.1,321.0L400.8,321.5L401.0,320.1L400.0,319.1L401.4,318.8zM403.4,324.5L404.1,325.8L405.5,326.1L404.5,327.1L404.7,328.5L403.4,328.0L402.1,328.5L402.2,327.1L401.3,326.1L402.6,325.8zM406.6,328.1L407.3,329.3L408.7,329.6L407.7,330.7L407.9,332.1L406.6,331.5L405.3,332.1L405.4,330.7L404.5,329.6L405.9,329.3zM408.5,325.8L409.2,327.0L410.6,327.3L409.7,328.3L409.8,329.7L408.5,329.2L407.2,329.7L407.4,328.3L406.4,327.3L407.8,327.0zM412.1,318.8L412.8,320.0L414.2,320.3L413.2,321.4L413.4,322.8L412.1,322.2L410.8,322.8L410.9,321.4L410.0,320.3L411.4,320.0zM412.5,292.9L413.2,294.1L414.6,294.4L413.6,295.5L413.8,296.9L412.5,296.3L411.2,296.9L411.3,295.5L410.4,294.4L411.8,294.1zM414.3,296.2L415.0,297.4L416.4,297.7L415.4,298.8L415.6,300.2L414.3,299.6L413.0,300.2L413.1,298.8L412.2,297.7L413.6,297.4zM416.1,302.8L416.9,304.0L418.2,304.3L417.3,305.3L417.4,306.7L416.1,306.2L414.9,306.7L415.0,305.3L414.1,304.3L415.4,304.0zM417.3,300.8L418.0,302.0L419.3,302.3L418.4,303.3L418.5,304.7L417.3,304.2L416.0,304.7L416.1,303.3L415.2,302.3L416.5,302.0zM419.2,286.2L419.9,287.4L421.3,287.7L420.3,288.7L420.5,290.1L419.2,289.6L417.9,290.1L418.0,288.7L417.1,287.7L418.5,287.4zM420.4,303.6L421.1,304.8L422.5,305.1L421.6,306.2L421.7,307.6L420.4,307.0L419.1,307.6L419.3,306.2L418.3,305.1L419.7,304.8zM420.8,321.7L421.5,322.9L422.9,323.2L421.9,324.3L422.1,325.7L420.8,325.1L419.5,325.7L419.6,324.3L418.7,323.2L420.1,322.9zM422.7,310.9L423.4,312.1L424.8,312.4L423.8,313.4L424.0,314.8L422.7,314.3L421.4,314.8L421.5,313.4L420.6,312.4L422.0,312.1zM424.5,312.5L425.2,313.7L426.6,314.0L425.6,315.1L425.8,316.5L424.5,315.9L423.2,316.5L423.3,315.1L422.4,314.0L423.8,313.7zM426.7,321.6L427.5,322.9L428.8,323.2L427.9,324.2L428.0,325.6L426.7,325.1L425.4,325.6L425.6,324.2L424.6,323.2L426.0,322.9zM428.0,319.5L428.7,320.7L430.1,321.0L429.1,322.1L429.3,323.5L428.0,322.9L426.7,323.5L426.8,322.1L425.9,321.0L427.3,320.7zM431.2,314.9L432.0,316.1L433.3,316.4L432.4,317.5L432.5,318.9L431.2,318.3L430.0,318.9L430.1,317.5L429.2,316.4L430.5,316.1zM431.6,328.6L432.3,329.8L433.7,330.1L432.8,331.2L432.9,332.6L431.6,332.0L430.3,332.6L430.5,331.2L429.5,330.1L430.9,329.8zM434.3,311.7L435.1,312.9L436.4,313.2L435.5,314.2L435.6,315.7L434.3,315.1L433.1,315.7L433.2,314.2L432.3,313.2L433.6,312.9zM436.3,303.4L437.0,304.6L438.3,304.9L437.4,306.0L437.5,307.4L436.3,306.8L435.0,307.4L435.1,306.0L434.2,304.9L435.5,304.6zM438.1,326.3L438.8,327.5L440.1,327.8L439.2,328.8L439.3,330.2L438.1,329.7L436.8,330.2L436.9,328.8L436.0,327.8L437.3,327.5zM438.6,306.2L439.3,307.5L440.7,307.8L439.8,308.8L439.9,310.2L438.6,309.7L437.3,310.2L437.5,308.8L436.5,307.8L437.9,307.5zM440.4,312.2L441.2,313.4L442.5,313.7L441.6,314.8L441.7,316.2L440.4,315.6L439.2,316.2L439.3,314.8L438.4,313.7L439.7,313.4zM443.6,317.5L444.3,318.7L445.6,319.0L444.7,320.1L444.8,321.5L443.6,320.9L442.3,321.5L442.4,320.1L441.5,319.0L442.8,318.7zM444.7,329.8L445.4,331.0L446.8,331.3L445.8,332.3L446.0,333.8L444.7,333.2L443.4,333.8L443.5,332.3L442.6,331.3L444.0,331.0zM446.3,329.7L447.0,330.9L448.4,331.2L447.4,332.2L447.6,333.6L446.3,333.1L445.0,333.6L445.1,332.2L444.2,331.2L445.6,330.9zM447.7,314.9L448.5,316.2L449.8,316.5L448.9,317.5L449.0,318.9L447.7,318.3L446.4,318.9L446.6,317.5L445.6,316.5L447.0,316.2zM455.8,319.4L456.5,320.6L457.9,320.9L457.0,322.0L457.1,323.4L455.8,322.8L454.5,323.4L454.7,322.0L453.7,320.9L455.1,320.6zM458.2,305.9L458.9,307.1L460.3,307.4L459.3,308.4L459.5,309.8L458.2,309.3L456.9,309.8L457.0,308.4L456.1,307.4L457.5,307.1zM460.4,320.4L461.1,321.7L462.5,322.0L461.6,323.0L461.7,324.4L460.4,323.8L459.1,324.4L459.3,323.0L458.3,322.0L459.7,321.7zM465.9,295.8L466.6,297.0L468.0,297.3L467.1,298.3L467.2,299.7L465.9,299.2L464.6,299.7L464.8,298.3L463.8,297.3L465.2,297.0zM466.4,311.7L467.1,313.0L468.5,313.3L467.6,314.3L467.7,315.7L466.4,315.1L465.1,315.7L465.3,314.3L464.3,313.3L465.7,313.0zM468.8,316.2L469.5,317.4L470.9,317.7L469.9,318.7L470.1,320.1L468.8,319.6L467.5,320.1L467.6,318.7L466.7,317.7L468.1,317.4zM471.4,331.1L472.1,332.3L473.5,332.6L472.5,333.7L472.7,335.1L471.4,334.5L470.1,335.1L470.2,333.7L469.3,332.6L470.7,332.3zM472.7,320.4L473.4,321.6L474.8,321.9L473.9,323.0L474.0,324.4L472.7,323.8L471.4,324.4L471.6,323.0L470.6,321.9L472.0,321.6zM477.1,313.6L477.8,314.8L479.2,315.1L478.3,316.1L478.4,317.5L477.1,317.0L475.8,317.5L476.0,316.1L475.0,315.1L476.4,314.8zM478.9,316.2L479.6,317.4L481.0,317.7L480.1,318.8L480.2,320.2L478.9,319.6L477.6,320.2L477.8,318.8L476.8,317.7L478.2,317.4zM480.8,309.2L481.5,310.4L482.9,310.7L481.9,311.8L482.1,313.2L480.8,312.6L479.5,313.2L479.6,311.8L478.7,310.7L480.1,310.4zM489.0,293.5L489.8,294.7L491.1,295.0L490.2,296.0L490.3,297.4L489.0,296.9L487.8,297.4L487.9,296.0L487.0,295.0L488.3,294.7zM481.8,309.9L482.5,311.2L483.9,311.5L482.9,312.5L483.1,313.9L481.8,313.4L480.5,313.9L480.6,312.5L479.7,311.5L481.1,311.2zM482.6,318.0L483.3,319.2L484.7,319.5L483.8,320.6L483.9,322.0L482.6,321.4L481.3,322.0L481.5,320.6L480.5,319.5L481.9,319.2zM485.0,304.5L485.7,305.7L487.1,306.0L486.1,307.0L486.3,308.4L485.0,307.9L483.7,308.4L483.8,307.0L482.9,306.0L484.3,305.7zM486.3,305.1L487.0,306.3L488.4,306.6L487.5,307.6L487.6,309.0L486.3,308.5L485.0,309.0L485.2,307.6L484.2,306.6L485.6,306.3zM487.4,315.1L488.1,316.3L489.5,316.6L488.6,317.7L488.7,319.1L487.4,318.5L486.1,319.1L486.3,317.7L485.3,316.6L486.7,316.3zM489.5,308.4L490.2,309.6L491.6,309.9L490.6,311.0L490.8,312.4L489.5,311.8L488.2,312.4L488.3,311.0L487.4,309.9L488.8,309.6zM489.8,311.3L490.5,312.6L491.9,312.9L491.0,313.9L491.1,315.3L489.8,314.8L488.5,315.3L488.7,313.9L487.7,312.9L489.1,312.6zM494.5,323.1L495.2,324.3L496.6,324.6L495.7,325.7L495.8,327.1L494.5,326.5L493.2,327.1L493.4,325.7L492.4,324.6L493.8,324.3zM496.4,316.3L497.2,317.6L498.5,317.9L497.6,318.9L497.7,320.3L496.4,319.8L495.2,320.3L495.3,318.9L494.4,317.9L495.7,317.6zM497.3,319.1L498.0,320.3L499.4,320.6L498.5,321.7L498.6,323.1L497.3,322.5L496.0,323.1L496.1,321.7L495.2,320.6L496.6,320.3zM500.9,318.4L501.6,319.6L503.0,319.9L502.1,321.0L502.2,322.4L500.9,321.8L499.6,322.4L499.8,321.0L498.8,319.9L500.2,319.6zM503.2,323.5L503.9,324.8L505.3,325.1L504.4,326.1L504.5,327.5L503.2,326.9L501.9,327.5L502.1,326.1L501.1,325.1L502.5,324.8zM505.3,320.9L506.0,322.1L507.4,322.4L506.5,323.5L506.6,324.9L505.3,324.3L504.0,324.9L504.2,323.5L503.2,322.4L504.6,322.1zM507.9,307.2L508.7,308.4L510.0,308.7L509.1,309.8L509.2,311.2L507.9,310.6L506.6,311.2L506.8,309.8L505.8,308.7L507.2,308.4zM508.8,317.7L509.5,318.9L510.9,319.2L509.9,320.3L510.1,321.7L508.8,321.1L507.5,321.7L507.6,320.3L506.7,319.2L508.1,318.9zM510.0,319.9L510.8,321.1L512.1,321.4L511.2,322.4L511.3,323.8L510.0,323.3L508.8,323.8L508.9,322.4L508.0,321.4L509.3,321.1zM512.1,309.4L512.9,310.6L514.2,310.9L513.3,312.0L513.4,313.4L512.1,312.8L510.8,313.4L511.0,312.0L510.0,310.9L511.4,310.6zM514.9,303.1L515.6,304.3L517.0,304.6L516.0,305.6L516.2,307.0L514.9,306.5L513.6,307.0L513.7,305.6L512.8,304.6L514.2,304.3zM517.2,324.4L517.9,325.6L519.3,325.9L518.3,326.9L518.5,328.4L517.2,327.8L515.9,328.4L516.0,326.9L515.1,325.9L516.5,325.6zM519.1,305.3L519.8,306.5L521.2,306.8L520.2,307.9L520.4,309.3L519.1,308.7L517.8,309.3L517.9,307.9L517.0,306.8L518.4,306.5zM520.5,311.1L521.2,312.3L522.6,312.6L521.7,313.6L521.8,315.1L520.5,314.5L519.2,315.1L519.4,313.6L518.4,312.6L519.8,312.3zM524.2,319.7L524.9,320.9L526.3,321.2L525.4,322.3L525.5,323.7L524.2,323.1L522.9,323.7L523.1,322.3L522.1,321.2L523.5,320.9zM525.4,308.0L526.1,309.2L527.5,309.5L526.6,310.6L526.7,312.0L525.4,311.4L524.1,312.0L524.3,310.6L523.3,309.5L524.7,309.2zM526.8,304.9L527.5,306.1L528.9,306.4L528.0,307.5L528.1,308.9L526.8,308.3L525.5,308.9L525.7,307.5L524.7,306.4L526.1,306.1zM528.8,316.0L529.5,317.2L530.8,317.5L529.9,318.6L530.0,320.0L528.8,319.4L527.5,320.0L527.6,318.6L526.7,317.5L528.0,317.2zM530.0,315.0L530.7,316.2L532.0,316.5L531.1,317.5L531.3,318.9L530.0,318.4L528.7,318.9L528.8,317.5L527.9,316.5L529.2,316.2zM532.5,320.9L533.2,322.1L534.6,322.4L533.6,323.4L533.8,324.8L532.5,324.3L531.2,324.8L531.3,323.4L530.4,322.4L531.8,322.1zM534.6,317.1L535.3,318.4L536.7,318.6L535.7,319.7L535.9,321.1L534.6,320.5L533.3,321.1L533.4,319.7L532.5,318.6L533.9,318.4zM539.6,321.4L540.3,322.6L541.7,322.9L540.7,324.0L540.9,325.4L539.6,324.8L538.3,325.4L538.4,324.0L537.5,322.9L538.9,322.6zM540.7,312.6L541.4,313.8L542.8,314.1L541.8,315.2L542.0,316.6L540.7,316.0L539.4,316.6L539.5,315.2L538.6,314.1L540.0,313.8zM542.9,324.1L543.7,325.3L545.0,325.6L544.1,326.7L544.2,328.1L542.9,327.5L541.7,328.1L541.8,326.7L540.9,325.6L542.2,325.3zM543.7,312.3L544.4,313.5L545.8,313.8L544.8,314.8L545.0,316.3L543.7,315.7L542.4,316.3L542.5,314.8L541.6,313.8L543.0,313.5zM548.6,303.4L549.3,304.6L550.7,304.9L549.8,305.9L549.9,307.3L548.6,306.8L547.3,307.3L547.5,305.9L546.5,304.9L547.9,304.6zM550.0,293.7L550.7,294.9L552.1,295.2L551.2,296.2L551.3,297.6L550.0,297.1L548.7,297.6L548.8,296.2L547.9,295.2L549.3,294.9zM553.4,325.5L554.1,326.7L555.5,327.0L554.6,328.1L554.7,329.5L553.4,328.9L552.1,329.5L552.3,328.1L551.3,327.0L552.7,326.7zM554.6,321.7L555.3,322.9L556.7,323.2L555.7,324.2L555.9,325.6L554.6,325.1L553.3,325.6L553.4,324.2L552.5,323.2L553.9,322.9zM556.7,319.1L557.4,320.4L558.8,320.7L557.8,321.7L558.0,323.1L556.7,322.5L555.4,323.1L555.5,321.7L554.6,320.7L556.0,320.4zM557.8,317.3L558.5,318.5L559.8,318.8L558.9,319.8L559.0,321.2L557.8,320.7L556.5,321.2L556.6,319.8L555.7,318.8L557.0,318.5zM560.6,312.4L561.3,313.7L562.7,314.0L561.8,315.0L561.9,316.4L560.6,315.9L559.3,316.4L559.5,315.0L558.5,314.0L559.9,313.7zM561.3,323.1L562.0,324.4L563.4,324.7L562.4,325.7L562.6,327.1L561.3,326.6L560.0,327.1L560.1,325.7L559.2,324.7L560.6,324.4zM565.0,310.2L565.7,311.4L567.1,311.7L566.2,312.8L566.3,314.2L565.0,313.6L563.7,314.2L563.9,312.8L562.9,311.7L564.3,311.4zM567.2,299.6L567.9,300.8L569.3,301.1L568.3,302.2L568.5,303.6L567.2,303.0L565.9,303.6L566.0,302.2L565.1,301.1L566.4,300.8zM569.1,303.2L569.8,304.4L571.2,304.7L570.3,305.7L570.4,307.1L569.1,306.6L567.8,307.1L568.0,305.7L567.0,304.7L568.4,304.4zM573.5,319.3L574.2,320.6L575.6,320.9L574.7,321.9L574.8,323.3L573.5,322.8L572.2,323.3L572.4,321.9L571.4,320.9L572.8,320.6zM574.9,312.6L575.6,313.8L576.9,314.1L576.0,315.2L576.1,316.6L574.9,316.0L573.6,316.6L573.7,315.2L572.8,314.1L574.1,313.8zM579.0,300.5L579.7,301.7L581.1,302.0L580.1,303.0L580.3,304.4L579.0,303.9L577.7,304.4L577.8,303.0L576.9,302.0L578.3,301.7zM579.7,304.0L580.4,305.2L581.8,305.5L580.9,306.6L581.0,308.0L579.7,307.4L578.4,308.0L578.6,306.6L577.6,305.5L579.0,305.2zM581.9,314.6L582.6,315.8L584.0,316.1L583.1,317.1L583.2,318.6L581.9,318.0L580.6,318.6L580.8,317.1L579.8,316.1L581.2,315.8zM583.5,311.8L584.3,313.0L585.6,313.3L584.7,314.3L584.8,315.8L583.5,315.2L582.3,315.8L582.4,314.3L581.5,313.3L582.8,313.0zM585.4,309.9L586.1,311.1L587.5,311.4L586.6,312.5L586.7,313.9L585.4,313.3L584.1,313.9L584.3,312.5L583.3,311.4L584.7,311.1zM584.7,314.0L585.4,315.3L586.8,315.6L585.9,316.6L586.0,318.0L584.7,317.4L583.4,318.0L583.6,316.6L582.6,315.6L584.0,315.3zM587.7,322.6L588.4,323.9L589.8,324.2L588.9,325.2L589.0,326.6L587.7,326.1L586.4,326.6L586.5,325.2L585.6,324.2L587.0,323.9zM590.2,309.7L590.9,311.0L592.3,311.3L591.4,312.3L591.5,313.7L590.2,313.2L588.9,313.7L589.1,312.3L588.1,311.3L589.5,311.0zM595.3,310.1L596.0,311.3L597.4,311.6L596.4,312.7L596.6,314.1L595.3,313.5L594.0,314.1L594.1,312.7L593.2,311.6L594.6,311.3zM595.8,314.0L596.5,315.3L597.9,315.6L597.0,316.6L597.1,318.0L595.8,317.4L594.5,318.0L594.7,316.6L593.7,315.6L595.1,315.3zM597.6,315.7L598.3,316.9L599.7,317.2L598.7,318.2L598.9,319.6L597.6,319.1L596.3,319.6L596.4,318.2L595.5,317.2L596.9,316.9zM599.7,318.9L600.4,320.1L601.8,320.4L600.8,321.5L601.0,322.9L599.7,322.3L598.4,322.9L598.5,321.5L597.6,320.4L599.0,320.1zM601.0,324.4L601.7,325.6L603.1,325.9L602.1,326.9L602.3,328.3L601.0,327.8L599.7,328.3L599.8,326.9L598.9,325.9L600.3,325.6zM602.7,326.7L603.4,327.9L604.8,328.2L603.8,329.3L604.0,330.7L602.7,330.1L601.4,330.7L601.5,329.3L600.6,328.2L602.0,327.9zM603.4,312.9L604.1,314.1L605.5,314.4L604.6,315.4L604.7,316.8L603.4,316.3L602.1,316.8L602.3,315.4L601.3,314.4L602.7,314.1zM605.6,322.5L606.3,323.7L607.7,324.0L606.8,325.1L606.9,326.5L605.6,325.9L604.3,326.5L604.5,325.1L603.5,324.0L604.9,323.7zM606.8,333.4L607.5,334.6L608.9,334.9L607.9,335.9L608.1,337.3L606.8,336.8L605.5,337.3L605.6,335.9L604.7,334.9L606.1,334.6zM609.3,330.1L610.1,331.3L611.4,331.6L610.5,332.6L610.6,334.0L609.3,333.5L608.0,334.0L608.2,332.6L607.2,331.6L608.6,331.3zM610.1,312.1L610.8,313.3L612.2,313.6L611.2,314.6L611.4,316.0L610.1,315.5L608.8,316.0L608.9,314.6L608.0,313.6L609.4,313.3zM611.4,322.0L612.2,323.2L613.5,323.5L612.6,324.6L612.7,326.0L611.4,325.4L610.1,326.0L610.3,324.6L609.3,323.5L610.7,323.2zM612.4,322.6L613.1,323.8L614.5,324.1L613.5,325.2L613.7,326.6L612.4,326.0L611.1,326.6L611.2,325.2L610.3,324.1L611.7,323.8zM616.8,325.2L617.5,326.4L618.9,326.7L618.0,327.8L618.1,329.2L616.8,328.6L615.5,329.2L615.7,327.8L614.7,326.7L616.1,326.4zM618.1,314.7L618.8,315.9L620.2,316.2L619.2,317.3L619.4,318.7L618.1,318.1L616.8,318.7L616.9,317.3L616.0,316.2L617.4,315.9zM619.4,317.4L620.1,318.6L621.5,318.9L620.6,320.0L620.7,321.4L619.4,320.8L618.1,321.4L618.3,320.0L617.3,318.9L618.7,318.6zM620.8,330.1L621.5,331.3L622.9,331.6L622.0,332.6L622.1,334.0L620.8,333.5L619.5,334.0L619.7,332.6L618.7,331.6L620.1,331.3zM622.6,298.7L623.3,299.9L624.7,300.2L623.8,301.2L623.9,302.7L622.6,302.1L621.3,302.7L621.5,301.2L620.5,300.2L621.9,299.9zM623.4,330.1L624.1,331.3L625.5,331.6L624.5,332.6L624.7,334.0L623.4,333.5L622.1,334.0L622.2,332.6L621.3,331.6L622.7,331.3zM627.7,303.4L628.4,304.6L629.8,304.9L628.9,306.0L629.0,307.4L627.7,306.8L626.4,307.4L626.5,306.0L625.6,304.9L627.0,304.6zM629.0,307.8L629.7,309.0L631.1,309.3L630.1,310.4L630.3,311.8L629.0,311.2L627.7,311.8L627.8,310.4L626.9,309.3L628.3,309.0zM630.8,302.4L631.5,303.6L632.9,303.9L632.0,305.0L632.1,306.4L630.8,305.8L629.5,306.4L629.7,305.0L628.7,303.9L630.1,303.6zM634.1,318.0L634.8,319.3L636.2,319.6L635.3,320.6L635.4,322.0L634.1,321.5L632.8,322.0L633.0,320.6L632.0,319.6L633.4,319.3zM635.2,311.8L635.9,313.0L637.3,313.3L636.3,314.3L636.5,315.7L635.2,315.2L633.9,315.7L634.0,314.3L633.1,313.3L634.5,313.0zM637.1,326.2L637.9,327.5L639.2,327.8L638.3,328.8L638.4,330.2L637.1,329.7L635.9,330.2L636.0,328.8L635.1,327.8L636.4,327.5zM638.4,333.6L639.1,334.8L640.5,335.1L639.5,336.2L639.7,337.6L638.4,337.0L637.1,337.6L637.2,336.2L636.3,335.1L637.7,334.8zM640.5,324.2L641.2,325.4L642.6,325.7L641.6,326.8L641.8,328.2L640.5,327.6L639.2,328.2L639.3,326.8L638.4,325.7L639.8,325.4zM644.3,317.1L645.0,318.3L646.4,318.6L645.5,319.7L645.6,321.1L644.3,320.5L643.0,321.1L643.2,319.7L642.2,318.6L643.6,318.3zM649.9,312.0L650.6,313.2L651.9,313.5L651.0,314.6L651.1,316.0L649.9,315.4L648.6,316.0L648.7,314.6L647.8,313.5L649.1,313.2zM651.7,310.9L652.4,312.1L653.8,312.4L652.8,313.4L653.0,314.8L651.7,314.3L650.4,314.8L650.5,313.4L649.6,312.4L651.0,312.1zM653.9,328.2L654.6,329.4L656.0,329.7L655.0,330.7L655.2,332.1L653.9,331.6L652.6,332.1L652.7,330.7L651.8,329.7L653.2,329.4zM654.6,323.1L655.3,324.3L656.7,324.6L655.8,325.7L655.9,327.1L654.6,326.5L653.3,327.1L653.5,325.7L652.5,324.6L653.9,324.3zM657.2,318.0L657.9,319.2L659.3,319.5L658.4,320.5L658.5,321.9L657.2,321.4L655.9,321.9L656.1,320.5L655.1,319.5L656.5,319.2zM659.8,307.2L660.5,308.4L661.9,308.7L660.9,309.8L661.1,311.2L659.8,310.6L658.5,311.2L658.6,309.8L657.7,308.7L659.1,308.4zM660.5,319.4L661.2,320.6L662.6,320.9L661.6,321.9L661.8,323.3L660.5,322.8L659.2,323.3L659.3,321.9L658.4,320.9L659.8,320.6zM662.3,308.6L663.0,309.8L664.4,310.1L663.5,311.1L663.6,312.5L662.3,312.0L661.0,312.5L661.2,311.1L660.2,310.1L661.6,309.8zM665.8,301.6L666.5,302.9L667.9,303.2L666.9,304.2L667.1,305.6L665.8,305.0L664.5,305.6L664.6,304.2L663.7,303.2L665.1,302.9zM671.1,298.9L671.8,300.2L673.2,300.5L672.2,301.5L672.4,302.9L671.1,302.3L669.8,302.9L669.9,301.5L669.0,300.5L670.4,300.2zM673.9,311.5L674.6,312.7L676.0,313.0L675.0,314.0L675.2,315.5L673.9,314.9L672.6,315.5L672.7,314.0L671.8,313.0L673.2,312.7zM675.1,323.7L675.8,324.9L677.2,325.2L676.3,326.3L676.4,327.7L675.1,327.1L673.8,327.7L674.0,326.3L673.0,325.2L674.4,324.9zM676.5,307.8L677.2,309.0L678.6,309.3L677.7,310.4L677.8,311.8L676.5,311.2L675.2,311.8L675.4,310.4L674.4,309.3L675.8,309.0zM677.5,310.7L678.2,311.9L679.6,312.2L678.6,313.3L678.8,314.7L677.5,314.1L676.2,314.7L676.3,313.3L675.4,312.2L676.8,311.9zM679.2,318.2L679.9,319.4L681.2,319.7L680.3,320.7L680.4,322.1L679.2,321.6L677.9,322.1L678.0,320.7L677.1,319.7L678.4,319.4zM681.4,313.1L682.1,314.4L683.5,314.7L682.6,315.7L682.7,317.1L681.4,316.6L680.1,317.1L680.3,315.7L679.3,314.7L680.7,314.4zM682.4,315.0L683.1,316.3L684.4,316.6L683.5,317.6L683.6,319.0L682.4,318.5L681.1,319.0L681.2,317.6L680.3,316.6L681.6,316.3zM683.8,323.8L684.6,325.1L685.9,325.4L685.0,326.4L685.1,327.8L683.8,327.2L682.6,327.8L682.7,326.4L681.8,325.4L683.1,325.1z" fill="rgb(55,55,55)"/>
<path d="M389.5,313.1a1.95,1.95 0 1,0 3.90,0a1.95,1.95 0 1,0 -3.90,0zM385.8,315.1a1.95,1.95 0 1,0 3.90,0a1.95,1.95 0 1,0 -3.90,0zM400.2,308.4a1.95,1.95 0 1,0 3.90,0a1.95,1.95 0 1,0 -3.90,0zM392.9,317.1a1.95,1.95 0 1,0 3.90,0a1.95,1.95 0 1,0 -3.90,0zM461.6,318.4a1.95,1.95 0 1,0 3.90,0a1.95,1.95 0 1,0 -3.90,0zM477.7,316.8a1.95,1.95 0 1,0 3.90,0a1.95,1.95 0 1,0 -3.90,0zM470.0,317.1a1.95,1.95 0 1,0 3.90,0a1.95,1.95 0 1,0 -3.90,0zM464.7,315.2a1.95,1.95 0 1,0 3.90,0a1.95,1.95 0 1,0 -3.90,0zM501.9,313.9a1.95,1.95 0 1,0 3.90,0a1.95,1.95 0 1,0 -3.90,0zM499.0,320.1a1.95,1.95 0 1,0 3.90,0a1.95,1.95 0 1,0 -3.90,0zM500.8,316.3a1.95,1.95 0 1,0 3.90,0a1.95,1.95 0 1,0 -3.90,0zM509.3,313.1a1.95,1.95 0 1,0 3.90,0a1.95,1.95 0 1,0 -3.90,0zM524.8,309.8a1.95,1.95 0 1,0 3.90,0a1.95,1.95 0 1,0 -3.90,0zM531.8,303.9a1.95,1.95 0 1,0 3.90,0a1.95,1.95 0 1,0 -3.90,0zM528.4,322.3a1.95,1.95 0 1,0 3.90,0a1.95,1.95 0 1,0 -3.90,0zM561.1,309.0a1.95,1.95 0 1,0 3.90,0a1.95,1.95 0 1,0 -3.90,0zM563.2,319.2a1.95,1.95 0 1,0 3.90,0a1.95,1.95 0 1,0 -3.90,0zM574.0,322.7a1.95,1.95 0 1,0 3.90,0a1.95,1.95 0 1,0 -3.90,0zM576.7,315.5a1.95,1.95 0 1,0 3.90,0a1.95,1.95 0 1,0 -3.90,0zM605.2,325.3a1.95,1.95 0 1,0 3.90,0a1.95,1.95 0 1,0 -3.90,0zM609.2,310.8a1.95,1.95 0 1,0 3.90,0a1.95,1.95 0 1,0 -3.90,0zM628.3,324.4a1.95,1.95 0 1,0 3.90,0a1.95,1.95 0 1,0 -3.90,0zM647.5,312.0a1.95,1.95 0 1,0 3.90,0a1.95,1.95 0 1,0 -3.90,0zM661.1,319.3a1.95,1.95 0 1,0 3.90,0a1.95,1.95 0 1,0 -3.90,0zM668.2,326.3a1.95,1.95 0 1,0 3.90,0a1.95,1.95 0 1,0 -3.90,0zM678.1,322.8a1.95,1.95 0 1,0 3.90,0a1.95,1.95 0 1,0 -3.90,0zM682.1,316.9a1.95,1.95 0 1,0 3.90,0a1.95,1.95 0 1,0 -3.90,0zM386.6,291.0a1.95,1.95 0 1,0 3.90,0a1.95,1.95 0 1,0 -3.90,0zM378.8,311.0a1.95,1.95 0 1,0 3.90,0a1.95,1.95 0 1,0 -3.90,0zM380.3,317.3a1.95,1.95 0 1,0 3.90,0a1.95,1.95 0 1,0 -3.90,0zM381.4,325.7a1.95,1.95 0 1,0 3.90,0a1.95,1.95 0 1,0 -3.90,0zM383.5,306.8a1.95,1.95 0 1,0 3.90,0a1.95,1.95 0 1,0 -3.90,0zM385.1,313.1a1.95,1.95 0 1,0 3.90,0a1.95,1.95 0 1,0 -3.90,0zM387.2,318.3a1.95,1.95 0 1,0 3.90,0a1.95,1.95 0 1,0 -3.90,0zM388.7,309.9a1.95,1.95 0 1,0 3.90,0a1.95,1.95 0 1,0 -3.90,0zM389.8,302.6a1.95,1.95 0 1,0 3.90,0a1.95,1.95 0 1,0 -3.90,0zM391.4,312.0a1.95,1.95 0 1,0 3.90,0a1.95,1.95 0 1,0 -3.90,0zM392.9,308.9a1.95,1.95 0 1,0 3.90,0a1.95,1.95 0 1,0 -3.90,0zM394.4,317.3a1.95,1.95 0 1,0 3.90,0a1.95,1.95 0 1,0 -3.90,0zM395.6,319.4a1.95,1.95 0 1,0 3.90,0a1.95,1.95 0 1,0 -3.90,0zM397.1,321.5a1.95,1.95 0 1,0 3.90,0a1.95,1.95 0 1,0 -3.90,0zM398.2,316.2a1.95,1.95 0 1,0 3.90,0a1.95,1.95 0 1,0 -3.90,0zM399.8,319.4a1.95,1.95 0 1,0 3.90,0a1.95,1.95 0 1,0 -3.90,0zM401.3,325.7a1.95,1.95 0 1,0 3.90,0a1.95,1.95 0 1,0 -3.90,0zM403.4,327.8a1.95,1.95 0 1,0 3.90,0a1.95,1.95 0 1,0 -3.90,0zM404.9,329.9a1.95,1.95 0 1,0 3.90,0a1.95,1.95 0 1,0 -3.90,0zM406.6,327.8a1.95,1.95 0 1,0 3.90,0a1.95,1.95 0 1,0 -3.90,0zM408.2,300.5a1.95,1.95 0 1,0 3.90,0a1.95,1.95 0 1,0 -3.90,0zM409.7,320.4a1.95,1.95 0 1,0 3.90,0a1.95,1.95 0 1,0 -3.90,0zM410.8,296.3a1.95,1.95 0 1,0 3.90,0a1.95,1.95 0 1,0 -3.90,0zM412.9,298.4a1.95,1.95 0 1,0 3.90,0a1.95,1.95 0 1,0 -3.90,0zM413.9,305.7a1.95,1.95 0 1,0 3.90,0a1.95,1.95 0 1,0 -3.90,0zM415.4,303.6a1.95,1.95 0 1,0 3.90,0a1.95,1.95 0 1,0 -3.90,0zM416.6,288.9a1.95,1.95 0 1,0 3.90,0a1.95,1.95 0 1,0 -3.90,0zM418.1,306.8a1.95,1.95 0 1,0 3.90,0a1.95,1.95 0 1,0 -3.90,0zM419.6,307.8a1.95,1.95 0 1,0 3.90,0a1.95,1.95 0 1,0 -3.90,0zM419.2,323.6a1.95,1.95 0 1,0 3.90,0a1.95,1.95 0 1,0 -3.90,0zM421.3,313.1a1.95,1.95 0 1,0 3.90,0a1.95,1.95 0 1,0 -3.90,0zM422.9,315.2a1.95,1.95 0 1,0 3.90,0a1.95,1.95 0 1,0 -3.90,0zM424.4,324.6a1.95,1.95 0 1,0 3.90,0a1.95,1.95 0 1,0 -3.90,0zM425.5,321.5a1.95,1.95 0 1,0 3.90,0a1.95,1.95 0 1,0 -3.90,0zM427.2,320.4a1.95,1.95 0 1,0 3.90,0a1.95,1.95 0 1,0 -3.90,0zM428.6,317.3a1.95,1.95 0 1,0 3.90,0a1.95,1.95 0 1,0 -3.90,0zM429.3,329.9a1.95,1.95 0 1,0 3.90,0a1.95,1.95 0 1,0 -3.90,0zM430.7,323.6a1.95,1.95 0 1,0 3.90,0a1.95,1.95 0 1,0 -3.90,0zM432.8,313.1a1.95,1.95 0 1,0 3.90,0a1.95,1.95 0 1,0 -3.90,0zM433.9,306.8a1.95,1.95 0 1,0 3.90,0a1.95,1.95 0 1,0 -3.90,0zM435.6,327.8a1.95,1.95 0 1,0 3.90,0a1.95,1.95 0 1,0 -3.90,0zM436.4,307.8a1.95,1.95 0 1,0 3.90,0a1.95,1.95 0 1,0 -3.90,0zM438.1,315.2a1.95,1.95 0 1,0 3.90,0a1.95,1.95 0 1,0 -3.90,0zM439.1,308.9a1.95,1.95 0 1,0 3.90,0a1.95,1.95 0 1,0 -3.90,0zM441.2,307.8a1.95,1.95 0 1,0 3.90,0a1.95,1.95 0 1,0 -3.90,0zM441.9,319.4a1.95,1.95 0 1,0 3.90,0a1.95,1.95 0 1,0 -3.90,0zM443.3,333.0a1.95,1.95 0 1,0 3.90,0a1.95,1.95 0 1,0 -3.90,0zM444.4,333.0a1.95,1.95 0 1,0 3.90,0a1.95,1.95 0 1,0 -3.90,0zM446.5,317.3a1.95,1.95 0 1,0 3.90,0a1.95,1.95 0 1,0 -3.90,0zM447.5,324.6a1.95,1.95 0 1,0 3.90,0a1.95,1.95 0 1,0 -3.90,0zM448.6,305.7a1.95,1.95 0 1,0 3.90,0a1.95,1.95 0 1,0 -3.90,0zM450.3,314.1a1.95,1.95 0 1,0 3.90,0a1.95,1.95 0 1,0 -3.90,0zM451.7,321.5a1.95,1.95 0 1,0 3.90,0a1.95,1.95 0 1,0 -3.90,0zM453.2,320.4a1.95,1.95 0 1,0 3.90,0a1.95,1.95 0 1,0 -3.90,0zM454.9,319.4a1.95,1.95 0 1,0 3.90,0a1.95,1.95 0 1,0 -3.90,0zM455.9,307.8a1.95,1.95 0 1,0 3.90,0a1.95,1.95 0 1,0 -3.90,0zM457.4,311.0a1.95,1.95 0 1,0 3.90,0a1.95,1.95 0 1,0 -3.90,0zM459.1,323.6a1.95,1.95 0 1,0 3.90,0a1.95,1.95 0 1,0 -3.90,0zM460.8,318.3a1.95,1.95 0 1,0 3.90,0a1.95,1.95 0 1,0 -3.90,0zM462.2,307.8a1.95,1.95 0 1,0 3.90,0a1.95,1.95 0 1,0 -3.90,0zM463.3,297.3a1.95,1.95 0 1,0 3.90,0a1.95,1.95 0 1,0 -3.90,0zM465.0,313.1a1.95,1.95 0 1,0 3.90,0a1.95,1.95 0 1,0 -3.90,0zM466.4,312.0a1.95,1.95 0 1,0 3.90,0a1.95,1.95 0 1,0 -3.90,0zM467.5,319.4a1.95,1.95 0 1,0 3.90,0a1.95,1.95 0 1,0 -3.90,0zM469.6,333.0a1.95,1.95 0 1,0 3.90,0a1.95,1.95 0 1,0 -3.90,0zM471.3,321.5a1.95,1.95 0 1,0 3.90,0a1.95,1.95 0 1,0 -3.90,0zM473.4,300.5a1.95,1.95 0 1,0 3.90,0a1.95,1.95 0 1,0 -3.90,0zM475.5,315.2a1.95,1.95 0 1,0 3.90,0a1.95,1.95 0 1,0 -3.90,0zM477.6,319.4a1.95,1.95 0 1,0 3.90,0a1.95,1.95 0 1,0 -3.90,0zM479.0,311.0a1.95,1.95 0 1,0 3.90,0a1.95,1.95 0 1,0 -3.90,0zM487.0,294.8a1.95,1.95 0 1,0 3.90,0a1.95,1.95 0 1,0 -3.90,0zM480.1,311.0a1.95,1.95 0 1,0 3.90,0a1.95,1.95 0 1,0 -3.90,0zM481.2,319.4a1.95,1.95 0 1,0 3.90,0a1.95,1.95 0 1,0 -3.90,0zM482.8,307.8a1.95,1.95 0 1,0 3.90,0a1.95,1.95 0 1,0 -3.90,0zM484.3,306.8a1.95,1.95 0 1,0 3.90,0a1.95,1.95 0 1,0 -3.90,0zM485.4,318.3a1.95,1.95 0 1,0 3.90,0a1.95,1.95 0 1,0 -3.90,0zM487.0,311.0a1.95,1.95 0 1,0 3.90,0a1.95,1.95 0 1,0 -3.90,0zM488.5,313.1a1.95,1.95 0 1,0 3.90,0a1.95,1.95 0 1,0 -3.90,0zM490.6,305.7a1.95,1.95 0 1,0 3.90,0a1.95,1.95 0 1,0 -3.90,0zM492.7,325.7a1.95,1.95 0 1,0 3.90,0a1.95,1.95 0 1,0 -3.90,0zM494.2,318.3a1.95,1.95 0 1,0 3.90,0a1.95,1.95 0 1,0 -3.90,0zM495.9,320.4a1.95,1.95 0 1,0 3.90,0a1.95,1.95 0 1,0 -3.90,0zM498.4,321.5a1.95,1.95 0 1,0 3.90,0a1.95,1.95 0 1,0 -3.90,0zM500.1,323.6a1.95,1.95 0 1,0 3.90,0a1.95,1.95 0 1,0 -3.90,0zM501.7,326.7a1.95,1.95 0 1,0 3.90,0a1.95,1.95 0 1,0 -3.90,0zM503.8,323.6a1.95,1.95 0 1,0 3.90,0a1.95,1.95 0 1,0 -3.90,0zM505.3,309.9a1.95,1.95 0 1,0 3.90,0a1.95,1.95 0 1,0 -3.90,0zM506.4,320.4a1.95,1.95 0 1,0 3.90,0a1.95,1.95 0 1,0 -3.90,0zM508.5,321.5a1.95,1.95 0 1,0 3.90,0a1.95,1.95 0 1,0 -3.90,0zM510.1,311.0a1.95,1.95 0 1,0 3.90,0a1.95,1.95 0 1,0 -3.90,0zM511.6,312.0a1.95,1.95 0 1,0 3.90,0a1.95,1.95 0 1,0 -3.90,0zM512.7,305.7a1.95,1.95 0 1,0 3.90,0a1.95,1.95 0 1,0 -3.90,0zM514.3,320.4a1.95,1.95 0 1,0 3.90,0a1.95,1.95 0 1,0 -3.90,0zM515.8,326.7a1.95,1.95 0 1,0 3.90,0a1.95,1.95 0 1,0 -3.90,0zM517.3,307.8a1.95,1.95 0 1,0 3.90,0a1.95,1.95 0 1,0 -3.90,0zM519.0,313.1a1.95,1.95 0 1,0 3.90,0a1.95,1.95 0 1,0 -3.90,0zM520.0,328.8a1.95,1.95 0 1,0 3.90,0a1.95,1.95 0 1,0 -3.90,0zM522.1,321.5a1.95,1.95 0 1,0 3.90,0a1.95,1.95 0 1,0 -3.90,0zM523.6,309.9a1.95,1.95 0 1,0 3.90,0a1.95,1.95 0 1,0 -3.90,0zM524.8,307.8a1.95,1.95 0 1,0 3.90,0a1.95,1.95 0 1,0 -3.90,0zM526.9,317.3a1.95,1.95 0 1,0 3.90,0a1.95,1.95 0 1,0 -3.90,0zM528.4,318.3a1.95,1.95 0 1,0 3.90,0a1.95,1.95 0 1,0 -3.90,0zM529.9,322.5a1.95,1.95 0 1,0 3.90,0a1.95,1.95 0 1,0 -3.90,0zM531.2,325.7a1.95,1.95 0 1,0 3.90,0a1.95,1.95 0 1,0 -3.90,0zM533.3,320.4a1.95,1.95 0 1,0 3.90,0a1.95,1.95 0 1,0 -3.90,0zM534.7,326.7a1.95,1.95 0 1,0 3.90,0a1.95,1.95 0 1,0 -3.90,0zM537.5,322.5a1.95,1.95 0 1,0 3.90,0a1.95,1.95 0 1,0 -3.90,0zM538.9,314.1a1.95,1.95 0 1,0 3.90,0a1.95,1.95 0 1,0 -3.90,0zM540.4,325.7a1.95,1.95 0 1,0 3.90,0a1.95,1.95 0 1,0 -3.90,0zM542.1,314.1a1.95,1.95 0 1,0 3.90,0a1.95,1.95 0 1,0 -3.90,0zM543.1,319.4a1.95,1.95 0 1,0 3.90,0a1.95,1.95 0 1,0 -3.90,0zM544.6,314.1a1.95,1.95 0 1,0 3.90,0a1.95,1.95 0 1,0 -3.90,0zM545.9,298.4a1.95,1.95 0 1,0 3.90,0a1.95,1.95 0 1,0 -3.90,0zM546.7,304.7a1.95,1.95 0 1,0 3.90,0a1.95,1.95 0 1,0 -3.90,0zM548.4,296.3a1.95,1.95 0 1,0 3.90,0a1.95,1.95 0 1,0 -3.90,0zM550.1,308.9a1.95,1.95 0 1,0 3.90,0a1.95,1.95 0 1,0 -3.90,0zM551.5,328.8a1.95,1.95 0 1,0 3.90,0a1.95,1.95 0 1,0 -3.90,0zM553.0,323.6a1.95,1.95 0 1,0 3.90,0a1.95,1.95 0 1,0 -3.90,0zM554.7,321.5a1.95,1.95 0 1,0 3.90,0a1.95,1.95 0 1,0 -3.90,0zM556.4,318.3a1.95,1.95 0 1,0 3.90,0a1.95,1.95 0 1,0 -3.90,0zM558.5,314.1a1.95,1.95 0 1,0 3.90,0a1.95,1.95 0 1,0 -3.90,0zM559.9,325.7a1.95,1.95 0 1,0 3.90,0a1.95,1.95 0 1,0 -3.90,0zM561.0,328.8a1.95,1.95 0 1,0 3.90,0a1.95,1.95 0 1,0 -3.90,0zM562.7,313.1a1.95,1.95 0 1,0 3.90,0a1.95,1.95 0 1,0 -3.90,0zM564.1,315.2a1.95,1.95 0 1,0 3.90,0a1.95,1.95 0 1,0 -3.90,0zM565.2,302.6a1.95,1.95 0 1,0 3.90,0a1.95,1.95 0 1,0 -3.90,0zM566.9,304.7a1.95,1.95 0 1,0 3.90,0a1.95,1.95 0 1,0 -3.90,0zM568.3,314.1a1.95,1.95 0 1,0 3.90,0a1.95,1.95 0 1,0 -3.90,0zM569.8,319.4a1.95,1.95 0 1,0 3.90,0a1.95,1.95 0 1,0 -3.90,0zM571.5,322.5a1.95,1.95 0 1,0 3.90,0a1.95,1.95 0 1,0 -3.90,0zM573.6,315.2a1.95,1.95 0 1,0 3.90,0a1.95,1.95 0 1,0 -3.90,0zM575.3,324.6a1.95,1.95 0 1,0 3.90,0a1.95,1.95 0 1,0 -3.90,0zM576.7,303.6a1.95,1.95 0 1,0 3.90,0a1.95,1.95 0 1,0 -3.90,0zM578.2,305.7a1.95,1.95 0 1,0 3.90,0a1.95,1.95 0 1,0 -3.90,0zM579.5,317.3a1.95,1.95 0 1,0 3.90,0a1.95,1.95 0 1,0 -3.90,0zM581.6,314.1a1.95,1.95 0 1,0 3.90,0a1.95,1.95 0 1,0 -3.90,0zM583.0,311.0a1.95,1.95 0 1,0 3.90,0a1.95,1.95 0 1,0 -3.90,0zM583.3,315.2a1.95,1.95 0 1,0 3.90,0a1.95,1.95 0 1,0 -3.90,0zM584.9,321.5a1.95,1.95 0 1,0 3.90,0a1.95,1.95 0 1,0 -3.90,0zM586.4,325.7a1.95,1.95 0 1,0 3.90,0a1.95,1.95 0 1,0 -3.90,0zM587.9,313.1a1.95,1.95 0 1,0 3.90,0a1.95,1.95 0 1,0 -3.90,0zM589.6,308.9a1.95,1.95 0 1,0 3.90,0a1.95,1.95 0 1,0 -3.90,0zM591.2,322.5a1.95,1.95 0 1,0 3.90,0a1.95,1.95 0 1,0 -3.90,0zM592.7,312.0a1.95,1.95 0 1,0 3.90,0a1.95,1.95 0 1,0 -3.90,0zM594.2,315.2a1.95,1.95 0 1,0 3.90,0a1.95,1.95 0 1,0 -3.90,0zM595.9,318.3a1.95,1.95 0 1,0 3.90,0a1.95,1.95 0 1,0 -3.90,0zM597.5,321.5a1.95,1.95 0 1,0 3.90,0a1.95,1.95 0 1,0 -3.90,0zM599.0,325.7a1.95,1.95 0 1,0 3.90,0a1.95,1.95 0 1,0 -3.90,0zM600.5,327.8a1.95,1.95 0 1,0 3.90,0a1.95,1.95 0 1,0 -3.90,0zM602.2,314.1a1.95,1.95 0 1,0 3.90,0a1.95,1.95 0 1,0 -3.90,0zM603.8,323.6a1.95,1.95 0 1,0 3.90,0a1.95,1.95 0 1,0 -3.90,0zM605.3,335.1a1.95,1.95 0 1,0 3.90,0a1.95,1.95 0 1,0 -3.90,0zM606.8,332.0a1.95,1.95 0 1,0 3.90,0a1.95,1.95 0 1,0 -3.90,0zM608.5,314.1a1.95,1.95 0 1,0 3.90,0a1.95,1.95 0 1,0 -3.90,0zM609.5,323.6a1.95,1.95 0 1,0 3.90,0a1.95,1.95 0 1,0 -3.90,0zM611.0,325.7a1.95,1.95 0 1,0 3.90,0a1.95,1.95 0 1,0 -3.90,0zM612.7,326.7a1.95,1.95 0 1,0 3.90,0a1.95,1.95 0 1,0 -3.90,0zM614.3,326.7a1.95,1.95 0 1,0 3.90,0a1.95,1.95 0 1,0 -3.90,0zM615.8,317.3a1.95,1.95 0 1,0 3.90,0a1.95,1.95 0 1,0 -3.90,0zM616.9,306.8a1.95,1.95 0 1,0 3.90,0a1.95,1.95 0 1,0 -3.90,0zM617.9,319.4a1.95,1.95 0 1,0 3.90,0a1.95,1.95 0 1,0 -3.90,0zM619.4,333.0a1.95,1.95 0 1,0 3.90,0a1.95,1.95 0 1,0 -3.90,0zM620.6,301.5a1.95,1.95 0 1,0 3.90,0a1.95,1.95 0 1,0 -3.90,0zM622.1,333.0a1.95,1.95 0 1,0 3.90,0a1.95,1.95 0 1,0 -3.90,0zM624.2,301.5a1.95,1.95 0 1,0 3.90,0a1.95,1.95 0 1,0 -3.90,0zM625.3,304.7a1.95,1.95 0 1,0 3.90,0a1.95,1.95 0 1,0 -3.90,0zM626.9,308.9a1.95,1.95 0 1,0 3.90,0a1.95,1.95 0 1,0 -3.90,0zM629.0,304.7a1.95,1.95 0 1,0 3.90,0a1.95,1.95 0 1,0 -3.90,0zM630.5,321.5a1.95,1.95 0 1,0 3.90,0a1.95,1.95 0 1,0 -3.90,0zM631.6,320.4a1.95,1.95 0 1,0 3.90,0a1.95,1.95 0 1,0 -3.90,0zM632.6,314.1a1.95,1.95 0 1,0 3.90,0a1.95,1.95 0 1,0 -3.90,0zM634.1,322.5a1.95,1.95 0 1,0 3.90,0a1.95,1.95 0 1,0 -3.90,0zM635.4,327.8a1.95,1.95 0 1,0 3.90,0a1.95,1.95 0 1,0 -3.90,0zM636.2,335.1a1.95,1.95 0 1,0 3.90,0a1.95,1.95 0 1,0 -3.90,0zM637.9,306.8a1.95,1.95 0 1,0 3.90,0a1.95,1.95 0 1,0 -3.90,0zM638.9,325.7a1.95,1.95 0 1,0 3.90,0a1.95,1.95 0 1,0 -3.90,0zM640.4,322.5a1.95,1.95 0 1,0 3.90,0a1.95,1.95 0 1,0 -3.90,0zM642.1,320.4a1.95,1.95 0 1,0 3.90,0a1.95,1.95 0 1,0 -3.90,0zM643.8,319.4a1.95,1.95 0 1,0 3.90,0a1.95,1.95 0 1,0 -3.90,0zM645.2,308.9a1.95,1.95 0 1,0 3.90,0a1.95,1.95 0 1,0 -3.90,0zM646.7,309.9a1.95,1.95 0 1,0 3.90,0a1.95,1.95 0 1,0 -3.90,0zM648.4,313.1a1.95,1.95 0 1,0 3.90,0a1.95,1.95 0 1,0 -3.90,0zM649.4,314.1a1.95,1.95 0 1,0 3.90,0a1.95,1.95 0 1,0 -3.90,0zM651.5,329.9a1.95,1.95 0 1,0 3.90,0a1.95,1.95 0 1,0 -3.90,0zM653.0,325.7a1.95,1.95 0 1,0 3.90,0a1.95,1.95 0 1,0 -3.90,0zM654.7,323.6a1.95,1.95 0 1,0 3.90,0a1.95,1.95 0 1,0 -3.90,0zM655.7,319.4a1.95,1.95 0 1,0 3.90,0a1.95,1.95 0 1,0 -3.90,0zM657.2,309.9a1.95,1.95 0 1,0 3.90,0a1.95,1.95 0 1,0 -3.90,0zM658.5,320.4a1.95,1.95 0 1,0 3.90,0a1.95,1.95 0 1,0 -3.90,0zM660.6,311.0a1.95,1.95 0 1,0 3.90,0a1.95,1.95 0 1,0 -3.90,0zM662.0,320.4a1.95,1.95 0 1,0 3.90,0a1.95,1.95 0 1,0 -3.90,0zM664.1,303.6a1.95,1.95 0 1,0 3.90,0a1.95,1.95 0 1,0 -3.90,0zM665.6,325.7a1.95,1.95 0 1,0 3.90,0a1.95,1.95 0 1,0 -3.90,0zM667.3,311.0a1.95,1.95 0 1,0 3.90,0a1.95,1.95 0 1,0 -3.90,0zM668.3,299.4a1.95,1.95 0 1,0 3.90,0a1.95,1.95 0 1,0 -3.90,0zM669.8,301.5a1.95,1.95 0 1,0 3.90,0a1.95,1.95 0 1,0 -3.90,0zM671.5,314.1a1.95,1.95 0 1,0 3.90,0a1.95,1.95 0 1,0 -3.90,0zM673.2,326.7a1.95,1.95 0 1,0 3.90,0a1.95,1.95 0 1,0 -3.90,0zM674.6,309.9a1.95,1.95 0 1,0 3.90,0a1.95,1.95 0 1,0 -3.90,0zM676.1,312.0a1.95,1.95 0 1,0 3.90,0a1.95,1.95 0 1,0 -3.90,0zM677.8,320.4a1.95,1.95 0 1,0 3.90,0a1.95,1.95 0 1,0 -3.90,0zM679.5,315.2a1.95,1.95 0 1,0 3.90,0a1.95,1.95 0 1,0 -3.90,0zM680.9,316.2a1.95,1.95 0 1,0 3.90,0a1.95,1.95 0 1,0 -3.90,0zM682.4,325.7a1.95,1.95 0 1,0 3.90,0a1.95,1.95 0 1,0 -3.90,0z" fill="rgb(96,128,232)" fill-opacity="0.82"/>
<path d="M377.2,315.24L685.5,318.28" stroke="rgb(212,60,70)" stroke-width="1.0"/>
<rect x="238.0" y="14.600000000000001" width="97.70999999999998" height="50.800000000000004" fill="#fff"/>
<path d="M237.5,17.6V65.4H332.21" fill="none" stroke="#8f8f8f" stroke-width="0.9"/>
<path d="M234.9,17.6H237.5 M234.9,65.4H237.5 M236.2,29.6H237.5 M236.2,41.5H237.5 M236.2,53.5H237.5 M237.50,65.4V67.9 M246.11,65.4V67.9 M254.72,65.4V67.9 M263.33,65.4V67.9 M271.94,65.4V67.9 M280.55,65.4V67.9 M289.16,65.4V67.9 M297.77,65.4V67.9 M306.38,65.4V67.9 M314.99,65.4V67.9 M323.60,65.4V67.9 M332.21,65.4V67.9" fill="none" stroke="#555" stroke-width="0.8"/>
<text x="232.9" y="19.900000000000002" text-anchor="end" font-size="6.5" fill="#111">37° N</text>
<text x="232.9" y="67.7" text-anchor="end" font-size="6.5" fill="#111">26° N</text>
<text x="237.50" y="74.5" text-anchor="middle" font-size="6.7" fill="#111">1</text>
<text x="246.11" y="74.5" text-anchor="middle" font-size="6.7" fill="#111">2</text>
<text x="254.72" y="74.5" text-anchor="middle" font-size="6.7" fill="#111">3</text>
<text x="263.33" y="74.5" text-anchor="middle" font-size="6.7" fill="#111">4</text>
<text x="271.94" y="74.5" text-anchor="middle" font-size="6.7" fill="#111">5</text>
<text x="280.55" y="74.5" text-anchor="middle" font-size="6.7" fill="#111">6</text>
<text x="289.16" y="74.5" text-anchor="middle" font-size="6.7" fill="#111">7</text>
<text x="297.77" y="74.5" text-anchor="middle" font-size="6.7" fill="#111">8</text>
<text x="306.38" y="74.5" text-anchor="middle" font-size="6.7" fill="#111">9</text>
<text x="314.99" y="74.5" text-anchor="middle" font-size="6.7" fill="#111">10</text>
<text x="323.60" y="74.5" text-anchor="middle" font-size="6.7" fill="#111">11</text>
<text x="332.21" y="74.5" text-anchor="middle" font-size="6.7" fill="#111">12</text>
<polyline points="237.50,55.30 246.11,51.80 254.72,50.60 263.33,47.00 271.94,44.80 280.55,41.90 289.16,30.60 297.77,29.00 306.38,27.30 314.99,34.00 323.60,35.30 332.21,50.60" fill="none" stroke="#111" stroke-width="1.1" stroke-linejoin="round"/>
<path d="M236.60,55.30a0.9,0.9 0 1,0 1.8,0a0.9,0.9 0 1,0 -1.8,0zM245.21,51.80a0.9,0.9 0 1,0 1.8,0a0.9,0.9 0 1,0 -1.8,0zM253.82,50.60a0.9,0.9 0 1,0 1.8,0a0.9,0.9 0 1,0 -1.8,0zM262.43,47.00a0.9,0.9 0 1,0 1.8,0a0.9,0.9 0 1,0 -1.8,0zM271.04,44.80a0.9,0.9 0 1,0 1.8,0a0.9,0.9 0 1,0 -1.8,0zM279.65,41.90a0.9,0.9 0 1,0 1.8,0a0.9,0.9 0 1,0 -1.8,0zM288.26,30.60a0.9,0.9 0 1,0 1.8,0a0.9,0.9 0 1,0 -1.8,0zM296.87,29.00a0.9,0.9 0 1,0 1.8,0a0.9,0.9 0 1,0 -1.8,0zM305.48,27.30a0.9,0.9 0 1,0 1.8,0a0.9,0.9 0 1,0 -1.8,0zM314.09,34.00a0.9,0.9 0 1,0 1.8,0a0.9,0.9 0 1,0 -1.8,0zM322.70,35.30a0.9,0.9 0 1,0 1.8,0a0.9,0.9 0 1,0 -1.8,0zM331.31,50.60a0.9,0.9 0 1,0 1.8,0a0.9,0.9 0 1,0 -1.8,0z" fill="#111"/>
<polyline points="237.50,59.20 246.11,56.90 254.72,53.30 263.33,48.50 271.94,44.30 280.55,44.80 289.16,34.00 297.77,26.50 306.38,23.00 314.99,34.50 323.60,39.60 332.21,52.60" fill="none" stroke="rgb(240,20,20)" stroke-width="1.1" stroke-linejoin="round"/>
<path d="M236.60,59.20a0.9,0.9 0 1,0 1.8,0a0.9,0.9 0 1,0 -1.8,0zM245.21,56.90a0.9,0.9 0 1,0 1.8,0a0.9,0.9 0 1,0 -1.8,0zM253.82,53.30a0.9,0.9 0 1,0 1.8,0a0.9,0.9 0 1,0 -1.8,0zM262.43,48.50a0.9,0.9 0 1,0 1.8,0a0.9,0.9 0 1,0 -1.8,0zM271.04,44.30a0.9,0.9 0 1,0 1.8,0a0.9,0.9 0 1,0 -1.8,0zM279.65,44.80a0.9,0.9 0 1,0 1.8,0a0.9,0.9 0 1,0 -1.8,0zM288.26,34.00a0.9,0.9 0 1,0 1.8,0a0.9,0.9 0 1,0 -1.8,0zM296.87,26.50a0.9,0.9 0 1,0 1.8,0a0.9,0.9 0 1,0 -1.8,0zM305.48,23.00a0.9,0.9 0 1,0 1.8,0a0.9,0.9 0 1,0 -1.8,0zM314.09,34.50a0.9,0.9 0 1,0 1.8,0a0.9,0.9 0 1,0 -1.8,0zM322.70,39.60a0.9,0.9 0 1,0 1.8,0a0.9,0.9 0 1,0 -1.8,0zM331.31,52.60a0.9,0.9 0 1,0 1.8,0a0.9,0.9 0 1,0 -1.8,0z" fill="rgb(240,20,20)"/>
<polyline points="237.50,62.70 246.11,56.90 254.72,56.60 263.33,51.10 271.94,49.00 280.55,45.90 289.16,32.50 297.77,31.70 306.38,30.90 314.99,38.80 323.60,45.10 332.21,54.80" fill="none" stroke="rgb(60,100,225)" stroke-width="1.1" stroke-linejoin="round"/>
<path d="M236.60,62.70a0.9,0.9 0 1,0 1.8,0a0.9,0.9 0 1,0 -1.8,0zM245.21,56.90a0.9,0.9 0 1,0 1.8,0a0.9,0.9 0 1,0 -1.8,0zM253.82,56.60a0.9,0.9 0 1,0 1.8,0a0.9,0.9 0 1,0 -1.8,0zM262.43,51.10a0.9,0.9 0 1,0 1.8,0a0.9,0.9 0 1,0 -1.8,0zM271.04,49.00a0.9,0.9 0 1,0 1.8,0a0.9,0.9 0 1,0 -1.8,0zM279.65,45.90a0.9,0.9 0 1,0 1.8,0a0.9,0.9 0 1,0 -1.8,0zM288.26,32.50a0.9,0.9 0 1,0 1.8,0a0.9,0.9 0 1,0 -1.8,0zM296.87,31.70a0.9,0.9 0 1,0 1.8,0a0.9,0.9 0 1,0 -1.8,0zM305.48,30.90a0.9,0.9 0 1,0 1.8,0a0.9,0.9 0 1,0 -1.8,0zM314.09,38.80a0.9,0.9 0 1,0 1.8,0a0.9,0.9 0 1,0 -1.8,0zM322.70,45.10a0.9,0.9 0 1,0 1.8,0a0.9,0.9 0 1,0 -1.8,0zM331.31,54.80a0.9,0.9 0 1,0 1.8,0a0.9,0.9 0 1,0 -1.8,0z" fill="rgb(60,100,225)"/>
<rect x="586.0" y="14.8" width="97.10500000000002" height="50.7" fill="#fff"/>
<path d="M585.5,17.8V65.5H679.61" fill="none" stroke="#8f8f8f" stroke-width="0.9"/>
<path d="M582.9,17.8H585.5 M582.9,65.5H585.5 M584.2,29.0H585.5 M584.2,41.1H585.5 M584.2,53.7H585.5 M585.50,65.5V68.0 M594.05,65.5V68.0 M602.61,65.5V68.0 M611.16,65.5V68.0 M619.72,65.5V68.0 M628.27,65.5V68.0 M636.83,65.5V68.0 M645.38,65.5V68.0 M653.94,65.5V68.0 M662.50,65.5V68.0 M671.05,65.5V68.0 M679.61,65.5V68.0" fill="none" stroke="#555" stroke-width="0.8"/>
<text x="580.9" y="20.1" text-anchor="end" font-size="6.5" fill="#111">25° S</text>
<text x="580.9" y="67.8" text-anchor="end" font-size="6.5" fill="#111">36° S</text>
<text x="585.50" y="74.6" text-anchor="middle" font-size="6.7" fill="#111">1</text>
<text x="594.05" y="74.6" text-anchor="middle" font-size="6.7" fill="#111">2</text>
<text x="602.61" y="74.6" text-anchor="middle" font-size="6.7" fill="#111">3</text>
<text x="611.16" y="74.6" text-anchor="middle" font-size="6.7" fill="#111">4</text>
<text x="619.72" y="74.6" text-anchor="middle" font-size="6.7" fill="#111">5</text>
<text x="628.27" y="74.6" text-anchor="middle" font-size="6.7" fill="#111">6</text>
<text x="636.83" y="74.6" text-anchor="middle" font-size="6.7" fill="#111">7</text>
<text x="645.38" y="74.6" text-anchor="middle" font-size="6.7" fill="#111">8</text>
<text x="653.94" y="74.6" text-anchor="middle" font-size="6.7" fill="#111">9</text>
<text x="662.50" y="74.6" text-anchor="middle" font-size="6.7" fill="#111">10</text>
<text x="671.05" y="74.6" text-anchor="middle" font-size="6.7" fill="#111">11</text>
<text x="679.61" y="74.6" text-anchor="middle" font-size="6.7" fill="#111">12</text>
<polyline points="585.50,56.40 594.05,60.50 602.61,58.50 611.16,48.50 619.72,35.30 628.27,32.50 636.83,32.20 645.38,30.90 653.94,35.30 662.50,43.00 671.05,44.30 679.61,50.60" fill="none" stroke="#111" stroke-width="1.1" stroke-linejoin="round"/>
<path d="M584.60,56.40a0.9,0.9 0 1,0 1.8,0a0.9,0.9 0 1,0 -1.8,0zM593.15,60.50a0.9,0.9 0 1,0 1.8,0a0.9,0.9 0 1,0 -1.8,0zM601.71,58.50a0.9,0.9 0 1,0 1.8,0a0.9,0.9 0 1,0 -1.8,0zM610.26,48.50a0.9,0.9 0 1,0 1.8,0a0.9,0.9 0 1,0 -1.8,0zM618.82,35.30a0.9,0.9 0 1,0 1.8,0a0.9,0.9 0 1,0 -1.8,0zM627.38,32.50a0.9,0.9 0 1,0 1.8,0a0.9,0.9 0 1,0 -1.8,0zM635.93,32.20a0.9,0.9 0 1,0 1.8,0a0.9,0.9 0 1,0 -1.8,0zM644.49,30.90a0.9,0.9 0 1,0 1.8,0a0.9,0.9 0 1,0 -1.8,0zM653.04,35.30a0.9,0.9 0 1,0 1.8,0a0.9,0.9 0 1,0 -1.8,0zM661.60,43.00a0.9,0.9 0 1,0 1.8,0a0.9,0.9 0 1,0 -1.8,0zM670.15,44.30a0.9,0.9 0 1,0 1.8,0a0.9,0.9 0 1,0 -1.8,0zM678.71,50.60a0.9,0.9 0 1,0 1.8,0a0.9,0.9 0 1,0 -1.8,0z" fill="#111"/>
<polyline points="585.50,58.80 594.05,63.20 602.61,62.40 611.16,53.30 619.72,38.80 628.27,35.90 636.83,34.00 645.38,32.50 653.94,37.20 662.50,44.80 671.05,47.90 679.61,52.20" fill="none" stroke="rgb(240,20,20)" stroke-width="1.1" stroke-linejoin="round"/>
<path d="M584.60,58.80a0.9,0.9 0 1,0 1.8,0a0.9,0.9 0 1,0 -1.8,0zM593.15,63.20a0.9,0.9 0 1,0 1.8,0a0.9,0.9 0 1,0 -1.8,0zM601.71,62.40a0.9,0.9 0 1,0 1.8,0a0.9,0.9 0 1,0 -1.8,0zM610.26,53.30a0.9,0.9 0 1,0 1.8,0a0.9,0.9 0 1,0 -1.8,0zM618.82,38.80a0.9,0.9 0 1,0 1.8,0a0.9,0.9 0 1,0 -1.8,0zM627.38,35.90a0.9,0.9 0 1,0 1.8,0a0.9,0.9 0 1,0 -1.8,0zM635.93,34.00a0.9,0.9 0 1,0 1.8,0a0.9,0.9 0 1,0 -1.8,0zM644.49,32.50a0.9,0.9 0 1,0 1.8,0a0.9,0.9 0 1,0 -1.8,0zM653.04,37.20a0.9,0.9 0 1,0 1.8,0a0.9,0.9 0 1,0 -1.8,0zM661.60,44.80a0.9,0.9 0 1,0 1.8,0a0.9,0.9 0 1,0 -1.8,0zM670.15,47.90a0.9,0.9 0 1,0 1.8,0a0.9,0.9 0 1,0 -1.8,0zM678.71,52.20a0.9,0.9 0 1,0 1.8,0a0.9,0.9 0 1,0 -1.8,0z" fill="rgb(240,20,20)"/>
<polyline points="585.50,54.50 594.05,59.60 602.61,57.70 611.16,47.90 619.72,34.40 628.27,32.20 636.83,31.40 645.38,29.80 653.94,33.70 662.50,41.90 671.05,43.20 679.61,49.80" fill="none" stroke="rgb(60,100,225)" stroke-width="1.1" stroke-linejoin="round"/>
<path d="M584.60,54.50a0.9,0.9 0 1,0 1.8,0a0.9,0.9 0 1,0 -1.8,0zM593.15,59.60a0.9,0.9 0 1,0 1.8,0a0.9,0.9 0 1,0 -1.8,0zM601.71,57.70a0.9,0.9 0 1,0 1.8,0a0.9,0.9 0 1,0 -1.8,0zM610.26,47.90a0.9,0.9 0 1,0 1.8,0a0.9,0.9 0 1,0 -1.8,0zM618.82,34.40a0.9,0.9 0 1,0 1.8,0a0.9,0.9 0 1,0 -1.8,0zM627.38,32.20a0.9,0.9 0 1,0 1.8,0a0.9,0.9 0 1,0 -1.8,0zM635.93,31.40a0.9,0.9 0 1,0 1.8,0a0.9,0.9 0 1,0 -1.8,0zM644.49,29.80a0.9,0.9 0 1,0 1.8,0a0.9,0.9 0 1,0 -1.8,0zM653.04,33.70a0.9,0.9 0 1,0 1.8,0a0.9,0.9 0 1,0 -1.8,0zM661.60,41.90a0.9,0.9 0 1,0 1.8,0a0.9,0.9 0 1,0 -1.8,0zM670.15,43.20a0.9,0.9 0 1,0 1.8,0a0.9,0.9 0 1,0 -1.8,0zM678.71,49.80a0.9,0.9 0 1,0 1.8,0a0.9,0.9 0 1,0 -1.8,0z" fill="rgb(60,100,225)"/>
<rect x="240.0" y="207.5" width="96.995" height="50.69999999999999" fill="#fff"/>
<path d="M239.5,210.5V258.2H333.50" fill="none" stroke="#8f8f8f" stroke-width="0.9"/>
<path d="M236.9,210.5H239.5 M236.9,255.7H239.5 M238.2,221.2H239.5 M238.2,233.3H239.5 M238.2,244.4H239.5 M239.50,258.2V260.7 M248.04,258.2V260.7 M256.59,258.2V260.7 M265.13,258.2V260.7 M273.68,258.2V260.7 M282.23,258.2V260.7 M290.77,258.2V260.7 M299.31,258.2V260.7 M307.86,258.2V260.7 M316.40,258.2V260.7 M324.95,258.2V260.7 M333.50,258.2V260.7" fill="none" stroke="#555" stroke-width="0.8"/>
<text x="234.9" y="212.8" text-anchor="end" font-size="6.5" fill="#111">55° N</text>
<text x="234.9" y="258.0" text-anchor="end" font-size="6.5" fill="#111">43° N</text>
<text x="239.50" y="267.3" text-anchor="middle" font-size="6.7" fill="#111">1</text>
<text x="248.04" y="267.3" text-anchor="middle" font-size="6.7" fill="#111">2</text>
<text x="256.59" y="267.3" text-anchor="middle" font-size="6.7" fill="#111">3</text>
<text x="265.13" y="267.3" text-anchor="middle" font-size="6.7" fill="#111">4</text>
<text x="273.68" y="267.3" text-anchor="middle" font-size="6.7" fill="#111">5</text>
<text x="282.23" y="267.3" text-anchor="middle" font-size="6.7" fill="#111">6</text>
<text x="290.77" y="267.3" text-anchor="middle" font-size="6.7" fill="#111">7</text>
<text x="299.31" y="267.3" text-anchor="middle" font-size="6.7" fill="#111">8</text>
<text x="307.86" y="267.3" text-anchor="middle" font-size="6.7" fill="#111">9</text>
<text x="316.40" y="267.3" text-anchor="middle" font-size="6.7" fill="#111">10</text>
<text x="324.95" y="267.3" text-anchor="middle" font-size="6.7" fill="#111">11</text>
<text x="333.50" y="267.3" text-anchor="middle" font-size="6.7" fill="#111">12</text>
<polyline points="239.50,256.50 248.04,254.60 256.59,249.40 265.13,251.50 273.68,251.90 282.23,249.90 290.77,237.30 299.31,228.60 307.86,221.50 316.40,234.10 324.95,235.70 333.50,249.90" fill="none" stroke="rgb(240,20,20)" stroke-width="1.1" stroke-linejoin="round"/>
<path d="M238.60,256.50a0.9,0.9 0 1,0 1.8,0a0.9,0.9 0 1,0 -1.8,0zM247.14,254.60a0.9,0.9 0 1,0 1.8,0a0.9,0.9 0 1,0 -1.8,0zM255.69,249.40a0.9,0.9 0 1,0 1.8,0a0.9,0.9 0 1,0 -1.8,0zM264.24,251.50a0.9,0.9 0 1,0 1.8,0a0.9,0.9 0 1,0 -1.8,0zM272.78,251.90a0.9,0.9 0 1,0 1.8,0a0.9,0.9 0 1,0 -1.8,0zM281.33,249.90a0.9,0.9 0 1,0 1.8,0a0.9,0.9 0 1,0 -1.8,0zM289.87,237.30a0.9,0.9 0 1,0 1.8,0a0.9,0.9 0 1,0 -1.8,0zM298.42,228.60a0.9,0.9 0 1,0 1.8,0a0.9,0.9 0 1,0 -1.8,0zM306.96,221.50a0.9,0.9 0 1,0 1.8,0a0.9,0.9 0 1,0 -1.8,0zM315.50,234.10a0.9,0.9 0 1,0 1.8,0a0.9,0.9 0 1,0 -1.8,0zM324.05,235.70a0.9,0.9 0 1,0 1.8,0a0.9,0.9 0 1,0 -1.8,0zM332.60,249.90a0.9,0.9 0 1,0 1.8,0a0.9,0.9 0 1,0 -1.8,0z" fill="rgb(240,20,20)"/>
<polyline points="239.50,251.00 248.04,244.70 256.59,242.30 265.13,245.20 273.68,243.60 282.23,243.60 290.77,233.30 299.31,226.30 307.86,220.40 316.40,233.00 324.95,232.10 333.50,244.40" fill="none" stroke="#111" stroke-width="1.1" stroke-linejoin="round"/>
<path d="M238.60,251.00a0.9,0.9 0 1,0 1.8,0a0.9,0.9 0 1,0 -1.8,0zM247.14,244.70a0.9,0.9 0 1,0 1.8,0a0.9,0.9 0 1,0 -1.8,0zM255.69,242.30a0.9,0.9 0 1,0 1.8,0a0.9,0.9 0 1,0 -1.8,0zM264.24,245.20a0.9,0.9 0 1,0 1.8,0a0.9,0.9 0 1,0 -1.8,0zM272.78,243.60a0.9,0.9 0 1,0 1.8,0a0.9,0.9 0 1,0 -1.8,0zM281.33,243.60a0.9,0.9 0 1,0 1.8,0a0.9,0.9 0 1,0 -1.8,0zM289.87,233.30a0.9,0.9 0 1,0 1.8,0a0.9,0.9 0 1,0 -1.8,0zM298.42,226.30a0.9,0.9 0 1,0 1.8,0a0.9,0.9 0 1,0 -1.8,0zM306.96,220.40a0.9,0.9 0 1,0 1.8,0a0.9,0.9 0 1,0 -1.8,0zM315.50,233.00a0.9,0.9 0 1,0 1.8,0a0.9,0.9 0 1,0 -1.8,0zM324.05,232.10a0.9,0.9 0 1,0 1.8,0a0.9,0.9 0 1,0 -1.8,0zM332.60,244.40a0.9,0.9 0 1,0 1.8,0a0.9,0.9 0 1,0 -1.8,0z" fill="#111"/>
<polyline points="239.50,251.80 248.04,246.70 256.59,245.20 265.13,247.80 273.68,246.30 282.23,244.10 290.77,233.80 299.31,227.00 307.86,221.10 316.40,233.00 324.95,230.20 333.50,244.70" fill="none" stroke="rgb(60,100,225)" stroke-width="1.1" stroke-linejoin="round"/>
<path d="M238.60,251.80a0.9,0.9 0 1,0 1.8,0a0.9,0.9 0 1,0 -1.8,0zM247.14,246.70a0.9,0.9 0 1,0 1.8,0a0.9,0.9 0 1,0 -1.8,0zM255.69,245.20a0.9,0.9 0 1,0 1.8,0a0.9,0.9 0 1,0 -1.8,0zM264.24,247.80a0.9,0.9 0 1,0 1.8,0a0.9,0.9 0 1,0 -1.8,0zM272.78,246.30a0.9,0.9 0 1,0 1.8,0a0.9,0.9 0 1,0 -1.8,0zM281.33,244.10a0.9,0.9 0 1,0 1.8,0a0.9,0.9 0 1,0 -1.8,0zM289.87,233.80a0.9,0.9 0 1,0 1.8,0a0.9,0.9 0 1,0 -1.8,0zM298.42,227.00a0.9,0.9 0 1,0 1.8,0a0.9,0.9 0 1,0 -1.8,0zM306.96,221.10a0.9,0.9 0 1,0 1.8,0a0.9,0.9 0 1,0 -1.8,0zM315.50,233.00a0.9,0.9 0 1,0 1.8,0a0.9,0.9 0 1,0 -1.8,0zM324.05,230.20a0.9,0.9 0 1,0 1.8,0a0.9,0.9 0 1,0 -1.8,0zM332.60,244.70a0.9,0.9 0 1,0 1.8,0a0.9,0.9 0 1,0 -1.8,0z" fill="rgb(60,100,225)"/>
<rect x="586.0" y="208.6" width="97.26999999999998" height="50.70000000000002" fill="#fff"/>
<path d="M585.5,211.6V259.3H679.77" fill="none" stroke="#8f8f8f" stroke-width="0.9"/>
<path d="M582.9,211.6H585.5 M582.9,259.3H585.5 M584.2,223.6H585.5 M584.2,235.7H585.5 M584.2,247.5H585.5 M585.50,259.3V261.8 M594.07,259.3V261.8 M602.64,259.3V261.8 M611.21,259.3V261.8 M619.78,259.3V261.8 M628.35,259.3V261.8 M636.92,259.3V261.8 M645.49,259.3V261.8 M654.06,259.3V261.8 M662.63,259.3V261.8 M671.20,259.3V261.8 M679.77,259.3V261.8" fill="none" stroke="#555" stroke-width="0.8"/>
<text x="580.9" y="213.9" text-anchor="end" font-size="6.5" fill="#111">47° S</text>
<text x="580.9" y="261.6" text-anchor="end" font-size="6.5" fill="#111">54° S</text>
<text x="585.50" y="268.40000000000003" text-anchor="middle" font-size="6.7" fill="#111">1</text>
<text x="594.07" y="268.40000000000003" text-anchor="middle" font-size="6.7" fill="#111">2</text>
<text x="602.64" y="268.40000000000003" text-anchor="middle" font-size="6.7" fill="#111">3</text>
<text x="611.21" y="268.40000000000003" text-anchor="middle" font-size="6.7" fill="#111">4</text>
<text x="619.78" y="268.40000000000003" text-anchor="middle" font-size="6.7" fill="#111">5</text>
<text x="628.35" y="268.40000000000003" text-anchor="middle" font-size="6.7" fill="#111">6</text>
<text x="636.92" y="268.40000000000003" text-anchor="middle" font-size="6.7" fill="#111">7</text>
<text x="645.49" y="268.40000000000003" text-anchor="middle" font-size="6.7" fill="#111">8</text>
<text x="654.06" y="268.40000000000003" text-anchor="middle" font-size="6.7" fill="#111">9</text>
<text x="662.63" y="268.40000000000003" text-anchor="middle" font-size="6.7" fill="#111">10</text>
<text x="671.20" y="268.40000000000003" text-anchor="middle" font-size="6.7" fill="#111">11</text>
<text x="679.77" y="268.40000000000003" text-anchor="middle" font-size="6.7" fill="#111">12</text>
<polyline points="585.50,231.00 594.07,244.40 602.64,245.20 611.21,244.70 619.78,235.70 628.35,228.60 636.92,228.60 645.49,237.30 654.06,234.60 662.63,243.60 671.20,238.10 679.77,230.20" fill="none" stroke="rgb(240,20,20)" stroke-width="1.1" stroke-linejoin="round"/>
<path d="M584.60,231.00a0.9,0.9 0 1,0 1.8,0a0.9,0.9 0 1,0 -1.8,0zM593.17,244.40a0.9,0.9 0 1,0 1.8,0a0.9,0.9 0 1,0 -1.8,0zM601.74,245.20a0.9,0.9 0 1,0 1.8,0a0.9,0.9 0 1,0 -1.8,0zM610.31,244.70a0.9,0.9 0 1,0 1.8,0a0.9,0.9 0 1,0 -1.8,0zM618.88,235.70a0.9,0.9 0 1,0 1.8,0a0.9,0.9 0 1,0 -1.8,0zM627.45,228.60a0.9,0.9 0 1,0 1.8,0a0.9,0.9 0 1,0 -1.8,0zM636.02,228.60a0.9,0.9 0 1,0 1.8,0a0.9,0.9 0 1,0 -1.8,0zM644.59,237.30a0.9,0.9 0 1,0 1.8,0a0.9,0.9 0 1,0 -1.8,0zM653.16,234.60a0.9,0.9 0 1,0 1.8,0a0.9,0.9 0 1,0 -1.8,0zM661.73,243.60a0.9,0.9 0 1,0 1.8,0a0.9,0.9 0 1,0 -1.8,0zM670.30,238.10a0.9,0.9 0 1,0 1.8,0a0.9,0.9 0 1,0 -1.8,0zM678.87,230.20a0.9,0.9 0 1,0 1.8,0a0.9,0.9 0 1,0 -1.8,0z" fill="rgb(240,20,20)"/>
<polyline points="585.50,235.20 594.07,248.30 602.64,249.60 611.21,250.50 619.78,246.80 628.35,239.30 636.92,249.10 645.49,251.50 654.06,243.90 662.63,248.80 671.20,242.80 679.77,234.10" fill="none" stroke="#111" stroke-width="1.1" stroke-linejoin="round"/>
<path d="M584.60,235.20a0.9,0.9 0 1,0 1.8,0a0.9,0.9 0 1,0 -1.8,0zM593.17,248.30a0.9,0.9 0 1,0 1.8,0a0.9,0.9 0 1,0 -1.8,0zM601.74,249.60a0.9,0.9 0 1,0 1.8,0a0.9,0.9 0 1,0 -1.8,0zM610.31,250.50a0.9,0.9 0 1,0 1.8,0a0.9,0.9 0 1,0 -1.8,0zM618.88,246.80a0.9,0.9 0 1,0 1.8,0a0.9,0.9 0 1,0 -1.8,0zM627.45,239.30a0.9,0.9 0 1,0 1.8,0a0.9,0.9 0 1,0 -1.8,0zM636.02,249.10a0.9,0.9 0 1,0 1.8,0a0.9,0.9 0 1,0 -1.8,0zM644.59,251.50a0.9,0.9 0 1,0 1.8,0a0.9,0.9 0 1,0 -1.8,0zM653.16,243.90a0.9,0.9 0 1,0 1.8,0a0.9,0.9 0 1,0 -1.8,0zM661.73,248.80a0.9,0.9 0 1,0 1.8,0a0.9,0.9 0 1,0 -1.8,0zM670.30,242.80a0.9,0.9 0 1,0 1.8,0a0.9,0.9 0 1,0 -1.8,0zM678.87,234.10a0.9,0.9 0 1,0 1.8,0a0.9,0.9 0 1,0 -1.8,0z" fill="#111"/>
<polyline points="585.50,234.10 594.07,247.80 602.64,249.10 611.21,249.90 619.78,246.30 628.35,238.90 636.92,246.70 645.49,249.90 654.06,242.00 662.63,245.60 671.20,241.50 679.77,233.30" fill="none" stroke="rgb(60,100,225)" stroke-width="1.1" stroke-linejoin="round"/>
<path d="M584.60,234.10a0.9,0.9 0 1,0 1.8,0a0.9,0.9 0 1,0 -1.8,0zM593.17,247.80a0.9,0.9 0 1,0 1.8,0a0.9,0.9 0 1,0 -1.8,0zM601.74,249.10a0.9,0.9 0 1,0 1.8,0a0.9,0.9 0 1,0 -1.8,0zM610.31,249.90a0.9,0.9 0 1,0 1.8,0a0.9,0.9 0 1,0 -1.8,0zM618.88,246.30a0.9,0.9 0 1,0 1.8,0a0.9,0.9 0 1,0 -1.8,0zM627.45,238.90a0.9,0.9 0 1,0 1.8,0a0.9,0.9 0 1,0 -1.8,0zM636.02,246.70a0.9,0.9 0 1,0 1.8,0a0.9,0.9 0 1,0 -1.8,0zM644.59,249.90a0.9,0.9 0 1,0 1.8,0a0.9,0.9 0 1,0 -1.8,0zM653.16,242.00a0.9,0.9 0 1,0 1.8,0a0.9,0.9 0 1,0 -1.8,0zM661.73,245.60a0.9,0.9 0 1,0 1.8,0a0.9,0.9 0 1,0 -1.8,0zM670.30,241.50a0.9,0.9 0 1,0 1.8,0a0.9,0.9 0 1,0 -1.8,0zM678.87,233.30a0.9,0.9 0 1,0 1.8,0a0.9,0.9 0 1,0 -1.8,0z" fill="rgb(60,100,225)"/>
</svg></body></html>
